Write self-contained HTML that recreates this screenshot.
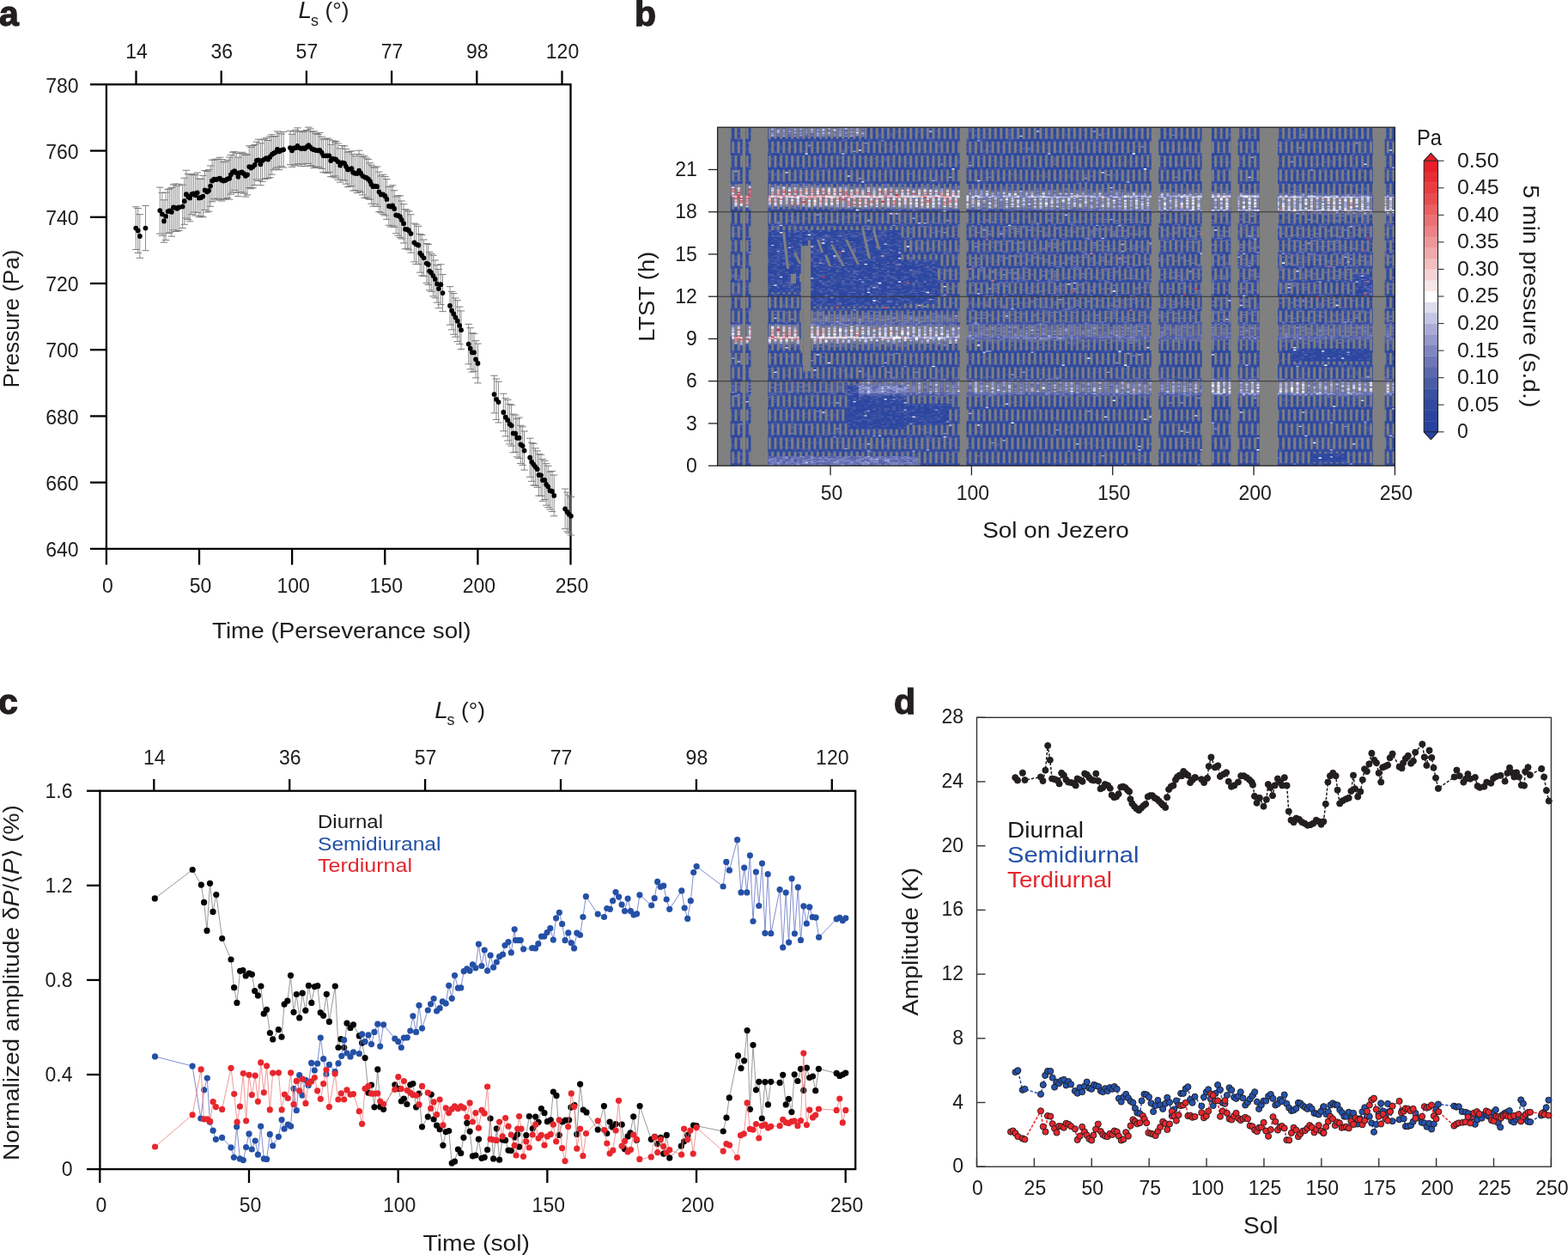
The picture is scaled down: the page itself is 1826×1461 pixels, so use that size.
<!DOCTYPE html>
<html><head><meta charset="utf-8"><title>Figure</title>
<style>html,body{margin:0;padding:0;background:#fff;} svg{display:block;}</style>
</head><body>
<svg width="1826" height="1461" viewBox="0 0 1826 1461" font-family="'Liberation Sans', Arial, sans-serif"><rect x="123.9" y="98.3" width="540.6" height="540.6" fill="none" stroke="#000" stroke-width="2.3"/>
<line x1="105.00" y1="638.90" x2="123.90" y2="638.90" stroke="#000" stroke-width="2.3" />
<text x="91.5" y="648.1" font-size="23" text-anchor="end" fill="#1c1c1c" >640</text>
<line x1="105.00" y1="561.67" x2="123.90" y2="561.67" stroke="#000" stroke-width="2.3" />
<text x="91.5" y="570.9" font-size="23" text-anchor="end" fill="#1c1c1c" >660</text>
<line x1="105.00" y1="484.44" x2="123.90" y2="484.44" stroke="#000" stroke-width="2.3" />
<text x="91.5" y="493.6" font-size="23" text-anchor="end" fill="#1c1c1c" >680</text>
<line x1="105.00" y1="407.21" x2="123.90" y2="407.21" stroke="#000" stroke-width="2.3" />
<text x="91.5" y="416.4" font-size="23" text-anchor="end" fill="#1c1c1c" >700</text>
<line x1="105.00" y1="329.99" x2="123.90" y2="329.99" stroke="#000" stroke-width="2.3" />
<text x="91.5" y="339.2" font-size="23" text-anchor="end" fill="#1c1c1c" >720</text>
<line x1="105.00" y1="252.76" x2="123.90" y2="252.76" stroke="#000" stroke-width="2.3" />
<text x="91.5" y="262.0" font-size="23" text-anchor="end" fill="#1c1c1c" >740</text>
<line x1="105.00" y1="175.53" x2="123.90" y2="175.53" stroke="#000" stroke-width="2.3" />
<text x="91.5" y="184.7" font-size="23" text-anchor="end" fill="#1c1c1c" >760</text>
<line x1="105.00" y1="98.30" x2="123.90" y2="98.30" stroke="#000" stroke-width="2.3" />
<text x="91.5" y="107.5" font-size="23" text-anchor="end" fill="#1c1c1c" >780</text>
<line x1="123.90" y1="638.90" x2="123.90" y2="657.50" stroke="#000" stroke-width="2.3" />
<text x="125.4" y="690.2" font-size="23" text-anchor="middle" fill="#1c1c1c" >0</text>
<line x1="232.02" y1="638.90" x2="232.02" y2="657.50" stroke="#000" stroke-width="2.3" />
<text x="233.5" y="690.2" font-size="23" text-anchor="middle" fill="#1c1c1c" >50</text>
<line x1="340.14" y1="638.90" x2="340.14" y2="657.50" stroke="#000" stroke-width="2.3" />
<text x="341.6" y="690.2" font-size="23" text-anchor="middle" fill="#1c1c1c" >100</text>
<line x1="448.26" y1="638.90" x2="448.26" y2="657.50" stroke="#000" stroke-width="2.3" />
<text x="449.8" y="690.2" font-size="23" text-anchor="middle" fill="#1c1c1c" >150</text>
<line x1="556.38" y1="638.90" x2="556.38" y2="657.50" stroke="#000" stroke-width="2.3" />
<text x="557.9" y="690.2" font-size="23" text-anchor="middle" fill="#1c1c1c" >200</text>
<line x1="664.50" y1="638.90" x2="664.50" y2="657.50" stroke="#000" stroke-width="2.3" />
<text x="666.0" y="690.2" font-size="23" text-anchor="middle" fill="#1c1c1c" >250</text>
<line x1="158.50" y1="82.30" x2="158.50" y2="98.30" stroke="#000" stroke-width="2.3" />
<text x="159.0" y="68.0" font-size="23" text-anchor="middle" fill="#1c1c1c" >14</text>
<line x1="257.70" y1="82.30" x2="257.70" y2="98.30" stroke="#000" stroke-width="2.3" />
<text x="258.2" y="68.0" font-size="23" text-anchor="middle" fill="#1c1c1c" >36</text>
<line x1="356.90" y1="82.30" x2="356.90" y2="98.30" stroke="#000" stroke-width="2.3" />
<text x="357.4" y="68.0" font-size="23" text-anchor="middle" fill="#1c1c1c" >57</text>
<line x1="456.10" y1="82.30" x2="456.10" y2="98.30" stroke="#000" stroke-width="2.3" />
<text x="456.6" y="68.0" font-size="23" text-anchor="middle" fill="#1c1c1c" >77</text>
<line x1="555.30" y1="82.30" x2="555.30" y2="98.30" stroke="#000" stroke-width="2.3" />
<text x="555.8" y="68.0" font-size="23" text-anchor="middle" fill="#1c1c1c" >98</text>
<line x1="654.50" y1="82.30" x2="654.50" y2="98.30" stroke="#000" stroke-width="2.3" />
<text x="655.0" y="68.0" font-size="23" text-anchor="middle" fill="#1c1c1c" >120</text>
<text x="247.0" y="742.9" font-size="26" text-anchor="start" fill="#1c1c1c" textLength="301.5" lengthAdjust="spacingAndGlyphs" >Time (Perseverance sol)</text>
<text x="21.6" y="451.5" font-size="26" text-anchor="start" fill="#1c1c1c" textLength="161.0" lengthAdjust="spacingAndGlyphs" transform="rotate(-90 21.6 451.5)" >Pressure (Pa)</text>
<text x="347.6" y="21.4" font-size="28" text-anchor="start" fill="#1c1c1c" font-style="italic" >L</text>
<text x="362.0" y="29.6" font-size="18" text-anchor="start" fill="#1c1c1c" >s</text>
<text x="378.5" y="21.4" font-size="26.5" text-anchor="start" fill="#1c1c1c" textLength="28.0" lengthAdjust="spacingAndGlyphs" >(°)</text>
<text x="-1.0" y="29.7" font-size="41" text-anchor="start" fill="#231f20" font-weight="bold" stroke="#231f20" stroke-width="1.3">a</text>
<path d="M158.23 240.73V290.44M160.65 242.48V294.39M162.78 249.65V300.32M169.47 239.41V291.76M186.28 218.12V272.05M188.84 224.47V274.24M190.98 232.78V282.17M193.11 224.02V279.53M195.53 220.47V271.69M197.67 219.85V270.88M199.80 218.45V275.13M201.94 214.99V267.77M204.08 214.06V269.56M206.21 216.39V269.22M208.35 214.37V268.40M212.62 215.18V265.59M214.75 207.26V261.26M216.89 198.28V254.01M219.03 202.41V255.58M221.16 203.02V257.81M223.30 202.59V249.70M225.43 203.84V247.03M227.57 203.31V250.97M229.71 201.00V247.59M231.84 208.06V252.78M233.98 208.50V251.48M236.40 204.39V252.74M238.53 198.53V244.36M241.10 199.59V247.00M243.23 197.65V246.09M245.08 192.92V240.29M247.08 186.13V234.84M249.35 186.11V231.44M251.78 185.09V233.03M253.91 185.53V231.17M256.05 183.23V232.04M258.18 185.55V233.99M260.32 188.78V232.19M262.74 187.94V231.60M265.02 186.26V230.44M267.15 183.14V232.13M268.86 180.57V226.16M271.00 177.11V223.92M273.13 176.73V221.45M275.27 178.20V224.25M277.41 183.15V228.42M279.54 178.71V223.75M281.68 177.24V223.79M283.81 178.67V225.21M285.95 180.49V229.09M288.08 179.78V226.95M290.22 169.73V218.49M292.36 171.38V219.68M294.49 169.53V218.69M296.63 168.42V215.52M298.76 165.07V208.90M300.90 162.12V210.44M303.46 166.76V215.76M305.46 162.69V211.29M308.02 162.06V208.50M310.16 160.45V207.83M312.29 163.49V207.63M314.43 158.65V206.78M316.56 156.63V203.11M318.70 159.05V197.84M320.83 158.53V196.08M322.97 152.90V194.88M325.11 154.94V197.68M327.67 156.04V193.73M330.09 153.33V195.02M337.92 152.29V191.79M340.06 156.29V194.33M342.19 153.04V191.89M344.33 151.28V192.79M346.46 148.86V190.95M348.60 153.31V190.76M350.74 152.71V193.36M352.87 153.74V191.19M355.01 152.42V193.65M357.14 151.51V190.57M359.28 148.12V190.26M361.42 149.98V192.67M363.55 153.45V193.48M365.69 152.78V195.57M367.82 155.42V194.35M370.39 156.50V194.13M372.38 154.61V195.16M374.66 159.05V196.42M376.65 162.14V200.45M379.21 161.55V201.04M381.35 160.98V201.60M383.49 162.26V200.33M385.19 168.27V205.71M387.76 163.82V205.88M389.89 165.80V204.76M391.23 164.44V207.01M393.70 167.08V209.30M396.16 172.85V212.16M398.62 169.53V209.31M401.09 169.98V210.10M402.94 173.33V214.14M405.03 177.16V217.70M407.25 176.65V216.98M409.47 175.86V216.54M411.19 179.52V221.99M413.41 181.72V221.76M415.87 179.41V224.57M418.09 175.16V222.17M420.18 179.78V223.71M422.28 182.66V226.99M424.50 181.73V230.38M426.71 184.05V229.79M428.81 185.56V231.47M430.90 189.74V232.22M432.50 192.15V237.21M434.60 194.09V240.20M436.82 195.26V237.80M439.28 193.97V240.31M441.50 200.08V246.52M443.59 204.99V247.78M446.06 203.18V249.59M448.52 205.54V250.92M450.37 208.55V255.30M452.83 217.61V262.26M455.05 217.09V264.01M457.14 215.76V262.88M459.24 221.74V264.29M461.21 229.01V271.80M463.67 227.66V274.38M465.77 227.98V276.53M467.61 233.94V277.96M470.08 237.60V282.92M471.93 243.70V289.89M474.39 244.81V289.26M476.24 246.15V290.88M478.46 249.76V294.17M482.40 260.06V304.82M484.62 261.18V307.39M487.33 263.36V307.68M489.17 272.35V317.17M491.27 273.55V320.89M493.49 279.01V321.59M496.80 283.58V329.62M498.80 284.45V331.55M500.10 293.41V337.79M502.30 295.59V339.41M504.50 297.33V344.87M506.70 302.93V346.87M508.90 308.60V352.20M510.80 313.51V358.69M513.30 307.77V354.63M515.50 319.57V362.63M524.00 333.67V378.13M526.10 339.33V383.87M528.30 341.54V389.26M530.50 347.00V392.20M532.70 349.77V397.63M535.20 357.16V400.64M537.00 361.92V406.48M545.67 377.34V423.90M547.72 381.72V429.78M549.77 387.73V433.01M552.03 388.45V432.29M554.09 396.69V439.87M556.45 400.10V445.89M575.52 437.22V480.84M577.96 441.00V488.56M580.55 444.21V491.97M586.30 458.22V501.80M588.74 463.67V507.86M591.33 465.43V512.99M593.49 470.41V516.92M595.64 471.61V519.17M597.65 482.14V526.75M600.24 483.12V526.35M602.11 487.63V531.90M604.55 486.03V533.50M606.28 495.31V539.45M608.58 496.80V541.42M610.59 502.03V547.10M617.20 510.22V555.30M619.21 515.28V560.30M621.37 516.52V564.81M623.52 521.84V565.24M625.68 524.91V567.34M627.55 528.67V577.10M629.99 529.30V577.32M631.86 534.56V583.27M634.30 536.33V581.51M636.17 539.71V588.18M638.33 542.37V590.70M640.48 549.22V593.05M642.93 548.41V595.58M645.23 553.01V600.76M658.16 569.08V615.72M660.60 573.14V618.86M662.47 576.31V620.57M664.92 578.45V623.03" stroke="#8e8e8e" stroke-width="1" fill="none"/>
<path d="M154.03 240.73h8.4M154.03 290.44h8.4M156.45 242.48h8.4M156.45 294.39h8.4M158.58 249.65h8.4M158.58 300.32h8.4M165.27 239.41h8.4M165.27 291.76h8.4M182.08 218.12h8.4M182.08 272.05h8.4M184.64 224.47h8.4M184.64 274.24h8.4M186.78 232.78h8.4M186.78 282.17h8.4M188.91 224.02h8.4M188.91 279.53h8.4M191.33 220.47h8.4M191.33 271.69h8.4M193.47 219.85h8.4M193.47 270.88h8.4M195.60 218.45h8.4M195.60 275.13h8.4M197.74 214.99h8.4M197.74 267.77h8.4M199.88 214.06h8.4M199.88 269.56h8.4M202.01 216.39h8.4M202.01 269.22h8.4M204.15 214.37h8.4M204.15 268.40h8.4M208.42 215.18h8.4M208.42 265.59h8.4M210.55 207.26h8.4M210.55 261.26h8.4M212.69 198.28h8.4M212.69 254.01h8.4M214.83 202.41h8.4M214.83 255.58h8.4M216.96 203.02h8.4M216.96 257.81h8.4M219.10 202.59h8.4M219.10 249.70h8.4M221.23 203.84h8.4M221.23 247.03h8.4M223.37 203.31h8.4M223.37 250.97h8.4M225.51 201.00h8.4M225.51 247.59h8.4M227.64 208.06h8.4M227.64 252.78h8.4M229.78 208.50h8.4M229.78 251.48h8.4M232.20 204.39h8.4M232.20 252.74h8.4M234.33 198.53h8.4M234.33 244.36h8.4M236.90 199.59h8.4M236.90 247.00h8.4M239.03 197.65h8.4M239.03 246.09h8.4M240.88 192.92h8.4M240.88 240.29h8.4M242.88 186.13h8.4M242.88 234.84h8.4M245.15 186.11h8.4M245.15 231.44h8.4M247.58 185.09h8.4M247.58 233.03h8.4M249.71 185.53h8.4M249.71 231.17h8.4M251.85 183.23h8.4M251.85 232.04h8.4M253.98 185.55h8.4M253.98 233.99h8.4M256.12 188.78h8.4M256.12 232.19h8.4M258.54 187.94h8.4M258.54 231.60h8.4M260.82 186.26h8.4M260.82 230.44h8.4M262.95 183.14h8.4M262.95 232.13h8.4M264.66 180.57h8.4M264.66 226.16h8.4M266.80 177.11h8.4M266.80 223.92h8.4M268.93 176.73h8.4M268.93 221.45h8.4M271.07 178.20h8.4M271.07 224.25h8.4M273.21 183.15h8.4M273.21 228.42h8.4M275.34 178.71h8.4M275.34 223.75h8.4M277.48 177.24h8.4M277.48 223.79h8.4M279.61 178.67h8.4M279.61 225.21h8.4M281.75 180.49h8.4M281.75 229.09h8.4M283.88 179.78h8.4M283.88 226.95h8.4M286.02 169.73h8.4M286.02 218.49h8.4M288.16 171.38h8.4M288.16 219.68h8.4M290.29 169.53h8.4M290.29 218.69h8.4M292.43 168.42h8.4M292.43 215.52h8.4M294.56 165.07h8.4M294.56 208.90h8.4M296.70 162.12h8.4M296.70 210.44h8.4M299.26 166.76h8.4M299.26 215.76h8.4M301.26 162.69h8.4M301.26 211.29h8.4M303.82 162.06h8.4M303.82 208.50h8.4M305.96 160.45h8.4M305.96 207.83h8.4M308.09 163.49h8.4M308.09 207.63h8.4M310.23 158.65h8.4M310.23 206.78h8.4M312.36 156.63h8.4M312.36 203.11h8.4M314.50 159.05h8.4M314.50 197.84h8.4M316.63 158.53h8.4M316.63 196.08h8.4M318.77 152.90h8.4M318.77 194.88h8.4M320.91 154.94h8.4M320.91 197.68h8.4M323.47 156.04h8.4M323.47 193.73h8.4M325.89 153.33h8.4M325.89 195.02h8.4M333.72 152.29h8.4M333.72 191.79h8.4M335.86 156.29h8.4M335.86 194.33h8.4M337.99 153.04h8.4M337.99 191.89h8.4M340.13 151.28h8.4M340.13 192.79h8.4M342.26 148.86h8.4M342.26 190.95h8.4M344.40 153.31h8.4M344.40 190.76h8.4M346.54 152.71h8.4M346.54 193.36h8.4M348.67 153.74h8.4M348.67 191.19h8.4M350.81 152.42h8.4M350.81 193.65h8.4M352.94 151.51h8.4M352.94 190.57h8.4M355.08 148.12h8.4M355.08 190.26h8.4M357.22 149.98h8.4M357.22 192.67h8.4M359.35 153.45h8.4M359.35 193.48h8.4M361.49 152.78h8.4M361.49 195.57h8.4M363.62 155.42h8.4M363.62 194.35h8.4M366.19 156.50h8.4M366.19 194.13h8.4M368.18 154.61h8.4M368.18 195.16h8.4M370.46 159.05h8.4M370.46 196.42h8.4M372.45 162.14h8.4M372.45 200.45h8.4M375.01 161.55h8.4M375.01 201.04h8.4M377.15 160.98h8.4M377.15 201.60h8.4M379.29 162.26h8.4M379.29 200.33h8.4M380.99 168.27h8.4M380.99 205.71h8.4M383.56 163.82h8.4M383.56 205.88h8.4M385.69 165.80h8.4M385.69 204.76h8.4M387.03 164.44h8.4M387.03 207.01h8.4M389.50 167.08h8.4M389.50 209.30h8.4M391.96 172.85h8.4M391.96 212.16h8.4M394.42 169.53h8.4M394.42 209.31h8.4M396.89 169.98h8.4M396.89 210.10h8.4M398.74 173.33h8.4M398.74 214.14h8.4M400.83 177.16h8.4M400.83 217.70h8.4M403.05 176.65h8.4M403.05 216.98h8.4M405.27 175.86h8.4M405.27 216.54h8.4M406.99 179.52h8.4M406.99 221.99h8.4M409.21 181.72h8.4M409.21 221.76h8.4M411.67 179.41h8.4M411.67 224.57h8.4M413.89 175.16h8.4M413.89 222.17h8.4M415.98 179.78h8.4M415.98 223.71h8.4M418.08 182.66h8.4M418.08 226.99h8.4M420.30 181.73h8.4M420.30 230.38h8.4M422.51 184.05h8.4M422.51 229.79h8.4M424.61 185.56h8.4M424.61 231.47h8.4M426.70 189.74h8.4M426.70 232.22h8.4M428.30 192.15h8.4M428.30 237.21h8.4M430.40 194.09h8.4M430.40 240.20h8.4M432.62 195.26h8.4M432.62 237.80h8.4M435.08 193.97h8.4M435.08 240.31h8.4M437.30 200.08h8.4M437.30 246.52h8.4M439.39 204.99h8.4M439.39 247.78h8.4M441.86 203.18h8.4M441.86 249.59h8.4M444.32 205.54h8.4M444.32 250.92h8.4M446.17 208.55h8.4M446.17 255.30h8.4M448.63 217.61h8.4M448.63 262.26h8.4M450.85 217.09h8.4M450.85 264.01h8.4M452.94 215.76h8.4M452.94 262.88h8.4M455.04 221.74h8.4M455.04 264.29h8.4M457.01 229.01h8.4M457.01 271.80h8.4M459.47 227.66h8.4M459.47 274.38h8.4M461.57 227.98h8.4M461.57 276.53h8.4M463.41 233.94h8.4M463.41 277.96h8.4M465.88 237.60h8.4M465.88 282.92h8.4M467.73 243.70h8.4M467.73 289.89h8.4M470.19 244.81h8.4M470.19 289.26h8.4M472.04 246.15h8.4M472.04 290.88h8.4M474.26 249.76h8.4M474.26 294.17h8.4M478.20 260.06h8.4M478.20 304.82h8.4M480.42 261.18h8.4M480.42 307.39h8.4M483.13 263.36h8.4M483.13 307.68h8.4M484.97 272.35h8.4M484.97 317.17h8.4M487.07 273.55h8.4M487.07 320.89h8.4M489.29 279.01h8.4M489.29 321.59h8.4M492.60 283.58h8.4M492.60 329.62h8.4M494.60 284.45h8.4M494.60 331.55h8.4M495.90 293.41h8.4M495.90 337.79h8.4M498.10 295.59h8.4M498.10 339.41h8.4M500.30 297.33h8.4M500.30 344.87h8.4M502.50 302.93h8.4M502.50 346.87h8.4M504.70 308.60h8.4M504.70 352.20h8.4M506.60 313.51h8.4M506.60 358.69h8.4M509.10 307.77h8.4M509.10 354.63h8.4M511.30 319.57h8.4M511.30 362.63h8.4M519.80 333.67h8.4M519.80 378.13h8.4M521.90 339.33h8.4M521.90 383.87h8.4M524.10 341.54h8.4M524.10 389.26h8.4M526.30 347.00h8.4M526.30 392.20h8.4M528.50 349.77h8.4M528.50 397.63h8.4M531.00 357.16h8.4M531.00 400.64h8.4M532.80 361.92h8.4M532.80 406.48h8.4M541.47 377.34h8.4M541.47 423.90h8.4M543.52 381.72h8.4M543.52 429.78h8.4M545.57 387.73h8.4M545.57 433.01h8.4M547.83 388.45h8.4M547.83 432.29h8.4M549.89 396.69h8.4M549.89 439.87h8.4M552.25 400.10h8.4M552.25 445.89h8.4M571.32 437.22h8.4M571.32 480.84h8.4M573.76 441.00h8.4M573.76 488.56h8.4M576.35 444.21h8.4M576.35 491.97h8.4M582.10 458.22h8.4M582.10 501.80h8.4M584.54 463.67h8.4M584.54 507.86h8.4M587.13 465.43h8.4M587.13 512.99h8.4M589.29 470.41h8.4M589.29 516.92h8.4M591.44 471.61h8.4M591.44 519.17h8.4M593.45 482.14h8.4M593.45 526.75h8.4M596.04 483.12h8.4M596.04 526.35h8.4M597.91 487.63h8.4M597.91 531.90h8.4M600.35 486.03h8.4M600.35 533.50h8.4M602.08 495.31h8.4M602.08 539.45h8.4M604.38 496.80h8.4M604.38 541.42h8.4M606.39 502.03h8.4M606.39 547.10h8.4M613.00 510.22h8.4M613.00 555.30h8.4M615.01 515.28h8.4M615.01 560.30h8.4M617.17 516.52h8.4M617.17 564.81h8.4M619.32 521.84h8.4M619.32 565.24h8.4M621.48 524.91h8.4M621.48 567.34h8.4M623.35 528.67h8.4M623.35 577.10h8.4M625.79 529.30h8.4M625.79 577.32h8.4M627.66 534.56h8.4M627.66 583.27h8.4M630.10 536.33h8.4M630.10 581.51h8.4M631.97 539.71h8.4M631.97 588.18h8.4M634.13 542.37h8.4M634.13 590.70h8.4M636.28 549.22h8.4M636.28 593.05h8.4M638.73 548.41h8.4M638.73 595.58h8.4M641.03 553.01h8.4M641.03 600.76h8.4M653.96 569.08h8.4M653.96 615.72h8.4M656.40 573.14h8.4M656.40 618.86h8.4M658.27 576.31h8.4M658.27 620.57h8.4M660.72 578.45h8.4M660.72 623.03h8.4" stroke="#7c7c7c" stroke-width="1" fill="none"/>
<g fill="#000"><circle cx="158.23" cy="265.59" r="2.9"/><circle cx="160.65" cy="268.44" r="2.9"/><circle cx="162.78" cy="274.99" r="2.9"/><circle cx="169.47" cy="265.59" r="2.9"/><circle cx="186.28" cy="245.08" r="2.9"/><circle cx="188.84" cy="249.35" r="2.9"/><circle cx="190.98" cy="257.47" r="2.9"/><circle cx="193.11" cy="251.78" r="2.9"/><circle cx="195.53" cy="246.08" r="2.9"/><circle cx="197.67" cy="245.37" r="2.9"/><circle cx="199.80" cy="246.79" r="2.9"/><circle cx="201.94" cy="241.38" r="2.9"/><circle cx="204.08" cy="241.81" r="2.9"/><circle cx="206.21" cy="242.81" r="2.9"/><circle cx="208.35" cy="241.38" r="2.9"/><circle cx="212.62" cy="240.38" r="2.9"/><circle cx="214.75" cy="234.26" r="2.9"/><circle cx="216.89" cy="226.15" r="2.9"/><circle cx="219.03" cy="228.99" r="2.9"/><circle cx="221.16" cy="230.42" r="2.9"/><circle cx="223.30" cy="226.15" r="2.9"/><circle cx="225.43" cy="225.43" r="2.9"/><circle cx="227.57" cy="227.14" r="2.9"/><circle cx="229.71" cy="224.29" r="2.9"/><circle cx="231.84" cy="230.42" r="2.9"/><circle cx="233.98" cy="229.99" r="2.9"/><circle cx="236.40" cy="228.57" r="2.9"/><circle cx="238.53" cy="221.45" r="2.9"/><circle cx="241.10" cy="223.30" r="2.9"/><circle cx="243.23" cy="221.87" r="2.9"/><circle cx="245.08" cy="216.61" r="2.9"/><circle cx="247.08" cy="210.48" r="2.9"/><circle cx="249.35" cy="208.77" r="2.9"/><circle cx="251.78" cy="209.06" r="2.9"/><circle cx="253.91" cy="208.35" r="2.9"/><circle cx="256.05" cy="207.63" r="2.9"/><circle cx="258.18" cy="209.77" r="2.9"/><circle cx="260.32" cy="210.48" r="2.9"/><circle cx="262.74" cy="209.77" r="2.9"/><circle cx="265.02" cy="208.35" r="2.9"/><circle cx="267.15" cy="207.63" r="2.9"/><circle cx="268.86" cy="203.36" r="2.9"/><circle cx="271.00" cy="200.52" r="2.9"/><circle cx="273.13" cy="199.09" r="2.9"/><circle cx="275.27" cy="201.23" r="2.9"/><circle cx="277.41" cy="205.78" r="2.9"/><circle cx="279.54" cy="201.23" r="2.9"/><circle cx="281.68" cy="200.52" r="2.9"/><circle cx="283.81" cy="201.94" r="2.9"/><circle cx="285.95" cy="204.79" r="2.9"/><circle cx="288.08" cy="203.36" r="2.9"/><circle cx="290.22" cy="194.11" r="2.9"/><circle cx="292.36" cy="195.53" r="2.9"/><circle cx="294.49" cy="194.11" r="2.9"/><circle cx="296.63" cy="191.97" r="2.9"/><circle cx="298.76" cy="186.99" r="2.9"/><circle cx="300.90" cy="186.28" r="2.9"/><circle cx="303.46" cy="191.26" r="2.9"/><circle cx="305.46" cy="186.99" r="2.9"/><circle cx="308.02" cy="185.28" r="2.9"/><circle cx="310.16" cy="184.14" r="2.9"/><circle cx="312.29" cy="185.56" r="2.9"/><circle cx="314.43" cy="182.72" r="2.9"/><circle cx="316.56" cy="179.87" r="2.9"/><circle cx="318.70" cy="178.45" r="2.9"/><circle cx="320.83" cy="177.31" r="2.9"/><circle cx="322.97" cy="173.89" r="2.9"/><circle cx="325.11" cy="176.31" r="2.9"/><circle cx="327.67" cy="174.89" r="2.9"/><circle cx="330.09" cy="174.17" r="2.9"/><circle cx="337.92" cy="172.04" r="2.9"/><circle cx="340.06" cy="175.31" r="2.9"/><circle cx="342.19" cy="172.46" r="2.9"/><circle cx="344.33" cy="172.04" r="2.9"/><circle cx="346.46" cy="169.90" r="2.9"/><circle cx="348.60" cy="172.04" r="2.9"/><circle cx="350.74" cy="173.03" r="2.9"/><circle cx="352.87" cy="172.46" r="2.9"/><circle cx="355.01" cy="173.03" r="2.9"/><circle cx="357.14" cy="171.04" r="2.9"/><circle cx="359.28" cy="169.19" r="2.9"/><circle cx="361.42" cy="171.33" r="2.9"/><circle cx="363.55" cy="173.46" r="2.9"/><circle cx="365.69" cy="174.17" r="2.9"/><circle cx="367.82" cy="174.89" r="2.9"/><circle cx="370.39" cy="175.31" r="2.9"/><circle cx="372.38" cy="174.89" r="2.9"/><circle cx="374.66" cy="177.73" r="2.9"/><circle cx="376.65" cy="181.29" r="2.9"/><circle cx="379.21" cy="181.29" r="2.9"/><circle cx="381.35" cy="181.29" r="2.9"/><circle cx="383.49" cy="181.29" r="2.9"/><circle cx="385.19" cy="186.99" r="2.9"/><circle cx="387.76" cy="184.85" r="2.9"/><circle cx="389.89" cy="185.28" r="2.9"/><circle cx="391.23" cy="185.73" r="2.9"/><circle cx="393.70" cy="188.19" r="2.9"/><circle cx="396.16" cy="192.50" r="2.9"/><circle cx="398.62" cy="189.42" r="2.9"/><circle cx="401.09" cy="190.04" r="2.9"/><circle cx="402.94" cy="193.74" r="2.9"/><circle cx="405.03" cy="197.43" r="2.9"/><circle cx="407.25" cy="196.82" r="2.9"/><circle cx="409.47" cy="196.20" r="2.9"/><circle cx="411.19" cy="200.76" r="2.9"/><circle cx="413.41" cy="201.74" r="2.9"/><circle cx="415.87" cy="201.99" r="2.9"/><circle cx="418.09" cy="198.66" r="2.9"/><circle cx="420.18" cy="201.74" r="2.9"/><circle cx="422.28" cy="204.82" r="2.9"/><circle cx="424.50" cy="206.06" r="2.9"/><circle cx="426.71" cy="206.92" r="2.9"/><circle cx="428.81" cy="208.52" r="2.9"/><circle cx="430.90" cy="210.98" r="2.9"/><circle cx="432.50" cy="214.68" r="2.9"/><circle cx="434.60" cy="217.14" r="2.9"/><circle cx="436.82" cy="216.53" r="2.9"/><circle cx="439.28" cy="217.14" r="2.9"/><circle cx="441.50" cy="223.30" r="2.9"/><circle cx="443.59" cy="226.38" r="2.9"/><circle cx="446.06" cy="226.38" r="2.9"/><circle cx="448.52" cy="228.23" r="2.9"/><circle cx="450.37" cy="231.93" r="2.9"/><circle cx="452.83" cy="239.93" r="2.9"/><circle cx="455.05" cy="240.55" r="2.9"/><circle cx="457.14" cy="239.32" r="2.9"/><circle cx="459.24" cy="243.01" r="2.9"/><circle cx="461.21" cy="250.41" r="2.9"/><circle cx="463.67" cy="251.02" r="2.9"/><circle cx="465.77" cy="252.25" r="2.9"/><circle cx="467.61" cy="255.95" r="2.9"/><circle cx="470.08" cy="260.26" r="2.9"/><circle cx="471.93" cy="266.79" r="2.9"/><circle cx="474.39" cy="267.04" r="2.9"/><circle cx="476.24" cy="268.52" r="2.9"/><circle cx="478.46" cy="271.97" r="2.9"/><circle cx="482.40" cy="282.44" r="2.9"/><circle cx="484.62" cy="284.29" r="2.9"/><circle cx="487.33" cy="285.52" r="2.9"/><circle cx="489.17" cy="294.76" r="2.9"/><circle cx="491.27" cy="297.22" r="2.9"/><circle cx="493.49" cy="300.30" r="2.9"/><circle cx="496.80" cy="306.60" r="2.9"/><circle cx="498.80" cy="308.00" r="2.9"/><circle cx="500.10" cy="315.60" r="2.9"/><circle cx="502.30" cy="317.50" r="2.9"/><circle cx="504.50" cy="321.10" r="2.9"/><circle cx="506.70" cy="324.90" r="2.9"/><circle cx="508.90" cy="330.40" r="2.9"/><circle cx="510.80" cy="336.10" r="2.9"/><circle cx="513.30" cy="331.20" r="2.9"/><circle cx="515.50" cy="341.10" r="2.9"/><circle cx="524.00" cy="355.90" r="2.9"/><circle cx="526.10" cy="361.60" r="2.9"/><circle cx="528.30" cy="365.40" r="2.9"/><circle cx="530.50" cy="369.60" r="2.9"/><circle cx="532.70" cy="373.70" r="2.9"/><circle cx="535.20" cy="378.90" r="2.9"/><circle cx="537.00" cy="384.20" r="2.9"/><circle cx="545.67" cy="400.62" r="2.9"/><circle cx="547.72" cy="405.75" r="2.9"/><circle cx="549.77" cy="410.37" r="2.9"/><circle cx="552.03" cy="410.37" r="2.9"/><circle cx="554.09" cy="418.28" r="2.9"/><circle cx="556.45" cy="423.00" r="2.9"/><circle cx="575.52" cy="459.03" r="2.9"/><circle cx="577.96" cy="464.78" r="2.9"/><circle cx="580.55" cy="468.09" r="2.9"/><circle cx="586.30" cy="480.01" r="2.9"/><circle cx="588.74" cy="485.76" r="2.9"/><circle cx="591.33" cy="489.21" r="2.9"/><circle cx="593.49" cy="493.67" r="2.9"/><circle cx="595.64" cy="495.39" r="2.9"/><circle cx="597.65" cy="504.45" r="2.9"/><circle cx="600.24" cy="504.73" r="2.9"/><circle cx="602.11" cy="509.76" r="2.9"/><circle cx="604.55" cy="509.76" r="2.9"/><circle cx="606.28" cy="517.38" r="2.9"/><circle cx="608.58" cy="519.11" r="2.9"/><circle cx="610.59" cy="524.57" r="2.9"/><circle cx="617.20" cy="532.76" r="2.9"/><circle cx="619.21" cy="537.79" r="2.9"/><circle cx="621.37" cy="540.66" r="2.9"/><circle cx="623.52" cy="543.54" r="2.9"/><circle cx="625.68" cy="546.13" r="2.9"/><circle cx="627.55" cy="552.88" r="2.9"/><circle cx="629.99" cy="553.31" r="2.9"/><circle cx="631.86" cy="558.92" r="2.9"/><circle cx="634.30" cy="558.92" r="2.9"/><circle cx="636.17" cy="563.95" r="2.9"/><circle cx="638.33" cy="566.53" r="2.9"/><circle cx="640.48" cy="571.13" r="2.9"/><circle cx="642.93" cy="571.99" r="2.9"/><circle cx="645.23" cy="576.88" r="2.9"/><circle cx="658.16" cy="592.40" r="2.9"/><circle cx="660.60" cy="596.00" r="2.9"/><circle cx="662.47" cy="598.44" r="2.9"/><circle cx="664.92" cy="600.74" r="2.9"/></g>
<defs><clipPath id="hc"><rect x="835.6" y="148.2" width="788.8" height="394.0"/></clipPath>
<pattern id="slit" patternUnits="userSpaceOnUse" x="835.60" y="542.20" width="6.5733" height="32.8333"><rect x="3.407" y="16.417" width="3.050" height="13.626" fill="#808080"/><rect x="0.12" y="0" width="3.050" height="13.626" fill="#808080"/></pattern></defs>
<g clip-path="url(#hc)">
<rect x="835.6" y="148.2" width="788.8" height="394.0" fill="#2c47a2"/>
<rect x="835.6" y="108.19999999999999" width="788.8" height="474.0" fill="url(#slit)"/>
<rect x="894.8" y="268.0" width="46.0" height="72.2" fill="#2c47a2"/>
<rect x="944.1" y="268.0" width="105.2" height="88.7" fill="#2c47a2"/>
<rect x="1049.2" y="302.5" width="42.7" height="50.9" fill="#2c47a2"/>
<rect x="986.8" y="448.6" width="69.0" height="50.9" fill="#2c47a2"/>
<rect x="1055.8" y="470.0" width="49.3" height="24.6" fill="#2c47a2"/>
<rect x="894.8" y="531.5" width="170.9" height="10.7" fill="#2c47a2"/>
<rect x="1525.8" y="527.9" width="42.7" height="10.0" fill="#2c47a2"/>
<rect x="1578.4" y="318.9" width="19.7" height="23.0" fill="#2c47a2"/>
<rect x="1502.8" y="405.9" width="92.0" height="14.8" fill="#2c47a2"/>
<g transform="translate(835.6 542.2) scale(3.28667 -1.36806)">
<path fill="#3a50a0" d="M5 15h1v1h-1zM5 22h1v1h-1zM5 40h1v1h-1zM5 45h1v1h-1zM5 47h1v1h-1zM5 60h1v1h-1zM5 66h1v1h-1zM5 69h1v1h-1zM5 95h1v1h-1zM5 165h1v1h-1zM5 167h1v1h-1zM5 180h1v1h-1zM5 185h1v1h-1zM5 239h1v2h-1zM5 257h1v1h-1zM5 259h1v1h-1zM5 277h1v1h-1zM5 282h1v1h-1zM5 287h1v1h-1zM6 0h1v1h-1zM6 4h1v1h-1zM6 32h1v1h-1zM6 35h1v1h-1zM6 49h1v1h-1zM6 52h1v1h-1zM6 77h1v2h-1zM6 81h1v1h-1zM6 84h1v1h-1zM6 97h1v1h-1zM6 99h1v1h-1zM6 102h1v1h-1zM6 125h1v2h-1zM6 128h1v1h-1zM6 131h1v2h-1zM6 196h1v1h-1zM6 198h1v3h-1zM6 216h1v1h-1zM6 265h1v3h-1zM6 269h1v1h-1zM6 273h1v1h-1zM7 16h1v1h-1zM7 19h1v2h-1zM7 23h1v1h-1zM7 38h1v1h-1zM7 44h1v1h-1zM7 47h1v2h-1zM7 63h1v1h-1zM7 68h1v2h-1zM7 87h1v1h-1zM7 96h1v2h-1zM7 132h1v1h-1zM7 135h1v1h-1zM7 166h1v1h-1zM7 168h1v1h-1zM7 183h1v1h-1zM7 191h1v1h-1zM7 207h1v1h-1zM7 213h1v1h-1zM7 240h1v1h-1zM7 257h1v1h-1zM7 264h1v1h-1zM7 279h1v1h-1zM7 283h1v1h-1zM7 285h1v1h-1zM7 287h1v1h-1zM8 5h1v1h-1zM8 24h1v1h-1zM8 29h1v1h-1zM8 57h1v1h-1zM8 77h1v1h-1zM8 80h1v1h-1zM8 82h1v2h-1zM8 97h1v2h-1zM8 122h1v1h-1zM8 131h1v2h-1zM8 151h1v2h-1zM8 154h1v1h-1zM8 178h1v1h-1zM8 195h1v1h-1zM8 198h1v2h-1zM8 246h1v1h-1zM8 251h1v1h-1zM8 268h1v2h-1zM8 274h1v1h-1zM10 4h1v1h-1zM10 7h1v1h-1zM10 11h1v2h-1zM10 27h1v1h-1zM10 29h1v1h-1zM10 31h1v1h-1zM10 33h1v1h-1zM10 48h1v1h-1zM10 58h1v1h-1zM10 73h1v1h-1zM10 75h1v1h-1zM10 82h1v2h-1zM10 124h1v1h-1zM10 144h1v1h-1zM10 147h1v1h-1zM10 153h1v1h-1zM10 155h1v3h-1zM10 168h1v2h-1zM10 172h1v1h-1zM10 177h1v1h-1zM10 196h1v1h-1zM10 202h1v2h-1zM10 205h1v1h-1zM10 216h1v2h-1zM10 240h1v1h-1zM10 245h1v1h-1zM10 252h1v1h-1zM10 265h1v1h-1zM10 267h1v1h-1zM10 270h1v1h-1zM11 0h1v1h-1zM11 16h1v1h-1zM11 39h1v1h-1zM11 144h1v1h-1zM11 159h1v1h-1zM11 205h1v1h-1zM11 208h1v1h-1zM11 216h1v1h-1zM11 255h1v1h-1zM11 258h1v1h-1zM18 9h1v1h-1zM18 11h1v1h-1zM18 13h1v1h-1zM18 26h1v1h-1zM18 28h1v1h-1zM18 61h1v1h-1zM18 73h1v1h-1zM18 76h1v1h-1zM18 98h1v1h-1zM18 102h1v1h-1zM18 121h1v1h-1zM18 126h1v1h-1zM18 129h1v1h-1zM18 131h1v2h-1zM18 157h1v1h-1zM18 170h1v1h-1zM18 181h1v1h-1zM18 184h1v1h-1zM18 203h1v1h-1zM18 205h1v1h-1zM18 217h1v1h-1zM18 245h1v3h-1zM18 251h1v1h-1zM18 266h1v2h-1zM18 274h1v1h-1zM19 13h1v1h-1zM19 18h1v2h-1zM19 38h1v1h-1zM19 42h1v2h-1zM19 47h1v1h-1zM19 60h1v1h-1zM19 62h1v1h-1zM19 72h1v1h-1zM19 85h1v1h-1zM19 121h1v1h-1zM19 137h1v1h-1zM19 139h1v1h-1zM19 151h1v1h-1zM19 154h1v2h-1zM19 169h1v1h-1zM19 181h1v1h-1zM19 191h1v1h-1zM19 198h1v1h-1zM19 207h1v2h-1zM19 241h1v1h-1zM19 255h1v1h-1zM19 257h1v1h-1zM19 264h1v1h-1zM20 34h1v1h-1zM20 75h1v1h-1zM20 82h1v1h-1zM20 84h1v1h-1zM20 97h1v1h-1zM20 102h1v1h-1zM20 126h1v1h-1zM20 129h1v1h-1zM20 146h1v1h-1zM20 157h1v2h-1zM20 160h1v2h-1zM20 181h1v1h-1zM20 183h1v2h-1zM20 190h1v1h-1zM20 193h1v1h-1zM20 198h1v1h-1zM20 216h1v1h-1zM20 219h1v1h-1zM20 242h1v1h-1zM20 244h1v1h-1zM20 272h1v1h-1zM21 13h1v1h-1zM21 22h1v2h-1zM21 64h1v1h-1zM21 66h1v2h-1zM21 70h1v1h-1zM21 86h1v1h-1zM21 139h1v1h-1zM21 145h1v1h-1zM21 155h1v2h-1zM21 158h1v1h-1zM21 160h1v1h-1zM21 163h1v1h-1zM21 175h1v1h-1zM21 177h1v1h-1zM21 185h1v1h-1zM21 188h1v1h-1zM21 190h1v2h-1zM21 197h1v1h-1zM21 213h1v1h-1zM21 216h1v1h-1zM21 240h1v1h-1zM21 255h1v1h-1zM21 257h1v1h-1zM21 259h1v1h-1zM22 8h1v1h-1zM22 13h1v1h-1zM22 26h1v1h-1zM22 29h1v1h-1zM22 33h1v1h-1zM22 36h1v1h-1zM22 48h1v1h-1zM22 50h1v1h-1zM22 53h1v1h-1zM22 58h1v1h-1zM22 60h1v1h-1zM22 82h1v1h-1zM22 122h1v1h-1zM22 125h1v1h-1zM22 128h1v1h-1zM22 154h1v1h-1zM22 156h1v1h-1zM22 166h1v1h-1zM22 172h1v1h-1zM22 176h1v2h-1zM22 184h1v1h-1zM22 189h1v2h-1zM22 194h1v1h-1zM22 216h1v1h-1zM22 219h1v1h-1zM22 243h1v1h-1zM22 249h1v1h-1zM22 264h1v1h-1zM22 270h1v1h-1zM22 273h1v1h-1zM23 36h1v2h-1zM23 39h1v2h-1zM23 42h1v1h-1zM23 46h1v1h-1zM23 62h1v1h-1zM23 64h1v2h-1zM23 67h1v2h-1zM23 70h1v1h-1zM23 72h1v1h-1zM23 84h1v1h-1zM23 95h1v1h-1zM23 120h1v1h-1zM23 133h1v1h-1zM23 151h1v1h-1zM23 170h1v1h-1zM23 179h1v1h-1zM23 181h1v1h-1zM23 186h1v1h-1zM23 190h1v2h-1zM23 193h1v2h-1zM23 204h1v2h-1zM23 215h1v1h-1zM23 217h1v1h-1zM23 261h1v1h-1zM23 265h1v1h-1zM23 276h1v2h-1zM24 9h1v1h-1zM24 33h1v1h-1zM24 52h1v1h-1zM24 75h1v1h-1zM24 79h1v1h-1zM24 82h1v1h-1zM24 97h1v1h-1zM24 101h1v1h-1zM24 124h1v1h-1zM24 131h1v1h-1zM24 151h1v1h-1zM24 162h1v1h-1zM24 175h1v1h-1zM24 184h1v1h-1zM24 191h1v1h-1zM24 197h1v1h-1zM24 202h1v2h-1zM24 219h1v1h-1zM24 244h1v1h-1zM24 247h1v1h-1zM24 250h1v1h-1zM24 264h1v1h-1zM24 267h1v2h-1zM24 272h1v1h-1zM25 14h1v1h-1zM25 19h1v1h-1zM25 25h1v1h-1zM25 38h1v1h-1zM25 43h1v1h-1zM25 47h1v1h-1zM25 64h1v1h-1zM25 66h1v1h-1zM25 68h1v1h-1zM25 73h1v1h-1zM25 86h1v1h-1zM25 133h1v2h-1zM25 136h1v2h-1zM25 143h1v1h-1zM25 156h1v1h-1zM25 160h1v1h-1zM25 177h1v1h-1zM25 180h1v1h-1zM25 188h1v1h-1zM25 190h1v1h-1zM25 209h1v1h-1zM25 211h1v1h-1zM25 260h1v1h-1zM25 277h1v1h-1zM26 8h1v1h-1zM26 11h1v1h-1zM26 28h1v1h-1zM26 55h1v1h-1zM26 57h1v2h-1zM26 77h1v1h-1zM26 84h1v2h-1zM26 97h1v1h-1zM26 100h1v1h-1zM26 120h1v1h-1zM26 122h1v1h-1zM26 125h1v2h-1zM26 128h1v1h-1zM26 144h1v1h-1zM26 157h1v1h-1zM26 161h1v1h-1zM26 177h1v1h-1zM26 183h1v1h-1zM26 187h1v1h-1zM26 189h1v1h-1zM26 192h1v1h-1zM26 198h1v1h-1zM26 204h1v1h-1zM26 246h1v1h-1zM26 264h1v1h-1zM26 270h1v1h-1zM26 273h1v1h-1zM26 277h1v1h-1zM27 12h1v1h-1zM27 14h1v1h-1zM27 37h1v1h-1zM27 39h1v2h-1zM27 44h1v1h-1zM27 65h1v1h-1zM27 68h1v1h-1zM27 72h1v1h-1zM27 84h1v1h-1zM27 87h1v1h-1zM27 96h1v1h-1zM27 121h1v1h-1zM27 135h1v1h-1zM27 150h1v1h-1zM27 162h1v1h-1zM27 166h1v2h-1zM27 181h1v1h-1zM27 186h1v1h-1zM27 190h1v1h-1zM27 194h1v2h-1zM27 205h1v1h-1zM27 210h1v1h-1zM27 252h1v1h-1zM27 263h1v1h-1zM27 277h1v1h-1zM27 279h1v1h-1zM28 10h1v1h-1zM28 28h1v1h-1zM28 33h1v1h-1zM28 73h1v1h-1zM28 76h1v1h-1zM28 79h1v1h-1zM28 127h1v1h-1zM28 145h1v2h-1zM28 153h1v1h-1zM28 158h1v1h-1zM28 164h1v1h-1zM28 169h1v1h-1zM28 177h1v1h-1zM28 182h1v1h-1zM28 189h1v1h-1zM28 217h1v1h-1zM28 242h1v1h-1zM28 247h1v1h-1zM28 249h1v4h-1zM28 268h1v2h-1zM28 273h1v1h-1zM28 275h1v1h-1zM29 12h1v1h-1zM29 36h1v1h-1zM29 38h1v1h-1zM29 45h1v1h-1zM29 62h1v1h-1zM29 71h1v1h-1zM29 86h1v1h-1zM29 95h1v1h-1zM29 189h1v2h-1zM29 212h1v1h-1zM29 238h1v1h-1zM29 252h1v1h-1zM30 11h1v2h-1zM30 33h1v1h-1zM30 54h1v1h-1zM30 57h1v1h-1zM30 60h1v1h-1zM30 78h1v1h-1zM30 192h1v1h-1zM30 200h1v1h-1zM30 203h1v1h-1zM30 217h1v1h-1zM30 266h1v1h-1zM30 269h1v1h-1zM30 271h1v2h-1zM30 274h1v1h-1zM30 277h1v1h-1zM31 12h1v2h-1zM31 16h1v1h-1zM31 22h1v1h-1zM31 36h1v1h-1zM31 40h1v1h-1zM31 43h1v1h-1zM31 60h1v1h-1zM31 65h1v2h-1zM31 70h1v2h-1zM31 73h1v1h-1zM31 187h1v2h-1zM31 191h1v1h-1zM31 209h1v1h-1zM31 252h1v1h-1zM31 262h1v1h-1zM32 28h1v1h-1zM32 52h1v2h-1zM32 57h1v1h-1zM32 60h1v1h-1zM32 72h1v1h-1zM32 78h1v2h-1zM32 249h1v1h-1zM32 251h1v1h-1zM33 39h1v1h-1zM33 65h1v1h-1zM33 68h1v1h-1zM33 70h1v1h-1zM33 88h1v1h-1zM33 95h1v1h-1zM33 139h1v2h-1zM33 147h1v1h-1zM33 171h1v1h-1zM33 180h1v1h-1zM33 187h1v1h-1zM33 204h1v1h-1zM33 240h1v1h-1zM33 252h1v1h-1zM33 260h1v1h-1zM33 262h1v1h-1zM34 11h1v2h-1zM34 25h1v1h-1zM34 28h1v1h-1zM34 36h1v2h-1zM34 48h1v1h-1zM34 57h1v1h-1zM34 98h1v2h-1zM34 131h1v1h-1zM34 133h1v1h-1zM34 149h1v1h-1zM34 156h1v1h-1zM34 158h1v2h-1zM34 173h1v1h-1zM34 181h1v1h-1zM34 187h1v1h-1zM34 203h1v2h-1zM34 243h1v1h-1zM34 250h1v1h-1zM34 271h1v1h-1zM35 18h1v1h-1zM35 21h1v1h-1zM35 25h1v1h-1zM35 45h1v1h-1zM35 49h1v1h-1zM35 63h1v1h-1zM35 67h1v1h-1zM35 69h1v1h-1zM35 72h1v1h-1zM35 93h1v1h-1zM35 97h1v1h-1zM35 133h1v1h-1zM35 144h1v1h-1zM35 148h1v2h-1zM35 160h1v1h-1zM35 169h1v1h-1zM35 187h1v1h-1zM35 193h1v1h-1zM35 197h1v1h-1zM35 204h1v1h-1zM35 207h1v1h-1zM35 211h1v1h-1zM35 252h1v1h-1zM36 10h1v1h-1zM36 32h1v1h-1zM36 35h1v1h-1zM36 51h1v1h-1zM36 56h1v2h-1zM36 59h1v1h-1zM36 80h1v1h-1zM36 85h1v1h-1zM36 131h1v1h-1zM36 139h1v1h-1zM36 143h1v1h-1zM36 150h1v1h-1zM36 162h1v1h-1zM36 169h1v1h-1zM36 183h1v1h-1zM36 192h1v1h-1zM36 203h1v1h-1zM36 216h1v1h-1zM36 244h1v1h-1zM36 248h1v1h-1zM36 250h1v1h-1zM36 269h1v1h-1zM37 13h1v2h-1zM37 39h1v2h-1zM37 64h1v3h-1zM37 68h1v1h-1zM37 73h1v1h-1zM37 87h1v1h-1zM37 90h1v1h-1zM37 94h1v1h-1zM37 137h1v1h-1zM37 139h1v1h-1zM37 143h1v1h-1zM37 147h1v2h-1zM37 178h1v2h-1zM37 185h1v1h-1zM37 188h1v1h-1zM37 190h1v1h-1zM37 209h1v1h-1zM37 258h1v3h-1zM37 263h1v1h-1zM37 277h1v2h-1zM38 25h1v1h-1zM38 27h1v1h-1zM38 35h1v1h-1zM38 51h1v1h-1zM38 56h1v3h-1zM38 78h1v2h-1zM38 82h1v1h-1zM38 98h1v1h-1zM38 100h1v1h-1zM38 132h1v1h-1zM38 136h1v1h-1zM38 155h1v1h-1zM38 161h1v2h-1zM38 165h1v1h-1zM38 170h1v1h-1zM38 172h1v1h-1zM38 175h1v1h-1zM38 193h1v1h-1zM38 200h1v1h-1zM38 250h1v1h-1zM38 264h1v1h-1zM38 266h1v1h-1zM38 268h1v1h-1zM38 274h1v1h-1zM39 16h1v1h-1zM39 18h1v1h-1zM39 21h1v1h-1zM39 40h1v1h-1zM39 46h1v1h-1zM39 48h1v1h-1zM39 67h1v1h-1zM39 70h1v1h-1zM39 85h1v1h-1zM39 95h1v3h-1zM39 133h1v1h-1zM39 136h1v1h-1zM39 144h1v2h-1zM39 152h1v2h-1zM39 164h1v1h-1zM39 174h1v1h-1zM39 183h1v2h-1zM39 186h1v2h-1zM39 190h1v1h-1zM39 193h1v1h-1zM39 213h1v1h-1zM39 256h1v1h-1zM39 258h1v1h-1zM39 265h1v1h-1zM40 30h1v1h-1zM40 32h1v1h-1zM40 54h1v1h-1zM40 57h1v1h-1zM40 84h1v1h-1zM40 98h1v1h-1zM40 129h1v1h-1zM40 146h1v1h-1zM40 159h1v1h-1zM40 162h1v3h-1zM40 180h1v1h-1zM40 182h1v1h-1zM40 191h1v1h-1zM40 196h1v1h-1zM40 200h1v1h-1zM40 202h1v1h-1zM40 216h1v1h-1zM40 218h1v1h-1zM40 244h1v1h-1zM40 246h1v1h-1zM40 250h1v1h-1zM40 266h1v1h-1zM41 14h1v1h-1zM41 22h1v1h-1zM41 25h1v1h-1zM41 39h1v3h-1zM41 44h1v1h-1zM41 87h1v1h-1zM41 89h1v1h-1zM41 134h1v1h-1zM41 139h1v1h-1zM41 145h1v1h-1zM41 148h1v1h-1zM41 158h1v2h-1zM41 173h1v1h-1zM41 181h1v1h-1zM41 183h1v1h-1zM41 212h1v1h-1zM41 214h1v1h-1zM41 241h1v1h-1zM41 259h1v3h-1zM41 277h1v1h-1zM41 279h1v1h-1zM42 12h1v1h-1zM42 57h1v1h-1zM42 73h1v1h-1zM42 77h1v1h-1zM42 79h1v1h-1zM42 81h1v1h-1zM42 99h1v1h-1zM42 129h1v2h-1zM42 140h1v1h-1zM42 148h1v1h-1zM42 156h1v3h-1zM42 160h1v1h-1zM42 164h1v1h-1zM42 167h1v1h-1zM42 177h1v1h-1zM42 180h1v1h-1zM42 182h1v1h-1zM42 192h1v2h-1zM42 197h1v2h-1zM42 247h1v1h-1zM42 264h1v1h-1zM42 266h1v1h-1zM43 14h1v1h-1zM43 19h1v1h-1zM43 36h1v1h-1zM43 44h1v2h-1zM43 62h1v1h-1zM43 68h1v1h-1zM43 84h1v1h-1zM43 135h1v1h-1zM43 140h1v1h-1zM43 156h1v1h-1zM43 161h1v1h-1zM43 171h1v1h-1zM43 183h1v1h-1zM43 188h1v1h-1zM43 199h1v1h-1zM43 238h1v4h-1zM43 257h1v2h-1zM44 27h1v1h-1zM44 49h1v2h-1zM44 78h1v1h-1zM44 83h1v1h-1zM44 130h1v1h-1zM44 133h1v1h-1zM44 148h1v1h-1zM44 156h1v1h-1zM44 174h1v2h-1zM44 186h1v1h-1zM44 188h1v2h-1zM44 194h1v2h-1zM44 197h1v1h-1zM44 199h1v1h-1zM44 218h1v1h-1zM44 251h1v1h-1zM44 264h1v1h-1zM44 277h1v1h-1zM45 38h1v1h-1zM45 46h1v1h-1zM45 60h1v1h-1zM45 65h1v1h-1zM45 67h1v1h-1zM45 70h1v1h-1zM45 91h1v1h-1zM45 136h1v1h-1zM45 150h1v2h-1zM45 155h1v1h-1zM45 158h1v1h-1zM45 164h1v1h-1zM45 168h1v1h-1zM45 183h1v1h-1zM45 190h1v1h-1zM45 192h1v1h-1zM45 208h1v1h-1zM45 256h1v1h-1zM45 258h1v1h-1zM45 262h1v2h-1zM45 279h1v1h-1zM46 11h1v1h-1zM46 28h1v3h-1zM46 34h1v1h-1zM46 40h1v1h-1zM46 44h1v2h-1zM46 53h1v1h-1zM46 58h1v1h-1zM46 79h1v1h-1zM46 83h1v1h-1zM46 101h1v1h-1zM46 132h1v1h-1zM46 139h1v1h-1zM46 148h1v1h-1zM46 159h1v3h-1zM46 163h1v1h-1zM46 166h1v1h-1zM46 170h1v1h-1zM46 173h1v1h-1zM46 177h1v1h-1zM46 186h1v2h-1zM46 202h1v1h-1zM46 249h1v2h-1zM46 252h1v1h-1zM46 268h1v1h-1zM46 275h1v1h-1zM47 20h1v1h-1zM47 25h1v1h-1zM47 36h1v1h-1zM47 39h1v1h-1zM47 41h1v1h-1zM47 47h1v1h-1zM47 49h1v1h-1zM47 59h1v1h-1zM47 63h1v1h-1zM47 67h1v1h-1zM47 93h1v1h-1zM47 133h1v1h-1zM47 135h1v2h-1zM47 141h1v1h-1zM47 143h1v2h-1zM47 150h1v1h-1zM47 157h1v2h-1zM47 162h1v2h-1zM47 175h1v1h-1zM47 189h1v1h-1zM47 205h1v1h-1zM47 212h1v1h-1zM47 215h1v1h-1zM47 239h1v2h-1zM47 252h1v1h-1zM47 257h1v2h-1zM47 276h1v1h-1zM48 8h1v1h-1zM48 35h1v1h-1zM48 40h1v1h-1zM48 44h1v1h-1zM48 55h1v1h-1zM48 63h1v3h-1zM48 67h1v1h-1zM48 81h1v1h-1zM48 83h1v1h-1zM48 143h1v1h-1zM48 157h1v1h-1zM48 161h1v1h-1zM48 174h1v1h-1zM48 179h1v1h-1zM48 185h1v1h-1zM48 190h1v1h-1zM48 198h1v1h-1zM48 205h1v1h-1zM48 218h1v1h-1zM48 249h1v2h-1zM48 266h1v1h-1zM48 268h1v1h-1zM48 273h1v1h-1zM49 16h1v1h-1zM49 21h1v1h-1zM49 24h1v1h-1zM49 37h1v1h-1zM49 45h1v1h-1zM49 55h1v2h-1zM49 65h1v2h-1zM49 85h1v1h-1zM49 89h1v1h-1zM49 95h1v1h-1zM49 133h1v2h-1zM49 149h1v2h-1zM49 168h1v1h-1zM49 174h1v1h-1zM49 177h1v1h-1zM49 181h1v2h-1zM49 197h1v1h-1zM49 204h1v2h-1zM49 240h1v1h-1zM49 256h1v1h-1zM49 259h1v1h-1zM49 265h1v1h-1zM50 25h1v1h-1zM50 27h1v1h-1zM50 29h1v1h-1zM50 42h1v1h-1zM50 44h1v1h-1zM50 49h1v1h-1zM50 73h1v1h-1zM50 75h1v1h-1zM50 77h1v1h-1zM50 79h1v1h-1zM50 128h1v1h-1zM50 137h1v1h-1zM50 139h1v3h-1zM50 148h1v1h-1zM50 152h1v2h-1zM50 164h1v1h-1zM50 171h1v1h-1zM50 185h1v1h-1zM50 188h1v1h-1zM50 193h1v2h-1zM50 196h1v1h-1zM50 201h1v1h-1zM50 205h1v1h-1zM50 240h1v2h-1zM50 243h1v1h-1zM50 245h1v1h-1zM50 248h1v1h-1zM50 264h1v2h-1zM50 267h1v1h-1zM50 271h1v2h-1zM51 12h1v2h-1zM51 16h1v1h-1zM51 23h1v1h-1zM51 34h1v1h-1zM51 40h1v1h-1zM51 44h1v1h-1zM51 52h1v1h-1zM51 54h1v1h-1zM51 57h1v1h-1zM51 73h1v1h-1zM51 85h1v1h-1zM51 88h1v1h-1zM51 93h1v1h-1zM51 97h1v1h-1zM51 134h1v1h-1zM51 147h1v1h-1zM51 158h1v1h-1zM51 167h1v1h-1zM51 176h1v1h-1zM51 179h1v1h-1zM51 182h1v1h-1zM51 186h1v2h-1zM51 190h1v2h-1zM51 193h1v1h-1zM51 195h1v1h-1zM51 197h1v1h-1zM51 204h1v1h-1zM51 215h1v1h-1zM51 217h1v1h-1zM51 252h1v1h-1zM51 254h1v1h-1zM51 262h1v1h-1zM51 276h1v1h-1zM52 12h1v2h-1zM52 25h1v2h-1zM52 31h1v1h-1zM52 43h1v1h-1zM52 58h1v1h-1zM52 74h1v1h-1zM52 80h1v1h-1zM52 130h1v1h-1zM52 137h1v1h-1zM52 155h1v1h-1zM52 162h1v1h-1zM52 165h1v2h-1zM52 168h1v1h-1zM52 173h1v1h-1zM52 178h1v1h-1zM52 180h1v1h-1zM52 190h1v1h-1zM52 193h1v1h-1zM52 198h1v1h-1zM52 200h1v1h-1zM52 217h1v1h-1zM52 251h1v1h-1zM52 268h1v1h-1zM52 271h1v1h-1zM53 15h1v2h-1zM53 19h1v1h-1zM53 31h1v1h-1zM53 36h1v1h-1zM53 44h1v1h-1zM53 59h1v1h-1zM53 88h1v1h-1zM53 94h1v1h-1zM53 139h1v1h-1zM53 154h1v1h-1zM53 160h1v1h-1zM53 169h1v1h-1zM53 174h1v2h-1zM53 211h1v1h-1zM53 260h1v1h-1zM53 276h1v1h-1zM53 279h1v1h-1zM53 281h1v1h-1zM54 26h1v1h-1zM54 29h1v3h-1zM54 38h1v3h-1zM54 42h1v2h-1zM54 56h1v1h-1zM54 58h1v1h-1zM54 96h1v1h-1zM54 100h1v1h-1zM54 102h1v1h-1zM54 133h1v1h-1zM54 141h1v1h-1zM54 144h1v1h-1zM54 164h1v1h-1zM54 179h1v3h-1zM54 185h1v1h-1zM54 187h1v1h-1zM54 204h1v1h-1zM54 241h1v3h-1zM54 249h1v1h-1zM54 276h1v1h-1zM55 14h1v1h-1zM55 34h1v1h-1zM55 44h1v1h-1zM55 50h1v1h-1zM55 56h1v1h-1zM55 84h1v1h-1zM55 92h1v3h-1zM55 132h1v1h-1zM55 154h1v2h-1zM55 159h1v1h-1zM55 161h1v1h-1zM55 179h1v1h-1zM55 192h1v1h-1zM55 194h1v1h-1zM55 207h1v1h-1zM55 209h1v1h-1zM55 213h1v1h-1zM55 215h1v1h-1zM55 240h1v1h-1zM55 256h1v1h-1zM55 262h1v1h-1zM55 284h1v1h-1zM56 34h1v2h-1zM56 40h1v1h-1zM56 42h1v1h-1zM56 44h1v2h-1zM56 49h1v1h-1zM56 52h1v1h-1zM56 54h1v1h-1zM56 58h1v1h-1zM56 73h1v1h-1zM56 77h1v1h-1zM56 98h1v1h-1zM56 137h1v1h-1zM56 144h1v1h-1zM56 146h1v1h-1zM56 148h1v1h-1zM56 159h1v1h-1zM56 161h1v3h-1zM56 177h1v1h-1zM56 187h1v1h-1zM56 252h1v1h-1zM56 265h1v1h-1zM56 273h1v1h-1zM56 276h1v1h-1zM57 13h1v1h-1zM57 18h1v1h-1zM57 41h1v2h-1zM57 45h1v1h-1zM57 49h1v1h-1zM57 51h1v1h-1zM57 73h1v1h-1zM57 87h1v3h-1zM57 93h1v1h-1zM57 95h1v1h-1zM57 97h1v1h-1zM57 138h1v1h-1zM57 141h1v1h-1zM57 143h1v1h-1zM57 149h1v1h-1zM57 151h1v1h-1zM57 175h1v1h-1zM57 177h1v1h-1zM57 189h1v1h-1zM57 193h1v1h-1zM57 206h1v1h-1zM57 214h1v1h-1zM57 240h1v1h-1zM57 255h1v1h-1zM57 259h1v2h-1zM57 282h1v1h-1zM58 28h1v2h-1zM58 31h1v1h-1zM58 42h1v1h-1zM58 50h1v1h-1zM58 52h1v1h-1zM58 57h1v1h-1zM58 76h1v1h-1zM58 99h1v2h-1zM58 130h1v1h-1zM58 141h1v1h-1zM58 145h1v1h-1zM58 156h1v2h-1zM58 165h1v1h-1zM58 170h1v1h-1zM58 173h1v1h-1zM58 176h1v4h-1zM58 183h1v1h-1zM58 188h1v1h-1zM58 191h1v1h-1zM58 194h1v1h-1zM58 200h1v1h-1zM58 204h1v1h-1zM58 243h1v1h-1zM58 247h1v1h-1zM58 251h1v1h-1zM58 265h1v1h-1zM58 274h1v2h-1zM59 15h1v1h-1zM59 19h1v1h-1zM59 37h1v3h-1zM59 45h1v2h-1zM59 53h1v1h-1zM59 73h1v1h-1zM59 84h1v1h-1zM59 88h1v1h-1zM59 92h1v2h-1zM59 97h1v1h-1zM59 134h1v1h-1zM59 140h1v1h-1zM59 142h1v1h-1zM59 161h1v1h-1zM59 163h1v1h-1zM59 173h1v1h-1zM59 176h1v1h-1zM59 178h1v1h-1zM59 193h1v2h-1zM59 197h1v2h-1zM59 205h1v1h-1zM59 209h1v1h-1zM59 211h1v1h-1zM59 214h1v1h-1zM59 240h1v1h-1zM59 253h1v2h-1zM59 282h1v1h-1zM59 285h1v1h-1zM60 11h1v1h-1zM60 29h1v2h-1zM60 47h1v1h-1zM60 54h1v1h-1zM60 76h1v1h-1zM60 100h1v1h-1zM60 132h1v1h-1zM60 141h1v1h-1zM60 148h1v1h-1zM60 158h1v1h-1zM60 166h1v1h-1zM60 174h1v1h-1zM60 189h1v1h-1zM60 195h1v1h-1zM60 202h1v1h-1zM60 217h1v2h-1zM60 246h1v1h-1zM60 249h1v1h-1zM60 252h1v1h-1zM61 19h1v1h-1zM61 38h1v1h-1zM61 45h1v1h-1zM61 72h1v1h-1zM61 85h1v1h-1zM61 89h1v1h-1zM61 92h1v1h-1zM61 134h1v1h-1zM61 138h1v1h-1zM61 143h1v1h-1zM61 150h1v2h-1zM61 159h1v1h-1zM61 161h1v1h-1zM61 164h1v1h-1zM61 190h1v1h-1zM61 194h1v1h-1zM61 199h1v1h-1zM61 208h1v1h-1zM61 216h1v1h-1zM61 239h1v1h-1zM61 253h1v1h-1zM61 257h1v1h-1zM61 261h1v1h-1zM61 285h1v1h-1zM62 33h1v1h-1zM62 38h1v1h-1zM62 54h1v1h-1zM62 79h1v2h-1zM62 84h1v1h-1zM62 96h1v1h-1zM62 128h1v1h-1zM62 133h1v1h-1zM62 145h1v1h-1zM62 155h1v1h-1zM62 157h1v1h-1zM62 161h1v1h-1zM62 168h1v1h-1zM62 170h1v1h-1zM62 176h1v1h-1zM62 179h1v1h-1zM62 181h1v1h-1zM62 183h1v1h-1zM62 194h1v1h-1zM62 202h1v1h-1zM62 247h1v1h-1zM62 275h1v1h-1zM63 12h1v2h-1zM63 18h1v3h-1zM63 22h1v1h-1zM63 31h1v1h-1zM63 43h1v1h-1zM63 53h1v1h-1zM63 56h1v1h-1zM63 59h1v1h-1zM63 73h1v1h-1zM63 85h1v1h-1zM63 133h1v1h-1zM63 135h1v1h-1zM63 145h1v1h-1zM63 147h1v2h-1zM63 152h1v1h-1zM63 160h1v1h-1zM63 166h1v1h-1zM63 172h1v1h-1zM63 190h1v2h-1zM63 193h1v1h-1zM63 195h1v1h-1zM63 198h1v1h-1zM63 212h1v1h-1zM63 239h1v1h-1zM63 258h1v1h-1zM63 264h1v1h-1zM63 276h1v1h-1zM63 278h1v1h-1zM63 283h1v1h-1zM64 9h1v2h-1zM64 12h1v1h-1zM64 25h1v1h-1zM64 34h1v1h-1zM64 37h1v1h-1zM64 47h1v2h-1zM64 53h1v1h-1zM64 58h1v2h-1zM64 79h1v1h-1zM64 84h1v1h-1zM64 130h1v1h-1zM64 132h1v1h-1zM64 139h1v2h-1zM64 167h1v1h-1zM64 183h1v1h-1zM64 189h1v1h-1zM64 195h1v1h-1zM64 201h1v3h-1zM64 242h1v1h-1zM64 251h1v1h-1zM64 253h1v1h-1zM64 264h1v1h-1zM64 266h1v2h-1zM64 270h1v1h-1zM65 12h1v1h-1zM65 19h1v1h-1zM65 31h1v1h-1zM65 39h1v1h-1zM65 53h1v1h-1zM65 57h1v1h-1zM65 73h1v1h-1zM65 84h1v1h-1zM65 93h1v3h-1zM65 136h1v1h-1zM65 139h1v1h-1zM65 149h1v1h-1zM65 154h1v2h-1zM65 159h1v2h-1zM65 166h1v1h-1zM65 170h1v1h-1zM65 180h1v1h-1zM65 184h1v1h-1zM65 188h1v1h-1zM65 191h1v1h-1zM65 240h1v1h-1zM65 265h1v1h-1zM65 276h1v1h-1zM65 287h1v1h-1zM66 29h1v1h-1zM66 35h1v1h-1zM66 40h1v1h-1zM66 43h1v1h-1zM66 50h1v2h-1zM66 54h1v1h-1zM66 77h1v1h-1zM66 79h1v1h-1zM66 99h1v1h-1zM66 130h1v1h-1zM66 142h1v2h-1zM66 146h1v1h-1zM66 153h1v1h-1zM66 161h1v1h-1zM66 163h1v1h-1zM66 167h1v1h-1zM66 172h1v1h-1zM66 203h1v1h-1zM66 216h1v1h-1zM66 243h1v1h-1zM66 248h1v1h-1zM66 250h1v2h-1zM66 253h1v1h-1zM66 267h1v2h-1zM66 271h1v1h-1zM66 276h1v1h-1zM67 21h1v1h-1zM67 23h1v1h-1zM67 25h1v1h-1zM67 36h1v1h-1zM67 39h1v1h-1zM67 41h1v1h-1zM67 85h1v1h-1zM67 90h1v1h-1zM67 94h1v1h-1zM67 97h1v1h-1zM67 133h1v1h-1zM67 138h1v1h-1zM67 153h1v2h-1zM67 156h1v1h-1zM67 173h1v1h-1zM67 188h1v2h-1zM67 204h1v1h-1zM67 213h1v1h-1zM67 240h1v1h-1zM67 253h1v1h-1zM67 259h1v1h-1zM67 277h1v1h-1zM68 11h1v1h-1zM68 13h1v1h-1zM68 31h1v1h-1zM68 52h1v1h-1zM68 59h1v1h-1zM68 73h1v1h-1zM68 75h1v2h-1zM68 81h1v1h-1zM68 83h1v1h-1zM68 97h1v2h-1zM68 128h1v1h-1zM68 140h1v1h-1zM68 149h1v1h-1zM68 154h1v1h-1zM68 162h1v2h-1zM68 179h1v1h-1zM68 197h1v1h-1zM68 204h1v1h-1zM68 250h1v2h-1zM68 267h1v3h-1zM69 22h1v1h-1zM69 42h1v1h-1zM69 86h1v2h-1zM69 140h1v1h-1zM69 145h1v1h-1zM69 160h1v1h-1zM69 164h1v1h-1zM69 190h1v1h-1zM69 212h1v1h-1zM69 215h1v1h-1zM69 254h1v2h-1zM69 259h1v3h-1zM69 281h1v1h-1zM69 284h1v1h-1zM70 24h1v1h-1zM70 37h1v1h-1zM70 43h1v1h-1zM70 52h1v1h-1zM70 75h1v2h-1zM70 78h1v1h-1zM70 100h1v2h-1zM70 128h1v1h-1zM70 139h1v1h-1zM70 155h1v1h-1zM70 158h1v1h-1zM70 161h1v1h-1zM70 163h1v1h-1zM70 193h1v1h-1zM70 201h1v1h-1zM70 204h1v1h-1zM70 241h1v1h-1zM70 245h1v1h-1zM70 266h1v2h-1zM70 271h1v1h-1zM70 276h1v2h-1zM71 16h1v1h-1zM71 41h1v1h-1zM71 43h1v1h-1zM71 90h1v1h-1zM71 134h1v1h-1zM71 144h1v1h-1zM71 149h1v1h-1zM71 154h1v1h-1zM71 156h1v1h-1zM71 162h1v2h-1zM71 166h1v1h-1zM71 180h1v2h-1zM71 208h1v1h-1zM71 237h1v1h-1zM71 259h1v1h-1zM71 277h1v2h-1zM71 280h1v1h-1zM71 287h1v1h-1zM72 12h1v1h-1zM72 32h1v2h-1zM72 54h1v1h-1zM72 60h1v1h-1zM72 79h1v1h-1zM72 100h1v1h-1zM72 102h1v1h-1zM72 128h1v1h-1zM72 133h1v1h-1zM72 154h1v2h-1zM72 159h1v2h-1zM72 174h1v1h-1zM72 176h1v1h-1zM72 192h1v1h-1zM72 196h1v1h-1zM72 217h1v1h-1zM72 251h1v3h-1zM72 265h1v2h-1zM72 270h1v1h-1zM73 14h1v3h-1zM73 72h1v1h-1zM73 87h1v2h-1zM73 132h1v1h-1zM73 140h1v1h-1zM73 145h1v2h-1zM73 157h1v2h-1zM73 170h1v1h-1zM73 182h1v1h-1zM73 204h1v1h-1zM73 211h1v2h-1zM73 254h1v1h-1zM73 260h1v1h-1zM73 262h1v1h-1zM73 264h1v1h-1zM73 280h1v4h-1zM73 286h1v2h-1zM74 0h1v1h-1zM74 3h1v1h-1zM74 7h1v1h-1zM74 10h1v1h-1zM74 29h1v2h-1zM74 32h1v1h-1zM74 39h1v2h-1zM74 50h1v1h-1zM74 59h1v1h-1zM74 73h1v1h-1zM74 128h1v1h-1zM74 130h1v1h-1zM74 138h1v1h-1zM74 142h1v1h-1zM74 148h1v1h-1zM74 153h1v1h-1zM74 159h1v1h-1zM74 170h1v1h-1zM74 176h1v3h-1zM74 201h1v1h-1zM74 217h1v1h-1zM74 241h1v1h-1zM74 245h1v1h-1zM74 248h1v1h-1zM74 251h1v1h-1zM74 273h1v1h-1zM74 276h1v1h-1zM75 12h1v1h-1zM75 40h1v1h-1zM75 52h1v1h-1zM75 92h1v1h-1zM75 134h1v3h-1zM75 160h1v2h-1zM75 174h1v1h-1zM75 183h1v1h-1zM75 185h1v1h-1zM75 188h1v2h-1zM75 191h1v1h-1zM75 209h1v1h-1zM75 241h1v1h-1zM75 260h1v2h-1zM75 277h1v1h-1zM76 11h1v1h-1zM76 24h1v1h-1zM76 29h1v1h-1zM76 38h1v2h-1zM76 41h1v1h-1zM76 47h1v2h-1zM76 51h1v2h-1zM76 57h1v1h-1zM76 60h1v1h-1zM76 72h1v1h-1zM76 77h1v1h-1zM76 81h1v1h-1zM76 96h1v1h-1zM76 130h1v1h-1zM76 132h1v2h-1zM76 138h1v1h-1zM76 140h1v1h-1zM76 146h1v1h-1zM76 148h1v1h-1zM76 153h1v1h-1zM76 164h1v1h-1zM76 174h1v1h-1zM76 176h1v2h-1zM76 193h1v1h-1zM76 197h1v1h-1zM76 216h1v2h-1zM76 246h1v1h-1zM76 250h1v1h-1zM76 252h1v1h-1zM76 269h1v1h-1zM76 271h1v1h-1zM77 0h1v1h-1zM77 13h1v1h-1zM77 40h1v1h-1zM77 43h1v1h-1zM77 51h1v2h-1zM77 90h1v1h-1zM77 97h1v1h-1zM77 137h1v2h-1zM77 143h1v1h-1zM77 149h1v2h-1zM77 153h1v1h-1zM77 157h1v1h-1zM77 167h1v1h-1zM77 180h1v1h-1zM77 183h1v1h-1zM77 193h1v1h-1zM77 210h1v2h-1zM77 216h1v2h-1zM77 256h1v1h-1zM77 260h1v3h-1zM77 264h1v2h-1zM77 276h1v1h-1zM77 278h1v2h-1zM77 285h1v1h-1zM77 287h1v1h-1zM78 4h1v1h-1zM78 10h1v1h-1zM78 27h1v1h-1zM78 45h1v1h-1zM78 49h1v1h-1zM78 57h1v1h-1zM78 74h1v3h-1zM78 78h1v1h-1zM78 82h1v1h-1zM78 129h1v1h-1zM78 171h1v2h-1zM78 198h1v1h-1zM78 202h1v1h-1zM78 204h1v1h-1zM78 246h1v1h-1zM78 253h1v1h-1zM78 265h1v1h-1zM78 268h1v1h-1zM78 275h1v1h-1zM79 14h1v1h-1zM79 21h1v2h-1zM79 50h1v1h-1zM79 60h1v1h-1zM79 137h1v1h-1zM79 141h1v1h-1zM79 145h1v1h-1zM79 165h1v1h-1zM79 167h1v1h-1zM79 182h1v1h-1zM79 187h1v1h-1zM79 189h1v1h-1zM79 215h1v1h-1zM79 217h1v1h-1zM79 236h1v1h-1zM79 239h1v2h-1zM79 258h1v1h-1zM79 261h1v1h-1zM79 264h1v2h-1zM79 279h1v1h-1zM80 6h1v1h-1zM80 26h1v1h-1zM80 29h1v1h-1zM80 33h1v1h-1zM80 36h1v1h-1zM80 44h1v1h-1zM80 46h1v1h-1zM80 51h1v1h-1zM80 55h1v1h-1zM80 58h1v1h-1zM80 75h1v1h-1zM80 82h1v1h-1zM80 84h1v2h-1zM80 129h1v1h-1zM80 171h1v1h-1zM80 174h1v1h-1zM80 177h1v1h-1zM80 193h1v1h-1zM80 197h1v1h-1zM80 204h1v1h-1zM80 242h1v1h-1zM80 244h1v1h-1zM80 247h1v1h-1zM80 250h1v2h-1zM80 265h1v1h-1zM80 267h1v1h-1zM80 271h1v1h-1zM80 275h1v2h-1zM81 12h1v1h-1zM81 14h1v1h-1zM81 16h1v1h-1zM81 41h1v2h-1zM81 48h1v1h-1zM81 73h1v1h-1zM81 86h1v1h-1zM81 88h1v1h-1zM81 93h1v2h-1zM81 139h1v1h-1zM81 160h1v1h-1zM81 163h1v1h-1zM81 167h1v1h-1zM81 169h1v1h-1zM81 189h1v1h-1zM81 256h1v1h-1zM81 262h1v1h-1zM81 277h1v1h-1zM81 282h1v1h-1zM82 6h1v1h-1zM82 8h1v1h-1zM82 10h1v1h-1zM82 12h1v1h-1zM82 24h1v1h-1zM82 35h1v1h-1zM82 37h1v1h-1zM82 48h1v1h-1zM82 54h1v1h-1zM82 58h1v1h-1zM82 75h1v1h-1zM82 84h1v1h-1zM82 101h1v1h-1zM82 103h1v1h-1zM82 129h1v2h-1zM82 144h1v1h-1zM82 146h1v1h-1zM82 174h1v1h-1zM82 176h1v1h-1zM82 243h1v1h-1zM82 270h1v1h-1zM82 274h1v1h-1zM82 276h1v1h-1zM83 16h1v1h-1zM83 19h1v1h-1zM83 21h1v1h-1zM83 36h1v1h-1zM83 38h1v2h-1zM83 92h1v1h-1zM83 132h1v1h-1zM83 137h1v1h-1zM83 139h1v1h-1zM83 144h1v1h-1zM83 161h1v1h-1zM83 169h1v1h-1zM83 209h1v1h-1zM83 211h1v1h-1zM83 217h1v1h-1zM83 255h1v1h-1zM83 279h1v1h-1zM83 281h1v1h-1zM84 3h1v1h-1zM84 5h1v1h-1zM84 7h1v2h-1zM84 28h1v1h-1zM84 34h1v1h-1zM84 51h1v1h-1zM84 53h1v1h-1zM84 55h1v1h-1zM84 73h1v1h-1zM84 76h1v1h-1zM84 79h1v1h-1zM84 85h1v1h-1zM84 100h1v1h-1zM84 128h1v2h-1zM84 132h1v1h-1zM84 155h1v1h-1zM84 157h1v1h-1zM84 168h1v1h-1zM84 171h1v1h-1zM84 178h1v2h-1zM84 192h1v1h-1zM84 201h1v1h-1zM84 241h1v1h-1zM84 245h1v3h-1zM84 265h1v1h-1zM84 267h1v1h-1zM85 13h1v1h-1zM85 23h1v1h-1zM85 39h1v1h-1zM85 73h1v1h-1zM85 85h1v1h-1zM85 89h1v2h-1zM85 158h1v2h-1zM85 164h1v1h-1zM85 166h1v1h-1zM85 168h1v1h-1zM85 181h1v1h-1zM85 185h1v1h-1zM85 191h1v2h-1zM85 217h1v1h-1zM85 261h1v1h-1zM85 264h1v2h-1zM85 279h1v1h-1zM85 281h1v1h-1zM88 0h1v1h-1zM88 5h1v1h-1zM88 8h1v1h-1zM88 13h1v1h-1zM88 28h1v1h-1zM88 49h1v1h-1zM88 55h1v1h-1zM88 58h1v1h-1zM88 60h1v1h-1zM88 76h1v1h-1zM88 80h1v1h-1zM88 83h1v1h-1zM88 100h1v1h-1zM88 127h1v1h-1zM88 130h1v1h-1zM88 133h1v1h-1zM88 153h1v2h-1zM88 180h1v1h-1zM88 192h1v1h-1zM88 194h1v1h-1zM88 196h1v1h-1zM88 200h1v1h-1zM88 204h1v2h-1zM88 250h1v1h-1zM88 268h1v1h-1zM88 272h1v1h-1zM88 275h1v1h-1zM89 22h1v2h-1zM89 36h1v1h-1zM89 43h1v1h-1zM89 95h1v1h-1zM89 132h1v1h-1zM89 139h1v2h-1zM89 142h1v1h-1zM89 160h1v1h-1zM89 183h1v1h-1zM89 189h1v2h-1zM89 205h1v1h-1zM89 211h1v1h-1zM89 256h1v1h-1zM89 264h1v1h-1zM89 279h1v1h-1zM89 283h1v1h-1zM90 1h1v2h-1zM90 4h1v2h-1zM90 10h1v1h-1zM90 13h1v1h-1zM90 25h1v2h-1zM90 37h1v1h-1zM90 49h1v1h-1zM90 53h1v1h-1zM90 55h1v1h-1zM90 81h1v1h-1zM90 85h1v1h-1zM90 99h1v1h-1zM90 103h1v1h-1zM90 122h1v1h-1zM90 128h1v1h-1zM90 145h1v1h-1zM90 148h1v1h-1zM90 157h1v1h-1zM90 180h1v1h-1zM90 194h1v1h-1zM90 197h1v2h-1zM90 202h1v1h-1zM90 267h1v1h-1zM90 270h1v1h-1zM90 273h1v1h-1zM91 0h1v1h-1zM91 12h1v2h-1zM91 21h1v1h-1zM91 39h1v1h-1zM91 44h1v1h-1zM91 49h1v1h-1zM91 73h1v1h-1zM91 87h1v2h-1zM91 93h1v2h-1zM91 97h1v1h-1zM91 145h1v1h-1zM91 156h1v2h-1zM91 159h1v1h-1zM91 164h1v1h-1zM91 183h1v1h-1zM91 214h1v1h-1zM91 238h1v2h-1zM91 258h1v1h-1zM91 263h1v2h-1zM91 276h1v1h-1zM92 0h1v1h-1zM92 2h1v2h-1zM92 11h1v1h-1zM92 13h1v1h-1zM92 25h1v1h-1zM92 29h1v1h-1zM92 32h1v1h-1zM92 35h1v1h-1zM92 60h1v1h-1zM92 98h1v1h-1zM92 105h1v1h-1zM92 126h1v2h-1zM92 145h1v1h-1zM92 171h1v2h-1zM92 180h1v1h-1zM92 241h1v1h-1zM92 252h1v1h-1zM92 266h1v1h-1zM92 269h1v2h-1zM92 273h1v1h-1zM93 13h1v1h-1zM93 19h1v1h-1zM93 23h1v1h-1zM93 25h1v1h-1zM93 44h1v1h-1zM93 91h1v1h-1zM93 134h1v1h-1zM93 136h1v1h-1zM93 143h1v1h-1zM93 145h1v1h-1zM93 162h1v1h-1zM93 186h1v1h-1zM93 190h1v1h-1zM93 208h1v1h-1zM93 239h1v2h-1zM93 253h1v1h-1zM93 277h1v1h-1zM93 279h1v1h-1zM94 1h1v1h-1zM94 3h1v1h-1zM94 9h1v1h-1zM94 12h1v1h-1zM94 25h1v1h-1zM94 29h1v3h-1zM94 49h1v1h-1zM94 83h1v1h-1zM94 102h1v1h-1zM94 122h1v1h-1zM94 126h1v2h-1zM94 129h1v1h-1zM94 177h1v1h-1zM94 193h1v1h-1zM94 196h1v1h-1zM94 198h1v1h-1zM94 244h1v2h-1zM94 248h1v1h-1zM94 250h1v2h-1zM94 264h1v1h-1zM94 272h1v3h-1zM94 276h1v2h-1zM95 15h1v2h-1zM95 21h1v1h-1zM95 85h1v1h-1zM95 88h1v1h-1zM95 119h1v1h-1zM95 134h1v1h-1zM95 180h1v1h-1zM95 184h1v1h-1zM95 190h1v1h-1zM95 204h1v1h-1zM95 211h1v3h-1zM95 241h1v1h-1zM95 263h1v1h-1zM95 281h1v1h-1zM96 1h1v2h-1zM96 6h1v1h-1zM96 30h1v1h-1zM96 33h1v1h-1zM96 36h1v1h-1zM96 58h1v1h-1zM96 81h1v1h-1zM96 83h1v1h-1zM96 101h1v2h-1zM96 120h1v2h-1zM96 123h1v1h-1zM96 129h1v1h-1zM96 132h1v1h-1zM96 148h1v1h-1zM96 169h1v1h-1zM96 172h1v1h-1zM96 180h1v2h-1zM96 194h1v1h-1zM96 200h1v1h-1zM96 202h1v1h-1zM96 205h1v1h-1zM96 217h1v1h-1zM96 240h1v1h-1zM96 273h1v2h-1zM97 16h1v1h-1zM97 21h1v1h-1zM97 24h1v1h-1zM97 39h1v1h-1zM97 43h1v1h-1zM97 49h1v1h-1zM97 91h1v1h-1zM97 94h1v1h-1zM97 96h1v1h-1zM97 132h1v1h-1zM97 143h1v1h-1zM97 159h1v1h-1zM97 163h1v1h-1zM97 169h1v1h-1zM97 187h1v1h-1zM97 208h1v1h-1zM97 217h1v1h-1zM97 235h1v1h-1zM97 239h1v1h-1zM97 256h1v1h-1zM97 264h1v1h-1zM97 278h1v1h-1zM97 281h1v3h-1zM98 1h1v1h-1zM98 4h1v1h-1zM98 29h1v1h-1zM98 31h1v2h-1zM98 36h1v1h-1zM98 50h1v1h-1zM98 52h1v1h-1zM98 56h1v2h-1zM98 73h1v1h-1zM98 120h1v1h-1zM98 128h1v1h-1zM98 130h1v2h-1zM98 133h1v1h-1zM98 177h1v2h-1zM98 181h1v1h-1zM98 198h1v1h-1zM98 250h1v1h-1zM98 265h1v1h-1zM98 271h1v1h-1zM99 16h1v1h-1zM99 21h1v1h-1zM99 25h1v1h-1zM99 37h1v1h-1zM99 84h1v1h-1zM99 88h1v1h-1zM99 90h1v1h-1zM99 94h1v1h-1zM99 135h1v2h-1zM99 141h1v2h-1zM99 206h1v1h-1zM99 237h1v1h-1zM99 254h1v2h-1zM99 258h1v1h-1zM99 279h1v1h-1zM99 281h1v1h-1zM100 1h1v1h-1zM100 4h1v1h-1zM100 13h1v1h-1zM100 27h1v2h-1zM100 54h1v1h-1zM100 74h1v1h-1zM100 76h1v2h-1zM100 79h1v2h-1zM100 85h1v1h-1zM100 96h1v1h-1zM100 100h1v1h-1zM100 103h1v1h-1zM100 124h1v1h-1zM100 131h1v1h-1zM100 133h1v1h-1zM100 149h1v1h-1zM100 179h1v1h-1zM100 198h1v1h-1zM100 247h1v2h-1zM100 269h1v1h-1zM100 273h1v1h-1zM101 1h1v1h-1zM101 19h1v1h-1zM101 38h1v2h-1zM101 41h1v1h-1zM101 85h1v1h-1zM101 87h1v1h-1zM101 89h1v2h-1zM101 95h1v1h-1zM101 137h1v1h-1zM101 142h1v1h-1zM101 159h1v1h-1zM101 169h1v1h-1zM101 180h1v1h-1zM101 204h1v2h-1zM101 208h1v1h-1zM101 211h1v1h-1zM101 215h1v1h-1zM101 238h1v1h-1zM101 253h1v2h-1zM101 256h1v1h-1zM101 259h1v1h-1zM101 279h1v1h-1zM101 282h1v1h-1zM101 285h1v1h-1zM102 2h1v1h-1zM102 12h1v1h-1zM102 35h1v1h-1zM102 50h1v1h-1zM102 53h1v1h-1zM102 55h1v1h-1zM102 57h1v1h-1zM102 60h1v1h-1zM102 81h1v2h-1zM102 99h1v1h-1zM102 101h1v1h-1zM102 121h1v4h-1zM102 128h1v1h-1zM102 132h1v1h-1zM102 157h1v1h-1zM102 169h1v1h-1zM102 179h1v1h-1zM102 192h1v1h-1zM102 194h1v1h-1zM102 198h1v1h-1zM102 268h1v1h-1zM102 270h1v1h-1zM102 276h1v1h-1zM103 13h1v1h-1zM103 20h1v1h-1zM103 38h1v1h-1zM103 44h1v1h-1zM103 48h1v1h-1zM103 73h1v1h-1zM103 87h1v3h-1zM103 94h1v1h-1zM103 134h1v1h-1zM103 161h1v2h-1zM103 185h1v1h-1zM103 189h1v1h-1zM103 206h1v1h-1zM103 238h1v1h-1zM103 240h1v1h-1zM103 252h1v1h-1zM103 259h1v1h-1zM103 262h1v1h-1zM104 4h1v1h-1zM104 13h1v1h-1zM104 26h1v2h-1zM104 32h1v1h-1zM104 37h1v1h-1zM104 85h1v1h-1zM104 97h1v1h-1zM104 99h1v1h-1zM104 103h1v1h-1zM104 122h1v1h-1zM104 153h1v2h-1zM104 169h1v1h-1zM104 181h1v1h-1zM104 194h1v1h-1zM104 242h1v1h-1zM104 244h1v1h-1zM104 246h1v1h-1zM104 252h1v1h-1zM104 266h1v2h-1zM104 269h1v1h-1zM104 275h1v1h-1zM105 38h1v1h-1zM105 41h1v2h-1zM105 46h1v1h-1zM105 48h1v1h-1zM105 60h1v1h-1zM105 73h1v1h-1zM105 84h1v1h-1zM105 144h1v1h-1zM105 162h1v1h-1zM105 165h1v1h-1zM105 169h1v1h-1zM105 180h1v1h-1zM105 190h1v1h-1zM105 210h1v1h-1zM105 213h1v1h-1zM105 216h1v1h-1zM105 235h1v1h-1zM105 279h1v1h-1zM105 281h1v1h-1zM105 283h1v1h-1zM106 4h1v1h-1zM106 26h1v1h-1zM106 29h1v1h-1zM106 34h1v1h-1zM106 79h1v1h-1zM106 97h1v1h-1zM106 121h1v1h-1zM106 144h1v2h-1zM106 154h1v1h-1zM106 171h1v1h-1zM106 194h1v1h-1zM106 196h1v1h-1zM106 240h1v2h-1zM106 245h1v2h-1zM106 271h1v1h-1zM107 0h1v1h-1zM107 13h1v1h-1zM107 19h1v1h-1zM107 21h1v1h-1zM107 25h1v1h-1zM107 39h1v1h-1zM107 46h1v1h-1zM107 87h1v2h-1zM107 92h1v2h-1zM107 95h1v1h-1zM107 121h1v1h-1zM107 132h1v1h-1zM107 144h1v1h-1zM107 161h1v1h-1zM107 165h1v1h-1zM107 206h1v1h-1zM107 213h1v1h-1zM107 215h1v1h-1zM107 235h1v1h-1zM107 238h1v1h-1zM107 241h1v1h-1zM107 256h1v1h-1zM107 276h1v1h-1zM108 3h1v1h-1zM108 10h1v1h-1zM108 28h1v1h-1zM108 31h1v1h-1zM108 36h1v1h-1zM108 56h1v1h-1zM108 59h1v1h-1zM108 77h1v1h-1zM108 80h1v2h-1zM108 84h1v1h-1zM108 106h1v1h-1zM108 123h1v2h-1zM108 131h1v1h-1zM108 173h1v1h-1zM108 175h1v1h-1zM108 179h1v1h-1zM108 181h1v1h-1zM108 197h1v1h-1zM108 201h1v1h-1zM108 242h1v1h-1zM108 252h1v1h-1zM108 265h1v1h-1zM108 273h1v1h-1zM109 0h1v1h-1zM109 23h1v2h-1zM109 37h1v1h-1zM109 39h1v1h-1zM109 41h1v1h-1zM109 46h1v1h-1zM109 60h1v1h-1zM109 84h1v1h-1zM109 89h1v2h-1zM109 92h1v1h-1zM109 95h1v1h-1zM109 121h1v1h-1zM109 140h1v1h-1zM109 157h1v1h-1zM109 160h1v1h-1zM109 186h1v1h-1zM109 190h1v2h-1zM109 207h1v1h-1zM109 210h1v1h-1zM109 213h1v1h-1zM109 235h1v1h-1zM109 237h1v1h-1zM109 241h1v1h-1zM109 282h1v2h-1zM109 285h1v1h-1zM110 6h1v2h-1zM110 12h1v1h-1zM110 26h1v1h-1zM110 28h1v1h-1zM110 32h1v1h-1zM110 56h1v1h-1zM110 59h1v1h-1zM110 121h1v1h-1zM110 123h1v1h-1zM110 126h1v1h-1zM110 130h1v3h-1zM110 170h1v1h-1zM110 243h1v1h-1zM110 247h1v1h-1zM110 251h1v3h-1zM110 264h1v1h-1zM110 266h1v1h-1zM110 274h1v1h-1zM111 21h1v1h-1zM111 25h1v1h-1zM111 37h1v2h-1zM111 42h1v2h-1zM111 48h1v1h-1zM111 88h1v1h-1zM111 94h1v1h-1zM111 97h1v1h-1zM111 120h1v1h-1zM111 136h1v2h-1zM111 144h1v1h-1zM111 193h1v1h-1zM111 210h1v1h-1zM111 252h1v1h-1zM111 261h1v1h-1zM111 279h1v1h-1zM111 284h1v1h-1zM112 0h1v1h-1zM112 4h1v1h-1zM112 9h1v1h-1zM112 13h1v1h-1zM112 26h1v1h-1zM112 28h1v2h-1zM112 32h1v1h-1zM112 34h1v1h-1zM112 37h1v1h-1zM112 52h1v1h-1zM112 55h1v1h-1zM112 57h1v1h-1zM112 81h1v1h-1zM112 84h1v1h-1zM112 101h1v1h-1zM112 104h1v1h-1zM112 121h1v1h-1zM112 131h1v1h-1zM112 133h1v1h-1zM112 155h1v1h-1zM112 157h1v1h-1zM112 169h1v1h-1zM112 178h1v2h-1zM112 197h1v1h-1zM112 217h1v1h-1zM112 242h1v1h-1zM112 250h1v1h-1zM112 264h1v2h-1zM112 273h1v1h-1zM113 13h1v2h-1zM113 20h1v1h-1zM113 37h1v1h-1zM113 39h1v2h-1zM113 44h1v1h-1zM113 46h1v1h-1zM113 49h1v1h-1zM113 87h1v2h-1zM113 90h1v1h-1zM113 92h1v1h-1zM113 121h1v1h-1zM113 135h1v1h-1zM113 138h1v1h-1zM113 156h1v1h-1zM113 167h1v1h-1zM113 183h1v1h-1zM113 187h1v1h-1zM113 207h1v1h-1zM113 214h1v1h-1zM113 236h1v5h-1zM113 254h1v1h-1zM113 260h1v1h-1zM113 262h1v2h-1zM113 282h1v1h-1zM113 287h1v1h-1zM114 4h1v1h-1zM114 6h1v1h-1zM114 8h1v1h-1zM114 26h1v1h-1zM114 28h1v2h-1zM114 32h1v2h-1zM114 37h1v1h-1zM114 51h1v1h-1zM114 77h1v1h-1zM114 79h1v1h-1zM114 97h1v1h-1zM114 122h1v1h-1zM114 126h1v1h-1zM114 131h1v1h-1zM114 133h1v1h-1zM114 144h1v3h-1zM114 153h1v1h-1zM114 157h1v1h-1zM114 172h1v1h-1zM114 175h1v1h-1zM114 179h1v1h-1zM114 195h1v1h-1zM114 200h1v1h-1zM114 217h1v1h-1zM114 244h1v2h-1zM114 265h1v2h-1zM114 269h1v1h-1zM115 17h1v1h-1zM115 39h1v2h-1zM115 46h1v1h-1zM115 73h1v1h-1zM115 93h1v1h-1zM115 133h1v1h-1zM115 144h1v1h-1zM115 168h1v1h-1zM115 182h1v1h-1zM115 186h1v1h-1zM115 205h1v2h-1zM115 208h1v1h-1zM115 210h1v1h-1zM115 213h1v1h-1zM115 236h1v1h-1zM115 253h1v1h-1zM115 276h1v2h-1zM115 281h1v1h-1zM115 285h1v2h-1zM116 4h1v1h-1zM116 11h1v1h-1zM116 27h1v1h-1zM116 30h1v2h-1zM116 51h1v3h-1zM116 56h1v1h-1zM116 74h1v2h-1zM116 81h1v2h-1zM116 84h1v1h-1zM116 99h1v1h-1zM116 101h1v1h-1zM116 105h1v1h-1zM116 125h1v1h-1zM116 147h1v1h-1zM116 150h1v1h-1zM116 154h1v2h-1zM116 171h1v1h-1zM116 199h1v2h-1zM116 249h1v1h-1zM116 271h1v1h-1zM116 276h1v1h-1zM117 13h1v1h-1zM117 20h1v3h-1zM117 24h1v2h-1zM117 44h1v1h-1zM117 84h1v2h-1zM117 93h1v1h-1zM117 96h1v1h-1zM117 119h1v1h-1zM117 132h1v2h-1zM117 136h1v2h-1zM117 140h1v1h-1zM117 142h1v1h-1zM117 164h1v1h-1zM117 180h1v1h-1zM117 182h1v1h-1zM117 190h1v2h-1zM117 205h1v1h-1zM117 213h1v1h-1zM117 215h1v1h-1zM117 236h1v1h-1zM117 239h1v2h-1zM117 254h1v1h-1zM117 281h1v2h-1zM117 285h1v2h-1zM118 0h1v1h-1zM118 2h1v1h-1zM118 12h1v1h-1zM118 30h1v1h-1zM118 37h1v1h-1zM118 49h1v1h-1zM118 52h1v1h-1zM118 75h1v1h-1zM118 78h1v1h-1zM118 97h1v1h-1zM118 99h1v1h-1zM118 103h1v3h-1zM118 125h1v1h-1zM118 150h1v2h-1zM118 153h1v1h-1zM118 199h1v1h-1zM118 216h1v1h-1zM118 240h1v2h-1zM118 253h1v1h-1zM118 268h1v1h-1zM118 273h1v2h-1zM118 277h1v1h-1zM119 0h1v1h-1zM119 16h1v1h-1zM119 22h1v1h-1zM119 24h1v1h-1zM119 37h1v1h-1zM119 49h1v1h-1zM119 89h1v1h-1zM119 133h1v4h-1zM119 138h1v1h-1zM119 143h1v2h-1zM119 206h1v1h-1zM119 208h1v1h-1zM119 211h1v1h-1zM119 235h1v1h-1zM119 237h1v1h-1zM119 240h1v1h-1zM119 252h1v1h-1zM119 255h1v1h-1zM119 257h1v1h-1zM119 265h1v1h-1zM119 277h1v1h-1zM119 280h1v2h-1zM119 286h1v1h-1zM120 2h1v1h-1zM120 8h1v2h-1zM120 25h1v1h-1zM120 35h1v1h-1zM120 37h1v1h-1zM120 55h1v1h-1zM120 57h1v1h-1zM120 79h1v1h-1zM120 102h1v1h-1zM120 105h1v1h-1zM120 121h1v1h-1zM120 126h1v1h-1zM120 145h1v1h-1zM120 168h1v1h-1zM120 172h1v1h-1zM120 178h1v1h-1zM120 197h1v1h-1zM120 240h1v1h-1zM120 244h1v1h-1zM120 247h1v1h-1zM120 251h1v1h-1zM120 274h1v1h-1zM120 277h1v1h-1zM121 20h1v1h-1zM121 36h1v1h-1zM121 38h1v2h-1zM121 42h1v1h-1zM121 73h1v1h-1zM121 88h1v2h-1zM121 94h1v1h-1zM121 143h1v1h-1zM121 156h1v2h-1zM121 159h1v1h-1zM121 161h1v1h-1zM121 168h1v1h-1zM121 211h1v2h-1zM121 215h1v1h-1zM121 259h1v1h-1zM121 277h1v2h-1zM121 284h1v1h-1zM122 10h1v1h-1zM122 12h1v1h-1zM122 27h1v1h-1zM122 33h1v1h-1zM122 36h1v1h-1zM122 54h1v1h-1zM122 76h1v1h-1zM122 79h1v1h-1zM122 83h1v1h-1zM122 98h1v2h-1zM122 104h1v2h-1zM122 122h1v1h-1zM122 126h1v1h-1zM122 151h1v1h-1zM122 174h1v1h-1zM122 203h1v1h-1zM122 242h1v1h-1zM122 248h1v1h-1zM122 250h1v1h-1zM122 268h1v1h-1zM122 270h1v1h-1zM122 277h1v1h-1zM123 17h1v2h-1zM123 36h1v1h-1zM123 41h1v1h-1zM123 46h1v1h-1zM123 73h1v1h-1zM123 91h1v1h-1zM123 121h1v1h-1zM123 140h1v1h-1zM123 142h1v2h-1zM123 163h1v2h-1zM123 168h1v1h-1zM123 181h1v1h-1zM123 184h1v1h-1zM123 189h1v1h-1zM123 191h1v1h-1zM123 209h1v2h-1zM123 216h1v1h-1zM123 236h1v1h-1zM123 262h1v1h-1zM123 278h1v1h-1zM123 280h1v1h-1zM123 282h1v1h-1zM123 286h1v1h-1zM124 1h1v1h-1zM124 6h1v1h-1zM124 13h1v1h-1zM124 24h1v4h-1zM124 48h1v1h-1zM124 50h1v1h-1zM124 52h1v2h-1zM124 55h1v1h-1zM124 57h1v1h-1zM124 73h1v1h-1zM124 76h1v1h-1zM124 81h1v1h-1zM124 83h1v1h-1zM124 102h1v2h-1zM124 106h1v1h-1zM124 121h1v1h-1zM124 126h1v1h-1zM124 128h1v1h-1zM124 152h1v1h-1zM124 170h1v1h-1zM124 179h1v1h-1zM124 202h1v1h-1zM124 216h1v1h-1zM124 241h1v1h-1zM124 248h1v1h-1zM124 251h1v1h-1zM124 270h1v1h-1zM125 12h1v1h-1zM125 20h1v1h-1zM125 24h1v2h-1zM125 49h1v1h-1zM125 86h1v1h-1zM125 91h1v1h-1zM125 97h1v1h-1zM125 132h1v1h-1zM125 140h1v1h-1zM125 143h1v1h-1zM125 145h1v1h-1zM125 180h1v1h-1zM125 184h1v1h-1zM125 187h1v1h-1zM125 189h1v1h-1zM125 191h1v2h-1zM125 204h1v1h-1zM125 211h1v1h-1zM125 216h1v1h-1zM125 236h1v1h-1zM125 240h1v1h-1zM125 255h1v1h-1zM125 258h1v1h-1zM125 277h1v1h-1zM126 3h1v1h-1zM126 6h1v1h-1zM126 49h1v1h-1zM126 52h1v1h-1zM126 55h1v1h-1zM126 60h1v1h-1zM126 77h1v1h-1zM126 79h1v1h-1zM126 96h1v1h-1zM126 99h1v1h-1zM126 121h1v1h-1zM126 131h1v1h-1zM126 144h1v1h-1zM126 147h1v1h-1zM126 202h1v1h-1zM126 245h1v1h-1zM126 266h1v2h-1zM126 272h1v1h-1zM126 276h1v1h-1zM127 13h1v1h-1zM127 16h1v1h-1zM127 48h1v1h-1zM127 87h1v1h-1zM127 89h1v1h-1zM127 143h1v1h-1zM127 168h1v1h-1zM127 188h1v1h-1zM127 206h1v1h-1zM127 215h1v2h-1zM127 239h1v1h-1zM127 241h1v1h-1zM127 254h1v2h-1zM127 263h1v1h-1zM127 276h1v1h-1zM127 280h1v1h-1zM127 284h1v1h-1zM128 5h1v2h-1zM128 28h1v1h-1zM128 48h1v1h-1zM128 53h1v1h-1zM128 78h1v1h-1zM128 80h1v1h-1zM128 96h1v1h-1zM128 98h1v1h-1zM128 126h1v1h-1zM128 129h1v1h-1zM128 155h1v1h-1zM128 157h1v1h-1zM128 175h1v1h-1zM128 179h1v1h-1zM128 181h1v1h-1zM128 199h1v1h-1zM128 241h1v2h-1zM128 244h1v2h-1zM128 247h1v2h-1zM128 266h1v1h-1zM128 269h1v1h-1zM128 273h1v1h-1zM129 1h1v1h-1zM129 18h1v1h-1zM129 49h1v1h-1zM129 84h1v2h-1zM129 88h1v1h-1zM129 90h1v2h-1zM129 94h1v1h-1zM129 121h1v1h-1zM129 132h1v1h-1zM129 136h1v1h-1zM129 183h1v1h-1zM129 188h1v1h-1zM129 216h1v1h-1zM129 258h1v1h-1zM129 276h1v1h-1zM129 286h1v1h-1zM130 2h1v1h-1zM130 30h1v2h-1zM130 37h1v1h-1zM130 53h1v1h-1zM130 57h1v1h-1zM130 83h1v1h-1zM130 97h1v3h-1zM130 104h1v1h-1zM130 122h1v1h-1zM130 128h1v1h-1zM130 147h1v1h-1zM130 154h1v1h-1zM130 157h1v1h-1zM130 175h1v1h-1zM130 199h1v2h-1zM130 203h1v1h-1zM130 242h1v1h-1zM130 248h1v1h-1zM130 250h1v1h-1zM130 253h1v1h-1zM130 264h1v1h-1zM130 266h1v2h-1zM130 273h1v1h-1zM130 275h1v1h-1zM131 13h1v1h-1zM131 15h1v1h-1zM131 21h1v1h-1zM131 42h1v2h-1zM131 49h1v1h-1zM131 138h1v1h-1zM131 144h1v1h-1zM131 161h1v1h-1zM131 164h1v1h-1zM131 189h1v1h-1zM131 206h1v2h-1zM131 235h1v1h-1zM131 238h1v1h-1zM131 240h1v2h-1zM131 259h1v1h-1zM131 262h1v1h-1zM131 279h1v1h-1zM132 7h1v2h-1zM132 13h1v1h-1zM132 25h1v3h-1zM132 30h1v1h-1zM132 37h1v1h-1zM132 51h1v2h-1zM132 60h1v1h-1zM132 82h1v1h-1zM132 96h1v1h-1zM132 103h1v1h-1zM132 121h1v1h-1zM132 129h1v1h-1zM132 157h1v1h-1zM132 172h1v1h-1zM132 203h1v1h-1zM132 216h1v1h-1zM132 245h1v1h-1zM132 268h1v1h-1zM132 277h1v1h-1zM133 13h1v1h-1zM133 16h1v1h-1zM133 20h1v1h-1zM133 45h1v1h-1zM133 48h1v1h-1zM133 91h1v1h-1zM133 93h1v1h-1zM133 138h1v1h-1zM133 145h1v1h-1zM133 161h1v2h-1zM133 168h1v1h-1zM133 181h1v3h-1zM133 188h1v1h-1zM133 206h1v3h-1zM133 211h1v1h-1zM133 234h1v1h-1zM133 236h1v2h-1zM133 258h1v1h-1zM133 264h1v2h-1zM134 4h1v2h-1zM134 10h1v1h-1zM134 12h1v1h-1zM134 50h1v1h-1zM134 83h1v1h-1zM134 104h1v1h-1zM134 146h1v1h-1zM134 149h1v1h-1zM134 173h1v1h-1zM134 177h1v1h-1zM134 192h1v1h-1zM134 196h1v1h-1zM134 202h1v1h-1zM134 246h1v1h-1zM134 248h1v1h-1zM134 251h1v1h-1zM135 20h1v1h-1zM135 24h1v1h-1zM135 38h1v1h-1zM135 46h1v1h-1zM135 89h1v1h-1zM135 94h1v1h-1zM135 97h1v1h-1zM135 133h1v2h-1zM135 137h1v1h-1zM135 139h1v1h-1zM135 144h1v1h-1zM135 158h1v1h-1zM135 169h1v1h-1zM135 182h1v1h-1zM135 186h1v1h-1zM135 188h1v1h-1zM135 190h1v1h-1zM135 193h1v1h-1zM135 216h1v1h-1zM135 240h1v1h-1zM135 258h1v1h-1zM135 261h1v1h-1zM135 276h1v1h-1zM135 278h1v1h-1zM135 285h1v1h-1zM136 2h1v1h-1zM136 5h1v1h-1zM136 7h1v1h-1zM136 11h1v1h-1zM136 27h1v1h-1zM136 33h1v2h-1zM136 48h1v1h-1zM136 53h1v1h-1zM136 56h1v1h-1zM136 59h1v1h-1zM136 78h1v1h-1zM136 83h1v1h-1zM136 97h1v1h-1zM136 99h1v1h-1zM136 105h1v1h-1zM136 127h1v1h-1zM136 129h1v1h-1zM136 144h1v1h-1zM136 147h1v1h-1zM136 151h1v1h-1zM136 156h1v1h-1zM136 179h1v1h-1zM136 192h1v1h-1zM136 194h1v1h-1zM136 196h1v1h-1zM136 247h1v2h-1zM136 273h1v1h-1zM136 276h1v1h-1zM137 18h1v1h-1zM137 24h1v1h-1zM137 37h1v1h-1zM137 43h1v1h-1zM137 94h1v1h-1zM137 121h1v1h-1zM137 136h1v1h-1zM137 138h1v1h-1zM137 164h1v1h-1zM137 184h1v1h-1zM137 189h1v1h-1zM137 192h1v1h-1zM137 204h1v2h-1zM137 210h1v1h-1zM137 212h1v1h-1zM137 214h1v1h-1zM137 255h1v1h-1zM137 261h1v1h-1zM137 263h1v1h-1zM137 281h1v1h-1zM137 283h1v1h-1zM137 286h1v1h-1zM138 1h1v1h-1zM138 3h1v1h-1zM138 8h1v1h-1zM138 52h1v1h-1zM138 55h1v1h-1zM138 58h1v1h-1zM138 73h1v1h-1zM138 75h1v1h-1zM138 96h1v1h-1zM138 98h1v1h-1zM138 100h1v1h-1zM138 106h1v1h-1zM138 127h1v2h-1zM138 149h1v1h-1zM138 151h1v1h-1zM138 170h1v1h-1zM138 172h1v1h-1zM138 192h1v1h-1zM138 198h1v2h-1zM138 205h1v1h-1zM138 244h1v1h-1zM138 276h1v1h-1zM139 15h1v1h-1zM139 20h1v1h-1zM139 73h1v1h-1zM139 84h1v2h-1zM139 94h1v2h-1zM139 97h1v1h-1zM139 119h1v2h-1zM139 135h1v1h-1zM139 139h1v1h-1zM139 141h1v1h-1zM139 166h1v1h-1zM139 189h1v1h-1zM139 210h1v1h-1zM139 235h1v1h-1zM139 239h1v1h-1zM139 253h1v1h-1zM139 265h1v1h-1zM139 278h1v1h-1zM139 281h1v1h-1zM140 1h1v1h-1zM140 9h1v2h-1zM140 12h1v1h-1zM140 32h1v2h-1zM140 49h1v1h-1zM140 79h1v1h-1zM140 85h1v1h-1zM140 104h1v1h-1zM140 120h1v2h-1zM140 124h1v1h-1zM140 126h1v1h-1zM140 152h1v1h-1zM140 155h1v1h-1zM140 170h1v2h-1zM140 173h1v1h-1zM140 175h1v1h-1zM140 202h1v2h-1zM140 240h1v1h-1zM140 248h1v1h-1zM140 265h1v1h-1zM140 275h1v1h-1zM141 0h1v1h-1zM141 12h1v1h-1zM141 14h1v2h-1zM141 20h1v1h-1zM141 23h1v1h-1zM141 36h1v1h-1zM141 44h1v1h-1zM141 94h1v1h-1zM141 163h1v1h-1zM141 168h1v1h-1zM141 186h1v1h-1zM141 207h1v1h-1zM141 256h1v1h-1zM141 261h1v1h-1zM141 277h1v1h-1zM141 284h1v1h-1zM142 0h1v1h-1zM142 2h1v1h-1zM142 11h1v1h-1zM142 24h1v1h-1zM142 29h1v2h-1zM142 34h1v1h-1zM142 50h1v1h-1zM142 52h1v1h-1zM142 54h1v1h-1zM142 73h1v1h-1zM142 76h1v1h-1zM142 81h1v1h-1zM142 84h1v2h-1zM142 99h1v2h-1zM142 120h1v2h-1zM142 123h1v1h-1zM142 145h1v1h-1zM142 148h1v1h-1zM142 150h1v1h-1zM142 171h1v1h-1zM142 197h1v2h-1zM142 245h1v1h-1zM142 248h1v1h-1zM142 253h1v1h-1zM142 277h1v1h-1zM143 14h1v1h-1zM143 24h1v1h-1zM143 43h1v2h-1zM143 48h1v1h-1zM143 73h1v1h-1zM143 86h1v1h-1zM143 91h1v1h-1zM143 144h1v1h-1zM143 159h1v1h-1zM143 164h1v1h-1zM143 166h1v1h-1zM143 169h1v1h-1zM143 185h1v2h-1zM143 193h1v1h-1zM143 208h1v1h-1zM143 214h1v1h-1zM143 239h1v1h-1zM143 261h1v1h-1zM143 264h1v2h-1zM143 277h1v1h-1zM144 25h1v1h-1zM144 36h1v2h-1zM144 49h1v1h-1zM144 55h1v1h-1zM144 80h1v2h-1zM144 123h1v1h-1zM144 127h1v1h-1zM144 129h1v1h-1zM144 131h1v2h-1zM144 144h1v1h-1zM144 149h1v2h-1zM144 157h1v1h-1zM144 174h1v1h-1zM144 181h1v1h-1zM144 203h1v1h-1zM144 241h1v1h-1zM144 244h1v1h-1zM144 248h1v1h-1zM144 250h1v1h-1zM144 274h1v1h-1zM144 276h1v2h-1zM145 1h1v1h-1zM145 14h1v1h-1zM145 19h1v1h-1zM145 22h1v2h-1zM145 39h1v1h-1zM145 45h1v1h-1zM145 94h1v1h-1zM145 142h1v1h-1zM145 160h1v3h-1zM145 180h1v1h-1zM145 190h1v2h-1zM145 193h1v1h-1zM145 206h1v1h-1zM145 215h1v1h-1zM145 235h1v1h-1zM145 254h1v1h-1zM145 256h1v1h-1zM145 259h1v1h-1zM145 285h1v1h-1zM146 3h1v1h-1zM146 31h1v1h-1zM146 55h1v1h-1zM146 59h1v1h-1zM146 82h1v1h-1zM146 100h1v1h-1zM146 121h1v1h-1zM146 133h1v1h-1zM146 147h1v2h-1zM146 156h1v1h-1zM146 195h1v1h-1zM146 200h1v1h-1zM146 247h1v1h-1zM146 251h1v1h-1zM146 269h1v1h-1zM147 1h1v1h-1zM147 36h1v2h-1zM147 41h1v1h-1zM147 88h1v1h-1zM147 120h1v2h-1zM147 139h1v1h-1zM147 142h1v1h-1zM147 157h1v2h-1zM147 164h1v1h-1zM147 167h1v1h-1zM147 185h1v1h-1zM147 188h1v1h-1zM147 205h1v2h-1zM147 210h1v1h-1zM147 213h1v1h-1zM147 233h1v1h-1zM147 236h1v1h-1zM147 239h1v1h-1zM147 255h1v1h-1zM147 260h1v2h-1zM147 279h1v1h-1zM148 4h1v1h-1zM148 73h1v1h-1zM148 76h1v1h-1zM148 78h1v1h-1zM148 99h1v1h-1zM148 126h1v1h-1zM148 129h1v1h-1zM148 131h1v1h-1zM148 144h1v1h-1zM148 147h1v1h-1zM148 157h1v1h-1zM148 171h1v1h-1zM148 201h1v1h-1zM148 205h1v1h-1zM148 240h1v1h-1zM148 247h1v1h-1zM148 272h1v1h-1zM149 12h1v1h-1zM149 37h1v1h-1zM149 39h1v1h-1zM149 43h1v1h-1zM149 47h1v1h-1zM149 87h1v1h-1zM149 90h1v1h-1zM149 121h1v1h-1zM149 136h1v2h-1zM149 144h1v1h-1zM149 164h1v1h-1zM149 188h1v1h-1zM149 192h1v2h-1zM149 208h1v1h-1zM149 210h1v1h-1zM149 213h1v1h-1zM149 233h1v1h-1zM149 235h1v1h-1zM149 257h1v1h-1zM149 259h1v1h-1zM149 265h1v1h-1zM149 281h1v1h-1zM150 1h1v1h-1zM150 3h1v1h-1zM150 7h1v1h-1zM150 30h1v1h-1zM150 50h1v1h-1zM150 53h1v1h-1zM150 80h1v1h-1zM150 82h1v2h-1zM150 104h1v1h-1zM150 123h1v1h-1zM150 125h1v1h-1zM150 144h1v1h-1zM150 146h1v1h-1zM150 177h1v1h-1zM150 193h1v2h-1zM150 200h1v2h-1zM150 204h1v1h-1zM150 242h1v2h-1zM150 247h1v1h-1zM150 250h1v1h-1zM150 252h1v2h-1zM150 266h1v1h-1zM150 274h1v1h-1zM150 277h1v1h-1zM151 12h1v1h-1zM151 22h1v2h-1zM151 36h1v1h-1zM151 38h1v1h-1zM151 132h1v1h-1zM151 136h1v1h-1zM151 143h1v1h-1zM151 145h1v1h-1zM151 167h1v1h-1zM151 169h1v1h-1zM151 188h1v1h-1zM151 191h1v2h-1zM151 211h1v1h-1zM151 263h1v1h-1zM151 277h1v1h-1zM152 10h1v1h-1zM152 32h1v2h-1zM152 48h1v1h-1zM152 51h1v1h-1zM152 75h1v1h-1zM152 102h1v1h-1zM152 123h1v1h-1zM152 127h1v1h-1zM152 150h1v1h-1zM152 174h1v1h-1zM152 192h1v1h-1zM152 195h1v2h-1zM152 199h1v1h-1zM152 246h1v1h-1zM152 248h1v1h-1zM152 252h1v1h-1zM152 270h1v1h-1zM152 272h1v2h-1zM153 19h1v1h-1zM153 21h1v1h-1zM153 24h1v1h-1zM153 36h1v1h-1zM153 44h1v1h-1zM153 47h1v2h-1zM153 90h1v1h-1zM153 94h1v1h-1zM153 121h1v1h-1zM153 132h1v1h-1zM153 160h1v2h-1zM153 163h1v1h-1zM153 183h1v1h-1zM153 208h1v1h-1zM153 215h1v1h-1zM153 234h1v1h-1zM153 238h1v2h-1zM153 261h1v1h-1zM153 279h1v2h-1zM153 286h1v2h-1zM156 1h1v1h-1zM156 5h1v1h-1zM156 9h1v1h-1zM156 26h1v1h-1zM156 32h1v1h-1zM156 35h1v3h-1zM156 58h1v1h-1zM156 75h1v1h-1zM156 79h1v1h-1zM156 81h1v1h-1zM156 106h1v1h-1zM156 124h1v1h-1zM156 145h1v2h-1zM156 168h1v1h-1zM156 180h1v1h-1zM156 199h1v2h-1zM156 204h1v2h-1zM156 245h1v1h-1zM156 251h1v1h-1zM156 253h1v1h-1zM156 264h1v1h-1zM156 266h1v1h-1zM156 272h1v1h-1zM157 13h1v1h-1zM157 15h1v1h-1zM157 24h1v1h-1zM157 44h1v1h-1zM157 73h1v1h-1zM157 84h1v1h-1zM157 94h1v1h-1zM157 119h1v1h-1zM157 132h1v1h-1zM157 138h1v1h-1zM157 143h1v1h-1zM157 156h1v1h-1zM157 163h1v2h-1zM157 181h1v2h-1zM157 188h1v1h-1zM157 206h1v1h-1zM157 209h1v1h-1zM157 252h1v1h-1zM157 257h1v1h-1zM157 262h1v1h-1zM157 283h1v1h-1zM158 0h1v1h-1zM158 10h1v1h-1zM158 24h1v1h-1zM158 28h1v1h-1zM158 48h1v1h-1zM158 50h1v1h-1zM158 52h1v1h-1zM158 55h1v2h-1zM158 59h1v1h-1zM158 81h1v1h-1zM158 84h1v1h-1zM158 103h1v1h-1zM158 123h1v1h-1zM158 125h1v1h-1zM158 128h1v1h-1zM158 132h1v1h-1zM158 147h1v3h-1zM158 152h1v1h-1zM158 169h1v1h-1zM158 180h1v1h-1zM158 198h1v1h-1zM158 201h1v1h-1zM158 203h1v3h-1zM158 253h1v1h-1zM158 266h1v1h-1zM159 36h1v1h-1zM159 39h1v1h-1zM159 48h1v1h-1zM159 135h1v1h-1zM159 138h1v2h-1zM159 142h1v1h-1zM159 145h1v1h-1zM159 165h1v2h-1zM159 185h1v2h-1zM159 191h1v1h-1zM159 233h1v1h-1zM159 238h1v1h-1zM159 257h1v1h-1zM160 4h1v2h-1zM160 26h1v1h-1zM160 31h1v1h-1zM160 50h1v1h-1zM160 81h1v1h-1zM160 97h1v1h-1zM160 100h1v1h-1zM160 106h1v1h-1zM160 123h1v1h-1zM160 126h1v2h-1zM160 145h1v1h-1zM160 148h1v2h-1zM160 157h1v1h-1zM160 180h1v1h-1zM160 194h1v3h-1zM160 241h1v1h-1zM160 243h1v2h-1zM160 248h1v1h-1zM160 250h1v1h-1zM160 272h1v1h-1zM160 274h1v1h-1zM161 0h1v1h-1zM161 18h1v1h-1zM161 23h1v1h-1zM161 37h1v1h-1zM161 39h1v1h-1zM161 42h1v1h-1zM161 88h1v1h-1zM161 92h1v1h-1zM161 119h1v1h-1zM161 133h1v1h-1zM161 138h1v1h-1zM161 143h1v1h-1zM161 165h1v1h-1zM161 180h1v1h-1zM161 189h1v1h-1zM161 212h1v1h-1zM161 233h1v1h-1zM161 236h1v1h-1zM161 238h1v2h-1zM161 241h1v1h-1zM161 256h1v1h-1zM161 280h1v1h-1zM162 0h1v1h-1zM162 2h1v1h-1zM162 4h1v1h-1zM162 12h1v1h-1zM162 28h1v1h-1zM162 32h1v2h-1zM162 49h1v1h-1zM162 60h1v1h-1zM162 73h1v2h-1zM162 82h1v2h-1zM162 96h1v1h-1zM162 100h1v1h-1zM162 120h1v2h-1zM162 124h1v1h-1zM162 130h1v2h-1zM162 147h1v1h-1zM162 168h1v1h-1zM162 170h1v2h-1zM162 181h1v1h-1zM162 193h1v1h-1zM162 196h1v1h-1zM162 247h1v1h-1zM162 253h1v1h-1zM163 12h1v1h-1zM163 20h1v1h-1zM163 36h1v1h-1zM163 41h1v1h-1zM163 46h1v2h-1zM163 49h1v1h-1zM163 73h1v1h-1zM163 88h1v1h-1zM163 92h1v1h-1zM163 120h1v1h-1zM163 162h1v2h-1zM163 169h1v1h-1zM163 183h1v1h-1zM163 188h1v1h-1zM163 190h1v1h-1zM163 207h1v1h-1zM163 215h1v1h-1zM163 233h1v1h-1zM163 254h1v1h-1zM163 261h1v1h-1zM163 263h1v1h-1zM164 3h1v3h-1zM164 26h1v1h-1zM164 31h1v1h-1zM164 33h1v1h-1zM164 56h1v1h-1zM164 58h1v1h-1zM164 78h1v1h-1zM164 83h1v2h-1zM164 96h1v1h-1zM164 100h1v1h-1zM164 105h1v1h-1zM164 126h1v1h-1zM164 133h1v1h-1zM164 171h1v1h-1zM164 193h1v1h-1zM164 197h1v1h-1zM164 199h1v1h-1zM164 205h1v1h-1zM164 253h1v1h-1zM164 264h1v1h-1zM164 273h1v1h-1zM165 12h1v1h-1zM165 18h1v1h-1zM165 21h1v1h-1zM165 44h1v1h-1zM165 47h1v1h-1zM165 49h1v1h-1zM165 90h1v1h-1zM165 92h1v1h-1zM165 132h1v1h-1zM165 140h1v3h-1zM165 157h1v1h-1zM165 161h1v1h-1zM165 166h1v1h-1zM165 181h1v1h-1zM165 183h1v1h-1zM165 205h1v1h-1zM165 253h1v1h-1zM166 11h1v1h-1zM166 25h1v1h-1zM166 35h1v2h-1zM166 81h1v1h-1zM166 97h1v1h-1zM166 104h1v1h-1zM166 123h1v1h-1zM166 144h1v1h-1zM166 153h1v1h-1zM166 168h1v1h-1zM166 180h1v2h-1zM166 199h1v1h-1zM166 204h1v1h-1zM166 249h1v2h-1zM166 266h1v2h-1zM166 270h1v2h-1zM167 1h1v1h-1zM167 14h1v1h-1zM167 20h1v1h-1zM167 24h1v1h-1zM167 43h1v1h-1zM167 47h1v1h-1zM167 49h1v1h-1zM167 73h1v1h-1zM167 86h1v3h-1zM167 90h1v1h-1zM167 121h1v1h-1zM167 134h1v1h-1zM167 141h1v1h-1zM167 144h1v1h-1zM167 156h1v1h-1zM167 186h1v1h-1zM167 191h1v1h-1zM167 209h1v1h-1zM167 211h1v1h-1zM167 237h1v1h-1zM167 253h1v1h-1zM167 255h1v1h-1zM167 258h1v5h-1zM167 264h1v2h-1zM167 278h1v2h-1zM167 283h1v1h-1zM167 286h1v2h-1zM168 4h1v1h-1zM168 6h1v1h-1zM168 9h1v1h-1zM168 13h1v1h-1zM168 30h1v1h-1zM168 51h1v2h-1zM168 54h1v1h-1zM168 84h1v1h-1zM168 98h1v1h-1zM168 123h1v1h-1zM168 144h1v1h-1zM168 149h1v1h-1zM168 154h1v1h-1zM168 156h1v1h-1zM168 174h1v1h-1zM168 179h1v1h-1zM168 198h1v1h-1zM168 241h1v1h-1zM168 267h1v1h-1zM169 0h1v1h-1zM169 14h1v2h-1zM169 23h1v1h-1zM169 41h1v1h-1zM169 86h1v1h-1zM169 97h1v1h-1zM169 119h1v1h-1zM169 139h1v1h-1zM169 162h1v1h-1zM169 165h1v1h-1zM169 168h1v1h-1zM169 180h1v1h-1zM169 188h1v1h-1zM169 191h1v1h-1zM169 206h1v1h-1zM169 255h1v1h-1zM169 257h1v2h-1zM169 261h1v2h-1zM169 264h1v1h-1zM169 276h1v1h-1zM169 281h1v1h-1zM169 285h1v1h-1zM170 10h1v1h-1zM170 24h1v1h-1zM170 74h1v1h-1zM170 81h1v1h-1zM170 83h1v1h-1zM170 96h1v1h-1zM170 101h1v1h-1zM170 103h1v1h-1zM170 152h1v1h-1zM170 173h1v1h-1zM170 175h1v1h-1zM170 194h1v1h-1zM170 204h1v1h-1zM170 243h1v2h-1zM170 248h1v1h-1zM170 251h1v1h-1zM170 277h1v1h-1zM171 1h1v1h-1zM171 16h1v1h-1zM171 25h1v1h-1zM171 41h1v2h-1zM171 46h1v1h-1zM171 48h1v1h-1zM171 94h1v1h-1zM171 133h1v1h-1zM171 144h1v1h-1zM171 160h1v2h-1zM171 184h1v1h-1zM171 189h1v1h-1zM171 207h1v1h-1zM171 234h1v1h-1zM171 236h1v1h-1zM171 261h1v1h-1zM171 277h1v2h-1zM171 282h1v1h-1zM171 284h1v1h-1zM175 0h1v2h-1zM175 21h1v1h-1zM175 41h1v1h-1zM175 84h1v1h-1zM175 96h1v1h-1zM175 121h1v1h-1zM175 160h1v1h-1zM175 181h1v2h-1zM175 184h1v1h-1zM175 204h1v1h-1zM175 209h1v1h-1zM175 236h1v1h-1zM175 240h1v1h-1zM175 252h1v2h-1zM175 265h1v1h-1zM175 276h1v1h-1zM175 284h1v1h-1zM176 0h1v1h-1zM176 3h1v1h-1zM176 8h1v1h-1zM176 26h1v1h-1zM176 33h1v1h-1zM176 35h1v2h-1zM176 50h1v1h-1zM176 55h1v1h-1zM176 74h1v1h-1zM176 80h1v1h-1zM176 82h1v2h-1zM176 96h1v1h-1zM176 98h1v1h-1zM176 102h1v1h-1zM176 104h1v1h-1zM176 124h1v1h-1zM176 133h1v1h-1zM176 175h1v1h-1zM176 242h1v1h-1zM176 246h1v1h-1zM176 253h1v1h-1zM176 270h1v1h-1zM176 273h1v1h-1zM177 1h1v1h-1zM177 12h1v1h-1zM177 15h1v1h-1zM177 23h1v1h-1zM177 46h1v1h-1zM177 91h1v2h-1zM177 132h1v2h-1zM177 156h1v2h-1zM177 165h1v1h-1zM177 180h1v1h-1zM177 190h1v2h-1zM177 204h1v1h-1zM177 210h1v2h-1zM177 257h1v1h-1zM177 276h1v2h-1zM177 280h1v1h-1zM177 282h1v1h-1zM177 286h1v2h-1zM178 11h1v1h-1zM178 13h1v1h-1zM178 25h1v3h-1zM178 36h1v1h-1zM178 56h1v1h-1zM178 75h1v1h-1zM178 81h1v1h-1zM178 85h1v1h-1zM178 102h1v1h-1zM178 104h1v1h-1zM178 120h1v1h-1zM178 122h1v1h-1zM178 127h1v1h-1zM178 129h1v1h-1zM178 148h1v1h-1zM178 153h1v1h-1zM178 157h1v1h-1zM178 168h1v1h-1zM178 194h1v1h-1zM178 198h1v1h-1zM178 240h1v1h-1zM178 246h1v2h-1zM178 264h1v1h-1zM178 271h1v3h-1zM179 1h1v1h-1zM179 17h1v1h-1zM179 21h1v1h-1zM179 37h1v1h-1zM179 39h1v1h-1zM179 42h1v2h-1zM179 45h1v2h-1zM179 91h1v2h-1zM179 95h1v1h-1zM179 97h1v1h-1zM179 121h1v1h-1zM179 157h1v1h-1zM179 184h1v1h-1zM179 189h1v1h-1zM179 207h1v1h-1zM179 236h1v1h-1zM179 239h1v3h-1zM179 255h1v1h-1zM179 261h1v1h-1zM179 263h1v1h-1zM179 277h1v1h-1zM179 279h1v1h-1zM179 283h1v1h-1zM180 2h1v2h-1zM180 11h1v1h-1zM180 35h1v1h-1zM180 54h1v1h-1zM180 73h1v1h-1zM180 75h1v1h-1zM180 77h1v1h-1zM180 79h1v1h-1zM180 85h1v1h-1zM180 99h1v1h-1zM180 106h1v1h-1zM180 128h1v1h-1zM180 148h1v1h-1zM180 150h1v1h-1zM180 154h1v1h-1zM180 170h1v1h-1zM180 174h1v1h-1zM180 246h1v2h-1zM180 264h1v2h-1zM180 267h1v2h-1zM180 271h1v1h-1zM181 16h1v1h-1zM181 18h1v1h-1zM181 39h1v1h-1zM181 41h1v1h-1zM181 49h1v1h-1zM181 89h1v1h-1zM181 94h1v1h-1zM181 96h1v1h-1zM181 119h1v1h-1zM181 158h1v1h-1zM181 181h1v1h-1zM181 183h1v1h-1zM181 185h1v2h-1zM181 189h1v1h-1zM181 193h1v1h-1zM181 205h1v1h-1zM181 208h1v1h-1zM181 212h1v1h-1zM181 214h1v1h-1zM181 240h1v1h-1zM181 255h1v1h-1zM181 259h1v1h-1zM181 277h1v1h-1zM181 283h1v1h-1zM181 287h1v1h-1zM184 6h1v1h-1zM184 11h1v1h-1zM184 25h1v3h-1zM184 35h1v1h-1zM184 53h1v1h-1zM184 55h1v1h-1zM184 79h1v2h-1zM184 97h1v1h-1zM184 100h1v1h-1zM184 123h1v1h-1zM184 133h1v1h-1zM184 144h1v1h-1zM184 146h1v1h-1zM184 153h1v1h-1zM184 168h1v1h-1zM184 171h1v1h-1zM184 173h1v2h-1zM184 178h1v1h-1zM184 193h1v1h-1zM184 203h1v1h-1zM184 244h1v1h-1zM184 248h1v1h-1zM184 268h1v1h-1zM185 13h1v1h-1zM185 19h1v1h-1zM185 22h1v1h-1zM185 40h1v1h-1zM185 86h1v1h-1zM185 93h1v1h-1zM185 97h1v1h-1zM185 119h1v1h-1zM185 132h1v1h-1zM185 135h1v1h-1zM185 160h1v1h-1zM185 169h1v1h-1zM185 180h1v2h-1zM185 183h1v1h-1zM185 210h1v1h-1zM185 213h1v1h-1zM185 234h1v2h-1zM185 238h1v1h-1zM185 252h1v1h-1zM185 254h1v1h-1zM185 259h1v1h-1zM185 263h1v1h-1zM185 265h1v1h-1zM185 277h1v2h-1zM185 282h1v2h-1zM185 285h1v2h-1zM186 3h1v1h-1zM186 5h1v1h-1zM186 8h1v1h-1zM186 27h1v1h-1zM186 34h1v1h-1zM186 36h1v2h-1zM186 53h1v1h-1zM186 56h1v1h-1zM186 58h1v1h-1zM186 75h1v1h-1zM186 77h1v2h-1zM186 80h1v1h-1zM186 82h1v1h-1zM186 125h1v1h-1zM186 131h1v1h-1zM186 148h1v1h-1zM186 151h1v1h-1zM186 168h1v1h-1zM186 177h1v1h-1zM186 181h1v1h-1zM186 192h1v1h-1zM186 196h1v1h-1zM186 202h1v1h-1zM186 241h1v2h-1zM186 244h1v1h-1zM186 247h1v1h-1zM186 272h1v1h-1zM186 275h1v1h-1zM187 0h1v1h-1zM187 18h1v1h-1zM187 21h1v1h-1zM187 25h1v1h-1zM187 38h1v2h-1zM187 41h1v3h-1zM187 46h1v1h-1zM187 88h1v1h-1zM187 92h1v1h-1zM187 118h1v1h-1zM187 138h1v1h-1zM187 158h1v1h-1zM187 160h1v1h-1zM187 163h1v1h-1zM187 167h1v2h-1zM187 212h1v3h-1zM187 234h1v2h-1zM187 238h1v1h-1zM187 259h1v1h-1zM187 261h1v1h-1zM187 283h1v1h-1zM187 285h1v1h-1zM187 287h1v1h-1zM188 31h1v1h-1zM188 34h1v2h-1zM188 54h1v1h-1zM188 76h1v1h-1zM188 96h1v1h-1zM188 100h1v1h-1zM188 102h1v1h-1zM188 104h1v2h-1zM188 121h1v2h-1zM188 146h1v1h-1zM188 150h1v1h-1zM188 157h1v1h-1zM188 176h1v1h-1zM188 202h1v1h-1zM188 249h1v4h-1zM188 266h1v1h-1zM188 268h1v2h-1zM188 272h1v1h-1zM188 276h1v1h-1zM189 19h1v2h-1zM189 22h1v1h-1zM189 44h1v1h-1zM189 46h1v1h-1zM189 84h1v1h-1zM189 86h1v1h-1zM189 135h1v2h-1zM189 138h1v1h-1zM189 140h1v2h-1zM189 164h1v1h-1zM189 167h1v1h-1zM189 186h1v1h-1zM189 207h1v2h-1zM189 232h1v1h-1zM189 236h1v1h-1zM189 257h1v1h-1zM189 265h1v1h-1zM189 279h1v1h-1zM189 283h1v2h-1zM190 0h1v1h-1zM190 6h1v1h-1zM190 9h1v2h-1zM190 13h1v1h-1zM190 29h1v1h-1zM190 31h1v1h-1zM190 33h1v2h-1zM190 48h1v1h-1zM190 54h1v1h-1zM190 56h1v1h-1zM190 74h1v1h-1zM190 82h1v1h-1zM190 85h1v1h-1zM190 99h1v1h-1zM190 125h1v3h-1zM190 132h1v1h-1zM190 146h1v1h-1zM190 151h1v1h-1zM190 153h1v3h-1zM190 171h1v2h-1zM190 194h1v1h-1zM190 197h1v1h-1zM190 199h1v1h-1zM190 251h1v2h-1zM190 264h1v1h-1zM190 266h1v1h-1zM190 268h1v1h-1zM190 273h1v1h-1zM190 276h1v1h-1zM191 0h1v1h-1zM191 12h1v1h-1zM191 21h1v1h-1zM191 37h1v1h-1zM191 39h1v1h-1zM191 41h1v1h-1zM191 48h1v1h-1zM191 85h1v1h-1zM191 88h1v2h-1zM191 91h1v2h-1zM191 164h1v1h-1zM191 184h1v1h-1zM191 191h1v1h-1zM191 252h1v2h-1zM191 256h1v1h-1zM191 259h1v2h-1zM191 284h1v1h-1zM191 286h1v1h-1zM198 0h1v2h-1zM198 9h1v2h-1zM198 13h1v1h-1zM198 24h1v1h-1zM198 26h1v1h-1zM198 31h1v1h-1zM198 49h1v1h-1zM198 51h1v1h-1zM198 54h1v1h-1zM198 78h1v1h-1zM198 84h1v1h-1zM198 97h1v2h-1zM198 105h1v1h-1zM198 120h1v1h-1zM198 132h1v2h-1zM198 146h1v1h-1zM198 150h1v1h-1zM198 170h1v1h-1zM198 174h1v1h-1zM198 176h1v1h-1zM198 193h1v1h-1zM198 205h1v1h-1zM198 264h1v1h-1zM198 273h1v1h-1zM199 17h1v2h-1zM199 48h1v1h-1zM199 85h1v1h-1zM199 90h1v1h-1zM199 96h1v1h-1zM199 120h1v1h-1zM199 137h1v1h-1zM199 158h1v1h-1zM199 162h1v2h-1zM199 165h1v1h-1zM199 180h1v2h-1zM199 183h1v1h-1zM199 192h1v1h-1zM199 207h1v1h-1zM199 232h1v1h-1zM199 261h1v1h-1zM199 265h1v1h-1zM199 279h1v3h-1zM199 284h1v1h-1zM199 286h1v1h-1zM200 0h1v1h-1zM200 13h1v1h-1zM200 24h1v4h-1zM200 29h1v1h-1zM200 33h1v1h-1zM200 37h1v1h-1zM200 49h1v1h-1zM200 53h1v1h-1zM200 57h1v1h-1zM200 59h1v1h-1zM200 75h1v1h-1zM200 77h1v1h-1zM200 84h1v2h-1zM200 99h1v1h-1zM200 120h1v1h-1zM200 123h1v1h-1zM200 125h1v2h-1zM200 130h1v1h-1zM200 132h1v1h-1zM200 148h1v2h-1zM200 152h1v1h-1zM200 170h1v2h-1zM200 178h1v1h-1zM200 194h1v1h-1zM200 243h1v1h-1zM200 246h1v2h-1zM200 251h1v2h-1zM200 265h1v1h-1zM200 271h1v1h-1zM200 273h1v1h-1zM200 276h1v1h-1zM201 0h1v1h-1zM201 12h1v1h-1zM201 39h1v1h-1zM201 45h1v1h-1zM201 47h1v1h-1zM201 73h1v1h-1zM201 121h1v1h-1zM201 135h1v1h-1zM201 138h1v1h-1zM201 140h1v1h-1zM201 157h1v1h-1zM201 162h1v1h-1zM201 190h1v2h-1zM201 206h1v1h-1zM201 208h1v1h-1zM201 213h1v1h-1zM201 233h1v1h-1zM201 235h1v2h-1zM201 254h1v1h-1zM201 262h1v1h-1zM201 265h1v1h-1zM201 278h1v1h-1zM201 281h1v1h-1zM201 283h1v2h-1zM202 2h1v1h-1zM202 5h1v1h-1zM202 9h1v1h-1zM202 24h1v1h-1zM202 29h1v1h-1zM202 37h1v1h-1zM202 51h1v1h-1zM202 59h1v1h-1zM202 77h1v1h-1zM202 80h1v2h-1zM202 98h1v1h-1zM202 104h1v1h-1zM202 120h1v1h-1zM202 145h1v1h-1zM202 153h1v1h-1zM202 156h1v1h-1zM202 168h1v1h-1zM202 178h1v1h-1zM202 244h1v2h-1zM202 247h1v1h-1zM202 249h1v1h-1zM202 264h1v1h-1zM202 267h1v1h-1zM202 273h1v1h-1zM202 275h1v1h-1zM203 1h1v1h-1zM203 15h1v1h-1zM203 21h1v1h-1zM203 24h1v1h-1zM203 37h1v2h-1zM203 90h1v1h-1zM203 96h1v2h-1zM203 120h1v1h-1zM203 136h1v1h-1zM203 141h1v1h-1zM203 160h1v1h-1zM203 164h1v1h-1zM203 166h1v1h-1zM203 180h1v2h-1zM203 187h1v1h-1zM203 189h1v1h-1zM203 193h1v1h-1zM203 208h1v1h-1zM203 211h1v1h-1zM203 213h1v1h-1zM203 232h1v1h-1zM203 235h1v1h-1zM203 241h1v1h-1zM203 255h1v1h-1zM203 265h1v1h-1zM204 9h1v1h-1zM204 11h1v1h-1zM204 26h1v1h-1zM204 30h1v1h-1zM204 33h1v2h-1zM204 55h1v1h-1zM204 77h1v1h-1zM204 90h1v1h-1zM204 95h1v2h-1zM204 101h1v2h-1zM204 105h1v1h-1zM204 120h1v2h-1zM204 129h1v1h-1zM204 144h1v1h-1zM204 173h1v1h-1zM204 177h1v1h-1zM204 180h1v2h-1zM204 199h1v1h-1zM204 203h1v2h-1zM204 248h1v1h-1zM204 267h1v1h-1zM204 269h1v1h-1zM205 18h1v2h-1zM205 24h1v1h-1zM205 38h1v1h-1zM205 43h1v1h-1zM205 45h1v1h-1zM205 85h1v1h-1zM205 90h1v1h-1zM205 95h1v1h-1zM205 97h1v1h-1zM205 119h1v1h-1zM205 132h1v1h-1zM205 134h1v2h-1zM205 138h1v1h-1zM205 156h1v1h-1zM205 164h1v1h-1zM205 189h1v1h-1zM205 193h1v1h-1zM205 206h1v1h-1zM205 208h1v1h-1zM205 233h1v1h-1zM205 255h1v2h-1zM205 260h1v1h-1zM205 277h1v2h-1zM205 280h1v1h-1zM205 282h1v3h-1zM206 26h1v1h-1zM206 31h1v1h-1zM206 50h1v1h-1zM206 52h1v1h-1zM206 58h1v1h-1zM206 75h1v1h-1zM206 79h1v3h-1zM206 84h1v1h-1zM206 91h1v2h-1zM206 106h1v1h-1zM206 121h1v1h-1zM206 125h1v1h-1zM206 127h1v1h-1zM206 144h1v1h-1zM206 153h1v1h-1zM206 157h1v1h-1zM206 170h1v1h-1zM206 172h1v1h-1zM206 177h1v1h-1zM206 192h1v1h-1zM206 198h1v1h-1zM206 203h1v1h-1zM206 243h1v1h-1zM206 245h1v1h-1zM206 253h1v1h-1zM206 266h1v1h-1zM206 269h1v1h-1zM207 15h1v2h-1zM207 22h1v2h-1zM207 36h1v1h-1zM207 39h1v1h-1zM207 85h1v1h-1zM207 92h1v2h-1zM207 95h1v1h-1zM207 142h1v1h-1zM207 158h1v1h-1zM207 163h1v1h-1zM207 186h1v1h-1zM207 191h1v3h-1zM207 204h1v1h-1zM207 209h1v1h-1zM207 232h1v1h-1zM207 234h1v1h-1zM207 252h1v2h-1zM207 260h1v2h-1zM207 263h1v1h-1zM207 265h1v1h-1zM207 276h1v1h-1zM207 283h1v1h-1zM208 3h1v1h-1zM208 7h1v3h-1zM208 12h1v2h-1zM208 29h1v1h-1zM208 48h1v1h-1zM208 54h1v1h-1zM208 58h1v1h-1zM208 74h1v1h-1zM208 85h1v1h-1zM208 96h1v1h-1zM208 100h1v1h-1zM208 120h1v1h-1zM208 146h1v1h-1zM208 150h1v1h-1zM208 170h1v1h-1zM208 172h1v1h-1zM208 195h1v1h-1zM208 197h1v1h-1zM208 199h1v1h-1zM208 202h1v1h-1zM208 240h1v1h-1zM208 248h1v2h-1zM208 252h1v1h-1zM208 264h1v1h-1zM208 269h1v1h-1zM208 271h1v2h-1zM209 20h1v2h-1zM209 36h1v1h-1zM209 40h1v1h-1zM209 47h1v1h-1zM209 49h1v1h-1zM209 84h1v1h-1zM209 86h1v1h-1zM209 92h1v1h-1zM209 96h1v1h-1zM209 119h1v1h-1zM209 141h1v1h-1zM209 144h1v1h-1zM209 157h1v1h-1zM209 159h1v1h-1zM209 166h1v2h-1zM209 190h1v1h-1zM209 206h1v1h-1zM209 212h1v1h-1zM209 236h1v1h-1zM209 254h1v1h-1zM209 259h1v1h-1zM209 286h1v1h-1zM210 1h1v1h-1zM210 6h1v1h-1zM210 30h1v1h-1zM210 37h1v1h-1zM210 51h1v1h-1zM210 76h1v1h-1zM210 80h1v1h-1zM210 90h1v2h-1zM210 102h1v1h-1zM210 105h1v1h-1zM210 123h1v1h-1zM210 132h1v1h-1zM210 144h1v1h-1zM210 146h1v1h-1zM210 150h1v1h-1zM210 154h1v1h-1zM210 178h1v1h-1zM210 181h1v1h-1zM210 194h1v1h-1zM210 202h1v1h-1zM210 204h1v1h-1zM210 247h1v1h-1zM210 249h1v1h-1zM210 253h1v1h-1zM210 275h1v1h-1zM210 277h1v1h-1zM211 9h1v1h-1zM211 12h1v1h-1zM211 16h1v1h-1zM211 22h1v1h-1zM211 24h1v1h-1zM211 45h1v1h-1zM211 97h1v1h-1zM211 99h1v1h-1zM211 117h1v1h-1zM211 141h1v4h-1zM211 156h1v1h-1zM211 160h1v1h-1zM211 162h1v1h-1zM211 164h1v1h-1zM211 169h1v1h-1zM211 184h1v1h-1zM211 190h1v1h-1zM211 193h1v1h-1zM211 210h1v1h-1zM211 233h1v2h-1zM211 253h1v1h-1zM211 258h1v1h-1zM212 0h1v1h-1zM212 4h1v1h-1zM212 9h1v2h-1zM212 27h1v1h-1zM212 30h1v2h-1zM212 37h1v1h-1zM212 50h1v1h-1zM212 52h1v1h-1zM212 57h1v1h-1zM212 101h1v1h-1zM212 124h1v2h-1zM212 129h1v2h-1zM212 146h1v1h-1zM212 157h1v1h-1zM212 193h1v1h-1zM212 196h1v1h-1zM212 249h1v1h-1zM212 268h1v1h-1zM212 270h1v1h-1zM212 272h1v1h-1zM213 3h1v2h-1zM213 7h1v2h-1zM213 15h1v1h-1zM213 17h1v1h-1zM213 24h1v1h-1zM213 37h1v1h-1zM213 44h1v1h-1zM213 47h1v2h-1zM213 85h1v1h-1zM213 119h1v2h-1zM213 132h1v1h-1zM213 164h1v2h-1zM213 168h1v1h-1zM213 180h1v1h-1zM213 183h1v1h-1zM213 185h1v1h-1zM213 191h1v1h-1zM213 213h1v1h-1zM213 233h1v1h-1zM213 252h1v2h-1zM213 265h1v1h-1zM213 280h1v1h-1zM213 286h1v1h-1zM214 1h1v1h-1zM214 3h1v1h-1zM214 9h1v1h-1zM214 13h1v1h-1zM214 27h1v1h-1zM214 30h1v1h-1zM214 32h1v1h-1zM214 54h1v2h-1zM214 59h1v1h-1zM214 74h1v1h-1zM214 80h1v1h-1zM214 82h1v1h-1zM214 89h1v1h-1zM214 131h1v1h-1zM214 149h1v2h-1zM214 153h1v1h-1zM214 194h1v1h-1zM214 197h1v1h-1zM214 201h1v2h-1zM214 204h1v1h-1zM214 241h1v1h-1zM214 251h1v1h-1zM214 269h1v1h-1zM214 274h1v1h-1zM214 276h1v1h-1zM215 4h1v1h-1zM215 7h1v1h-1zM215 9h1v1h-1zM215 20h1v1h-1zM215 38h1v1h-1zM215 73h1v1h-1zM215 87h1v1h-1zM215 93h1v1h-1zM215 96h1v1h-1zM215 99h1v1h-1zM215 133h1v1h-1zM215 136h1v1h-1zM215 141h1v1h-1zM215 157h1v1h-1zM215 168h1v1h-1zM215 210h1v1h-1zM215 232h1v1h-1zM215 239h1v1h-1zM215 257h1v1h-1zM215 279h1v1h-1zM215 286h1v1h-1zM216 5h1v1h-1zM216 10h1v1h-1zM216 49h1v1h-1zM216 51h1v1h-1zM216 54h1v1h-1zM216 57h1v1h-1zM216 77h1v1h-1zM216 81h1v1h-1zM216 90h1v1h-1zM216 94h1v1h-1zM216 101h1v1h-1zM216 105h1v2h-1zM216 120h1v2h-1zM216 123h1v2h-1zM216 128h1v2h-1zM216 131h1v1h-1zM216 148h1v1h-1zM216 170h1v1h-1zM216 193h1v1h-1zM216 198h1v1h-1zM216 204h1v1h-1zM216 251h1v1h-1zM216 275h1v1h-1zM217 5h1v1h-1zM217 14h1v1h-1zM217 18h1v1h-1zM217 20h1v1h-1zM217 24h1v1h-1zM217 40h1v1h-1zM217 43h1v1h-1zM217 90h1v1h-1zM217 94h1v1h-1zM217 118h1v1h-1zM217 156h1v1h-1zM217 161h1v1h-1zM217 163h1v1h-1zM217 182h1v1h-1zM217 192h1v2h-1zM217 235h1v1h-1zM217 255h1v1h-1zM217 257h1v1h-1zM217 262h1v1h-1zM217 279h1v1h-1zM217 283h1v1h-1zM217 285h1v1h-1zM218 4h1v1h-1zM218 9h1v1h-1zM218 11h1v1h-1zM218 25h1v1h-1zM218 84h1v1h-1zM218 97h1v2h-1zM218 103h1v1h-1zM218 124h1v1h-1zM218 126h1v1h-1zM218 152h1v1h-1zM218 170h1v1h-1zM218 175h1v1h-1zM218 177h1v2h-1zM218 198h1v2h-1zM218 242h1v1h-1zM218 245h1v1h-1zM218 250h1v1h-1zM218 276h1v1h-1zM219 7h1v1h-1zM219 13h1v1h-1zM219 16h1v1h-1zM219 19h1v1h-1zM219 24h1v1h-1zM219 36h1v1h-1zM219 40h1v2h-1zM219 43h1v1h-1zM219 92h1v1h-1zM219 120h1v1h-1zM219 139h1v1h-1zM219 145h1v1h-1zM219 162h1v1h-1zM219 193h1v1h-1zM219 205h1v2h-1zM219 211h1v1h-1zM219 231h1v1h-1zM219 233h1v2h-1zM219 237h1v1h-1zM219 278h1v1h-1zM219 281h1v1h-1zM219 284h1v1h-1zM220 2h1v1h-1zM220 12h1v1h-1zM220 26h1v5h-1zM220 51h1v1h-1zM220 54h1v1h-1zM220 56h1v2h-1zM220 77h1v1h-1zM220 92h1v1h-1zM220 106h1v1h-1zM220 123h1v1h-1zM220 125h1v1h-1zM220 127h1v1h-1zM220 129h1v1h-1zM220 151h1v1h-1zM220 171h1v1h-1zM220 174h1v1h-1zM220 176h1v2h-1zM220 199h1v2h-1zM220 204h1v2h-1zM220 240h1v1h-1zM220 248h1v1h-1zM220 251h1v1h-1zM220 265h1v1h-1zM220 268h1v1h-1zM220 275h1v1h-1zM221 9h1v1h-1zM221 18h1v1h-1zM221 20h1v1h-1zM221 40h1v4h-1zM221 45h1v2h-1zM221 49h1v1h-1zM221 88h1v1h-1zM221 90h1v1h-1zM221 95h1v1h-1zM221 112h1v1h-1zM221 133h1v1h-1zM221 135h1v1h-1zM221 138h1v1h-1zM221 157h1v1h-1zM221 159h1v1h-1zM221 181h1v1h-1zM221 188h1v1h-1zM221 191h1v1h-1zM221 231h1v1h-1zM221 238h1v1h-1zM221 257h1v1h-1zM221 276h1v1h-1zM221 281h1v1h-1zM221 286h1v2h-1zM222 3h1v2h-1zM222 24h1v1h-1zM222 27h1v1h-1zM222 36h1v1h-1zM222 49h1v1h-1zM222 51h1v1h-1zM222 57h1v2h-1zM222 77h1v1h-1zM222 90h1v1h-1zM222 95h1v1h-1zM222 97h1v1h-1zM222 103h1v1h-1zM222 125h1v1h-1zM222 127h1v1h-1zM222 131h1v1h-1zM222 146h1v1h-1zM222 155h1v1h-1zM222 157h1v1h-1zM222 202h1v2h-1zM222 246h1v1h-1zM222 251h1v1h-1zM222 272h1v2h-1zM223 0h1v2h-1zM223 15h1v1h-1zM223 40h1v2h-1zM223 44h1v2h-1zM223 49h1v1h-1zM223 89h1v2h-1zM223 93h1v1h-1zM223 98h1v1h-1zM223 134h1v1h-1zM223 136h1v1h-1zM223 141h1v1h-1zM223 144h1v1h-1zM223 157h1v1h-1zM223 205h1v1h-1zM223 211h1v1h-1zM223 234h1v1h-1zM223 254h1v1h-1zM223 258h1v2h-1zM223 261h1v1h-1zM223 280h1v2h-1zM224 3h1v1h-1zM224 25h1v3h-1zM224 30h1v1h-1zM224 36h1v1h-1zM224 48h1v1h-1zM224 51h1v1h-1zM224 57h1v1h-1zM224 81h1v1h-1zM224 93h1v1h-1zM224 125h1v1h-1zM224 131h1v1h-1zM224 144h1v1h-1zM224 171h1v1h-1zM224 173h1v1h-1zM224 199h1v1h-1zM224 250h1v1h-1zM224 253h1v1h-1zM225 1h1v1h-1zM225 13h1v1h-1zM225 37h1v1h-1zM225 44h1v1h-1zM225 47h1v1h-1zM225 49h1v1h-1zM225 86h1v1h-1zM225 119h1v1h-1zM225 165h1v2h-1zM225 181h1v1h-1zM225 183h1v1h-1zM225 186h1v1h-1zM225 188h1v1h-1zM225 192h1v2h-1zM225 207h1v1h-1zM225 210h1v1h-1zM225 259h1v1h-1zM225 262h1v1h-1zM225 282h1v2h-1zM225 286h1v1h-1zM226 9h1v1h-1zM226 26h1v1h-1zM226 34h1v3h-1zM226 58h1v1h-1zM226 81h1v1h-1zM226 94h1v1h-1zM226 97h1v1h-1zM226 100h1v1h-1zM226 105h1v2h-1zM226 121h1v1h-1zM226 130h1v1h-1zM226 132h1v1h-1zM226 159h1v1h-1zM226 161h1v2h-1zM226 178h1v1h-1zM226 181h1v1h-1zM226 198h1v1h-1zM226 203h1v1h-1zM226 242h1v1h-1zM226 265h1v2h-1zM227 1h1v1h-1zM227 12h1v1h-1zM227 16h1v1h-1zM227 18h1v1h-1zM227 85h1v1h-1zM227 87h1v2h-1zM227 96h1v2h-1zM227 120h1v1h-1zM227 139h1v1h-1zM227 164h1v1h-1zM227 168h1v2h-1zM227 182h1v2h-1zM227 186h1v1h-1zM227 190h1v1h-1zM227 239h1v2h-1zM227 259h1v1h-1zM227 277h1v2h-1zM228 0h1v1h-1zM228 37h1v1h-1zM228 48h1v1h-1zM228 53h1v1h-1zM228 56h1v1h-1zM228 73h1v1h-1zM228 75h1v1h-1zM228 84h1v1h-1zM228 90h1v1h-1zM228 96h1v1h-1zM228 104h1v1h-1zM228 120h1v1h-1zM228 133h1v1h-1zM228 145h1v1h-1zM228 153h1v1h-1zM228 156h1v1h-1zM228 170h1v1h-1zM228 173h1v1h-1zM228 197h1v1h-1zM228 244h1v1h-1zM228 252h1v2h-1zM228 271h1v1h-1zM228 274h1v1h-1zM229 1h1v1h-1zM229 14h1v1h-1zM229 46h1v1h-1zM229 133h1v2h-1zM229 141h1v1h-1zM229 150h1v1h-1zM229 185h1v1h-1zM229 193h1v1h-1zM229 209h1v1h-1zM229 211h1v1h-1zM229 231h1v2h-1zM229 238h1v1h-1zM229 241h1v1h-1zM229 258h1v1h-1zM229 262h1v2h-1zM229 283h1v1h-1zM230 5h1v1h-1zM230 8h1v1h-1zM230 10h1v1h-1zM230 33h1v1h-1zM230 35h1v1h-1zM230 50h1v1h-1zM230 85h1v1h-1zM230 94h1v2h-1zM230 99h1v1h-1zM230 121h1v1h-1zM230 123h1v1h-1zM230 132h1v1h-1zM230 144h1v2h-1zM230 151h1v2h-1zM230 156h1v1h-1zM230 168h1v1h-1zM230 181h1v1h-1zM230 197h1v1h-1zM230 247h1v1h-1zM230 266h1v1h-1zM230 269h1v1h-1zM231 0h1v2h-1zM231 21h1v1h-1zM231 23h1v1h-1zM231 46h1v1h-1zM231 48h1v1h-1zM231 91h1v1h-1zM231 95h1v1h-1zM231 114h1v1h-1zM231 120h1v1h-1zM231 136h1v1h-1zM231 143h1v1h-1zM231 165h1v1h-1zM231 168h1v2h-1zM231 187h1v1h-1zM231 204h1v1h-1zM231 208h1v1h-1zM231 210h1v1h-1zM231 231h1v1h-1zM231 233h1v1h-1zM231 235h1v1h-1zM231 239h1v1h-1zM231 241h1v1h-1zM231 252h1v1h-1zM231 259h1v1h-1zM231 265h1v1h-1zM231 280h1v2h-1zM231 283h1v1h-1zM236 1h1v1h-1zM236 4h1v1h-1zM236 13h1v1h-1zM236 26h1v1h-1zM236 33h1v1h-1zM236 48h1v1h-1zM236 56h1v1h-1zM236 81h1v1h-1zM236 99h1v1h-1zM236 102h1v1h-1zM236 123h1v1h-1zM236 130h1v1h-1zM236 170h1v2h-1zM236 174h1v1h-1zM236 176h1v2h-1zM236 194h1v2h-1zM236 201h1v1h-1zM236 204h1v1h-1zM236 248h1v2h-1zM236 269h1v1h-1zM237 0h1v1h-1zM237 13h1v1h-1zM237 19h1v1h-1zM237 23h1v1h-1zM237 43h1v1h-1zM237 45h1v1h-1zM237 84h1v4h-1zM237 90h1v1h-1zM237 94h1v2h-1zM237 157h1v1h-1zM237 160h1v2h-1zM237 166h1v2h-1zM237 188h1v2h-1zM237 192h1v1h-1zM237 236h1v2h-1zM237 258h1v2h-1zM237 262h1v1h-1zM237 264h1v2h-1zM237 286h1v1h-1zM238 0h1v1h-1zM238 4h1v1h-1zM238 6h1v2h-1zM238 10h1v1h-1zM238 28h1v1h-1zM238 35h1v1h-1zM238 55h1v1h-1zM238 76h1v1h-1zM238 99h1v1h-1zM238 122h1v1h-1zM238 125h1v1h-1zM238 129h1v2h-1zM238 144h1v1h-1zM238 147h1v1h-1zM238 155h1v3h-1zM238 179h1v1h-1zM238 195h1v2h-1zM238 246h1v1h-1zM238 248h1v1h-1zM238 251h1v2h-1zM238 264h1v1h-1zM238 270h1v1h-1zM238 276h1v2h-1zM239 36h1v1h-1zM239 41h1v1h-1zM239 73h1v1h-1zM239 109h1v1h-1zM239 120h1v2h-1zM239 136h1v1h-1zM239 140h1v1h-1zM239 158h1v1h-1zM239 193h1v1h-1zM239 237h1v2h-1zM239 255h1v1h-1zM239 260h1v4h-1zM239 276h1v1h-1zM239 279h1v1h-1zM239 282h1v1h-1zM239 285h1v1h-1zM239 287h1v1h-1z"/>
<path fill="#4b5ca6" d="M5 17h1v1h-1zM5 42h1v1h-1zM5 63h1v2h-1zM5 68h1v1h-1zM5 70h1v1h-1zM5 84h1v2h-1zM5 87h1v1h-1zM5 93h1v1h-1zM5 96h1v2h-1zM5 120h1v1h-1zM5 133h1v1h-1zM5 138h1v1h-1zM5 143h1v3h-1zM5 166h1v1h-1zM5 169h1v1h-1zM5 187h1v1h-1zM5 205h1v1h-1zM5 241h1v1h-1zM5 253h1v1h-1zM5 260h1v1h-1zM5 263h1v1h-1zM6 3h1v1h-1zM6 5h1v2h-1zM6 8h1v1h-1zM6 34h1v1h-1zM6 51h1v1h-1zM6 56h1v1h-1zM6 80h1v1h-1zM6 83h1v1h-1zM6 120h1v3h-1zM6 145h1v1h-1zM6 148h1v1h-1zM6 154h1v2h-1zM6 173h1v1h-1zM6 175h1v1h-1zM6 195h1v1h-1zM6 219h1v1h-1zM6 243h1v1h-1zM6 246h1v2h-1zM6 249h1v1h-1zM6 251h1v2h-1zM6 270h1v1h-1zM7 0h1v1h-1zM7 12h1v1h-1zM7 22h1v1h-1zM7 43h1v1h-1zM7 45h1v1h-1zM7 65h1v2h-1zM7 84h1v1h-1zM7 89h1v2h-1zM7 92h1v1h-1zM7 95h1v1h-1zM7 121h1v1h-1zM7 133h1v1h-1zM7 141h1v1h-1zM7 144h1v1h-1zM7 159h1v1h-1zM7 180h1v1h-1zM7 189h1v1h-1zM7 215h1v1h-1zM7 277h1v2h-1zM7 282h1v1h-1zM7 286h1v1h-1zM8 3h1v2h-1zM8 9h1v2h-1zM8 28h1v1h-1zM8 33h1v1h-1zM8 53h1v1h-1zM8 58h1v1h-1zM8 74h1v1h-1zM8 100h1v1h-1zM8 145h1v1h-1zM8 147h1v1h-1zM8 150h1v1h-1zM8 170h1v1h-1zM8 175h1v2h-1zM8 201h1v2h-1zM8 204h1v1h-1zM8 218h1v2h-1zM8 242h1v1h-1zM8 245h1v1h-1zM8 265h1v1h-1zM8 270h1v1h-1zM10 2h1v1h-1zM10 10h1v1h-1zM10 13h1v1h-1zM10 36h1v1h-1zM10 79h1v1h-1zM10 102h1v2h-1zM10 123h1v1h-1zM10 130h1v2h-1zM10 149h1v1h-1zM10 154h1v1h-1zM10 171h1v1h-1zM10 173h1v1h-1zM10 180h1v2h-1zM10 219h1v1h-1zM10 242h1v1h-1zM10 247h1v1h-1zM10 269h1v1h-1zM10 274h1v1h-1zM11 12h1v1h-1zM11 25h1v1h-1zM11 40h1v1h-1zM11 44h1v2h-1zM11 48h1v1h-1zM11 68h1v1h-1zM11 73h1v1h-1zM11 90h1v3h-1zM11 94h1v1h-1zM11 120h1v1h-1zM11 165h1v1h-1zM11 169h1v1h-1zM11 184h1v1h-1zM11 209h1v1h-1zM11 217h1v1h-1zM11 239h1v1h-1zM11 253h1v2h-1zM11 256h1v1h-1zM11 262h1v1h-1zM11 265h1v1h-1zM11 282h1v1h-1zM18 24h1v1h-1zM18 32h1v1h-1zM18 34h1v1h-1zM18 50h1v1h-1zM18 56h1v1h-1zM18 80h1v1h-1zM18 85h1v1h-1zM18 97h1v1h-1zM18 99h1v1h-1zM18 153h1v1h-1zM18 173h1v1h-1zM18 175h1v1h-1zM18 182h1v1h-1zM18 185h1v1h-1zM18 199h1v2h-1zM18 216h1v1h-1zM18 241h1v1h-1zM18 249h1v2h-1zM18 265h1v1h-1zM18 269h1v1h-1zM18 277h1v1h-1zM19 25h1v1h-1zM19 41h1v1h-1zM19 91h1v2h-1zM19 120h1v1h-1zM19 136h1v1h-1zM19 140h1v1h-1zM19 153h1v1h-1zM19 156h1v1h-1zM19 161h1v1h-1zM19 167h1v1h-1zM19 172h1v1h-1zM19 175h1v1h-1zM19 177h1v1h-1zM19 183h1v1h-1zM19 197h1v1h-1zM19 204h1v1h-1zM19 260h1v2h-1zM20 7h1v1h-1zM20 27h1v1h-1zM20 33h1v1h-1zM20 36h1v1h-1zM20 48h1v1h-1zM20 56h1v1h-1zM20 58h1v1h-1zM20 61h1v1h-1zM20 74h1v1h-1zM20 85h1v1h-1zM20 149h1v1h-1zM20 154h1v1h-1zM20 169h1v1h-1zM20 172h1v2h-1zM20 175h1v1h-1zM20 178h1v1h-1zM20 192h1v1h-1zM20 195h1v1h-1zM20 200h1v1h-1zM20 248h1v1h-1zM20 253h1v1h-1zM20 266h1v2h-1zM20 273h1v1h-1zM21 18h1v1h-1zM21 20h1v1h-1zM21 39h1v1h-1zM21 63h1v1h-1zM21 72h1v2h-1zM21 93h1v2h-1zM21 135h1v1h-1zM21 152h1v1h-1zM21 154h1v1h-1zM21 157h1v1h-1zM21 164h1v1h-1zM21 166h1v1h-1zM21 170h1v2h-1zM21 174h1v1h-1zM21 176h1v1h-1zM21 178h1v1h-1zM21 180h1v1h-1zM21 184h1v1h-1zM21 205h1v1h-1zM21 208h1v1h-1zM21 212h1v1h-1zM21 215h1v1h-1zM21 256h1v1h-1zM21 276h1v1h-1zM22 24h1v1h-1zM22 49h1v1h-1zM22 59h1v1h-1zM22 120h1v1h-1zM22 144h1v1h-1zM22 148h1v1h-1zM22 157h1v1h-1zM22 161h1v1h-1zM22 165h1v1h-1zM22 179h1v1h-1zM22 183h1v1h-1zM22 186h1v1h-1zM22 195h1v1h-1zM22 197h1v1h-1zM22 242h1v1h-1zM22 244h1v1h-1zM22 246h1v3h-1zM22 269h1v1h-1zM22 271h1v1h-1zM23 3h1v1h-1zM23 15h1v1h-1zM23 22h1v1h-1zM23 38h1v1h-1zM23 41h1v1h-1zM23 44h1v1h-1zM23 48h1v1h-1zM23 63h1v1h-1zM23 66h1v1h-1zM23 93h1v1h-1zM23 96h1v2h-1zM23 121h1v1h-1zM23 136h1v2h-1zM23 139h1v1h-1zM23 152h1v1h-1zM23 166h1v1h-1zM23 178h1v1h-1zM23 182h1v1h-1zM23 199h1v1h-1zM23 211h1v1h-1zM23 238h1v1h-1zM23 253h1v1h-1zM23 263h1v1h-1zM24 13h1v1h-1zM24 35h1v1h-1zM24 49h1v1h-1zM24 55h1v1h-1zM24 61h1v1h-1zM24 76h1v2h-1zM24 81h1v1h-1zM24 99h1v1h-1zM24 120h1v1h-1zM24 122h1v2h-1zM24 125h1v1h-1zM24 127h1v3h-1zM24 145h1v1h-1zM24 149h1v1h-1zM24 153h1v1h-1zM24 155h1v2h-1zM24 170h1v1h-1zM24 172h1v2h-1zM24 182h1v2h-1zM24 188h1v1h-1zM24 216h1v1h-1zM24 218h1v1h-1zM24 265h1v1h-1zM24 269h1v1h-1zM24 275h1v1h-1zM25 6h1v1h-1zM25 15h1v1h-1zM25 21h1v1h-1zM25 42h1v1h-1zM25 65h1v1h-1zM25 67h1v1h-1zM25 69h1v2h-1zM25 85h1v1h-1zM25 87h1v1h-1zM25 92h1v2h-1zM25 97h1v1h-1zM25 120h1v1h-1zM25 141h1v1h-1zM25 148h1v1h-1zM25 152h1v3h-1zM25 157h1v1h-1zM25 159h1v1h-1zM25 170h1v1h-1zM25 181h1v1h-1zM25 195h1v2h-1zM25 198h1v1h-1zM25 204h1v1h-1zM25 212h1v1h-1zM25 216h1v1h-1zM25 238h1v1h-1zM25 240h1v1h-1zM25 257h1v1h-1zM26 30h1v1h-1zM26 35h1v3h-1zM26 48h1v1h-1zM26 72h1v1h-1zM26 83h1v1h-1zM26 101h1v2h-1zM26 130h1v1h-1zM26 148h1v1h-1zM26 150h1v1h-1zM26 153h1v2h-1zM26 158h1v1h-1zM26 171h1v2h-1zM26 179h1v1h-1zM26 185h1v2h-1zM26 201h1v1h-1zM26 203h1v1h-1zM26 216h1v1h-1zM26 242h1v2h-1zM26 248h1v1h-1zM26 253h1v1h-1zM26 271h1v1h-1zM27 4h1v1h-1zM27 13h1v1h-1zM27 16h1v1h-1zM27 47h1v1h-1zM27 62h1v2h-1zM27 66h1v1h-1zM27 69h1v2h-1zM27 86h1v1h-1zM27 90h1v1h-1zM27 92h1v1h-1zM27 94h1v1h-1zM27 120h1v1h-1zM27 139h1v1h-1zM27 159h1v1h-1zM27 161h1v1h-1zM27 177h1v1h-1zM27 183h1v1h-1zM27 204h1v1h-1zM27 207h1v2h-1zM27 211h1v1h-1zM27 259h1v1h-1zM27 261h1v1h-1zM27 265h1v1h-1zM28 11h1v1h-1zM28 31h1v1h-1zM28 34h1v2h-1zM28 54h1v1h-1zM28 57h1v1h-1zM28 81h1v1h-1zM28 83h1v2h-1zM28 100h1v1h-1zM28 121h1v2h-1zM28 125h1v1h-1zM28 128h1v1h-1zM28 148h1v1h-1zM28 151h1v2h-1zM28 167h1v1h-1zM28 174h1v1h-1zM28 180h1v2h-1zM28 184h1v1h-1zM28 188h1v1h-1zM28 202h1v1h-1zM28 219h1v1h-1zM28 245h1v1h-1zM29 14h1v1h-1zM29 20h1v1h-1zM29 42h1v1h-1zM29 64h1v1h-1zM29 73h1v1h-1zM29 85h1v1h-1zM29 198h1v1h-1zM29 208h1v1h-1zM29 213h1v1h-1zM29 239h1v1h-1zM29 255h1v1h-1zM29 263h1v1h-1zM29 278h1v1h-1zM30 13h1v1h-1zM30 35h1v1h-1zM30 51h1v3h-1zM30 56h1v1h-1zM30 74h1v1h-1zM30 79h1v1h-1zM30 219h1v1h-1zM30 240h1v1h-1zM30 248h1v2h-1zM30 253h1v1h-1zM30 267h1v1h-1zM31 14h1v1h-1zM31 19h1v1h-1zM31 41h1v1h-1zM31 49h1v1h-1zM31 62h1v1h-1zM31 72h1v1h-1zM31 192h1v2h-1zM31 210h1v1h-1zM31 214h1v1h-1zM31 238h1v1h-1zM31 253h1v1h-1zM31 258h1v1h-1zM31 264h1v1h-1zM31 279h1v1h-1zM32 13h1v1h-1zM32 26h1v1h-1zM32 29h1v1h-1zM32 34h1v2h-1zM32 56h1v1h-1zM32 59h1v1h-1zM32 75h1v1h-1zM32 193h1v1h-1zM32 195h1v1h-1zM32 198h1v1h-1zM32 242h1v2h-1zM32 247h1v1h-1zM32 271h1v1h-1zM32 273h1v1h-1zM32 275h1v1h-1zM33 12h1v1h-1zM33 19h1v1h-1zM33 44h1v1h-1zM33 47h1v1h-1zM33 60h1v2h-1zM33 63h1v1h-1zM33 66h1v2h-1zM33 69h1v1h-1zM33 86h1v1h-1zM33 92h1v1h-1zM33 153h1v1h-1zM33 155h1v1h-1zM33 175h1v2h-1zM33 185h1v1h-1zM33 195h1v1h-1zM33 213h1v1h-1zM33 216h1v1h-1zM33 261h1v1h-1zM33 265h1v1h-1zM34 32h1v1h-1zM34 51h1v1h-1zM34 53h1v1h-1zM34 58h1v1h-1zM34 73h1v1h-1zM34 76h1v2h-1zM34 80h1v1h-1zM34 84h1v1h-1zM34 100h1v1h-1zM34 102h1v1h-1zM34 126h1v1h-1zM34 128h1v1h-1zM34 164h1v1h-1zM34 177h1v2h-1zM34 180h1v1h-1zM34 184h1v1h-1zM34 186h1v1h-1zM34 219h1v1h-1zM34 240h1v2h-1zM34 247h1v2h-1zM34 252h1v1h-1zM34 266h1v1h-1zM34 270h1v1h-1zM34 276h1v1h-1zM35 1h1v1h-1zM35 13h1v1h-1zM35 19h1v1h-1zM35 24h1v1h-1zM35 41h1v1h-1zM35 121h1v1h-1zM35 132h1v1h-1zM35 140h1v1h-1zM35 151h1v1h-1zM35 159h1v1h-1zM35 167h1v1h-1zM35 170h1v1h-1zM35 172h1v1h-1zM35 177h1v1h-1zM35 180h1v1h-1zM35 182h1v1h-1zM35 191h1v2h-1zM35 194h1v1h-1zM35 206h1v1h-1zM35 209h1v1h-1zM35 214h1v1h-1zM35 240h1v1h-1zM35 253h1v1h-1zM35 261h1v2h-1zM36 24h1v1h-1zM36 26h1v1h-1zM36 37h1v1h-1zM36 74h1v1h-1zM36 77h1v1h-1zM36 120h1v1h-1zM36 126h1v2h-1zM36 133h1v1h-1zM36 136h1v2h-1zM36 142h1v1h-1zM36 147h1v3h-1zM36 175h1v2h-1zM36 188h1v1h-1zM36 191h1v1h-1zM36 247h1v1h-1zM36 253h1v1h-1zM36 264h1v1h-1zM36 270h1v1h-1zM36 275h1v1h-1zM37 43h1v2h-1zM37 62h1v1h-1zM37 69h1v2h-1zM37 85h1v1h-1zM37 119h1v1h-1zM37 133h1v1h-1zM37 138h1v1h-1zM37 140h1v2h-1zM37 150h1v1h-1zM37 165h1v1h-1zM37 168h1v1h-1zM37 171h1v1h-1zM37 175h1v1h-1zM37 191h1v1h-1zM37 194h1v2h-1zM37 210h1v1h-1zM37 214h1v1h-1zM37 238h1v1h-1zM37 241h1v1h-1zM37 254h1v1h-1zM37 256h1v1h-1zM37 279h1v1h-1zM38 12h1v1h-1zM38 26h1v1h-1zM38 28h1v1h-1zM38 30h1v1h-1zM38 33h1v1h-1zM38 50h1v1h-1zM38 55h1v1h-1zM38 73h1v1h-1zM38 76h1v1h-1zM38 99h1v1h-1zM38 102h1v1h-1zM38 120h1v2h-1zM38 128h1v1h-1zM38 140h1v1h-1zM38 142h1v1h-1zM38 145h1v1h-1zM38 148h1v1h-1zM38 156h1v1h-1zM38 168h1v1h-1zM38 179h1v1h-1zM38 191h1v1h-1zM38 194h1v1h-1zM38 204h1v1h-1zM38 251h1v1h-1zM38 253h1v1h-1zM38 269h1v1h-1zM38 275h1v1h-1zM39 12h1v1h-1zM39 36h1v1h-1zM39 39h1v1h-1zM39 42h1v2h-1zM39 45h1v1h-1zM39 60h1v1h-1zM39 64h1v1h-1zM39 66h1v1h-1zM39 69h1v1h-1zM39 119h1v2h-1zM39 149h1v2h-1zM39 157h1v1h-1zM39 163h1v1h-1zM39 176h1v1h-1zM39 180h1v1h-1zM39 185h1v1h-1zM39 194h1v1h-1zM39 214h1v1h-1zM39 238h1v2h-1zM39 241h1v1h-1zM39 252h1v1h-1zM39 262h1v1h-1zM39 276h1v1h-1zM40 8h1v3h-1zM40 27h1v1h-1zM40 53h1v1h-1zM40 83h1v1h-1zM40 103h1v1h-1zM40 121h1v1h-1zM40 126h1v1h-1zM40 131h1v1h-1zM40 137h1v1h-1zM40 142h1v1h-1zM40 156h1v1h-1zM40 158h1v1h-1zM40 188h1v1h-1zM40 193h1v1h-1zM40 241h1v1h-1zM40 253h1v1h-1zM40 267h1v1h-1zM40 271h1v1h-1zM40 273h1v1h-1zM40 275h1v2h-1zM41 19h1v2h-1zM41 42h1v2h-1zM41 60h1v1h-1zM41 64h1v3h-1zM41 68h1v3h-1zM41 73h1v1h-1zM41 90h1v1h-1zM41 136h1v1h-1zM41 151h1v1h-1zM41 155h1v1h-1zM41 157h1v1h-1zM41 169h1v1h-1zM41 176h1v1h-1zM41 187h1v1h-1zM41 192h1v1h-1zM41 207h1v1h-1zM41 211h1v1h-1zM41 237h1v1h-1zM41 257h1v1h-1zM41 262h1v1h-1zM41 264h1v1h-1zM42 28h1v2h-1zM42 59h1v1h-1zM42 78h1v1h-1zM42 82h1v1h-1zM42 103h1v1h-1zM42 124h1v1h-1zM42 132h1v2h-1zM42 138h1v2h-1zM42 141h1v2h-1zM42 147h1v1h-1zM42 166h1v1h-1zM42 174h1v1h-1zM42 176h1v1h-1zM42 181h1v1h-1zM42 188h1v1h-1zM42 190h1v1h-1zM42 195h1v1h-1zM42 202h1v1h-1zM42 217h1v1h-1zM42 241h1v1h-1zM42 243h1v1h-1zM43 20h1v1h-1zM43 23h1v1h-1zM43 25h1v1h-1zM43 47h1v1h-1zM43 63h1v2h-1zM43 69h1v2h-1zM43 86h1v1h-1zM43 94h1v1h-1zM43 150h1v1h-1zM43 159h1v1h-1zM43 165h1v1h-1zM43 170h1v1h-1zM43 174h1v1h-1zM43 180h1v1h-1zM43 185h1v2h-1zM43 190h1v1h-1zM43 197h1v1h-1zM43 209h1v1h-1zM43 213h1v1h-1zM43 256h1v1h-1zM43 261h1v2h-1zM43 265h1v1h-1zM43 276h1v1h-1zM44 28h1v1h-1zM44 35h1v1h-1zM44 57h1v1h-1zM44 80h1v2h-1zM44 84h1v2h-1zM44 99h1v1h-1zM44 128h1v1h-1zM44 150h1v1h-1zM44 153h1v1h-1zM44 183h1v1h-1zM44 196h1v1h-1zM44 198h1v1h-1zM44 248h1v1h-1zM44 267h1v1h-1zM45 16h1v1h-1zM45 24h1v1h-1zM45 49h1v1h-1zM45 63h1v2h-1zM45 66h1v1h-1zM45 68h1v2h-1zM45 121h1v1h-1zM45 133h1v1h-1zM45 138h1v1h-1zM45 142h1v1h-1zM45 149h1v1h-1zM45 154h1v1h-1zM45 159h1v1h-1zM45 162h1v1h-1zM45 166h1v1h-1zM45 176h1v1h-1zM45 193h1v2h-1zM45 207h1v1h-1zM45 210h1v3h-1zM45 241h1v1h-1zM45 255h1v1h-1zM45 259h1v1h-1zM45 265h1v1h-1zM45 276h1v1h-1zM46 9h1v1h-1zM46 33h1v1h-1zM46 36h1v1h-1zM46 50h1v1h-1zM46 55h1v1h-1zM46 61h1v1h-1zM46 96h1v1h-1zM46 100h1v1h-1zM46 102h1v2h-1zM46 121h1v1h-1zM46 147h1v1h-1zM46 154h1v1h-1zM46 158h1v1h-1zM46 176h1v1h-1zM46 179h1v1h-1zM46 181h1v1h-1zM46 190h1v1h-1zM46 197h1v1h-1zM46 199h1v1h-1zM46 205h1v1h-1zM46 270h1v2h-1zM47 12h1v1h-1zM47 16h1v1h-1zM47 46h1v1h-1zM47 62h1v1h-1zM47 68h1v1h-1zM47 86h1v1h-1zM47 91h1v1h-1zM47 132h1v1h-1zM47 140h1v1h-1zM47 153h1v1h-1zM47 156h1v1h-1zM47 161h1v1h-1zM47 167h1v1h-1zM47 173h1v1h-1zM47 176h1v2h-1zM47 186h1v1h-1zM47 197h1v1h-1zM47 207h1v1h-1zM47 211h1v1h-1zM47 213h1v1h-1zM47 253h1v1h-1zM47 261h1v1h-1zM47 265h1v1h-1zM47 277h1v1h-1zM48 34h1v1h-1zM48 38h1v1h-1zM48 48h1v2h-1zM48 56h1v2h-1zM48 66h1v1h-1zM48 100h1v1h-1zM48 103h1v1h-1zM48 120h1v3h-1zM48 141h1v1h-1zM48 150h1v1h-1zM48 163h1v1h-1zM48 166h1v1h-1zM48 176h1v1h-1zM48 186h1v1h-1zM48 194h1v3h-1zM48 201h1v1h-1zM48 242h1v1h-1zM48 247h1v1h-1zM48 264h1v2h-1zM48 274h1v1h-1zM49 14h1v1h-1zM49 23h1v1h-1zM49 31h1v1h-1zM49 33h1v1h-1zM49 38h1v1h-1zM49 42h1v1h-1zM49 62h1v3h-1zM49 84h1v1h-1zM49 86h1v1h-1zM49 88h1v1h-1zM49 132h1v1h-1zM49 136h1v2h-1zM49 145h1v1h-1zM49 157h1v1h-1zM49 163h1v1h-1zM49 170h1v1h-1zM49 176h1v1h-1zM49 185h1v1h-1zM49 198h1v1h-1zM49 206h1v2h-1zM49 213h1v1h-1zM49 237h1v2h-1zM49 241h1v1h-1zM50 8h1v1h-1zM50 24h1v1h-1zM50 37h1v2h-1zM50 43h1v1h-1zM50 72h1v1h-1zM50 83h1v2h-1zM50 100h1v1h-1zM50 127h1v1h-1zM50 150h1v1h-1zM50 165h1v1h-1zM50 177h1v1h-1zM50 181h1v1h-1zM50 183h1v1h-1zM50 186h1v1h-1zM50 218h1v1h-1zM50 270h1v1h-1zM50 273h1v1h-1zM50 276h1v2h-1zM51 15h1v1h-1zM51 17h1v2h-1zM51 39h1v1h-1zM51 42h1v1h-1zM51 59h1v1h-1zM51 91h1v1h-1zM51 120h1v2h-1zM51 136h1v1h-1zM51 141h1v1h-1zM51 146h1v1h-1zM51 149h1v2h-1zM51 152h1v1h-1zM51 162h1v1h-1zM51 166h1v1h-1zM51 174h1v1h-1zM51 181h1v1h-1zM51 189h1v1h-1zM51 213h1v2h-1zM51 237h1v1h-1zM51 261h1v1h-1zM52 24h1v1h-1zM52 27h1v1h-1zM52 29h1v1h-1zM52 39h1v1h-1zM52 44h1v2h-1zM52 50h1v1h-1zM52 57h1v1h-1zM52 60h1v1h-1zM52 76h1v3h-1zM52 99h1v1h-1zM52 102h1v1h-1zM52 128h1v1h-1zM52 138h1v1h-1zM52 154h1v1h-1zM52 159h1v1h-1zM52 179h1v1h-1zM52 182h1v1h-1zM52 189h1v1h-1zM52 194h1v1h-1zM52 197h1v1h-1zM52 203h1v1h-1zM52 242h1v2h-1zM52 267h1v1h-1zM52 270h1v1h-1zM53 13h1v1h-1zM53 17h1v1h-1zM53 20h1v1h-1zM53 24h1v1h-1zM53 33h1v1h-1zM53 47h1v1h-1zM53 52h1v1h-1zM53 86h1v1h-1zM53 89h1v1h-1zM53 93h1v1h-1zM53 119h1v1h-1zM53 138h1v1h-1zM53 151h1v1h-1zM53 164h1v1h-1zM53 180h1v1h-1zM53 187h1v1h-1zM53 204h1v1h-1zM53 241h1v1h-1zM53 256h1v1h-1zM53 259h1v1h-1zM53 261h1v1h-1zM53 277h1v1h-1zM54 9h1v1h-1zM54 12h1v1h-1zM54 33h1v1h-1zM54 37h1v1h-1zM54 53h1v1h-1zM54 55h1v1h-1zM54 60h1v1h-1zM54 73h1v4h-1zM54 99h1v1h-1zM54 126h1v1h-1zM54 128h1v1h-1zM54 136h1v1h-1zM54 146h1v1h-1zM54 153h1v1h-1zM54 157h1v2h-1zM54 195h1v1h-1zM54 197h1v1h-1zM54 201h1v1h-1zM54 218h1v1h-1zM54 240h1v1h-1zM54 247h1v1h-1zM54 250h1v1h-1zM54 275h1v1h-1zM55 15h1v1h-1zM55 17h1v1h-1zM55 24h1v1h-1zM55 40h1v1h-1zM55 42h1v1h-1zM55 47h1v2h-1zM55 57h1v1h-1zM55 59h1v1h-1zM55 71h1v3h-1zM55 88h1v1h-1zM55 95h1v2h-1zM55 134h1v1h-1zM55 142h1v2h-1zM55 145h1v1h-1zM55 148h1v1h-1zM55 153h1v1h-1zM55 162h1v1h-1zM55 176h1v1h-1zM55 195h1v1h-1zM55 198h1v2h-1zM55 217h1v1h-1zM55 253h1v1h-1zM55 257h1v1h-1zM55 260h1v2h-1zM55 264h1v1h-1zM55 287h1v1h-1zM56 11h1v1h-1zM56 28h1v1h-1zM56 31h1v1h-1zM56 53h1v1h-1zM56 55h1v1h-1zM56 57h1v1h-1zM56 60h1v1h-1zM56 75h1v1h-1zM56 131h1v1h-1zM56 139h1v1h-1zM56 145h1v1h-1zM56 147h1v1h-1zM56 153h1v1h-1zM56 156h1v1h-1zM56 160h1v1h-1zM56 164h1v1h-1zM56 167h1v1h-1zM56 172h1v1h-1zM56 183h1v1h-1zM56 195h1v1h-1zM56 202h1v1h-1zM56 204h1v1h-1zM56 218h1v1h-1zM56 246h1v1h-1zM56 249h1v1h-1zM56 274h1v1h-1zM57 20h1v1h-1zM57 40h1v1h-1zM57 43h1v1h-1zM57 46h1v1h-1zM57 48h1v1h-1zM57 54h1v1h-1zM57 59h1v2h-1zM57 72h1v1h-1zM57 86h1v1h-1zM57 94h1v1h-1zM57 133h1v2h-1zM57 147h1v1h-1zM57 162h1v1h-1zM57 165h1v1h-1zM57 178h1v1h-1zM57 185h1v2h-1zM57 194h1v3h-1zM57 198h1v1h-1zM57 204h1v1h-1zM57 208h1v1h-1zM57 210h1v1h-1zM57 258h1v1h-1zM57 277h1v1h-1zM57 280h1v2h-1zM57 287h1v1h-1zM58 2h1v1h-1zM58 11h1v1h-1zM58 27h1v1h-1zM58 33h1v1h-1zM58 36h1v1h-1zM58 41h1v1h-1zM58 59h1v2h-1zM58 73h1v1h-1zM58 96h1v1h-1zM58 120h1v1h-1zM58 122h1v1h-1zM58 125h1v1h-1zM58 128h1v1h-1zM58 144h1v1h-1zM58 161h1v1h-1zM58 171h1v1h-1zM58 196h1v2h-1zM58 199h1v1h-1zM58 218h1v1h-1zM58 242h1v1h-1zM58 248h1v1h-1zM58 253h1v1h-1zM58 266h1v1h-1zM58 271h1v1h-1zM58 273h1v1h-1zM59 12h1v1h-1zM59 16h1v2h-1zM59 33h1v1h-1zM59 47h1v2h-1zM59 52h1v1h-1zM59 58h1v1h-1zM59 94h1v1h-1zM59 136h1v1h-1zM59 144h1v1h-1zM59 147h1v1h-1zM59 157h1v2h-1zM59 164h1v1h-1zM59 167h1v1h-1zM59 169h1v1h-1zM59 171h1v1h-1zM59 195h1v1h-1zM59 199h1v1h-1zM59 252h1v1h-1zM59 259h1v4h-1zM59 278h1v1h-1zM59 286h1v1h-1zM60 13h1v1h-1zM60 27h1v1h-1zM60 34h1v1h-1zM60 36h1v1h-1zM60 41h1v1h-1zM60 48h1v1h-1zM60 52h1v1h-1zM60 59h1v1h-1zM60 73h1v2h-1zM60 85h1v1h-1zM60 101h1v1h-1zM60 123h1v1h-1zM60 128h1v1h-1zM60 137h1v1h-1zM60 140h1v1h-1zM60 156h1v1h-1zM60 161h1v1h-1zM60 164h1v1h-1zM60 179h1v1h-1zM60 184h1v1h-1zM60 186h1v1h-1zM60 188h1v1h-1zM60 191h1v1h-1zM60 200h1v1h-1zM60 250h1v1h-1zM60 253h1v1h-1zM60 267h1v1h-1zM60 269h1v1h-1zM60 273h1v1h-1zM61 18h1v1h-1zM61 21h1v1h-1zM61 40h1v2h-1zM61 44h1v1h-1zM61 53h1v2h-1zM61 56h1v1h-1zM61 60h1v1h-1zM61 73h1v1h-1zM61 91h1v1h-1zM61 132h1v1h-1zM61 146h1v1h-1zM61 148h1v1h-1zM61 156h1v1h-1zM61 169h1v1h-1zM61 176h1v1h-1zM61 179h1v1h-1zM61 193h1v1h-1zM61 252h1v1h-1zM61 254h1v1h-1zM61 256h1v1h-1zM61 260h1v1h-1zM61 262h1v1h-1zM61 280h1v3h-1zM62 11h1v1h-1zM62 25h1v2h-1zM62 36h1v2h-1zM62 47h1v4h-1zM62 60h1v1h-1zM62 73h1v1h-1zM62 98h1v1h-1zM62 102h1v1h-1zM62 120h1v1h-1zM62 123h1v1h-1zM62 127h1v1h-1zM62 146h1v1h-1zM62 148h1v1h-1zM62 151h1v1h-1zM62 160h1v1h-1zM62 172h1v2h-1zM62 182h1v1h-1zM62 188h1v1h-1zM62 241h1v1h-1zM62 251h1v1h-1zM62 264h1v1h-1zM63 16h1v1h-1zM63 21h1v1h-1zM63 40h1v1h-1zM63 45h1v1h-1zM63 60h1v1h-1zM63 86h1v1h-1zM63 120h1v2h-1zM63 153h1v1h-1zM63 167h1v2h-1zM63 174h1v1h-1zM63 187h1v2h-1zM63 210h1v1h-1zM63 215h1v1h-1zM63 237h1v1h-1zM63 265h1v1h-1zM63 284h1v1h-1zM64 32h1v1h-1zM64 43h1v1h-1zM64 45h1v1h-1zM64 50h1v1h-1zM64 55h1v2h-1zM64 60h1v2h-1zM64 72h1v1h-1zM64 75h1v1h-1zM64 78h1v1h-1zM64 99h1v1h-1zM64 122h1v1h-1zM64 128h1v1h-1zM64 131h1v1h-1zM64 145h1v1h-1zM64 153h1v1h-1zM64 170h1v1h-1zM64 186h1v2h-1zM64 190h1v2h-1zM64 204h1v1h-1zM64 240h1v1h-1zM64 243h1v1h-1zM64 268h1v1h-1zM64 275h1v1h-1zM65 15h1v2h-1zM65 22h1v1h-1zM65 45h1v2h-1zM65 56h1v1h-1zM65 60h1v1h-1zM65 72h1v1h-1zM65 90h1v1h-1zM65 96h1v2h-1zM65 135h1v1h-1zM65 140h1v1h-1zM65 148h1v1h-1zM65 158h1v1h-1zM65 165h1v1h-1zM65 174h1v1h-1zM65 210h1v1h-1zM65 214h1v2h-1zM65 241h1v1h-1zM65 258h1v1h-1zM65 260h1v1h-1zM65 262h1v1h-1zM65 278h1v1h-1zM65 284h1v1h-1zM66 0h1v1h-1zM66 3h1v1h-1zM66 9h1v1h-1zM66 26h1v2h-1zM66 32h1v1h-1zM66 41h1v1h-1zM66 44h1v1h-1zM66 46h1v1h-1zM66 56h1v1h-1zM66 73h1v1h-1zM66 78h1v1h-1zM66 80h1v1h-1zM66 97h1v1h-1zM66 141h1v1h-1zM66 149h1v1h-1zM66 159h1v1h-1zM66 164h1v1h-1zM66 178h1v1h-1zM66 193h1v2h-1zM66 199h1v1h-1zM66 201h1v1h-1zM66 204h1v2h-1zM66 241h1v1h-1zM66 272h1v1h-1zM66 277h1v1h-1zM67 5h1v1h-1zM67 12h1v1h-1zM67 14h1v1h-1zM67 17h1v1h-1zM67 20h1v1h-1zM67 24h1v1h-1zM67 42h1v1h-1zM67 45h1v1h-1zM67 51h1v1h-1zM67 60h1v1h-1zM67 93h1v1h-1zM67 96h1v1h-1zM67 120h1v1h-1zM67 140h1v1h-1zM67 146h1v1h-1zM67 155h1v1h-1zM67 157h1v1h-1zM67 160h1v1h-1zM67 164h1v1h-1zM67 171h1v1h-1zM67 206h1v1h-1zM67 209h1v1h-1zM67 212h1v1h-1zM67 214h1v1h-1zM67 237h1v1h-1zM67 260h1v1h-1zM67 264h1v1h-1zM67 284h1v1h-1zM68 3h1v1h-1zM68 25h1v2h-1zM68 29h1v1h-1zM68 36h1v1h-1zM68 41h1v1h-1zM68 46h1v1h-1zM68 74h1v1h-1zM68 138h1v2h-1zM68 148h1v1h-1zM68 165h1v1h-1zM68 171h1v1h-1zM68 173h1v1h-1zM68 175h1v1h-1zM68 177h1v1h-1zM68 180h1v1h-1zM68 192h1v1h-1zM68 199h1v1h-1zM68 205h1v1h-1zM68 241h1v1h-1zM68 253h1v1h-1zM68 270h1v1h-1zM68 275h1v1h-1zM68 277h1v1h-1zM69 36h1v1h-1zM69 39h1v1h-1zM69 46h1v2h-1zM69 51h1v1h-1zM69 60h1v2h-1zM69 73h1v1h-1zM69 88h1v1h-1zM69 93h1v2h-1zM69 96h1v2h-1zM69 120h1v1h-1zM69 147h1v1h-1zM69 151h1v1h-1zM69 161h1v2h-1zM69 165h1v2h-1zM69 187h1v1h-1zM69 189h1v1h-1zM69 205h1v1h-1zM69 236h1v1h-1zM69 265h1v1h-1zM69 276h1v1h-1zM69 282h1v1h-1zM70 9h1v1h-1zM70 26h1v1h-1zM70 33h1v1h-1zM70 40h1v2h-1zM70 49h1v1h-1zM70 51h1v1h-1zM70 57h1v1h-1zM70 59h1v2h-1zM70 73h1v1h-1zM70 77h1v1h-1zM70 82h1v1h-1zM70 84h1v1h-1zM70 103h1v1h-1zM70 121h1v1h-1zM70 127h1v1h-1zM70 133h1v1h-1zM70 145h1v1h-1zM70 156h1v1h-1zM70 160h1v1h-1zM70 164h1v2h-1zM70 170h1v1h-1zM70 174h1v1h-1zM70 177h1v1h-1zM70 217h1v1h-1zM70 242h1v1h-1zM70 246h1v1h-1zM70 253h1v1h-1zM70 268h1v1h-1zM70 275h1v1h-1zM71 12h1v2h-1zM71 15h1v1h-1zM71 18h1v1h-1zM71 38h1v1h-1zM71 73h1v1h-1zM71 88h1v1h-1zM71 97h1v1h-1zM71 119h1v2h-1zM71 152h1v2h-1zM71 155h1v1h-1zM71 165h1v1h-1zM71 167h1v1h-1zM71 170h1v1h-1zM71 174h1v1h-1zM71 185h1v2h-1zM71 188h1v1h-1zM71 192h1v1h-1zM71 205h1v1h-1zM71 212h1v1h-1zM71 216h1v1h-1zM71 252h1v1h-1zM71 264h1v1h-1zM71 283h1v2h-1zM71 286h1v1h-1zM72 30h1v2h-1zM72 38h1v1h-1zM72 40h1v1h-1zM72 43h1v1h-1zM72 47h1v1h-1zM72 50h1v2h-1zM72 55h1v1h-1zM72 73h1v1h-1zM72 82h1v1h-1zM72 97h1v1h-1zM72 99h1v1h-1zM72 120h1v2h-1zM72 124h1v1h-1zM72 127h1v1h-1zM72 131h1v1h-1zM72 142h1v1h-1zM72 152h1v1h-1zM72 164h1v1h-1zM72 181h1v1h-1zM72 204h1v2h-1zM72 244h1v1h-1zM72 269h1v1h-1zM72 271h1v1h-1zM72 273h1v2h-1zM72 276h1v1h-1zM73 17h1v1h-1zM73 20h1v1h-1zM73 22h1v1h-1zM73 24h1v1h-1zM73 36h1v1h-1zM73 38h1v1h-1zM73 64h1v1h-1zM73 85h1v1h-1zM73 92h1v3h-1zM73 120h1v2h-1zM73 138h1v2h-1zM73 147h1v1h-1zM73 150h1v1h-1zM73 168h1v1h-1zM73 174h1v1h-1zM73 181h1v1h-1zM73 214h1v1h-1zM73 240h1v1h-1zM73 263h1v1h-1zM73 285h1v1h-1zM74 1h1v1h-1zM74 5h1v1h-1zM74 24h1v2h-1zM74 35h1v1h-1zM74 42h1v1h-1zM74 60h1v1h-1zM74 84h1v1h-1zM74 103h1v1h-1zM74 121h1v1h-1zM74 141h1v1h-1zM74 154h1v1h-1zM74 163h1v1h-1zM74 166h1v1h-1zM74 196h1v1h-1zM74 205h1v1h-1zM74 244h1v1h-1zM74 249h1v1h-1zM74 252h1v1h-1zM74 265h1v1h-1zM74 267h1v1h-1zM75 21h1v1h-1zM75 23h1v2h-1zM75 35h1v1h-1zM75 38h1v1h-1zM75 43h1v1h-1zM75 49h1v1h-1zM75 51h1v1h-1zM75 60h1v1h-1zM75 73h1v1h-1zM75 91h1v1h-1zM75 147h1v1h-1zM75 154h1v1h-1zM75 157h1v2h-1zM75 167h1v1h-1zM75 171h1v1h-1zM75 193h1v1h-1zM75 215h1v1h-1zM75 236h1v2h-1zM75 240h1v1h-1zM75 252h1v1h-1zM75 256h1v1h-1zM75 276h1v1h-1zM75 283h1v1h-1zM75 286h1v1h-1zM76 8h1v1h-1zM76 10h1v1h-1zM76 30h1v1h-1zM76 44h1v1h-1zM76 53h1v3h-1zM76 61h1v1h-1zM76 73h1v1h-1zM76 99h1v1h-1zM76 103h1v1h-1zM76 120h1v2h-1zM76 125h1v1h-1zM76 127h1v1h-1zM76 145h1v1h-1zM76 147h1v1h-1zM76 149h1v2h-1zM76 159h1v1h-1zM76 169h1v1h-1zM76 173h1v1h-1zM76 175h1v1h-1zM76 201h1v2h-1zM76 218h1v1h-1zM76 244h1v1h-1zM76 249h1v1h-1zM76 251h1v1h-1zM76 253h1v1h-1zM76 265h1v1h-1zM76 268h1v1h-1zM76 275h1v2h-1zM77 14h1v2h-1zM77 20h1v1h-1zM77 23h1v1h-1zM77 39h1v1h-1zM77 41h1v1h-1zM77 60h1v1h-1zM77 84h1v1h-1zM77 87h1v1h-1zM77 134h1v2h-1zM77 139h1v2h-1zM77 142h1v1h-1zM77 154h1v1h-1zM77 158h1v1h-1zM77 168h1v1h-1zM77 174h1v1h-1zM77 186h1v1h-1zM77 191h1v1h-1zM77 280h1v1h-1zM77 284h1v1h-1zM78 0h1v1h-1zM78 6h1v1h-1zM78 8h1v1h-1zM78 11h1v1h-1zM78 35h1v1h-1zM78 39h1v2h-1zM78 44h1v1h-1zM78 46h1v1h-1zM78 51h1v1h-1zM78 56h1v1h-1zM78 59h1v1h-1zM78 73h1v1h-1zM78 79h1v3h-1zM78 97h1v1h-1zM78 130h1v1h-1zM78 147h1v1h-1zM78 149h1v1h-1zM78 156h1v1h-1zM78 181h1v1h-1zM78 240h1v2h-1zM78 243h1v1h-1zM78 245h1v1h-1zM78 266h1v1h-1zM78 271h1v3h-1zM78 276h1v1h-1zM79 16h1v1h-1zM79 23h1v1h-1zM79 35h1v1h-1zM79 42h1v1h-1zM79 48h1v1h-1zM79 51h1v1h-1zM79 62h1v1h-1zM79 87h1v2h-1zM79 120h1v1h-1zM79 156h1v1h-1zM79 163h1v2h-1zM79 166h1v1h-1zM79 183h1v1h-1zM79 190h1v1h-1zM79 205h1v2h-1zM79 208h1v1h-1zM79 214h1v1h-1zM79 238h1v1h-1zM79 241h1v1h-1zM79 255h1v1h-1zM79 260h1v1h-1zM80 1h1v1h-1zM80 11h1v1h-1zM80 25h1v1h-1zM80 54h1v1h-1zM80 60h1v1h-1zM80 74h1v1h-1zM80 76h1v1h-1zM80 120h1v2h-1zM80 128h1v1h-1zM80 144h1v1h-1zM80 181h1v1h-1zM80 217h1v1h-1zM80 245h1v1h-1zM80 252h1v1h-1zM80 266h1v1h-1zM80 274h1v1h-1zM81 19h1v1h-1zM81 23h1v2h-1zM81 51h1v1h-1zM81 119h1v2h-1zM81 133h1v3h-1zM81 143h1v1h-1zM81 162h1v1h-1zM81 181h1v2h-1zM81 184h1v1h-1zM81 193h1v1h-1zM81 205h1v1h-1zM81 209h1v1h-1zM81 217h1v1h-1zM81 236h1v1h-1zM81 240h1v2h-1zM81 255h1v1h-1zM81 257h1v1h-1zM81 259h1v1h-1zM82 1h1v1h-1zM82 5h1v1h-1zM82 9h1v1h-1zM82 33h1v1h-1zM82 36h1v1h-1zM82 72h1v1h-1zM82 77h1v1h-1zM82 79h1v1h-1zM82 96h1v1h-1zM82 122h1v1h-1zM82 127h1v2h-1zM82 147h1v1h-1zM82 152h1v1h-1zM82 156h1v1h-1zM82 168h1v1h-1zM82 178h1v1h-1zM82 180h1v1h-1zM82 195h1v1h-1zM82 202h1v1h-1zM82 205h1v1h-1zM82 216h1v2h-1zM82 248h1v1h-1zM82 265h1v1h-1zM83 12h1v1h-1zM83 17h1v1h-1zM83 22h1v1h-1zM83 25h1v1h-1zM83 43h1v1h-1zM83 73h1v1h-1zM83 90h1v1h-1zM83 121h1v1h-1zM83 142h1v1h-1zM83 165h1v2h-1zM83 204h1v1h-1zM83 208h1v1h-1zM83 214h1v1h-1zM83 236h1v2h-1zM83 256h1v1h-1zM83 276h1v1h-1zM84 11h1v2h-1zM84 26h1v1h-1zM84 48h1v1h-1zM84 50h1v1h-1zM84 58h1v1h-1zM84 60h1v1h-1zM84 83h1v1h-1zM84 101h1v1h-1zM84 103h1v1h-1zM84 120h1v3h-1zM84 126h1v1h-1zM84 130h1v1h-1zM84 153h1v1h-1zM84 175h1v3h-1zM84 193h1v1h-1zM84 196h1v1h-1zM84 199h1v1h-1zM84 242h1v1h-1zM85 15h1v1h-1zM85 37h1v1h-1zM85 42h1v1h-1zM85 47h1v1h-1zM85 86h1v1h-1zM85 91h1v1h-1zM85 142h1v2h-1zM85 163h1v1h-1zM85 184h1v1h-1zM85 186h1v2h-1zM85 190h1v1h-1zM85 207h1v1h-1zM85 213h1v1h-1zM85 257h1v3h-1zM85 283h1v1h-1zM88 4h1v1h-1zM88 6h1v1h-1zM88 27h1v1h-1zM88 51h1v1h-1zM88 74h1v1h-1zM88 77h1v2h-1zM88 85h1v1h-1zM88 97h1v1h-1zM88 102h1v1h-1zM88 104h1v2h-1zM88 122h1v2h-1zM88 129h1v1h-1zM88 131h1v1h-1zM88 145h1v1h-1zM88 147h1v1h-1zM88 152h1v1h-1zM88 176h1v2h-1zM88 181h1v1h-1zM88 195h1v1h-1zM88 201h1v1h-1zM88 244h1v1h-1zM88 248h1v1h-1zM88 251h1v1h-1zM88 267h1v1h-1zM88 269h1v1h-1zM88 271h1v1h-1zM88 274h1v1h-1zM89 12h1v1h-1zM89 15h1v1h-1zM89 18h1v1h-1zM89 38h1v1h-1zM89 45h1v1h-1zM89 48h1v2h-1zM89 71h1v1h-1zM89 84h1v2h-1zM89 90h1v1h-1zM89 93h1v1h-1zM89 115h1v1h-1zM89 120h1v2h-1zM89 133h1v1h-1zM89 137h1v1h-1zM89 157h1v1h-1zM89 163h1v1h-1zM89 167h1v1h-1zM89 206h1v1h-1zM89 209h1v1h-1zM89 235h1v1h-1zM89 239h1v1h-1zM89 254h1v1h-1zM89 257h1v2h-1zM89 265h1v1h-1zM89 278h1v1h-1zM89 284h1v4h-1zM90 0h1v1h-1zM90 24h1v1h-1zM90 29h1v1h-1zM90 60h1v1h-1zM90 73h1v1h-1zM90 104h1v1h-1zM90 106h1v1h-1zM90 121h1v1h-1zM90 146h1v1h-1zM90 156h1v1h-1zM90 173h1v1h-1zM90 177h1v1h-1zM90 195h1v1h-1zM90 201h1v1h-1zM90 217h1v1h-1zM90 243h1v1h-1zM90 250h1v1h-1zM90 264h1v1h-1zM90 269h1v1h-1zM90 272h1v1h-1zM90 275h1v1h-1zM91 37h1v1h-1zM91 60h1v1h-1zM91 114h1v3h-1zM91 118h1v1h-1zM91 161h1v1h-1zM91 168h1v1h-1zM91 182h1v1h-1zM91 185h1v1h-1zM91 237h1v1h-1zM91 262h1v1h-1zM91 280h1v2h-1zM91 285h1v1h-1zM92 28h1v1h-1zM92 55h1v1h-1zM92 75h1v1h-1zM92 101h1v1h-1zM92 121h1v1h-1zM92 156h1v1h-1zM92 175h1v1h-1zM92 192h1v1h-1zM92 202h1v1h-1zM92 243h1v1h-1zM92 247h1v1h-1zM92 249h1v1h-1zM92 272h1v1h-1zM92 277h1v1h-1zM93 42h1v1h-1zM93 48h1v1h-1zM93 73h1v1h-1zM93 92h1v1h-1zM93 121h1v1h-1zM93 137h1v1h-1zM93 163h1v1h-1zM93 181h1v1h-1zM93 184h1v1h-1zM93 212h1v1h-1zM93 235h1v1h-1zM93 252h1v1h-1zM93 254h1v1h-1zM93 261h1v1h-1zM93 264h1v1h-1zM93 276h1v1h-1zM93 278h1v1h-1zM93 281h1v1h-1zM93 285h1v1h-1zM94 0h1v1h-1zM94 7h1v1h-1zM94 56h1v1h-1zM94 72h1v1h-1zM94 74h1v2h-1zM94 81h1v1h-1zM94 105h1v1h-1zM94 107h1v1h-1zM94 109h1v1h-1zM94 133h1v1h-1zM94 146h1v1h-1zM94 154h1v3h-1zM94 176h1v1h-1zM94 179h1v2h-1zM94 195h1v1h-1zM94 197h1v1h-1zM94 201h1v1h-1zM94 216h1v1h-1zM94 240h1v3h-1zM94 249h1v1h-1zM94 265h1v1h-1zM94 267h1v2h-1zM95 12h1v1h-1zM95 73h1v1h-1zM95 90h1v2h-1zM95 132h1v1h-1zM95 137h1v2h-1zM95 141h1v1h-1zM95 145h1v1h-1zM95 156h1v1h-1zM95 159h1v1h-1zM95 162h1v1h-1zM95 181h1v2h-1zM95 187h1v1h-1zM95 193h1v1h-1zM95 207h1v1h-1zM95 216h1v1h-1zM95 235h1v2h-1zM95 239h1v1h-1zM95 252h1v1h-1zM95 265h1v1h-1zM95 278h1v1h-1zM95 282h1v1h-1zM95 286h1v1h-1zM96 72h1v1h-1zM96 84h1v1h-1zM96 104h1v1h-1zM96 122h1v1h-1zM96 147h1v1h-1zM96 151h1v1h-1zM96 157h1v1h-1zM96 168h1v1h-1zM96 173h1v2h-1zM96 178h1v1h-1zM96 203h1v1h-1zM96 243h1v1h-1zM96 248h1v2h-1zM96 252h1v1h-1zM96 264h1v1h-1zM96 266h1v3h-1zM96 271h1v2h-1zM97 0h1v1h-1zM97 17h1v1h-1zM97 38h1v1h-1zM97 73h1v1h-1zM97 86h1v1h-1zM97 88h1v1h-1zM97 90h1v1h-1zM97 120h1v2h-1zM97 133h1v1h-1zM97 145h1v1h-1zM97 156h1v3h-1zM97 166h1v1h-1zM97 180h1v1h-1zM97 185h1v2h-1zM97 190h1v1h-1zM97 204h1v1h-1zM97 206h1v1h-1zM97 209h1v2h-1zM97 212h1v3h-1zM97 234h1v1h-1zM97 259h1v1h-1zM97 263h1v1h-1zM97 285h1v1h-1zM98 3h1v1h-1zM98 7h1v1h-1zM98 12h1v2h-1zM98 48h1v1h-1zM98 55h1v1h-1zM98 59h1v1h-1zM98 104h1v2h-1zM98 107h1v2h-1zM98 125h1v1h-1zM98 151h1v1h-1zM98 170h1v1h-1zM98 175h1v1h-1zM98 218h1v1h-1zM98 241h1v1h-1zM98 249h1v1h-1zM98 252h1v1h-1zM98 274h1v1h-1zM99 0h1v1h-1zM99 17h1v2h-1zM99 41h1v1h-1zM99 73h1v1h-1zM99 86h1v1h-1zM99 92h1v1h-1zM99 113h1v1h-1zM99 118h1v1h-1zM99 132h1v1h-1zM99 137h1v1h-1zM99 158h1v1h-1zM99 166h1v1h-1zM99 183h1v1h-1zM99 187h1v1h-1zM99 191h1v1h-1zM99 204h1v1h-1zM99 209h1v1h-1zM99 212h1v1h-1zM99 214h1v1h-1zM99 234h1v2h-1zM99 252h1v1h-1zM99 257h1v1h-1zM100 48h1v1h-1zM100 51h1v1h-1zM100 59h1v2h-1zM100 73h1v1h-1zM100 102h1v1h-1zM100 105h1v1h-1zM100 109h1v1h-1zM100 121h1v1h-1zM100 130h1v1h-1zM100 153h1v1h-1zM100 176h1v2h-1zM100 203h1v1h-1zM100 218h1v1h-1zM100 244h1v1h-1zM100 253h1v1h-1zM100 265h1v1h-1zM100 271h1v1h-1zM101 25h1v1h-1zM101 37h1v1h-1zM101 43h1v1h-1zM101 46h1v1h-1zM101 121h1v1h-1zM101 132h1v1h-1zM101 190h1v2h-1zM101 193h1v1h-1zM101 214h1v1h-1zM101 217h1v1h-1zM101 236h1v2h-1zM101 257h1v1h-1zM101 260h1v1h-1zM101 265h1v1h-1zM102 13h1v1h-1zM102 77h1v1h-1zM102 100h1v1h-1zM102 105h1v3h-1zM102 120h1v1h-1zM102 131h1v1h-1zM102 149h1v1h-1zM102 155h1v1h-1zM102 168h1v1h-1zM102 177h1v1h-1zM102 197h1v1h-1zM102 199h1v1h-1zM102 216h1v2h-1zM102 240h1v1h-1zM102 247h1v1h-1zM102 252h1v1h-1zM102 274h1v2h-1zM103 97h1v1h-1zM103 115h1v1h-1zM103 121h1v1h-1zM103 133h1v1h-1zM103 137h1v1h-1zM103 140h1v1h-1zM103 163h1v1h-1zM103 181h1v1h-1zM103 183h1v1h-1zM103 212h1v1h-1zM103 217h1v1h-1zM103 234h1v3h-1zM103 239h1v1h-1zM103 254h1v1h-1zM103 258h1v1h-1zM103 260h1v1h-1zM103 277h1v2h-1zM103 280h1v4h-1zM103 287h1v1h-1zM104 1h1v1h-1zM104 24h1v1h-1zM104 31h1v1h-1zM104 33h1v1h-1zM104 53h1v2h-1zM104 59h1v2h-1zM104 73h1v1h-1zM104 120h1v2h-1zM104 130h1v2h-1zM104 148h1v1h-1zM104 155h1v1h-1zM104 157h1v1h-1zM104 200h1v1h-1zM104 247h1v2h-1zM104 251h1v1h-1zM104 264h1v1h-1zM104 272h1v1h-1zM104 277h1v1h-1zM105 97h1v1h-1zM105 120h1v1h-1zM105 142h1v2h-1zM105 192h1v1h-1zM105 204h1v1h-1zM105 206h1v1h-1zM105 217h1v1h-1zM105 234h1v1h-1zM105 236h1v1h-1zM105 239h1v1h-1zM105 252h1v1h-1zM105 259h1v1h-1zM105 278h1v1h-1zM105 286h1v1h-1zM106 51h1v1h-1zM106 54h1v1h-1zM106 60h1v1h-1zM106 82h1v1h-1zM106 99h1v1h-1zM106 106h1v1h-1zM106 120h1v1h-1zM106 125h1v1h-1zM106 129h1v1h-1zM106 151h1v1h-1zM106 155h1v1h-1zM106 170h1v1h-1zM106 180h1v1h-1zM106 192h1v1h-1zM106 197h1v2h-1zM106 244h1v1h-1zM106 247h1v1h-1zM106 268h1v1h-1zM106 273h1v1h-1zM107 41h1v1h-1zM107 72h1v1h-1zM107 86h1v1h-1zM107 89h1v1h-1zM107 117h1v2h-1zM107 120h1v1h-1zM107 157h1v2h-1zM107 167h1v1h-1zM107 181h1v1h-1zM107 186h1v1h-1zM107 209h1v1h-1zM107 214h1v1h-1zM107 217h1v1h-1zM107 234h1v1h-1zM107 254h1v1h-1zM107 257h1v1h-1zM107 260h1v1h-1zM108 1h1v1h-1zM108 24h1v1h-1zM108 60h1v1h-1zM108 73h1v1h-1zM108 76h1v1h-1zM108 100h1v1h-1zM108 120h1v1h-1zM108 122h1v1h-1zM108 128h1v1h-1zM108 133h1v1h-1zM108 144h1v1h-1zM108 154h1v1h-1zM108 169h1v1h-1zM108 180h1v1h-1zM108 193h1v1h-1zM108 196h1v1h-1zM108 241h1v1h-1zM108 269h1v2h-1zM108 274h1v1h-1zM109 16h1v1h-1zM109 61h1v1h-1zM109 88h1v1h-1zM109 119h1v1h-1zM109 137h1v1h-1zM109 161h1v1h-1zM109 168h1v1h-1zM109 181h1v1h-1zM109 185h1v1h-1zM109 187h1v1h-1zM109 189h1v1h-1zM109 211h1v2h-1zM109 216h1v1h-1zM109 234h1v1h-1zM109 240h1v1h-1zM109 254h1v1h-1zM109 256h1v1h-1zM109 261h1v4h-1zM109 278h1v1h-1zM110 9h1v1h-1zM110 55h1v1h-1zM110 57h1v1h-1zM110 73h1v1h-1zM110 76h1v1h-1zM110 81h1v1h-1zM110 100h1v1h-1zM110 105h1v1h-1zM110 120h1v1h-1zM110 148h1v1h-1zM110 150h1v1h-1zM110 169h1v1h-1zM110 175h1v2h-1zM110 192h1v1h-1zM110 216h1v2h-1zM110 268h1v1h-1zM111 1h1v1h-1zM111 46h1v1h-1zM111 60h1v1h-1zM111 87h1v1h-1zM111 89h1v1h-1zM111 121h1v1h-1zM111 138h1v1h-1zM111 140h1v1h-1zM111 156h1v1h-1zM111 166h1v1h-1zM111 181h1v2h-1zM111 187h1v1h-1zM111 190h1v2h-1zM111 206h1v1h-1zM111 208h1v1h-1zM111 234h1v3h-1zM111 238h1v1h-1zM111 240h1v1h-1zM111 264h1v1h-1zM112 30h1v1h-1zM112 73h1v1h-1zM112 97h1v1h-1zM112 99h1v2h-1zM112 120h1v1h-1zM112 123h1v2h-1zM112 126h1v1h-1zM112 129h1v1h-1zM112 132h1v1h-1zM112 147h1v2h-1zM112 151h1v1h-1zM112 154h1v1h-1zM112 172h1v1h-1zM112 176h1v1h-1zM112 193h1v1h-1zM112 195h1v2h-1zM112 199h1v2h-1zM112 203h1v1h-1zM112 246h1v1h-1zM112 268h1v1h-1zM112 272h1v1h-1zM113 1h1v1h-1zM113 23h1v2h-1zM113 47h1v2h-1zM113 61h1v1h-1zM113 68h1v1h-1zM113 113h1v1h-1zM113 134h1v1h-1zM113 139h1v1h-1zM113 158h1v1h-1zM113 180h1v1h-1zM113 182h1v1h-1zM113 184h1v1h-1zM113 192h1v1h-1zM113 213h1v1h-1zM113 234h1v1h-1zM113 253h1v1h-1zM113 285h1v1h-1zM114 13h1v1h-1zM114 27h1v1h-1zM114 54h1v1h-1zM114 60h1v1h-1zM114 74h1v1h-1zM114 78h1v1h-1zM114 81h1v1h-1zM114 98h1v1h-1zM114 100h1v2h-1zM114 105h1v1h-1zM114 132h1v1h-1zM114 152h1v1h-1zM114 156h1v1h-1zM114 178h1v1h-1zM114 180h1v1h-1zM114 242h1v1h-1zM114 246h1v2h-1zM114 253h1v1h-1zM114 271h1v1h-1zM115 14h1v1h-1zM115 25h1v1h-1zM115 44h1v1h-1zM115 60h1v1h-1zM115 72h1v1h-1zM115 89h1v1h-1zM115 141h1v1h-1zM115 162h1v1h-1zM115 183h1v1h-1zM115 185h1v1h-1zM115 187h1v1h-1zM115 190h1v1h-1zM115 216h1v1h-1zM115 234h1v1h-1zM115 252h1v1h-1zM115 260h1v1h-1zM115 279h1v1h-1zM115 282h1v1h-1zM116 3h1v1h-1zM116 6h1v1h-1zM116 29h1v1h-1zM116 57h1v1h-1zM116 59h1v1h-1zM116 76h1v1h-1zM116 102h1v1h-1zM116 121h1v1h-1zM116 127h1v3h-1zM116 131h1v2h-1zM116 149h1v1h-1zM116 156h1v1h-1zM116 179h1v1h-1zM116 181h1v1h-1zM116 197h1v2h-1zM116 201h1v2h-1zM116 216h1v1h-1zM116 240h1v1h-1zM116 245h1v2h-1zM116 248h1v1h-1zM116 264h1v1h-1zM116 266h1v1h-1zM116 270h1v1h-1zM116 273h1v1h-1zM117 46h1v1h-1zM117 72h1v1h-1zM117 95h1v1h-1zM117 120h1v1h-1zM117 141h1v1h-1zM117 159h1v1h-1zM117 166h1v1h-1zM117 181h1v1h-1zM117 188h1v1h-1zM117 192h1v1h-1zM117 210h1v1h-1zM117 238h1v1h-1zM117 255h1v1h-1zM117 257h1v1h-1zM117 260h1v1h-1zM117 279h1v1h-1zM118 25h1v2h-1zM118 48h1v1h-1zM118 56h1v1h-1zM118 60h1v1h-1zM118 102h1v1h-1zM118 106h1v1h-1zM118 120h1v2h-1zM118 124h1v1h-1zM118 127h1v1h-1zM118 132h1v2h-1zM118 149h1v1h-1zM118 157h1v1h-1zM118 170h1v1h-1zM118 204h1v1h-1zM119 1h1v1h-1zM119 40h1v1h-1zM119 72h1v1h-1zM119 87h1v1h-1zM119 90h1v1h-1zM119 110h1v1h-1zM119 120h1v1h-1zM119 145h1v1h-1zM119 157h1v1h-1zM119 159h1v1h-1zM119 163h1v1h-1zM119 182h1v1h-1zM119 187h1v1h-1zM119 193h1v1h-1zM119 210h1v1h-1zM119 214h1v1h-1zM119 216h1v2h-1zM119 258h1v5h-1zM119 276h1v1h-1zM119 287h1v1h-1zM120 4h1v1h-1zM120 34h1v1h-1zM120 72h1v1h-1zM120 76h1v1h-1zM120 82h1v1h-1zM120 97h1v1h-1zM120 99h1v1h-1zM120 103h1v1h-1zM120 120h1v1h-1zM120 122h1v1h-1zM120 131h1v1h-1zM120 146h1v1h-1zM120 149h1v1h-1zM120 171h1v1h-1zM120 180h1v2h-1zM120 243h1v1h-1zM120 267h1v1h-1zM121 14h1v1h-1zM121 22h1v2h-1zM121 60h1v1h-1zM121 72h1v1h-1zM121 86h1v1h-1zM121 121h1v1h-1zM121 139h1v2h-1zM121 158h1v1h-1zM121 187h1v1h-1zM121 189h1v1h-1zM121 208h1v2h-1zM121 213h1v1h-1zM121 234h1v2h-1zM121 241h1v1h-1zM121 263h1v1h-1zM121 281h1v1h-1zM122 1h1v1h-1zM122 3h1v1h-1zM122 25h1v1h-1zM122 29h1v1h-1zM122 73h1v1h-1zM122 77h1v1h-1zM122 131h1v1h-1zM122 148h1v3h-1zM122 152h1v1h-1zM122 154h1v1h-1zM122 178h1v1h-1zM122 200h1v1h-1zM122 205h1v1h-1zM122 216h1v2h-1zM122 241h1v1h-1zM122 245h1v1h-1zM122 247h1v1h-1zM122 251h1v1h-1zM122 264h1v1h-1zM123 0h1v2h-1zM123 49h1v1h-1zM123 60h1v2h-1zM123 95h1v1h-1zM123 119h1v2h-1zM123 160h1v1h-1zM123 162h1v1h-1zM123 192h1v1h-1zM123 212h1v1h-1zM123 217h1v1h-1zM123 233h1v1h-1zM123 239h1v1h-1zM123 241h1v1h-1zM123 255h1v1h-1zM123 257h1v1h-1zM123 260h1v1h-1zM123 265h1v1h-1zM123 281h1v1h-1zM124 3h1v1h-1zM124 5h1v1h-1zM124 28h1v1h-1zM124 32h1v2h-1zM124 59h1v2h-1zM124 79h1v1h-1zM124 108h1v1h-1zM124 120h1v1h-1zM124 124h1v1h-1zM124 129h1v1h-1zM124 131h1v1h-1zM124 144h1v1h-1zM124 146h1v1h-1zM124 172h1v1h-1zM124 196h1v1h-1zM124 198h1v2h-1zM124 205h1v1h-1zM124 217h1v1h-1zM124 245h1v3h-1zM124 266h1v1h-1zM124 273h1v2h-1zM125 22h1v1h-1zM125 48h1v1h-1zM125 120h1v1h-1zM125 137h1v1h-1zM125 141h1v1h-1zM125 157h1v1h-1zM125 168h1v1h-1zM125 182h1v1h-1zM125 190h1v1h-1zM125 206h1v1h-1zM125 210h1v1h-1zM125 213h1v1h-1zM125 217h1v1h-1zM125 235h1v1h-1zM125 256h1v1h-1zM125 264h1v1h-1zM125 279h1v1h-1zM125 285h1v2h-1zM126 9h1v1h-1zM126 28h1v1h-1zM126 35h1v1h-1zM126 37h1v1h-1zM126 57h1v1h-1zM126 61h1v1h-1zM126 76h1v1h-1zM126 102h1v2h-1zM126 105h1v2h-1zM126 109h1v1h-1zM126 123h1v1h-1zM126 127h1v1h-1zM126 132h1v1h-1zM126 149h1v1h-1zM126 176h1v1h-1zM126 181h1v1h-1zM126 201h1v1h-1zM126 216h1v2h-1zM126 244h1v1h-1zM126 250h1v1h-1zM126 252h1v1h-1zM126 274h1v1h-1zM127 0h1v1h-1zM127 23h1v1h-1zM127 37h1v1h-1zM127 40h1v1h-1zM127 60h1v1h-1zM127 118h1v1h-1zM127 120h1v1h-1zM127 133h1v1h-1zM127 160h1v1h-1zM127 163h1v1h-1zM127 166h1v1h-1zM127 183h1v1h-1zM127 191h1v1h-1zM127 193h1v1h-1zM127 209h1v1h-1zM127 257h1v1h-1zM127 260h1v1h-1zM127 262h1v1h-1zM127 281h1v1h-1zM128 32h1v2h-1zM128 37h1v1h-1zM128 49h1v1h-1zM128 56h1v1h-1zM128 58h1v1h-1zM128 60h1v1h-1zM128 72h1v2h-1zM128 99h1v1h-1zM128 104h1v2h-1zM128 144h1v1h-1zM128 217h1v1h-1zM128 243h1v1h-1zM128 246h1v1h-1zM128 249h1v1h-1zM128 251h1v1h-1zM128 253h1v1h-1zM128 267h1v2h-1zM128 276h1v2h-1zM129 12h1v1h-1zM129 19h1v1h-1zM129 22h1v1h-1zM129 25h1v1h-1zM129 43h1v1h-1zM129 60h1v1h-1zM129 93h1v1h-1zM129 108h1v1h-1zM129 116h1v1h-1zM129 120h1v1h-1zM129 138h1v1h-1zM129 144h1v1h-1zM129 168h1v1h-1zM129 184h1v2h-1zM129 189h1v1h-1zM129 207h1v2h-1zM129 212h1v2h-1zM129 215h1v1h-1zM129 234h1v1h-1zM129 236h1v1h-1zM129 253h1v1h-1zM129 281h1v1h-1zM129 285h1v1h-1zM130 48h1v1h-1zM130 102h1v1h-1zM130 107h1v1h-1zM130 123h1v1h-1zM130 126h1v1h-1zM130 131h1v1h-1zM130 181h1v1h-1zM130 192h1v1h-1zM130 194h1v1h-1zM130 196h1v1h-1zM130 216h1v1h-1zM130 245h1v3h-1zM130 276h1v2h-1zM131 18h1v2h-1zM131 23h1v1h-1zM131 60h1v2h-1zM131 85h1v1h-1zM131 89h1v1h-1zM131 108h1v1h-1zM131 121h1v1h-1zM131 132h1v1h-1zM131 136h1v1h-1zM131 142h1v2h-1zM131 156h1v1h-1zM131 158h1v1h-1zM131 187h1v1h-1zM131 204h1v1h-1zM131 215h1v1h-1zM131 261h1v1h-1zM131 287h1v1h-1zM132 48h1v1h-1zM132 50h1v1h-1zM132 53h1v1h-1zM132 59h1v1h-1zM132 73h1v1h-1zM132 75h1v1h-1zM132 78h1v1h-1zM132 101h1v1h-1zM132 105h1v4h-1zM132 123h1v1h-1zM132 126h1v1h-1zM132 144h1v1h-1zM132 151h1v2h-1zM132 173h1v1h-1zM132 181h1v1h-1zM132 192h1v1h-1zM132 195h1v2h-1zM132 204h1v1h-1zM132 240h1v1h-1zM132 250h1v1h-1zM132 252h1v1h-1zM132 274h1v1h-1zM133 17h1v1h-1zM133 23h1v1h-1zM133 43h1v1h-1zM133 94h1v1h-1zM133 121h1v1h-1zM133 134h1v1h-1zM133 209h1v1h-1zM133 216h1v1h-1zM133 233h1v1h-1zM133 255h1v1h-1zM133 257h1v1h-1zM133 276h1v2h-1zM133 279h1v1h-1zM134 2h1v1h-1zM134 7h1v1h-1zM134 72h1v2h-1zM134 79h1v1h-1zM134 82h1v1h-1zM134 85h1v1h-1zM134 106h1v2h-1zM134 120h1v2h-1zM134 170h1v1h-1zM134 194h1v1h-1zM134 197h1v1h-1zM134 199h1v1h-1zM134 216h1v1h-1zM134 249h1v1h-1zM134 268h1v1h-1zM134 271h1v1h-1zM134 275h1v1h-1zM134 277h1v1h-1zM135 15h1v1h-1zM135 21h1v1h-1zM135 40h1v1h-1zM135 42h1v1h-1zM135 72h1v1h-1zM135 87h1v2h-1zM135 115h1v1h-1zM135 118h1v1h-1zM135 120h1v1h-1zM135 135h1v2h-1zM135 141h1v1h-1zM135 162h1v1h-1zM135 166h1v1h-1zM135 184h1v1h-1zM135 210h1v1h-1zM135 235h1v1h-1zM135 238h1v1h-1zM135 252h1v1h-1zM135 282h1v1h-1zM136 13h1v1h-1zM136 25h1v1h-1zM136 73h1v1h-1zM136 82h1v1h-1zM136 103h1v1h-1zM136 125h1v1h-1zM136 130h1v1h-1zM136 146h1v1h-1zM136 149h1v1h-1zM136 169h1v1h-1zM136 175h1v2h-1zM136 205h1v1h-1zM136 243h1v1h-1zM136 253h1v1h-1zM136 268h1v1h-1zM136 272h1v1h-1zM137 1h1v1h-1zM137 12h1v2h-1zM137 39h1v1h-1zM137 90h1v1h-1zM137 97h1v1h-1zM137 114h1v1h-1zM137 116h1v1h-1zM137 118h1v1h-1zM137 134h1v2h-1zM137 162h1v1h-1zM137 165h1v2h-1zM137 182h1v1h-1zM137 191h1v1h-1zM137 193h1v1h-1zM137 215h1v2h-1zM137 233h1v1h-1zM137 235h1v1h-1zM137 240h1v1h-1zM137 256h1v1h-1zM137 260h1v1h-1zM137 279h1v1h-1zM137 282h1v1h-1zM137 287h1v1h-1zM138 9h1v1h-1zM138 27h1v1h-1zM138 35h1v1h-1zM138 48h1v1h-1zM138 59h1v1h-1zM138 72h1v1h-1zM138 97h1v1h-1zM138 105h1v1h-1zM138 121h1v1h-1zM138 123h1v1h-1zM138 144h1v3h-1zM138 174h1v1h-1zM138 180h1v1h-1zM138 201h1v1h-1zM138 204h1v1h-1zM138 216h1v1h-1zM138 240h1v1h-1zM138 250h1v1h-1zM138 267h1v1h-1zM138 269h1v1h-1zM138 271h1v1h-1zM138 273h1v3h-1zM139 16h1v1h-1zM139 19h1v1h-1zM139 22h1v1h-1zM139 60h1v1h-1zM139 72h1v1h-1zM139 116h1v1h-1zM139 118h1v1h-1zM139 121h1v1h-1zM139 142h1v1h-1zM139 144h1v1h-1zM139 161h1v1h-1zM139 187h1v1h-1zM139 216h1v1h-1zM139 234h1v1h-1zM139 240h1v1h-1zM139 259h1v1h-1zM139 277h1v1h-1zM139 287h1v1h-1zM140 7h1v1h-1zM140 35h1v1h-1zM140 77h1v1h-1zM140 82h1v1h-1zM140 105h1v1h-1zM140 107h1v2h-1zM140 130h1v2h-1zM140 144h1v1h-1zM140 150h1v1h-1zM140 176h1v2h-1zM140 192h1v1h-1zM140 198h1v1h-1zM140 216h1v1h-1zM140 244h1v1h-1zM140 246h1v2h-1zM140 252h1v1h-1zM140 266h1v1h-1zM140 273h1v1h-1zM141 43h1v1h-1zM141 60h1v1h-1zM141 121h1v1h-1zM141 133h1v1h-1zM141 141h1v2h-1zM141 162h1v1h-1zM141 182h1v1h-1zM141 184h1v1h-1zM141 255h1v1h-1zM141 257h1v1h-1zM141 263h1v1h-1zM142 1h1v1h-1zM142 3h1v1h-1zM142 28h1v1h-1zM142 31h1v1h-1zM142 36h1v1h-1zM142 48h1v1h-1zM142 53h1v1h-1zM142 57h1v3h-1zM142 103h1v1h-1zM142 130h1v1h-1zM142 132h1v1h-1zM142 144h1v1h-1zM142 149h1v1h-1zM142 151h1v1h-1zM142 154h1v1h-1zM142 172h1v1h-1zM142 177h1v1h-1zM142 180h1v2h-1zM142 194h1v1h-1zM142 199h1v1h-1zM142 240h1v1h-1zM142 247h1v1h-1zM142 252h1v1h-1zM142 274h1v1h-1zM143 19h1v1h-1zM143 49h1v1h-1zM143 108h1v1h-1zM143 119h1v1h-1zM143 136h1v1h-1zM143 141h1v1h-1zM143 181h1v1h-1zM143 209h1v1h-1zM143 216h1v1h-1zM143 233h1v1h-1zM143 255h1v2h-1zM143 258h1v1h-1zM143 263h1v1h-1zM143 284h1v1h-1zM143 287h1v1h-1zM144 27h1v1h-1zM144 78h1v1h-1zM144 82h1v1h-1zM144 106h1v2h-1zM144 148h1v1h-1zM144 176h1v1h-1zM144 242h1v1h-1zM144 246h1v1h-1zM144 265h1v1h-1zM144 270h1v1h-1zM145 36h1v1h-1zM145 40h1v1h-1zM145 73h1v1h-1zM145 86h1v1h-1zM145 109h1v1h-1zM145 113h1v1h-1zM145 120h1v2h-1zM145 139h1v1h-1zM145 165h1v1h-1zM145 181h1v1h-1zM145 214h1v1h-1zM145 216h1v1h-1zM145 233h1v1h-1zM145 238h1v1h-1zM145 240h1v1h-1zM145 258h1v1h-1zM146 0h1v1h-1zM146 9h1v3h-1zM146 24h1v1h-1zM146 28h1v1h-1zM146 30h1v1h-1zM146 34h1v2h-1zM146 52h1v1h-1zM146 54h1v1h-1zM146 60h1v1h-1zM146 73h1v1h-1zM146 76h1v1h-1zM146 96h1v1h-1zM146 101h1v1h-1zM146 131h1v1h-1zM146 145h1v1h-1zM146 179h1v1h-1zM146 196h1v1h-1zM146 245h1v1h-1zM146 250h1v1h-1zM146 264h1v1h-1zM146 267h1v1h-1zM146 274h1v1h-1zM147 12h1v1h-1zM147 22h1v1h-1zM147 24h1v1h-1zM147 40h1v1h-1zM147 72h1v2h-1zM147 94h1v1h-1zM147 97h1v1h-1zM147 119h1v1h-1zM147 133h1v1h-1zM147 138h1v1h-1zM147 145h1v1h-1zM147 166h1v1h-1zM147 181h1v1h-1zM147 183h1v1h-1zM147 187h1v1h-1zM147 204h1v1h-1zM147 211h1v1h-1zM147 216h1v1h-1zM147 254h1v1h-1zM147 258h1v1h-1zM147 280h1v1h-1zM148 6h1v1h-1zM148 9h1v1h-1zM148 60h1v1h-1zM148 82h1v1h-1zM148 102h1v1h-1zM148 104h1v1h-1zM148 108h1v1h-1zM148 123h1v1h-1zM148 149h1v1h-1zM148 179h1v1h-1zM148 199h1v1h-1zM148 204h1v1h-1zM148 271h1v1h-1zM148 275h1v3h-1zM149 40h1v1h-1zM149 46h1v1h-1zM149 49h1v1h-1zM149 72h1v1h-1zM149 85h1v1h-1zM149 109h1v1h-1zM149 111h1v1h-1zM149 113h1v1h-1zM149 115h1v1h-1zM149 117h1v1h-1zM149 156h1v1h-1zM149 182h1v1h-1zM149 185h1v1h-1zM149 232h1v1h-1zM149 261h1v1h-1zM149 285h1v2h-1zM150 0h1v1h-1zM150 4h1v1h-1zM150 6h1v1h-1zM150 26h1v1h-1zM150 36h1v1h-1zM150 54h1v1h-1zM150 59h1v2h-1zM150 77h1v1h-1zM150 84h1v1h-1zM150 105h1v2h-1zM150 108h1v1h-1zM150 121h1v1h-1zM150 124h1v1h-1zM150 131h1v1h-1zM150 156h1v2h-1zM150 173h1v1h-1zM150 176h1v1h-1zM150 196h1v1h-1zM150 198h1v1h-1zM150 203h1v1h-1zM150 216h1v1h-1zM150 245h1v1h-1zM150 248h1v1h-1zM150 264h1v1h-1zM150 270h1v1h-1zM150 273h1v1h-1zM151 1h1v1h-1zM151 25h1v1h-1zM151 72h1v2h-1zM151 87h1v1h-1zM151 89h1v1h-1zM151 115h1v1h-1zM151 117h1v1h-1zM151 120h1v1h-1zM151 133h1v1h-1zM151 140h1v1h-1zM151 142h1v1h-1zM151 163h1v1h-1zM151 184h1v1h-1zM151 186h1v1h-1zM151 210h1v1h-1zM151 234h1v1h-1zM151 239h1v1h-1zM151 258h1v1h-1zM151 264h1v1h-1zM151 276h1v1h-1zM152 3h1v1h-1zM152 25h1v1h-1zM152 56h1v1h-1zM152 73h1v1h-1zM152 78h1v1h-1zM152 82h1v1h-1zM152 84h1v1h-1zM152 101h1v1h-1zM152 108h1v1h-1zM152 125h1v1h-1zM152 128h1v1h-1zM152 132h1v2h-1zM152 156h1v2h-1zM152 169h1v1h-1zM152 172h1v1h-1zM152 176h1v1h-1zM152 245h1v1h-1zM152 249h1v1h-1zM152 264h1v1h-1zM153 37h1v1h-1zM153 40h1v1h-1zM153 73h1v1h-1zM153 85h1v1h-1zM153 95h1v1h-1zM153 111h1v2h-1zM153 115h1v1h-1zM153 117h1v1h-1zM153 120h1v1h-1zM153 144h1v1h-1zM153 157h1v1h-1zM153 185h1v1h-1zM153 193h1v1h-1zM153 204h1v1h-1zM153 206h1v1h-1zM153 210h1v1h-1zM153 216h1v1h-1zM153 233h1v1h-1zM153 254h1v1h-1zM153 262h1v1h-1zM153 276h1v1h-1zM153 282h1v1h-1zM156 6h1v1h-1zM156 11h1v1h-1zM156 25h1v1h-1zM156 57h1v1h-1zM156 73h1v1h-1zM156 76h1v1h-1zM156 78h1v1h-1zM156 85h1v1h-1zM156 98h1v1h-1zM156 101h1v1h-1zM156 103h1v1h-1zM156 120h1v1h-1zM156 131h1v1h-1zM156 144h1v1h-1zM156 150h1v2h-1zM156 154h1v1h-1zM156 157h1v1h-1zM156 192h1v1h-1zM156 216h1v1h-1zM156 252h1v1h-1zM156 277h1v1h-1zM157 23h1v1h-1zM157 60h1v1h-1zM157 72h1v1h-1zM157 108h1v1h-1zM157 115h1v1h-1zM157 118h1v1h-1zM157 120h1v1h-1zM157 140h1v1h-1zM157 142h1v1h-1zM157 183h1v1h-1zM157 192h1v1h-1zM157 207h1v1h-1zM157 210h1v1h-1zM157 215h1v1h-1zM157 233h1v1h-1zM157 239h1v1h-1zM157 253h1v1h-1zM157 258h1v1h-1zM157 263h1v1h-1zM157 287h1v1h-1zM158 11h1v1h-1zM158 13h1v1h-1zM158 34h1v1h-1zM158 57h1v1h-1zM158 74h1v1h-1zM158 79h1v1h-1zM158 83h1v1h-1zM158 98h1v1h-1zM158 104h1v1h-1zM158 109h1v1h-1zM158 127h1v1h-1zM158 144h1v1h-1zM158 150h1v1h-1zM158 154h1v1h-1zM158 173h1v1h-1zM158 181h1v1h-1zM158 192h1v2h-1zM158 195h1v2h-1zM158 242h1v1h-1zM158 250h1v1h-1zM158 252h1v1h-1zM158 268h1v1h-1zM158 275h1v1h-1zM159 1h1v1h-1zM159 60h1v1h-1zM159 73h1v1h-1zM159 111h1v1h-1zM159 113h1v2h-1zM159 133h1v1h-1zM159 140h1v1h-1zM159 168h1v1h-1zM159 182h1v1h-1zM159 193h1v1h-1zM159 214h1v2h-1zM159 258h1v1h-1zM159 262h1v1h-1zM159 277h1v1h-1zM159 282h1v1h-1zM160 7h1v1h-1zM160 12h1v1h-1zM160 34h1v1h-1zM160 36h1v1h-1zM160 59h1v2h-1zM160 76h1v1h-1zM160 84h1v1h-1zM160 102h1v1h-1zM160 104h1v1h-1zM160 109h1v1h-1zM160 124h1v1h-1zM160 153h1v1h-1zM160 155h1v1h-1zM160 171h1v1h-1zM160 175h1v1h-1zM160 216h1v1h-1zM160 265h1v2h-1zM160 270h1v1h-1zM161 36h1v1h-1zM161 73h1v1h-1zM161 91h1v1h-1zM161 108h1v4h-1zM161 114h1v1h-1zM161 117h1v2h-1zM161 120h1v2h-1zM161 136h1v1h-1zM161 140h1v1h-1zM161 160h1v2h-1zM161 181h1v1h-1zM161 184h1v1h-1zM161 188h1v1h-1zM161 215h1v1h-1zM161 237h1v1h-1zM161 277h1v1h-1zM161 284h1v1h-1zM161 286h1v1h-1zM162 9h1v1h-1zM162 29h1v1h-1zM162 34h1v2h-1zM162 72h1v1h-1zM162 75h1v1h-1zM162 98h1v2h-1zM162 102h1v1h-1zM162 127h1v1h-1zM162 148h1v1h-1zM162 157h1v1h-1zM162 173h1v1h-1zM162 177h1v1h-1zM162 199h1v1h-1zM162 201h1v1h-1zM162 241h1v2h-1zM162 249h1v1h-1zM162 268h1v1h-1zM163 16h1v1h-1zM163 23h1v1h-1zM163 89h1v1h-1zM163 93h1v2h-1zM163 109h1v1h-1zM163 137h1v1h-1zM163 166h1v1h-1zM163 181h1v1h-1zM163 186h1v1h-1zM163 208h1v1h-1zM163 210h1v1h-1zM163 213h1v1h-1zM163 232h1v1h-1zM163 234h1v1h-1zM163 237h1v1h-1zM163 252h1v1h-1zM163 255h1v2h-1zM163 276h1v1h-1zM163 281h1v1h-1zM163 283h1v1h-1zM164 8h1v2h-1zM164 72h1v1h-1zM164 80h1v1h-1zM164 98h1v1h-1zM164 120h1v3h-1zM164 127h1v1h-1zM164 130h1v1h-1zM164 132h1v1h-1zM164 147h1v1h-1zM164 151h1v1h-1zM164 154h1v1h-1zM164 175h1v1h-1zM164 180h1v1h-1zM164 200h1v1h-1zM164 203h1v1h-1zM164 216h1v1h-1zM164 244h1v1h-1zM164 269h1v1h-1zM165 17h1v1h-1zM165 23h1v1h-1zM165 41h1v1h-1zM165 109h1v1h-1zM165 111h1v2h-1zM165 116h1v1h-1zM165 120h1v1h-1zM165 145h1v1h-1zM165 159h1v2h-1zM165 163h1v1h-1zM165 213h1v1h-1zM165 232h1v4h-1zM165 240h1v2h-1zM165 260h1v1h-1zM165 262h1v1h-1zM165 264h1v1h-1zM165 280h1v1h-1zM166 10h1v1h-1zM166 30h1v1h-1zM166 37h1v1h-1zM166 50h1v1h-1zM166 72h1v2h-1zM166 75h1v1h-1zM166 106h1v1h-1zM166 108h1v1h-1zM166 128h1v1h-1zM166 131h1v1h-1zM166 171h1v1h-1zM166 198h1v1h-1zM166 202h1v1h-1zM166 268h1v2h-1zM167 16h1v1h-1zM167 19h1v1h-1zM167 22h1v1h-1zM167 40h1v1h-1zM167 72h1v1h-1zM167 89h1v1h-1zM167 96h1v1h-1zM167 109h1v1h-1zM167 111h1v1h-1zM167 115h1v1h-1zM167 120h1v1h-1zM167 163h1v1h-1zM167 169h1v1h-1zM167 181h1v1h-1zM167 183h1v1h-1zM167 187h1v1h-1zM167 204h1v1h-1zM167 210h1v1h-1zM167 214h1v1h-1zM167 234h1v1h-1zM167 254h1v1h-1zM167 256h1v1h-1zM167 263h1v1h-1zM168 1h1v1h-1zM168 3h1v1h-1zM168 5h1v1h-1zM168 37h1v1h-1zM168 59h1v1h-1zM168 72h1v1h-1zM168 103h1v1h-1zM168 120h1v1h-1zM168 126h1v1h-1zM168 150h1v1h-1zM168 168h1v1h-1zM168 175h1v1h-1zM168 193h1v1h-1zM168 245h1v1h-1zM168 253h1v1h-1zM168 266h1v1h-1zM169 19h1v1h-1zM169 49h1v1h-1zM169 72h1v1h-1zM169 109h1v1h-1zM169 114h1v1h-1zM169 116h1v2h-1zM169 120h1v1h-1zM169 136h1v1h-1zM169 160h1v2h-1zM169 182h1v1h-1zM169 189h1v1h-1zM169 209h1v1h-1zM169 213h1v1h-1zM169 233h1v1h-1zM169 238h1v1h-1zM169 260h1v1h-1zM170 4h1v1h-1zM170 29h1v1h-1zM170 75h1v1h-1zM170 105h1v1h-1zM170 128h1v1h-1zM170 145h1v1h-1zM170 147h1v1h-1zM170 149h1v1h-1zM170 154h1v2h-1zM170 192h1v1h-1zM170 196h1v2h-1zM170 203h1v1h-1zM170 242h1v1h-1zM170 247h1v1h-1zM170 264h1v3h-1zM170 272h1v1h-1zM171 23h1v1h-1zM171 43h1v1h-1zM171 60h1v1h-1zM171 72h1v1h-1zM171 112h1v1h-1zM171 114h1v1h-1zM171 117h1v1h-1zM171 119h1v2h-1zM171 168h1v1h-1zM171 187h1v1h-1zM171 209h1v1h-1zM171 233h1v1h-1zM171 253h1v1h-1zM171 260h1v1h-1zM171 264h1v1h-1zM171 287h1v1h-1zM175 20h1v1h-1zM175 23h1v1h-1zM175 97h1v1h-1zM175 109h1v1h-1zM175 120h1v1h-1zM175 144h1v2h-1zM175 158h1v2h-1zM175 161h1v1h-1zM175 166h1v2h-1zM175 193h1v1h-1zM175 215h1v1h-1zM175 233h1v1h-1zM175 238h1v2h-1zM175 258h1v1h-1zM175 262h1v1h-1zM176 6h1v1h-1zM176 27h1v1h-1zM176 30h1v1h-1zM176 32h1v1h-1zM176 59h1v1h-1zM176 103h1v1h-1zM176 105h1v2h-1zM176 109h1v1h-1zM176 147h1v1h-1zM176 154h1v2h-1zM176 157h1v1h-1zM176 173h1v2h-1zM176 180h1v1h-1zM176 192h1v2h-1zM176 196h1v1h-1zM176 205h1v1h-1zM176 245h1v1h-1zM176 252h1v1h-1zM176 276h1v1h-1zM177 36h1v1h-1zM177 43h1v1h-1zM177 47h1v1h-1zM177 73h1v1h-1zM177 89h1v1h-1zM177 108h1v1h-1zM177 114h1v1h-1zM177 116h1v1h-1zM177 118h1v2h-1zM177 140h1v2h-1zM177 159h1v1h-1zM177 185h1v1h-1zM177 206h1v1h-1zM177 214h1v2h-1zM177 232h1v1h-1zM177 235h1v3h-1zM177 258h1v1h-1zM177 263h1v1h-1zM177 283h1v1h-1zM178 10h1v1h-1zM178 73h1v1h-1zM178 83h1v1h-1zM178 106h1v1h-1zM178 126h1v1h-1zM178 131h1v1h-1zM178 144h1v1h-1zM178 155h1v2h-1zM178 171h1v1h-1zM178 176h1v1h-1zM178 180h1v1h-1zM178 192h1v1h-1zM178 242h1v1h-1zM178 249h1v2h-1zM178 266h1v1h-1zM178 269h1v1h-1zM178 274h1v1h-1zM179 13h1v4h-1zM179 23h1v1h-1zM179 41h1v1h-1zM179 60h1v1h-1zM179 108h1v1h-1zM179 114h1v1h-1zM179 117h1v3h-1zM179 135h1v1h-1zM179 137h1v2h-1zM179 140h1v1h-1zM179 158h1v1h-1zM179 160h1v1h-1zM179 169h1v1h-1zM179 206h1v1h-1zM179 213h1v2h-1zM179 232h1v1h-1zM179 235h1v1h-1zM179 258h1v1h-1zM179 260h1v1h-1zM179 264h1v1h-1zM180 4h1v1h-1zM180 33h1v1h-1zM180 56h1v1h-1zM180 74h1v1h-1zM180 84h1v1h-1zM180 100h1v1h-1zM180 104h1v1h-1zM180 120h1v1h-1zM180 125h1v1h-1zM180 133h1v1h-1zM180 153h1v1h-1zM180 169h1v1h-1zM180 177h1v1h-1zM180 192h1v1h-1zM180 194h1v1h-1zM180 198h1v1h-1zM180 202h1v1h-1zM180 251h1v2h-1zM180 272h1v1h-1zM181 20h1v1h-1zM181 23h1v2h-1zM181 37h1v2h-1zM181 40h1v1h-1zM181 42h1v1h-1zM181 87h1v1h-1zM181 111h1v1h-1zM181 114h1v2h-1zM181 118h1v1h-1zM181 120h1v1h-1zM181 133h1v1h-1zM181 142h1v1h-1zM181 156h1v1h-1zM181 164h1v1h-1zM181 184h1v1h-1zM181 187h1v1h-1zM181 191h1v2h-1zM181 206h1v2h-1zM181 215h1v1h-1zM181 232h1v1h-1zM181 252h1v2h-1zM181 257h1v2h-1zM181 280h1v3h-1zM181 285h1v1h-1zM184 12h1v1h-1zM184 48h1v1h-1zM184 50h1v2h-1zM184 57h1v2h-1zM184 60h1v1h-1zM184 73h1v1h-1zM184 75h1v3h-1zM184 82h1v1h-1zM184 99h1v1h-1zM184 105h1v2h-1zM184 120h1v3h-1zM184 125h1v1h-1zM184 132h1v1h-1zM184 172h1v1h-1zM184 192h1v1h-1zM184 194h1v1h-1zM184 198h1v1h-1zM184 204h1v1h-1zM184 249h1v1h-1zM184 252h1v1h-1zM184 264h1v1h-1zM184 274h1v1h-1zM185 23h1v1h-1zM185 84h1v2h-1zM185 87h1v1h-1zM185 89h1v1h-1zM185 94h1v1h-1zM185 108h1v3h-1zM185 112h1v1h-1zM185 116h1v1h-1zM185 139h1v1h-1zM185 145h1v1h-1zM185 161h1v1h-1zM185 193h1v1h-1zM185 211h1v1h-1zM185 215h1v1h-1zM185 240h1v1h-1zM185 257h1v1h-1zM185 260h1v3h-1zM185 281h1v1h-1zM185 284h1v1h-1zM185 287h1v1h-1zM186 4h1v1h-1zM186 9h1v1h-1zM186 97h1v1h-1zM186 103h1v1h-1zM186 106h1v1h-1zM186 155h1v1h-1zM186 179h1v1h-1zM186 193h1v1h-1zM186 198h1v1h-1zM186 200h1v2h-1zM186 203h1v2h-1zM186 243h1v1h-1zM186 250h1v1h-1zM186 264h1v1h-1zM186 267h1v1h-1zM187 15h1v2h-1zM187 23h1v1h-1zM187 45h1v1h-1zM187 73h1v1h-1zM187 86h1v1h-1zM187 91h1v1h-1zM187 93h1v1h-1zM187 108h1v1h-1zM187 111h1v1h-1zM187 134h1v1h-1zM187 140h1v1h-1zM187 166h1v1h-1zM187 180h1v1h-1zM187 187h1v2h-1zM187 205h1v1h-1zM187 211h1v1h-1zM187 232h1v1h-1zM187 241h1v1h-1zM187 255h1v1h-1zM187 265h1v1h-1zM187 282h1v1h-1zM188 3h1v1h-1zM188 11h1v1h-1zM188 28h1v1h-1zM188 33h1v1h-1zM188 48h1v1h-1zM188 59h1v1h-1zM188 74h1v1h-1zM188 78h1v1h-1zM188 85h1v1h-1zM188 103h1v1h-1zM188 106h1v1h-1zM188 120h1v1h-1zM188 128h1v3h-1zM188 133h1v1h-1zM188 193h1v2h-1zM188 197h1v1h-1zM188 199h1v1h-1zM188 205h1v1h-1zM188 243h1v2h-1zM188 253h1v1h-1zM188 264h1v2h-1zM188 271h1v1h-1zM188 273h1v1h-1zM188 275h1v1h-1zM189 36h1v1h-1zM189 39h1v1h-1zM189 108h1v1h-1zM189 112h1v1h-1zM189 115h1v1h-1zM189 120h1v1h-1zM189 133h1v1h-1zM189 158h1v1h-1zM189 160h1v2h-1zM189 163h1v1h-1zM189 187h1v1h-1zM189 237h1v1h-1zM189 258h1v1h-1zM189 286h1v1h-1zM190 3h1v1h-1zM190 26h1v1h-1zM190 49h1v1h-1zM190 53h1v1h-1zM190 81h1v1h-1zM190 106h1v2h-1zM190 109h1v1h-1zM190 120h1v1h-1zM190 123h1v1h-1zM190 173h1v1h-1zM190 176h1v1h-1zM190 195h1v2h-1zM190 201h1v1h-1zM190 240h1v1h-1zM190 244h1v1h-1zM190 253h1v1h-1zM190 267h1v1h-1zM191 43h1v1h-1zM191 73h1v1h-1zM191 93h1v1h-1zM191 96h1v1h-1zM191 108h1v1h-1zM191 110h1v1h-1zM191 112h1v1h-1zM191 114h1v1h-1zM191 118h1v4h-1zM191 133h1v2h-1zM191 158h1v1h-1zM191 187h1v1h-1zM191 190h1v1h-1zM191 206h1v2h-1zM191 213h1v3h-1zM191 233h1v1h-1zM191 235h1v1h-1zM191 237h1v1h-1zM191 239h1v1h-1zM191 254h1v1h-1zM191 257h1v1h-1zM198 58h1v2h-1zM198 74h1v1h-1zM198 102h1v1h-1zM198 106h1v1h-1zM198 109h1v1h-1zM198 123h1v1h-1zM198 127h1v1h-1zM198 151h1v1h-1zM198 169h1v1h-1zM198 173h1v1h-1zM198 180h1v1h-1zM198 196h1v2h-1zM198 244h1v4h-1zM198 249h1v2h-1zM198 268h1v1h-1zM198 270h1v1h-1zM198 274h1v1h-1zM199 13h1v1h-1zM199 46h1v1h-1zM199 84h1v1h-1zM199 89h1v1h-1zM199 97h1v1h-1zM199 114h1v1h-1zM199 118h1v2h-1zM199 167h1v1h-1zM199 187h1v1h-1zM199 193h1v1h-1zM199 206h1v1h-1zM199 236h1v1h-1zM199 238h1v1h-1zM199 240h1v1h-1zM199 252h1v1h-1zM199 255h1v1h-1zM199 259h1v1h-1zM199 285h1v1h-1zM200 2h1v1h-1zM200 51h1v1h-1zM200 55h1v2h-1zM200 60h1v1h-1zM200 72h1v1h-1zM200 101h1v2h-1zM200 106h1v1h-1zM200 122h1v1h-1zM200 150h1v1h-1zM200 153h1v2h-1zM200 156h1v2h-1zM200 168h1v2h-1zM200 181h1v1h-1zM200 193h1v1h-1zM200 199h1v1h-1zM200 201h1v1h-1zM200 203h1v1h-1zM200 242h1v1h-1zM200 253h1v1h-1zM200 268h1v1h-1zM200 274h1v1h-1zM201 24h1v1h-1zM201 90h1v1h-1zM201 117h1v1h-1zM201 136h1v1h-1zM201 139h1v1h-1zM201 181h1v1h-1zM201 185h1v1h-1zM201 188h1v1h-1zM201 210h1v1h-1zM201 214h1v1h-1zM201 232h1v1h-1zM201 240h1v1h-1zM201 264h1v1h-1zM201 276h1v2h-1zM202 33h1v1h-1zM202 55h1v1h-1zM202 73h1v1h-1zM202 84h1v1h-1zM202 106h1v1h-1zM202 108h1v1h-1zM202 173h1v1h-1zM202 176h1v1h-1zM202 179h1v1h-1zM202 251h1v1h-1zM202 253h1v1h-1zM202 276h1v2h-1zM203 46h1v1h-1zM203 72h1v2h-1zM203 94h1v1h-1zM203 108h1v1h-1zM203 112h1v1h-1zM203 114h1v1h-1zM203 116h1v1h-1zM203 132h1v1h-1zM203 134h1v1h-1zM203 139h1v1h-1zM203 163h1v1h-1zM203 165h1v1h-1zM203 184h1v1h-1zM203 186h1v1h-1zM203 204h1v1h-1zM203 206h1v1h-1zM203 209h1v1h-1zM203 214h1v1h-1zM203 231h1v1h-1zM203 237h1v2h-1zM203 252h1v1h-1zM203 259h1v1h-1zM203 262h1v2h-1zM203 277h1v2h-1zM203 283h1v1h-1zM204 13h1v1h-1zM204 51h1v1h-1zM204 59h1v1h-1zM204 104h1v1h-1zM204 132h1v1h-1zM204 152h1v1h-1zM204 154h1v1h-1zM204 178h1v2h-1zM204 195h1v1h-1zM204 200h1v1h-1zM204 205h1v1h-1zM204 250h1v1h-1zM204 252h1v1h-1zM204 265h1v1h-1zM204 271h1v1h-1zM205 41h1v1h-1zM205 73h1v1h-1zM205 98h1v1h-1zM205 115h1v1h-1zM205 141h1v1h-1zM205 144h1v2h-1zM205 158h1v1h-1zM205 163h1v1h-1zM205 169h1v1h-1zM205 182h1v1h-1zM205 190h1v1h-1zM205 231h1v1h-1zM205 235h1v1h-1zM205 263h1v2h-1zM205 279h1v1h-1zM206 0h1v1h-1zM206 5h1v1h-1zM206 7h1v1h-1zM206 10h1v1h-1zM206 34h1v1h-1zM206 55h1v2h-1zM206 73h1v1h-1zM206 77h1v1h-1zM206 89h1v1h-1zM206 99h1v1h-1zM206 104h1v2h-1zM206 120h1v1h-1zM206 129h1v1h-1zM206 150h1v1h-1zM206 169h1v1h-1zM206 171h1v1h-1zM206 193h1v2h-1zM206 242h1v1h-1zM206 247h1v1h-1zM206 268h1v1h-1zM206 276h1v1h-1zM207 13h1v1h-1zM207 19h1v1h-1zM207 73h1v1h-1zM207 91h1v1h-1zM207 96h1v2h-1zM207 113h1v1h-1zM207 119h1v1h-1zM207 121h1v1h-1zM207 136h1v1h-1zM207 182h1v2h-1zM207 188h1v1h-1zM207 240h1v1h-1zM207 282h1v1h-1zM207 284h1v1h-1zM208 32h1v1h-1zM208 50h1v1h-1zM208 78h1v1h-1zM208 84h1v1h-1zM208 101h1v1h-1zM208 106h1v1h-1zM208 109h1v1h-1zM208 153h1v3h-1zM208 157h1v1h-1zM208 200h1v2h-1zM208 241h1v1h-1zM208 243h1v1h-1zM208 247h1v1h-1zM209 1h1v1h-1zM209 45h1v1h-1zM209 60h1v1h-1zM209 73h1v1h-1zM209 98h1v1h-1zM209 114h1v1h-1zM209 118h1v1h-1zM209 134h1v1h-1zM209 143h1v1h-1zM209 162h1v1h-1zM209 187h1v1h-1zM209 213h1v1h-1zM209 235h1v1h-1zM209 241h1v1h-1zM209 261h1v1h-1zM209 276h1v1h-1zM210 0h1v1h-1zM210 92h1v1h-1zM210 96h1v1h-1zM210 107h1v1h-1zM210 109h1v1h-1zM210 120h1v1h-1zM210 145h1v1h-1zM210 155h1v1h-1zM210 199h1v2h-1zM210 242h1v1h-1zM210 244h1v2h-1zM210 252h1v1h-1zM210 270h1v1h-1zM210 273h1v1h-1zM211 5h1v1h-1zM211 17h1v1h-1zM211 21h1v1h-1zM211 48h1v2h-1zM211 72h1v1h-1zM211 88h1v1h-1zM211 93h1v1h-1zM211 110h1v2h-1zM211 114h1v1h-1zM211 116h1v1h-1zM211 119h1v2h-1zM211 159h1v1h-1zM211 161h1v1h-1zM211 167h1v1h-1zM211 182h1v1h-1zM211 207h1v1h-1zM211 213h1v1h-1zM211 230h1v1h-1zM211 254h1v1h-1zM211 256h1v1h-1zM211 261h1v1h-1zM211 263h1v1h-1zM211 280h1v1h-1zM211 283h1v1h-1zM212 48h1v1h-1zM212 55h1v1h-1zM212 59h1v1h-1zM212 104h1v1h-1zM212 107h1v1h-1zM212 131h1v1h-1zM212 144h1v1h-1zM212 150h1v1h-1zM212 168h1v1h-1zM212 170h1v1h-1zM212 174h1v1h-1zM212 178h1v1h-1zM212 192h1v1h-1zM212 241h1v1h-1zM212 265h1v1h-1zM212 271h1v1h-1zM212 275h1v1h-1zM213 0h1v2h-1zM213 13h1v1h-1zM213 20h1v1h-1zM213 49h1v1h-1zM213 72h1v1h-1zM213 112h1v1h-1zM213 137h1v2h-1zM213 145h1v1h-1zM213 162h1v1h-1zM213 169h1v1h-1zM213 184h1v1h-1zM213 190h1v1h-1zM213 204h1v1h-1zM213 256h1v1h-1zM213 278h1v1h-1zM214 37h1v1h-1zM214 57h1v1h-1zM214 73h1v1h-1zM214 81h1v1h-1zM214 85h1v1h-1zM214 91h1v1h-1zM214 95h1v1h-1zM214 99h1v1h-1zM214 106h1v1h-1zM214 120h1v1h-1zM214 127h1v1h-1zM214 132h1v1h-1zM214 144h1v1h-1zM214 171h1v1h-1zM214 178h1v1h-1zM214 180h1v1h-1zM214 205h1v1h-1zM214 243h1v1h-1zM214 250h1v1h-1zM214 252h1v1h-1zM214 264h1v1h-1zM215 18h1v1h-1zM215 23h1v1h-1zM215 36h1v1h-1zM215 43h1v1h-1zM215 47h1v1h-1zM215 110h1v1h-1zM215 118h1v2h-1zM215 137h1v1h-1zM215 144h1v1h-1zM215 166h1v1h-1zM215 192h1v1h-1zM215 209h1v1h-1zM215 231h1v1h-1zM215 241h1v1h-1zM215 252h1v1h-1zM215 254h1v1h-1zM215 260h1v1h-1zM215 280h1v1h-1zM216 3h1v1h-1zM216 11h1v1h-1zM216 31h1v1h-1zM216 59h1v1h-1zM216 73h1v1h-1zM216 82h1v1h-1zM216 104h1v1h-1zM216 108h1v2h-1zM216 125h1v1h-1zM216 145h1v1h-1zM216 156h1v1h-1zM216 172h1v1h-1zM216 196h1v1h-1zM216 205h1v1h-1zM216 246h1v1h-1zM216 253h1v1h-1zM216 268h1v1h-1zM216 272h1v2h-1zM216 276h1v1h-1zM217 16h1v1h-1zM217 39h1v1h-1zM217 42h1v1h-1zM217 73h1v1h-1zM217 111h1v1h-1zM217 117h1v1h-1zM217 120h1v1h-1zM217 133h1v2h-1zM217 144h1v1h-1zM217 164h1v2h-1zM217 168h1v1h-1zM217 191h1v1h-1zM217 209h1v1h-1zM217 213h1v1h-1zM217 230h1v2h-1zM217 234h1v1h-1zM217 256h1v1h-1zM217 258h1v2h-1zM217 286h1v1h-1zM218 35h1v1h-1zM218 48h1v1h-1zM218 59h1v1h-1zM218 73h1v1h-1zM218 82h1v1h-1zM218 101h1v1h-1zM218 105h1v2h-1zM218 120h1v1h-1zM218 128h1v2h-1zM218 146h1v1h-1zM218 171h1v1h-1zM218 173h1v2h-1zM218 181h1v1h-1zM218 201h1v2h-1zM218 240h1v1h-1zM218 249h1v1h-1zM218 269h1v1h-1zM219 8h1v1h-1zM219 47h1v1h-1zM219 108h1v1h-1zM219 111h1v1h-1zM219 118h1v2h-1zM219 121h1v1h-1zM219 137h1v1h-1zM219 183h1v2h-1zM219 190h1v1h-1zM219 192h1v1h-1zM219 209h1v1h-1zM219 213h1v1h-1zM219 230h1v1h-1zM219 240h1v1h-1zM219 260h1v1h-1zM219 263h1v1h-1zM219 285h1v1h-1zM220 9h1v1h-1zM220 24h1v1h-1zM220 85h1v1h-1zM220 93h1v1h-1zM220 96h1v1h-1zM220 108h1v2h-1zM220 120h1v1h-1zM220 170h1v1h-1zM220 180h1v1h-1zM220 198h1v1h-1zM220 202h1v2h-1zM220 243h1v1h-1zM220 245h1v1h-1zM220 250h1v1h-1zM220 264h1v1h-1zM220 270h1v1h-1zM220 274h1v1h-1zM220 277h1v1h-1zM221 4h1v1h-1zM221 7h1v1h-1zM221 16h1v1h-1zM221 72h1v2h-1zM221 85h1v2h-1zM221 98h1v1h-1zM221 117h1v1h-1zM221 119h1v2h-1zM221 132h1v1h-1zM221 134h1v1h-1zM221 142h1v1h-1zM221 156h1v1h-1zM221 160h1v1h-1zM221 163h1v1h-1zM221 183h1v1h-1zM221 187h1v1h-1zM221 208h1v1h-1zM221 211h1v1h-1zM221 213h1v1h-1zM221 235h1v1h-1zM221 259h1v1h-1zM221 261h1v1h-1zM221 278h1v1h-1zM222 2h1v1h-1zM222 31h1v1h-1zM222 35h1v1h-1zM222 53h1v1h-1zM222 73h1v1h-1zM222 81h1v1h-1zM222 101h1v1h-1zM222 106h1v3h-1zM222 126h1v1h-1zM222 130h1v1h-1zM222 132h1v1h-1zM222 150h1v1h-1zM222 168h1v1h-1zM222 172h1v1h-1zM222 178h1v1h-1zM222 201h1v1h-1zM222 205h1v1h-1zM222 241h1v1h-1zM222 243h1v1h-1zM222 248h1v1h-1zM222 264h1v1h-1zM222 266h1v1h-1zM222 271h1v1h-1zM223 73h1v1h-1zM223 84h1v1h-1zM223 111h1v2h-1zM223 120h1v1h-1zM223 143h1v1h-1zM223 169h1v1h-1zM223 183h1v1h-1zM223 185h1v1h-1zM223 206h1v1h-1zM223 231h1v1h-1zM223 239h1v1h-1zM223 282h1v1h-1zM223 285h1v1h-1zM224 9h1v1h-1zM224 50h1v1h-1zM224 56h1v1h-1zM224 59h1v1h-1zM224 75h1v2h-1zM224 82h1v4h-1zM224 105h1v1h-1zM224 109h1v1h-1zM224 129h1v1h-1zM224 145h1v1h-1zM224 148h1v1h-1zM224 155h1v1h-1zM224 169h1v1h-1zM224 193h1v3h-1zM224 197h1v2h-1zM224 264h1v1h-1zM224 273h1v1h-1zM225 16h1v1h-1zM225 36h1v1h-1zM225 73h1v1h-1zM225 95h1v1h-1zM225 112h1v1h-1zM225 114h1v2h-1zM225 118h1v1h-1zM225 120h1v2h-1zM225 162h1v1h-1zM225 167h1v1h-1zM225 169h1v1h-1zM225 185h1v1h-1zM225 187h1v1h-1zM225 190h1v1h-1zM225 206h1v1h-1zM225 213h1v1h-1zM225 231h1v1h-1zM225 237h1v2h-1zM225 252h1v4h-1zM225 261h1v1h-1zM225 264h1v2h-1zM225 276h1v1h-1zM225 279h1v1h-1zM225 284h1v1h-1zM225 287h1v1h-1zM226 3h1v1h-1zM226 52h1v1h-1zM226 55h1v1h-1zM226 73h1v1h-1zM226 77h1v3h-1zM226 99h1v1h-1zM226 101h1v1h-1zM226 104h1v1h-1zM226 120h1v1h-1zM226 127h1v1h-1zM226 133h1v1h-1zM226 152h1v1h-1zM226 170h1v1h-1zM226 175h1v1h-1zM226 253h1v1h-1zM226 273h1v1h-1zM226 277h1v1h-1zM227 17h1v1h-1zM227 22h1v2h-1zM227 36h1v1h-1zM227 46h1v1h-1zM227 90h1v1h-1zM227 110h1v2h-1zM227 114h1v2h-1zM227 119h1v1h-1zM227 143h1v1h-1zM227 153h1v1h-1zM227 157h1v1h-1zM227 159h1v1h-1zM227 184h1v1h-1zM227 187h1v1h-1zM227 204h1v1h-1zM227 207h1v1h-1zM227 213h1v1h-1zM227 231h1v1h-1zM227 252h1v1h-1zM227 264h1v1h-1zM227 279h1v1h-1zM227 287h1v1h-1zM228 3h1v1h-1zM228 9h1v1h-1zM228 33h1v1h-1zM228 49h1v1h-1zM228 98h1v2h-1zM228 102h1v2h-1zM228 106h1v1h-1zM228 108h1v1h-1zM228 121h1v1h-1zM228 123h1v1h-1zM228 129h1v1h-1zM228 150h1v1h-1zM228 162h1v1h-1zM228 171h1v1h-1zM228 194h1v1h-1zM228 198h1v2h-1zM228 201h1v2h-1zM228 205h1v1h-1zM228 240h1v1h-1zM228 245h1v1h-1zM228 250h1v2h-1zM228 265h1v2h-1zM228 268h1v1h-1zM228 270h1v1h-1zM228 272h1v2h-1zM228 275h1v1h-1zM229 43h1v1h-1zM229 85h1v1h-1zM229 93h1v1h-1zM229 161h1v1h-1zM229 168h1v1h-1zM229 181h1v2h-1zM229 206h1v1h-1zM229 212h1v1h-1zM229 234h1v3h-1zM229 254h1v1h-1zM229 281h1v1h-1zM230 29h1v1h-1zM230 31h1v2h-1zM230 51h1v1h-1zM230 59h1v1h-1zM230 72h1v3h-1zM230 76h1v1h-1zM230 80h1v2h-1zM230 90h1v1h-1zM230 102h1v1h-1zM230 105h1v2h-1zM230 120h1v1h-1zM230 129h1v1h-1zM230 149h1v1h-1zM230 157h1v1h-1zM230 160h1v1h-1zM230 174h1v1h-1zM230 177h1v2h-1zM230 194h1v1h-1zM230 201h1v1h-1zM230 203h1v1h-1zM230 249h1v1h-1zM230 264h1v2h-1zM230 270h1v1h-1zM230 273h1v1h-1zM230 277h1v1h-1zM231 36h1v1h-1zM231 39h1v1h-1zM231 73h1v1h-1zM231 86h1v1h-1zM231 109h1v1h-1zM231 111h1v1h-1zM231 116h1v1h-1zM231 119h1v1h-1zM231 133h1v1h-1zM231 148h1v3h-1zM231 153h1v1h-1zM231 158h1v1h-1zM231 185h1v1h-1zM231 188h1v2h-1zM231 192h1v1h-1zM231 213h1v1h-1zM231 255h1v1h-1zM231 276h1v1h-1zM231 278h1v1h-1zM231 287h1v1h-1zM236 8h1v1h-1zM236 32h1v1h-1zM236 49h1v1h-1zM236 59h1v1h-1zM236 73h1v1h-1zM236 79h1v1h-1zM236 84h1v1h-1zM236 96h1v1h-1zM236 104h1v1h-1zM236 106h1v1h-1zM236 108h1v2h-1zM236 147h1v1h-1zM236 172h1v2h-1zM236 181h1v1h-1zM236 200h1v1h-1zM236 246h1v1h-1zM236 252h1v2h-1zM236 265h1v1h-1zM237 18h1v1h-1zM237 20h1v1h-1zM237 25h1v1h-1zM237 73h1v1h-1zM237 91h1v1h-1zM237 118h1v1h-1zM237 190h1v2h-1zM237 204h1v1h-1zM237 206h1v1h-1zM237 209h1v1h-1zM237 212h1v1h-1zM237 234h1v2h-1zM237 238h1v1h-1zM237 252h1v1h-1zM237 257h1v1h-1zM237 278h1v1h-1zM237 282h1v1h-1zM238 13h1v1h-1zM238 27h1v1h-1zM238 30h1v1h-1zM238 50h1v1h-1zM238 73h1v1h-1zM238 77h1v1h-1zM238 80h1v1h-1zM238 100h1v1h-1zM238 103h1v3h-1zM238 153h1v1h-1zM238 168h1v1h-1zM238 172h1v1h-1zM238 176h1v1h-1zM238 194h1v1h-1zM238 201h1v1h-1zM238 205h1v1h-1zM238 240h1v1h-1zM238 245h1v1h-1zM238 247h1v1h-1zM238 250h1v1h-1zM238 253h1v1h-1zM238 265h1v1h-1zM238 275h1v1h-1zM239 14h1v1h-1zM239 25h1v1h-1zM239 90h1v3h-1zM239 110h1v1h-1zM239 112h1v1h-1zM239 115h1v1h-1zM239 186h1v1h-1zM239 254h1v1h-1zM239 265h1v1h-1z"/>
<path fill="#5c68ae" d="M5 65h1v1h-1zM5 72h1v1h-1zM5 160h1v3h-1zM5 183h1v1h-1zM5 189h1v1h-1zM5 192h1v1h-1zM5 238h1v1h-1zM6 58h1v1h-1zM6 146h1v1h-1zM6 153h1v1h-1zM6 174h1v1h-1zM6 177h1v1h-1zM6 197h1v1h-1zM6 202h1v1h-1zM6 205h1v1h-1zM6 241h1v1h-1zM7 64h1v1h-1zM7 67h1v1h-1zM7 70h1v1h-1zM7 120h1v1h-1zM7 142h1v1h-1zM7 157h1v2h-1zM7 161h1v1h-1zM7 217h1v1h-1zM7 239h1v1h-1zM8 102h1v1h-1zM8 120h1v1h-1zM8 169h1v1h-1zM10 59h1v1h-1zM10 61h1v1h-1zM10 120h1v1h-1zM10 152h1v1h-1zM10 194h1v1h-1zM11 60h1v1h-1zM11 119h1v1h-1zM11 132h1v2h-1zM11 188h1v1h-1zM11 191h1v1h-1zM11 238h1v1h-1zM18 2h1v1h-1zM18 6h1v1h-1zM18 60h1v1h-1zM18 82h1v1h-1zM18 120h1v1h-1zM18 151h1v1h-1zM18 162h1v1h-1zM18 219h1v1h-1zM19 6h1v2h-1zM19 70h1v1h-1zM19 119h1v1h-1zM19 158h1v1h-1zM19 162h1v1h-1zM19 195h1v1h-1zM19 205h1v1h-1zM19 237h1v1h-1zM20 1h1v1h-1zM20 5h1v1h-1zM20 54h1v1h-1zM20 60h1v1h-1zM20 73h1v1h-1zM20 77h1v1h-1zM20 103h1v1h-1zM20 128h1v1h-1zM20 131h1v1h-1zM20 145h1v1h-1zM20 167h1v1h-1zM20 202h1v2h-1zM20 218h1v1h-1zM20 247h1v1h-1zM21 4h1v3h-1zM21 47h1v1h-1zM21 62h1v1h-1zM21 65h1v1h-1zM21 68h1v2h-1zM21 151h1v1h-1zM21 162h1v1h-1zM21 195h1v1h-1zM21 199h1v1h-1zM21 204h1v1h-1zM21 207h1v1h-1zM21 238h1v1h-1zM22 6h1v2h-1zM22 61h1v1h-1zM22 100h1v3h-1zM22 123h1v2h-1zM22 131h1v1h-1zM22 155h1v1h-1zM22 181h1v1h-1zM22 188h1v1h-1zM22 265h1v1h-1zM23 1h1v2h-1zM23 5h1v1h-1zM23 69h1v1h-1zM23 73h1v1h-1zM23 135h1v1h-1zM23 153h1v1h-1zM23 171h1v2h-1zM23 176h1v1h-1zM23 183h1v1h-1zM23 195h1v1h-1zM23 197h1v1h-1zM23 241h1v1h-1zM24 4h1v2h-1zM24 102h1v1h-1zM24 121h1v1h-1zM24 130h1v1h-1zM24 164h1v1h-1zM24 181h1v1h-1zM24 205h1v1h-1zM25 5h1v1h-1zM25 7h1v1h-1zM25 60h1v1h-1zM25 63h1v1h-1zM25 135h1v1h-1zM25 151h1v1h-1zM25 155h1v1h-1zM25 162h1v1h-1zM25 171h1v1h-1zM25 173h1v1h-1zM25 178h1v1h-1zM25 189h1v1h-1zM25 199h1v1h-1zM25 208h1v1h-1zM25 281h1v1h-1zM25 283h1v1h-1zM26 1h1v1h-1zM26 34h1v1h-1zM26 103h1v1h-1zM26 149h1v1h-1zM26 155h1v1h-1zM26 162h1v1h-1zM26 220h1v1h-1zM27 0h1v1h-1zM27 3h1v1h-1zM27 5h1v1h-1zM27 64h1v1h-1zM27 67h1v1h-1zM27 132h1v1h-1zM27 134h1v1h-1zM27 143h1v1h-1zM27 151h1v1h-1zM27 163h1v1h-1zM27 178h1v2h-1zM27 182h1v1h-1zM27 192h1v1h-1zM27 198h1v2h-1zM27 206h1v1h-1zM27 287h1v1h-1zM28 7h1v1h-1zM28 61h1v1h-1zM28 102h1v1h-1zM28 160h1v1h-1zM28 170h1v1h-1zM28 195h1v1h-1zM28 199h1v1h-1zM28 218h1v1h-1zM29 0h1v1h-1zM29 2h1v5h-1zM29 63h1v1h-1zM29 66h1v1h-1zM29 187h1v2h-1zM29 191h1v1h-1zM29 194h1v1h-1zM29 196h1v1h-1zM29 240h1v1h-1zM30 0h1v1h-1zM30 5h1v1h-1zM30 199h1v1h-1zM30 202h1v1h-1zM30 205h1v1h-1zM31 1h1v1h-1zM31 6h1v2h-1zM31 44h1v1h-1zM31 63h1v2h-1zM31 67h1v3h-1zM31 196h1v1h-1zM31 217h1v1h-1zM31 280h1v1h-1zM32 0h1v1h-1zM32 2h1v1h-1zM32 6h1v1h-1zM32 8h1v1h-1zM32 12h1v1h-1zM32 199h1v2h-1zM33 64h1v1h-1zM33 141h1v1h-1zM33 149h1v2h-1zM33 174h1v1h-1zM33 182h1v1h-1zM33 193h1v1h-1zM33 197h1v1h-1zM33 282h1v1h-1zM33 287h1v1h-1zM34 3h1v1h-1zM34 5h1v1h-1zM34 7h1v1h-1zM34 59h1v1h-1zM34 101h1v1h-1zM34 121h1v1h-1zM34 127h1v1h-1zM34 130h1v1h-1zM34 138h1v1h-1zM34 169h1v2h-1zM34 172h1v1h-1zM34 196h1v1h-1zM35 2h1v1h-1zM35 4h1v2h-1zM35 7h1v1h-1zM35 136h1v1h-1zM35 143h1v1h-1zM35 162h1v1h-1zM35 183h1v1h-1zM35 238h1v1h-1zM36 2h1v1h-1zM36 5h1v1h-1zM36 7h1v1h-1zM36 122h1v1h-1zM36 125h1v1h-1zM36 132h1v1h-1zM36 141h1v1h-1zM36 156h1v2h-1zM36 161h1v1h-1zM36 165h1v1h-1zM36 174h1v1h-1zM36 181h1v1h-1zM36 189h1v1h-1zM36 193h1v1h-1zM36 199h1v1h-1zM36 201h1v1h-1zM36 219h1v1h-1zM36 251h1v1h-1zM37 1h1v1h-1zM37 6h1v1h-1zM37 63h1v1h-1zM37 67h1v1h-1zM37 71h1v1h-1zM37 92h1v1h-1zM37 96h1v1h-1zM37 154h1v2h-1zM37 162h1v1h-1zM37 172h1v1h-1zM37 237h1v1h-1zM38 1h1v2h-1zM38 4h1v1h-1zM38 133h1v1h-1zM38 153h1v1h-1zM38 174h1v1h-1zM38 195h1v2h-1zM38 220h1v1h-1zM39 0h1v2h-1zM39 3h1v1h-1zM39 6h1v1h-1zM39 37h1v1h-1zM39 62h1v2h-1zM39 65h1v1h-1zM39 68h1v1h-1zM39 73h1v1h-1zM39 121h1v1h-1zM39 137h1v1h-1zM39 156h1v1h-1zM39 167h1v1h-1zM39 171h1v1h-1zM39 195h1v1h-1zM39 199h1v1h-1zM39 207h1v1h-1zM40 2h1v1h-1zM40 4h1v1h-1zM40 7h1v1h-1zM40 61h1v1h-1zM40 102h1v1h-1zM40 123h1v1h-1zM40 128h1v1h-1zM40 132h1v2h-1zM40 148h1v2h-1zM40 154h1v1h-1zM40 160h1v1h-1zM40 169h1v1h-1zM40 184h1v1h-1zM40 203h1v1h-1zM40 217h1v1h-1zM41 4h1v1h-1zM41 6h1v2h-1zM41 12h1v1h-1zM41 61h1v3h-1zM41 67h1v1h-1zM41 71h1v1h-1zM41 146h1v1h-1zM41 162h1v1h-1zM41 171h1v1h-1zM41 177h1v1h-1zM41 185h1v1h-1zM41 208h1v1h-1zM41 217h1v1h-1zM41 240h1v1h-1zM42 101h1v1h-1zM42 120h1v2h-1zM42 126h1v1h-1zM42 128h1v1h-1zM42 137h1v1h-1zM42 145h1v1h-1zM42 165h1v1h-1zM42 169h1v1h-1zM42 178h1v1h-1zM42 191h1v1h-1zM42 218h1v1h-1zM43 2h1v1h-1zM43 6h1v1h-1zM43 65h1v3h-1zM43 119h1v1h-1zM43 132h1v1h-1zM43 137h1v2h-1zM43 168h1v1h-1zM43 173h1v1h-1zM43 178h1v1h-1zM43 285h1v1h-1zM44 7h1v1h-1zM44 59h1v1h-1zM44 101h1v3h-1zM44 121h1v1h-1zM44 132h1v1h-1zM44 155h1v1h-1zM44 157h1v1h-1zM44 170h1v1h-1zM44 184h1v1h-1zM44 192h1v1h-1zM44 205h1v1h-1zM44 268h1v1h-1zM44 276h1v1h-1zM45 0h1v1h-1zM45 2h1v1h-1zM45 61h1v2h-1zM45 73h1v1h-1zM45 167h1v1h-1zM45 172h1v1h-1zM45 187h1v1h-1zM45 196h1v1h-1zM45 277h1v1h-1zM45 281h1v1h-1zM45 285h1v1h-1zM46 2h1v1h-1zM46 5h1v2h-1zM46 75h1v1h-1zM46 77h1v1h-1zM46 122h1v1h-1zM46 126h1v3h-1zM46 143h1v1h-1zM46 145h1v1h-1zM46 165h1v1h-1zM46 171h1v1h-1zM46 218h1v1h-1zM47 0h1v1h-1zM47 4h1v4h-1zM47 60h1v1h-1zM47 70h1v1h-1zM47 119h1v1h-1zM47 147h1v1h-1zM47 155h1v1h-1zM47 171h1v1h-1zM47 190h1v1h-1zM47 195h1v1h-1zM47 236h1v2h-1zM47 285h1v1h-1zM48 0h1v1h-1zM48 5h1v2h-1zM48 62h1v1h-1zM48 101h1v2h-1zM48 127h1v3h-1zM48 136h1v1h-1zM48 139h1v1h-1zM48 147h1v1h-1zM48 151h1v1h-1zM48 154h1v1h-1zM48 158h1v1h-1zM48 160h1v1h-1zM48 164h1v2h-1zM48 181h1v4h-1zM48 188h1v1h-1zM49 2h1v1h-1zM49 6h1v1h-1zM49 67h1v3h-1zM49 121h1v1h-1zM49 162h1v1h-1zM49 165h1v1h-1zM49 195h1v1h-1zM49 212h1v1h-1zM49 280h1v1h-1zM50 0h1v2h-1zM50 6h1v1h-1zM50 56h1v1h-1zM50 58h1v3h-1zM50 125h1v2h-1zM50 174h1v1h-1zM50 197h1v1h-1zM50 217h1v1h-1zM51 3h1v1h-1zM51 60h1v1h-1zM51 72h1v1h-1zM51 135h1v1h-1zM51 145h1v1h-1zM51 154h1v1h-1zM51 196h1v1h-1zM51 236h1v1h-1zM51 285h1v1h-1zM52 5h1v1h-1zM52 46h1v1h-1zM52 63h1v1h-1zM52 103h1v1h-1zM52 120h1v1h-1zM52 122h1v1h-1zM52 124h1v1h-1zM52 160h1v1h-1zM52 175h1v1h-1zM52 185h1v2h-1zM52 188h1v1h-1zM52 201h1v1h-1zM52 204h1v1h-1zM52 218h1v1h-1zM53 4h1v1h-1zM53 6h1v1h-1zM53 38h1v1h-1zM53 72h1v1h-1zM53 121h1v1h-1zM53 137h1v1h-1zM53 149h1v1h-1zM53 158h1v1h-1zM53 191h1v2h-1zM53 194h1v1h-1zM53 209h1v1h-1zM53 239h1v1h-1zM54 1h1v1h-1zM54 11h1v1h-1zM54 59h1v1h-1zM54 61h1v1h-1zM54 101h1v1h-1zM54 103h1v1h-1zM54 120h1v1h-1zM54 124h1v1h-1zM54 127h1v1h-1zM54 131h1v1h-1zM54 145h1v1h-1zM54 152h1v1h-1zM54 175h1v1h-1zM54 192h1v2h-1zM54 203h1v1h-1zM55 7h1v1h-1zM55 60h1v2h-1zM55 65h1v2h-1zM55 120h1v2h-1zM55 138h1v1h-1zM55 160h1v1h-1zM55 163h1v1h-1zM55 168h1v1h-1zM55 170h1v1h-1zM55 174h1v1h-1zM55 177h1v1h-1zM55 216h1v1h-1zM55 237h1v1h-1zM56 59h1v1h-1zM56 61h1v1h-1zM56 66h1v1h-1zM56 101h1v2h-1zM56 104h1v1h-1zM56 122h1v2h-1zM56 126h1v1h-1zM56 128h1v1h-1zM56 136h1v1h-1zM56 140h1v1h-1zM56 151h1v2h-1zM56 155h1v1h-1zM56 168h1v1h-1zM56 185h1v2h-1zM56 191h1v1h-1zM56 219h1v1h-1zM57 2h1v4h-1zM57 58h1v1h-1zM57 70h1v2h-1zM57 120h1v1h-1zM57 139h1v1h-1zM57 142h1v1h-1zM57 150h1v1h-1zM57 154h1v1h-1zM57 183h1v1h-1zM57 241h1v1h-1zM58 1h1v1h-1zM58 4h1v1h-1zM58 6h1v1h-1zM58 72h1v1h-1zM58 127h1v1h-1zM58 136h1v1h-1zM58 167h1v1h-1zM58 181h1v1h-1zM58 192h1v1h-1zM58 198h1v1h-1zM58 219h1v1h-1zM59 2h1v2h-1zM59 7h1v1h-1zM59 66h1v1h-1zM59 72h1v1h-1zM59 160h1v1h-1zM59 180h1v1h-1zM59 183h1v1h-1zM59 189h1v1h-1zM59 196h1v1h-1zM59 207h1v1h-1zM59 237h1v1h-1zM59 239h1v1h-1zM60 1h1v1h-1zM60 6h1v1h-1zM60 61h1v1h-1zM60 72h1v1h-1zM60 96h1v1h-1zM60 102h1v2h-1zM60 120h1v2h-1zM60 143h1v2h-1zM60 146h1v1h-1zM60 151h1v2h-1zM60 162h1v1h-1zM60 165h1v1h-1zM60 169h1v1h-1zM60 172h1v1h-1zM60 181h1v1h-1zM61 3h1v1h-1zM61 63h1v1h-1zM61 139h1v2h-1zM61 145h1v1h-1zM61 155h1v1h-1zM61 160h1v1h-1zM61 187h1v1h-1zM61 196h1v1h-1zM61 215h1v1h-1zM61 237h1v1h-1zM62 3h1v2h-1zM62 63h1v1h-1zM62 72h1v1h-1zM62 75h1v1h-1zM62 103h1v1h-1zM62 124h1v1h-1zM62 129h1v1h-1zM62 159h1v1h-1zM62 164h1v1h-1zM62 217h1v2h-1zM62 271h1v1h-1zM63 3h1v1h-1zM63 57h1v1h-1zM63 61h1v1h-1zM63 119h1v1h-1zM63 139h1v1h-1zM63 143h1v1h-1zM63 158h1v1h-1zM63 170h1v2h-1zM63 206h1v1h-1zM63 216h1v1h-1zM64 3h1v1h-1zM64 5h1v2h-1zM64 67h1v1h-1zM64 73h1v1h-1zM64 101h1v2h-1zM64 104h1v1h-1zM64 120h1v1h-1zM64 124h1v4h-1zM64 129h1v1h-1zM64 142h1v1h-1zM64 151h1v1h-1zM64 180h1v1h-1zM64 184h1v1h-1zM64 197h1v1h-1zM64 218h1v1h-1zM65 3h1v1h-1zM65 5h1v1h-1zM65 59h1v1h-1zM65 67h1v1h-1zM65 119h1v1h-1zM65 141h1v1h-1zM65 145h1v1h-1zM65 205h1v1h-1zM65 208h1v1h-1zM65 237h1v1h-1zM65 239h1v1h-1zM66 6h1v1h-1zM66 11h1v1h-1zM66 37h1v1h-1zM66 57h1v1h-1zM66 59h1v1h-1zM66 72h1v1h-1zM66 101h1v4h-1zM66 120h1v1h-1zM66 122h1v1h-1zM66 124h1v1h-1zM66 128h1v1h-1zM66 154h1v1h-1zM66 156h1v1h-1zM66 160h1v1h-1zM66 218h1v1h-1zM67 1h1v1h-1zM67 61h1v1h-1zM67 64h1v1h-1zM67 73h1v1h-1zM67 119h1v1h-1zM67 132h1v1h-1zM67 135h1v1h-1zM67 141h1v1h-1zM67 192h1v1h-1zM67 217h1v1h-1zM67 257h1v1h-1zM68 4h1v1h-1zM68 7h1v1h-1zM68 120h1v1h-1zM68 122h1v2h-1zM68 147h1v1h-1zM68 174h1v1h-1zM68 176h1v1h-1zM68 181h1v1h-1zM68 193h1v1h-1zM68 198h1v1h-1zM68 248h1v1h-1zM69 2h1v1h-1zM69 68h1v1h-1zM69 70h1v1h-1zM69 72h1v1h-1zM69 149h1v1h-1zM69 153h1v3h-1zM69 163h1v1h-1zM69 216h1v1h-1zM70 7h1v1h-1zM70 122h1v1h-1zM70 143h1v1h-1zM70 147h1v1h-1zM70 157h1v1h-1zM70 172h1v2h-1zM70 218h1v1h-1zM71 60h1v2h-1zM71 164h1v1h-1zM71 184h1v1h-1zM71 191h1v1h-1zM71 236h1v1h-1zM72 58h1v2h-1zM72 61h1v1h-1zM72 72h1v1h-1zM72 103h1v1h-1zM72 148h1v1h-1zM72 171h1v1h-1zM72 203h1v1h-1zM72 218h1v1h-1zM73 60h1v2h-1zM73 68h1v1h-1zM73 70h1v1h-1zM73 148h1v1h-1zM73 173h1v1h-1zM73 189h1v1h-1zM73 209h1v1h-1zM73 237h1v2h-1zM74 28h1v1h-1zM74 61h1v1h-1zM74 101h1v1h-1zM74 123h1v2h-1zM74 139h1v1h-1zM74 146h1v1h-1zM74 168h1v2h-1zM74 174h1v1h-1zM74 192h1v1h-1zM74 194h1v1h-1zM74 203h1v1h-1zM74 218h1v1h-1zM75 66h1v1h-1zM75 72h1v1h-1zM75 121h1v1h-1zM75 145h1v1h-1zM75 162h1v1h-1zM75 166h1v1h-1zM75 184h1v1h-1zM75 205h1v1h-1zM75 207h1v1h-1zM75 217h1v1h-1zM75 238h1v1h-1zM75 278h1v1h-1zM76 85h1v1h-1zM76 128h1v1h-1zM76 141h1v1h-1zM76 165h1v1h-1zM76 168h1v1h-1zM76 172h1v1h-1zM76 180h1v1h-1zM76 198h1v1h-1zM77 72h1v2h-1zM77 120h1v2h-1zM77 162h1v1h-1zM77 164h1v1h-1zM77 206h1v1h-1zM77 236h1v1h-1zM78 72h1v1h-1zM78 102h1v1h-1zM78 121h1v2h-1zM78 124h1v2h-1zM78 128h1v1h-1zM78 199h1v1h-1zM78 216h1v1h-1zM79 65h1v1h-1zM79 72h1v2h-1zM79 118h1v1h-1zM79 157h1v1h-1zM79 188h1v1h-1zM79 193h1v1h-1zM79 216h1v1h-1zM80 103h1v2h-1zM80 122h1v2h-1zM80 149h1v1h-1zM80 156h1v1h-1zM80 169h1v1h-1zM80 201h1v1h-1zM81 60h1v1h-1zM81 65h1v1h-1zM81 71h1v2h-1zM81 121h1v1h-1zM81 132h1v1h-1zM81 144h1v1h-1zM81 165h1v2h-1zM82 53h1v1h-1zM82 55h1v2h-1zM82 60h1v1h-1zM82 120h1v2h-1zM82 126h1v1h-1zM82 150h1v1h-1zM82 181h1v1h-1zM82 218h1v1h-1zM83 65h1v1h-1zM83 69h1v3h-1zM83 138h1v1h-1zM83 158h1v1h-1zM83 162h1v1h-1zM83 235h1v1h-1zM84 59h1v1h-1zM84 96h1v1h-1zM84 123h1v2h-1zM84 152h1v1h-1zM84 203h1v1h-1zM84 217h1v2h-1zM85 65h1v1h-1zM85 119h1v1h-1zM85 133h1v1h-1zM85 180h1v1h-1zM85 182h1v2h-1zM85 204h1v2h-1zM85 235h1v2h-1zM88 61h1v1h-1zM88 72h1v2h-1zM88 106h1v1h-1zM88 108h1v1h-1zM88 172h1v1h-1zM88 218h1v1h-1zM88 253h1v1h-1zM88 276h1v1h-1zM89 60h1v1h-1zM89 62h1v1h-1zM89 65h1v3h-1zM89 116h1v3h-1zM89 138h1v1h-1zM89 158h1v2h-1zM90 59h1v1h-1zM90 61h1v1h-1zM90 105h1v1h-1zM90 109h1v1h-1zM90 124h1v3h-1zM90 131h1v1h-1zM90 147h1v1h-1zM90 153h1v1h-1zM90 168h1v3h-1zM90 172h1v1h-1zM90 196h1v1h-1zM90 200h1v1h-1zM90 204h1v1h-1zM90 218h1v2h-1zM91 108h1v1h-1zM91 111h1v1h-1zM91 135h1v1h-1zM91 137h1v1h-1zM91 160h1v1h-1zM91 169h1v1h-1zM91 265h1v1h-1zM92 58h1v1h-1zM92 72h1v1h-1zM92 103h1v1h-1zM92 108h1v1h-1zM92 128h1v1h-1zM92 130h1v1h-1zM92 149h1v2h-1zM92 155h1v1h-1zM92 170h1v1h-1zM92 173h1v1h-1zM92 240h1v1h-1zM93 108h1v1h-1zM93 116h1v1h-1zM93 119h1v2h-1zM93 138h1v1h-1zM93 165h1v3h-1zM93 169h1v1h-1zM93 204h1v1h-1zM93 207h1v1h-1zM93 216h1v1h-1zM94 60h1v1h-1zM94 106h1v1h-1zM94 120h1v1h-1zM94 144h1v1h-1zM94 178h1v1h-1zM94 218h1v2h-1zM95 60h1v2h-1zM95 71h1v1h-1zM95 109h1v1h-1zM95 112h1v1h-1zM95 118h1v1h-1zM95 120h1v2h-1zM95 135h1v1h-1zM95 139h1v1h-1zM95 160h1v2h-1zM95 169h1v1h-1zM95 208h1v2h-1zM95 217h1v1h-1zM96 60h1v1h-1zM96 75h1v1h-1zM96 105h1v1h-1zM96 108h1v1h-1zM96 127h1v2h-1zM96 144h1v1h-1zM96 176h1v1h-1zM96 197h1v1h-1zM96 199h1v1h-1zM96 218h1v1h-1zM97 72h1v1h-1zM97 108h1v1h-1zM97 111h1v1h-1zM97 113h1v2h-1zM97 118h1v1h-1zM97 189h1v1h-1zM97 192h1v1h-1zM97 233h1v1h-1zM98 60h1v1h-1zM98 109h1v1h-1zM98 124h1v1h-1zM98 148h1v1h-1zM98 150h1v1h-1zM98 153h1v2h-1zM98 173h1v1h-1zM98 217h1v1h-1zM99 60h1v2h-1zM99 108h1v1h-1zM99 110h1v1h-1zM99 112h1v1h-1zM99 115h1v1h-1zM99 119h1v1h-1zM99 121h1v1h-1zM99 139h1v1h-1zM99 144h1v1h-1zM99 162h1v1h-1zM99 164h1v1h-1zM99 182h1v1h-1zM99 189h1v2h-1zM99 216h1v1h-1zM99 233h1v1h-1zM100 72h1v1h-1zM100 106h1v1h-1zM100 108h1v1h-1zM100 120h1v1h-1zM100 127h1v1h-1zM100 155h1v2h-1zM100 168h1v1h-1zM100 174h1v1h-1zM100 196h1v1h-1zM100 199h1v1h-1zM100 205h1v1h-1zM101 73h1v1h-1zM101 112h1v1h-1zM101 118h1v3h-1zM101 136h1v1h-1zM101 158h1v1h-1zM101 160h1v1h-1zM101 167h1v1h-1zM101 181h1v2h-1zM101 188h1v1h-1zM101 192h1v1h-1zM101 209h1v1h-1zM101 235h1v1h-1zM102 61h1v1h-1zM102 72h1v1h-1zM102 108h1v1h-1zM102 125h1v1h-1zM102 133h1v1h-1zM102 145h1v1h-1zM102 153h1v1h-1zM102 181h1v1h-1zM102 200h1v1h-1zM103 111h1v1h-1zM103 116h1v1h-1zM103 119h1v2h-1zM103 142h1v2h-1zM103 166h1v1h-1zM103 190h1v1h-1zM103 216h1v1h-1zM103 285h1v1h-1zM104 74h1v1h-1zM104 102h1v1h-1zM104 105h1v2h-1zM104 124h1v1h-1zM104 145h1v2h-1zM104 198h1v1h-1zM104 201h1v2h-1zM104 216h1v3h-1zM105 64h1v1h-1zM105 66h1v2h-1zM105 71h1v2h-1zM105 113h1v4h-1zM105 121h1v1h-1zM105 132h1v1h-1zM105 158h1v1h-1zM105 167h1v1h-1zM105 183h1v1h-1zM105 189h1v1h-1zM105 215h1v1h-1zM106 73h1v1h-1zM106 75h1v1h-1zM106 105h1v1h-1zM106 107h1v1h-1zM106 123h1v1h-1zM106 130h1v1h-1zM106 156h1v2h-1zM106 172h1v1h-1zM106 177h1v1h-1zM106 203h1v1h-1zM106 217h1v1h-1zM107 60h1v1h-1zM107 108h1v2h-1zM107 112h1v1h-1zM107 119h1v1h-1zM107 133h1v1h-1zM107 138h1v1h-1zM107 159h1v2h-1zM107 162h1v1h-1zM107 180h1v1h-1zM107 237h1v1h-1zM108 72h1v1h-1zM108 105h1v1h-1zM108 121h1v1h-1zM108 126h1v1h-1zM108 149h1v1h-1zM108 157h1v1h-1zM108 168h1v1h-1zM108 172h1v1h-1zM108 178h1v1h-1zM108 202h1v1h-1zM108 204h1v1h-1zM108 217h1v1h-1zM109 62h1v1h-1zM109 66h1v1h-1zM109 71h1v1h-1zM109 111h1v1h-1zM109 116h1v1h-1zM109 120h1v1h-1zM109 138h1v1h-1zM109 142h1v1h-1zM109 144h1v1h-1zM109 158h1v1h-1zM109 192h1v1h-1zM109 217h1v1h-1zM110 60h1v1h-1zM110 122h1v1h-1zM110 151h1v1h-1zM110 174h1v1h-1zM110 179h1v1h-1zM110 203h1v1h-1zM110 218h1v1h-1zM110 269h1v2h-1zM111 69h1v1h-1zM111 72h1v1h-1zM111 110h1v2h-1zM111 113h1v1h-1zM111 116h1v1h-1zM111 183h1v1h-1zM111 207h1v1h-1zM111 217h1v1h-1zM112 60h1v2h-1zM112 106h1v1h-1zM112 127h1v1h-1zM112 152h1v1h-1zM112 192h1v1h-1zM112 201h1v1h-1zM113 60h1v1h-1zM113 66h1v1h-1zM113 72h1v1h-1zM113 108h1v1h-1zM113 114h1v1h-1zM113 117h1v3h-1zM113 132h1v1h-1zM113 136h1v1h-1zM113 169h1v1h-1zM113 181h1v1h-1zM113 193h1v1h-1zM113 204h1v1h-1zM114 59h1v1h-1zM114 104h1v1h-1zM114 121h1v1h-1zM114 123h1v1h-1zM114 125h1v1h-1zM114 129h1v1h-1zM114 155h1v1h-1zM114 203h1v1h-1zM115 61h1v1h-1zM115 109h1v2h-1zM115 117h1v2h-1zM115 120h1v2h-1zM115 132h1v1h-1zM115 134h1v1h-1zM115 137h1v1h-1zM115 139h1v1h-1zM115 142h1v1h-1zM115 156h1v1h-1zM115 165h1v1h-1zM115 217h1v1h-1zM115 235h1v1h-1zM116 73h1v1h-1zM116 109h1v1h-1zM116 120h1v1h-1zM116 130h1v1h-1zM116 195h1v2h-1zM116 217h1v1h-1zM117 64h1v1h-1zM117 66h1v1h-1zM117 69h1v1h-1zM117 111h1v1h-1zM117 113h1v1h-1zM117 115h1v1h-1zM117 117h1v1h-1zM117 121h1v1h-1zM117 134h1v1h-1zM117 157h1v2h-1zM117 163h1v1h-1zM117 165h1v1h-1zM117 169h1v1h-1zM117 187h1v1h-1zM117 204h1v1h-1zM117 209h1v1h-1zM117 217h1v1h-1zM118 72h1v3h-1zM118 108h1v1h-1zM118 126h1v1h-1zM118 128h1v1h-1zM118 144h1v1h-1zM118 146h1v1h-1zM118 155h1v2h-1zM118 179h1v1h-1zM118 181h1v1h-1zM118 196h1v1h-1zM118 217h1v1h-1zM119 73h1v1h-1zM119 108h1v1h-1zM119 113h1v1h-1zM119 115h1v5h-1zM119 121h1v1h-1zM119 139h1v1h-1zM119 158h1v1h-1zM119 160h1v2h-1zM119 164h1v1h-1zM119 169h1v1h-1zM119 186h1v1h-1zM119 188h1v2h-1zM119 232h1v1h-1zM119 234h1v1h-1zM119 256h1v1h-1zM120 73h1v1h-1zM120 75h1v1h-1zM120 106h1v1h-1zM120 123h1v1h-1zM120 169h1v1h-1zM120 173h1v1h-1zM120 177h1v1h-1zM120 201h1v1h-1zM120 217h1v2h-1zM121 62h1v1h-1zM121 69h1v1h-1zM121 109h1v1h-1zM121 118h1v1h-1zM121 120h1v1h-1zM121 138h1v1h-1zM121 144h1v1h-1zM121 162h1v1h-1zM121 182h1v1h-1zM121 184h1v1h-1zM121 188h1v1h-1zM121 214h1v1h-1zM121 217h1v1h-1zM121 233h1v1h-1zM122 106h1v1h-1zM122 120h1v2h-1zM122 123h1v1h-1zM122 145h1v1h-1zM122 153h1v1h-1zM122 193h1v1h-1zM123 109h1v3h-1zM123 113h1v1h-1zM123 117h1v2h-1zM123 132h1v1h-1zM123 138h1v1h-1zM123 159h1v1h-1zM123 234h1v1h-1zM124 58h1v1h-1zM124 105h1v1h-1zM124 107h1v1h-1zM124 127h1v1h-1zM124 132h1v1h-1zM124 175h1v3h-1zM124 195h1v1h-1zM124 200h1v1h-1zM124 276h1v1h-1zM125 72h1v2h-1zM125 112h1v2h-1zM125 121h1v1h-1zM125 133h1v3h-1zM125 160h1v1h-1zM125 167h1v1h-1zM125 169h1v1h-1zM125 183h1v1h-1zM125 207h1v1h-1zM125 215h1v1h-1zM125 233h1v2h-1zM126 104h1v1h-1zM126 107h1v2h-1zM126 120h1v1h-1zM126 125h1v1h-1zM126 170h1v1h-1zM126 173h1v2h-1zM126 198h1v2h-1zM126 218h1v1h-1zM126 270h1v1h-1zM127 69h1v1h-1zM127 73h1v1h-1zM127 111h1v1h-1zM127 116h1v1h-1zM127 119h1v1h-1zM127 121h1v1h-1zM127 132h1v1h-1zM127 138h1v1h-1zM127 144h1v1h-1zM127 156h1v1h-1zM127 162h1v1h-1zM127 217h1v1h-1zM127 234h1v1h-1zM127 240h1v1h-1zM128 61h1v1h-1zM128 107h1v3h-1zM128 120h1v1h-1zM128 147h1v1h-1zM128 151h1v1h-1zM128 153h1v1h-1zM128 173h1v1h-1zM128 177h1v1h-1zM128 195h1v1h-1zM128 201h1v2h-1zM128 204h1v1h-1zM128 218h1v1h-1zM129 61h1v2h-1zM129 68h1v1h-1zM129 109h1v3h-1zM129 117h1v3h-1zM129 133h1v1h-1zM129 142h1v1h-1zM129 162h1v1h-1zM129 182h1v1h-1zM129 235h1v1h-1zM130 73h1v1h-1zM130 105h1v2h-1zM130 108h1v1h-1zM130 124h1v1h-1zM130 127h1v1h-1zM130 132h1v1h-1zM130 149h1v1h-1zM130 155h1v2h-1zM130 202h1v1h-1zM130 205h1v1h-1zM130 217h1v1h-1zM131 67h1v1h-1zM131 72h1v1h-1zM131 109h1v1h-1zM131 116h1v2h-1zM131 119h1v1h-1zM131 140h1v1h-1zM131 145h1v1h-1zM131 163h1v1h-1zM131 209h1v1h-1zM131 216h1v1h-1zM131 232h1v2h-1zM132 72h1v1h-1zM132 120h1v1h-1zM132 128h1v1h-1zM132 145h1v1h-1zM132 148h1v2h-1zM132 170h1v1h-1zM132 174h1v1h-1zM132 193h1v1h-1zM132 197h1v2h-1zM132 200h1v1h-1zM132 246h1v1h-1zM133 60h1v1h-1zM133 62h1v1h-1zM133 73h1v1h-1zM133 108h1v2h-1zM133 111h1v1h-1zM133 114h1v1h-1zM133 120h1v1h-1zM133 136h1v1h-1zM133 141h1v2h-1zM133 160h1v1h-1zM133 185h1v1h-1zM133 213h1v1h-1zM133 215h1v1h-1zM133 217h1v1h-1zM134 60h1v1h-1zM134 105h1v1h-1zM134 108h1v2h-1zM134 122h1v1h-1zM134 125h1v1h-1zM134 127h1v1h-1zM134 152h1v1h-1zM134 154h1v1h-1zM134 168h1v1h-1zM134 172h1v1h-1zM134 200h1v1h-1zM134 217h1v2h-1zM135 60h1v2h-1zM135 68h1v1h-1zM135 73h1v1h-1zM135 108h1v1h-1zM135 112h1v1h-1zM135 114h1v1h-1zM135 116h1v1h-1zM135 119h1v1h-1zM135 121h1v1h-1zM135 140h1v1h-1zM135 157h1v1h-1zM135 159h1v1h-1zM135 164h1v1h-1zM135 180h1v1h-1zM135 207h1v1h-1zM135 209h1v1h-1zM135 214h1v1h-1zM135 233h1v2h-1zM136 107h1v2h-1zM136 120h1v3h-1zM136 150h1v1h-1zM136 181h1v1h-1zM136 200h1v1h-1zM136 216h1v1h-1zM136 274h1v1h-1zM137 60h1v1h-1zM137 67h1v1h-1zM137 108h1v1h-1zM137 111h1v1h-1zM137 115h1v1h-1zM137 119h1v2h-1zM137 142h1v1h-1zM137 145h1v1h-1zM137 157h1v1h-1zM137 183h1v1h-1zM137 207h1v1h-1zM137 232h1v1h-1zM138 104h1v1h-1zM138 107h1v2h-1zM138 120h1v1h-1zM138 126h1v1h-1zM138 129h1v1h-1zM138 131h1v1h-1zM138 133h1v1h-1zM138 155h1v1h-1zM138 171h1v1h-1zM138 179h1v1h-1zM138 202h1v1h-1zM139 61h1v1h-1zM139 65h1v1h-1zM139 67h1v1h-1zM139 110h1v2h-1zM139 133h1v1h-1zM139 138h1v1h-1zM139 158h1v1h-1zM139 164h1v1h-1zM139 167h1v1h-1zM139 182h1v1h-1zM139 184h1v1h-1zM139 204h1v1h-1zM140 72h1v1h-1zM140 109h1v1h-1zM140 125h1v1h-1zM140 127h1v1h-1zM140 157h1v1h-1zM140 196h1v1h-1zM140 199h1v1h-1zM141 61h1v1h-1zM141 69h1v2h-1zM141 72h1v1h-1zM141 112h1v1h-1zM141 119h1v2h-1zM141 132h1v1h-1zM141 135h1v1h-1zM141 139h1v1h-1zM141 143h1v3h-1zM141 164h1v2h-1zM141 206h1v1h-1zM141 216h1v1h-1zM141 234h1v1h-1zM142 72h1v1h-1zM142 74h1v1h-1zM142 105h1v1h-1zM142 122h1v1h-1zM142 125h1v1h-1zM142 157h1v1h-1zM142 168h1v1h-1zM142 173h1v1h-1zM142 192h1v1h-1zM142 195h1v1h-1zM142 200h1v1h-1zM142 203h1v1h-1zM142 216h1v1h-1zM143 60h1v1h-1zM143 72h1v1h-1zM143 112h1v2h-1zM143 115h1v2h-1zM143 120h1v1h-1zM143 134h1v1h-1zM143 138h1v1h-1zM143 140h1v1h-1zM143 158h1v1h-1zM143 162h1v1h-1zM143 187h1v1h-1zM143 191h1v1h-1zM143 205h1v1h-1zM144 61h1v1h-1zM144 72h1v1h-1zM144 105h1v1h-1zM144 109h1v1h-1zM144 120h1v3h-1zM144 124h1v1h-1zM144 133h1v1h-1zM144 146h1v1h-1zM144 155h1v1h-1zM144 195h1v1h-1zM144 199h1v2h-1zM144 204h1v1h-1zM145 61h1v1h-1zM145 72h1v1h-1zM145 111h1v1h-1zM145 115h1v1h-1zM145 118h1v2h-1zM145 135h1v1h-1zM145 137h1v1h-1zM145 168h1v2h-1zM145 184h1v1h-1zM146 58h1v1h-1zM146 105h1v1h-1zM146 128h1v1h-1zM146 168h1v1h-1zM146 171h1v1h-1zM146 192h1v1h-1zM146 197h1v1h-1zM146 216h1v1h-1zM147 112h1v1h-1zM147 116h1v1h-1zM147 144h1v1h-1zM147 159h1v1h-1zM147 161h1v1h-1zM147 169h1v1h-1zM147 184h1v1h-1zM147 186h1v1h-1zM147 193h1v1h-1zM147 207h1v1h-1zM147 209h1v1h-1zM147 215h1v1h-1zM147 217h1v1h-1zM148 105h1v1h-1zM148 109h1v1h-1zM148 120h1v1h-1zM148 124h1v1h-1zM148 132h1v1h-1zM148 146h1v1h-1zM148 150h1v2h-1zM148 197h1v1h-1zM148 217h1v1h-1zM149 73h1v1h-1zM149 116h1v1h-1zM149 119h1v1h-1zM149 140h1v1h-1zM149 158h1v1h-1zM149 186h1v1h-1zM149 190h1v1h-1zM149 205h1v1h-1zM150 58h1v1h-1zM150 73h1v1h-1zM150 103h1v1h-1zM150 107h1v1h-1zM150 109h1v1h-1zM150 120h1v1h-1zM150 127h1v2h-1zM150 197h1v1h-1zM150 199h1v1h-1zM151 60h1v1h-1zM151 69h1v2h-1zM151 112h1v2h-1zM151 118h1v2h-1zM151 135h1v1h-1zM151 156h1v1h-1zM151 165h1v1h-1zM151 180h1v1h-1zM151 183h1v1h-1zM151 206h1v1h-1zM151 216h1v1h-1zM152 58h1v1h-1zM152 60h1v1h-1zM152 106h1v2h-1zM152 109h1v1h-1zM152 120h1v1h-1zM152 147h1v1h-1zM152 151h1v1h-1zM152 153h1v1h-1zM152 168h1v1h-1zM152 180h1v1h-1zM152 216h1v1h-1zM153 60h1v2h-1zM153 113h1v1h-1zM153 116h1v1h-1zM153 119h1v1h-1zM153 134h1v1h-1zM153 143h1v1h-1zM153 162h1v1h-1zM153 187h1v1h-1zM153 231h1v1h-1zM153 264h1v1h-1zM156 59h1v1h-1zM156 61h1v1h-1zM156 72h1v1h-1zM156 104h1v2h-1zM156 107h1v1h-1zM156 122h1v1h-1zM156 125h1v1h-1zM156 130h1v1h-1zM156 156h1v1h-1zM157 61h1v2h-1zM157 114h1v1h-1zM157 116h1v1h-1zM157 136h1v1h-1zM157 158h1v1h-1zM157 167h1v1h-1zM157 186h1v1h-1zM157 191h1v1h-1zM157 193h1v1h-1zM157 214h1v1h-1zM157 234h1v1h-1zM158 60h1v1h-1zM158 72h1v2h-1zM158 107h1v2h-1zM158 120h1v3h-1zM158 126h1v1h-1zM158 129h1v1h-1zM158 157h1v1h-1zM158 175h1v1h-1zM158 216h1v1h-1zM159 108h1v1h-1zM159 110h1v1h-1zM159 119h1v2h-1zM159 137h1v1h-1zM159 141h1v1h-1zM159 160h1v1h-1zM159 163h1v1h-1zM159 190h1v1h-1zM159 192h1v1h-1zM159 208h1v1h-1zM160 72h1v2h-1zM160 105h1v1h-1zM160 107h1v1h-1zM160 120h1v1h-1zM160 133h1v1h-1zM160 147h1v1h-1zM160 169h1v1h-1zM160 197h1v1h-1zM161 60h1v1h-1zM161 112h1v1h-1zM161 137h1v1h-1zM161 139h1v1h-1zM161 193h1v1h-1zM161 204h1v1h-1zM161 209h1v1h-1zM162 61h1v1h-1zM162 106h1v1h-1zM162 123h1v1h-1zM162 144h1v1h-1zM162 174h1v1h-1zM162 197h1v2h-1zM162 202h1v1h-1zM162 205h1v1h-1zM163 65h1v1h-1zM163 69h1v1h-1zM163 72h1v1h-1zM163 112h1v1h-1zM163 114h1v1h-1zM163 117h1v1h-1zM163 119h1v1h-1zM163 121h1v1h-1zM163 132h1v1h-1zM163 138h1v1h-1zM163 143h1v1h-1zM163 158h1v1h-1zM163 164h1v1h-1zM163 180h1v1h-1zM163 191h1v1h-1zM163 204h1v2h-1zM164 60h1v1h-1zM164 74h1v1h-1zM164 104h1v1h-1zM164 106h1v2h-1zM164 150h1v1h-1zM164 176h1v2h-1zM164 181h1v1h-1zM164 192h1v1h-1zM165 72h1v2h-1zM165 110h1v1h-1zM165 114h1v1h-1zM165 119h1v1h-1zM165 136h1v1h-1zM165 156h1v1h-1zM165 158h1v1h-1zM165 186h1v1h-1zM165 214h1v2h-1zM165 231h1v1h-1zM166 61h1v1h-1zM166 74h1v1h-1zM166 107h1v1h-1zM166 120h1v2h-1zM166 125h1v1h-1zM166 192h1v2h-1zM166 197h1v1h-1zM166 201h1v1h-1zM166 216h1v1h-1zM167 66h1v1h-1zM167 71h1v1h-1zM167 108h1v1h-1zM167 113h1v2h-1zM167 116h1v1h-1zM167 118h1v2h-1zM167 139h1v1h-1zM167 157h1v1h-1zM167 164h1v1h-1zM167 185h1v1h-1zM167 192h1v1h-1zM167 215h1v1h-1zM167 233h1v1h-1zM168 60h1v2h-1zM168 73h1v1h-1zM168 106h1v1h-1zM168 108h1v2h-1zM168 121h1v1h-1zM168 125h1v1h-1zM168 127h1v1h-1zM168 146h1v1h-1zM168 192h1v1h-1zM168 194h1v1h-1zM168 201h1v2h-1zM168 205h1v1h-1zM169 73h1v1h-1zM169 108h1v1h-1zM169 110h1v3h-1zM169 133h1v1h-1zM169 144h1v1h-1zM169 157h1v1h-1zM169 163h1v1h-1zM169 167h1v1h-1zM169 192h1v2h-1zM169 215h1v1h-1zM169 232h1v1h-1zM169 234h1v1h-1zM170 61h1v1h-1zM170 107h1v1h-1zM170 109h1v1h-1zM170 121h1v1h-1zM170 130h1v1h-1zM170 133h1v1h-1zM170 144h1v1h-1zM170 146h1v1h-1zM170 169h1v1h-1zM170 171h1v1h-1zM171 61h1v1h-1zM171 65h1v3h-1zM171 70h1v1h-1zM171 108h1v1h-1zM171 113h1v1h-1zM171 116h1v1h-1zM171 134h1v1h-1zM171 145h1v1h-1zM171 162h1v1h-1zM171 167h1v1h-1zM171 191h1v1h-1zM171 193h1v1h-1zM171 212h1v1h-1zM171 232h1v1h-1zM175 72h1v1h-1zM175 111h1v1h-1zM175 114h1v1h-1zM175 116h1v1h-1zM175 119h1v1h-1zM175 132h1v1h-1zM175 157h1v1h-1zM175 169h1v1h-1zM175 183h1v1h-1zM175 187h1v1h-1zM175 206h1v1h-1zM175 213h1v2h-1zM176 60h1v1h-1zM176 107h1v1h-1zM176 120h1v1h-1zM176 123h1v1h-1zM176 129h1v3h-1zM176 150h1v1h-1zM176 181h1v1h-1zM176 203h1v1h-1zM176 240h1v1h-1zM177 111h1v3h-1zM177 115h1v1h-1zM177 136h1v1h-1zM177 161h1v1h-1zM177 187h1v1h-1zM177 212h1v1h-1zM178 59h1v1h-1zM178 108h1v2h-1zM178 170h1v1h-1zM178 175h1v1h-1zM178 195h1v2h-1zM178 199h1v1h-1zM178 216h1v1h-1zM179 109h1v3h-1zM179 132h1v1h-1zM179 142h1v2h-1zM179 161h1v1h-1zM179 168h1v1h-1zM179 191h1v1h-1zM179 212h1v1h-1zM179 233h1v1h-1zM180 103h1v1h-1zM180 107h1v1h-1zM180 126h1v1h-1zM180 131h1v1h-1zM180 156h1v1h-1zM180 168h1v1h-1zM180 171h1v2h-1zM180 195h1v1h-1zM180 205h1v1h-1zM181 73h1v1h-1zM181 108h1v1h-1zM181 110h1v1h-1zM181 113h1v1h-1zM181 116h1v2h-1zM181 121h1v1h-1zM181 160h1v1h-1zM181 162h1v1h-1zM181 168h1v1h-1zM181 182h1v1h-1zM181 188h1v1h-1zM184 59h1v1h-1zM184 108h1v2h-1zM184 145h1v1h-1zM184 157h1v1h-1zM184 197h1v1h-1zM184 199h1v1h-1zM184 250h1v1h-1zM184 273h1v1h-1zM185 60h1v1h-1zM185 71h1v1h-1zM185 73h1v1h-1zM185 115h1v1h-1zM185 120h1v1h-1zM185 141h1v1h-1zM185 163h1v1h-1zM185 188h1v1h-1zM185 204h1v1h-1zM185 214h1v1h-1zM185 232h1v1h-1zM186 73h1v1h-1zM186 102h1v1h-1zM186 107h1v1h-1zM186 120h1v1h-1zM186 126h1v1h-1zM186 130h1v1h-1zM186 146h1v1h-1zM186 152h1v1h-1zM186 157h1v1h-1zM186 170h1v1h-1zM186 172h1v1h-1zM187 60h1v1h-1zM187 110h1v1h-1zM187 112h1v1h-1zM187 116h1v1h-1zM187 119h1v3h-1zM187 135h1v2h-1zM187 141h1v1h-1zM187 144h1v2h-1zM187 156h1v2h-1zM187 159h1v1h-1zM187 169h1v1h-1zM187 231h1v1h-1zM187 233h1v1h-1zM188 73h1v1h-1zM188 147h1v2h-1zM188 174h1v1h-1zM188 181h1v1h-1zM188 192h1v1h-1zM188 242h1v1h-1zM189 73h1v1h-1zM189 111h1v1h-1zM189 113h1v2h-1zM189 118h1v2h-1zM189 165h1v1h-1zM189 182h1v1h-1zM189 184h1v1h-1zM189 189h1v1h-1zM189 193h1v1h-1zM189 214h1v1h-1zM189 231h1v1h-1zM189 281h1v1h-1zM190 58h1v1h-1zM190 75h1v1h-1zM190 105h1v1h-1zM190 122h1v1h-1zM190 128h1v1h-1zM190 130h1v2h-1zM190 174h1v1h-1zM190 178h1v1h-1zM190 181h1v1h-1zM190 200h1v1h-1zM190 203h1v1h-1zM191 111h1v1h-1zM191 113h1v1h-1zM191 115h1v1h-1zM191 135h1v1h-1zM191 137h1v1h-1zM191 157h1v1h-1zM191 161h1v1h-1zM191 163h1v1h-1zM191 186h1v1h-1zM191 232h1v1h-1zM198 73h1v1h-1zM198 108h1v1h-1zM198 153h1v1h-1zM198 155h1v3h-1zM198 171h1v1h-1zM198 178h1v2h-1zM198 198h1v1h-1zM198 204h1v1h-1zM198 275h1v1h-1zM199 60h1v1h-1zM199 110h1v1h-1zM199 112h1v2h-1zM199 115h1v1h-1zM199 138h1v1h-1zM199 160h1v1h-1zM199 169h1v1h-1zM199 208h1v1h-1zM199 215h1v1h-1zM200 105h1v1h-1zM200 107h1v1h-1zM200 144h1v1h-1zM200 146h1v1h-1zM200 151h1v1h-1zM200 173h1v1h-1zM200 177h1v1h-1zM201 114h1v1h-1zM201 119h1v2h-1zM201 132h1v1h-1zM201 144h1v1h-1zM201 167h1v1h-1zM201 187h1v1h-1zM201 211h1v1h-1zM201 231h1v1h-1zM202 60h1v1h-1zM202 105h1v1h-1zM202 107h1v1h-1zM202 122h1v1h-1zM202 125h1v1h-1zM202 148h1v1h-1zM202 155h1v1h-1zM202 157h1v1h-1zM202 172h1v1h-1zM202 180h1v1h-1zM202 195h1v1h-1zM203 109h1v1h-1zM203 111h1v1h-1zM203 113h1v1h-1zM203 115h1v1h-1zM203 118h1v2h-1zM203 138h1v1h-1zM203 157h1v2h-1zM203 191h1v1h-1zM203 233h1v1h-1zM204 73h1v1h-1zM204 106h1v1h-1zM204 125h1v1h-1zM204 170h1v2h-1zM204 196h1v1h-1zM205 108h1v1h-1zM205 113h1v1h-1zM205 116h1v1h-1zM205 118h1v1h-1zM205 120h1v1h-1zM205 133h1v1h-1zM205 159h1v1h-1zM205 166h1v1h-1zM205 186h1v1h-1zM205 210h1v1h-1zM205 230h1v1h-1zM205 234h1v1h-1zM205 237h1v1h-1zM206 59h1v1h-1zM206 74h1v1h-1zM206 109h1v1h-1zM206 126h1v1h-1zM206 132h1v1h-1zM206 154h1v1h-1zM206 168h1v1h-1zM206 176h1v1h-1zM206 178h1v1h-1zM206 196h1v1h-1zM206 201h1v2h-1zM206 204h1v1h-1zM207 109h1v1h-1zM207 111h1v2h-1zM207 116h1v1h-1zM207 120h1v1h-1zM207 141h1v1h-1zM207 157h1v1h-1zM207 159h1v2h-1zM207 164h1v1h-1zM207 168h1v1h-1zM207 180h1v1h-1zM207 184h1v1h-1zM207 187h1v1h-1zM208 59h1v1h-1zM208 103h1v2h-1zM208 108h1v1h-1zM208 123h1v1h-1zM208 125h1v1h-1zM208 133h1v1h-1zM208 149h1v1h-1zM208 173h1v1h-1zM208 175h1v1h-1zM208 177h1v1h-1zM208 194h1v1h-1zM209 111h1v1h-1zM209 117h1v1h-1zM209 135h1v1h-1zM209 164h1v2h-1zM209 184h1v1h-1zM209 188h1v1h-1zM209 204h1v1h-1zM209 214h1v2h-1zM209 231h1v1h-1zM209 234h1v1h-1zM210 59h1v1h-1zM210 72h1v1h-1zM210 125h1v1h-1zM210 130h1v1h-1zM210 147h1v1h-1zM210 175h1v1h-1zM210 177h1v1h-1zM210 180h1v1h-1zM210 196h1v1h-1zM211 60h1v1h-1zM211 73h1v1h-1zM211 109h1v1h-1zM211 113h1v1h-1zM211 115h1v1h-1zM211 118h1v1h-1zM211 158h1v1h-1zM211 168h1v1h-1zM211 188h1v1h-1zM211 214h1v1h-1zM211 231h1v2h-1zM212 102h1v1h-1zM212 106h1v1h-1zM212 109h1v1h-1zM212 120h1v1h-1zM212 123h1v1h-1zM212 127h1v1h-1zM212 147h1v1h-1zM212 151h1v1h-1zM212 179h1v1h-1zM212 201h1v1h-1zM213 73h1v1h-1zM213 109h1v1h-1zM213 117h1v1h-1zM213 134h1v1h-1zM213 136h1v1h-1zM213 159h1v1h-1zM213 186h1v1h-1zM213 205h1v1h-1zM213 231h1v1h-1zM214 72h1v1h-1zM214 104h1v1h-1zM214 107h1v3h-1zM214 126h1v1h-1zM214 130h1v1h-1zM214 145h1v1h-1zM214 175h1v1h-1zM214 179h1v1h-1zM215 60h1v1h-1zM215 113h1v1h-1zM215 116h1v1h-1zM215 120h1v2h-1zM215 132h1v1h-1zM215 140h1v1h-1zM215 169h1v1h-1zM215 186h1v1h-1zM215 190h1v1h-1zM215 193h1v1h-1zM215 205h1v1h-1zM215 208h1v1h-1zM215 213h1v1h-1zM215 230h1v1h-1zM215 258h1v1h-1zM216 72h1v1h-1zM216 107h1v1h-1zM216 122h1v1h-1zM216 146h1v1h-1zM216 173h1v2h-1zM216 199h1v2h-1zM217 60h1v1h-1zM217 112h1v2h-1zM217 119h1v1h-1zM217 121h1v1h-1zM217 135h1v1h-1zM217 143h1v1h-1zM217 169h1v1h-1zM217 183h1v2h-1zM217 188h1v1h-1zM217 208h1v1h-1zM217 211h1v1h-1zM217 232h1v1h-1zM218 57h1v1h-1zM218 108h1v1h-1zM218 123h1v1h-1zM218 127h1v1h-1zM218 179h1v2h-1zM218 195h1v2h-1zM218 203h1v1h-1zM218 241h1v1h-1zM219 61h1v1h-1zM219 72h1v2h-1zM219 109h1v2h-1zM219 112h1v3h-1zM219 116h1v2h-1zM219 141h1v1h-1zM219 180h1v1h-1zM219 186h1v1h-1zM219 189h1v1h-1zM219 207h1v1h-1zM220 73h1v1h-1zM220 122h1v1h-1zM220 124h1v1h-1zM220 128h1v1h-1zM220 172h1v2h-1zM220 181h1v1h-1zM220 193h1v3h-1zM220 201h1v1h-1zM221 108h1v1h-1zM221 111h1v1h-1zM221 113h1v1h-1zM221 115h1v2h-1zM221 144h1v1h-1zM221 162h1v1h-1zM221 164h1v1h-1zM221 184h1v1h-1zM221 186h1v1h-1zM221 209h1v1h-1zM221 214h1v1h-1zM222 105h1v1h-1zM222 120h1v1h-1zM222 124h1v1h-1zM222 153h1v1h-1zM222 156h1v1h-1zM222 180h1v1h-1zM222 193h1v1h-1zM222 252h1v1h-1zM223 72h1v1h-1zM223 108h1v1h-1zM223 115h1v1h-1zM223 118h1v2h-1zM223 142h1v1h-1zM223 158h1v1h-1zM223 162h1v1h-1zM223 164h1v1h-1zM223 167h1v1h-1zM223 180h1v2h-1zM223 193h1v1h-1zM223 207h1v1h-1zM223 213h1v1h-1zM223 238h1v1h-1zM224 73h1v1h-1zM224 106h1v2h-1zM224 120h1v2h-1zM224 124h1v1h-1zM224 132h1v1h-1zM224 149h1v1h-1zM224 205h1v1h-1zM225 108h1v2h-1zM225 111h1v1h-1zM225 116h1v1h-1zM225 140h1v1h-1zM225 143h1v1h-1zM225 159h1v1h-1zM225 163h1v2h-1zM225 204h1v1h-1zM225 211h1v2h-1zM226 57h1v1h-1zM226 107h1v1h-1zM226 109h1v1h-1zM226 126h1v1h-1zM226 128h1v1h-1zM226 150h1v1h-1zM226 169h1v1h-1zM226 172h1v1h-1zM226 174h1v1h-1zM226 200h1v1h-1zM226 275h1v1h-1zM227 73h1v1h-1zM227 112h1v1h-1zM227 136h1v1h-1zM227 155h1v1h-1zM227 161h1v1h-1zM227 163h1v1h-1zM227 205h1v1h-1zM227 234h1v1h-1zM228 57h1v3h-1zM228 72h1v1h-1zM228 74h1v1h-1zM228 109h1v1h-1zM228 122h1v1h-1zM228 130h1v3h-1zM228 178h1v1h-1zM229 61h1v1h-1zM229 72h1v2h-1zM229 109h1v1h-1zM229 111h1v1h-1zM229 116h1v1h-1zM229 119h1v2h-1zM229 144h1v1h-1zM229 151h1v1h-1zM229 154h1v1h-1zM229 158h1v1h-1zM229 183h1v1h-1zM229 204h1v2h-1zM229 208h1v1h-1zM229 210h1v1h-1zM229 230h1v1h-1zM230 60h1v1h-1zM230 107h1v1h-1zM230 125h1v1h-1zM230 130h1v1h-1zM230 147h1v1h-1zM230 150h1v1h-1zM230 162h1v1h-1zM230 172h1v2h-1zM230 198h1v1h-1zM230 200h1v1h-1zM230 202h1v1h-1zM231 113h1v1h-1zM231 115h1v1h-1zM231 118h1v1h-1zM231 139h1v1h-1zM231 152h1v1h-1zM231 159h1v1h-1zM231 166h1v1h-1zM231 209h1v1h-1zM231 229h1v1h-1zM231 232h1v1h-1zM236 74h1v2h-1zM236 105h1v1h-1zM236 107h1v1h-1zM236 120h1v1h-1zM236 124h1v1h-1zM236 128h1v1h-1zM236 133h1v1h-1zM236 152h1v1h-1zM236 156h1v1h-1zM236 178h1v2h-1zM236 196h1v2h-1zM237 108h1v1h-1zM237 113h1v1h-1zM237 115h1v1h-1zM237 117h1v1h-1zM237 119h1v2h-1zM237 134h1v1h-1zM237 184h1v1h-1zM237 193h1v1h-1zM237 232h1v1h-1zM237 276h1v1h-1zM238 59h1v1h-1zM238 106h1v1h-1zM238 109h1v1h-1zM238 120h1v2h-1zM238 126h1v2h-1zM238 150h1v1h-1zM238 177h1v2h-1zM238 202h1v1h-1zM238 204h1v1h-1zM239 60h1v2h-1zM239 113h1v1h-1zM239 118h1v2h-1zM239 157h1v1h-1zM239 159h1v2h-1zM239 168h1v2h-1zM239 181h1v3h-1zM239 190h1v2h-1zM239 212h1v3h-1zM239 229h1v1h-1z"/>
<path fill="#6e76b6" d="M5 67h1v1h-1zM6 103h1v1h-1zM7 119h1v1h-1zM7 237h1v1h-1zM8 220h1v1h-1zM11 66h1v1h-1zM11 71h1v1h-1zM18 1h1v1h-1zM18 3h1v1h-1zM18 7h1v1h-1zM18 58h1v1h-1zM18 103h1v1h-1zM18 220h1v1h-1zM19 4h1v1h-1zM19 61h1v1h-1zM19 66h1v1h-1zM19 238h1v1h-1zM19 284h1v1h-1zM20 0h1v1h-1zM20 3h1v1h-1zM20 120h1v1h-1zM20 220h1v1h-1zM21 3h1v1h-1zM21 120h1v1h-1zM21 280h1v1h-1zM21 282h1v1h-1zM21 286h1v1h-1zM22 0h1v2h-1zM22 5h1v1h-1zM22 103h1v1h-1zM23 281h1v1h-1zM23 283h1v1h-1zM23 286h1v1h-1zM24 0h1v1h-1zM24 3h1v1h-1zM24 220h1v1h-1zM25 1h1v4h-1zM25 72h1v1h-1zM25 237h1v1h-1zM25 280h1v1h-1zM25 285h1v2h-1zM26 2h1v1h-1zM26 6h1v2h-1zM26 32h1v1h-1zM26 104h1v1h-1zM26 219h1v1h-1zM27 2h1v1h-1zM27 6h1v1h-1zM27 119h1v1h-1zM27 237h1v3h-1zM27 281h1v1h-1zM28 3h1v3h-1zM28 120h1v1h-1zM28 220h1v1h-1zM29 67h1v1h-1zM29 70h1v1h-1zM29 237h1v1h-1zM29 282h1v1h-1zM29 285h1v1h-1zM29 287h1v1h-1zM30 3h1v1h-1zM30 6h1v1h-1zM30 220h1v1h-1zM31 5h1v1h-1zM31 239h1v1h-1zM31 281h1v1h-1zM31 287h1v1h-1zM32 4h1v1h-1zM32 7h1v1h-1zM32 219h1v1h-1zM33 1h1v1h-1zM33 5h1v1h-1zM33 121h1v1h-1zM33 181h1v1h-1zM33 237h1v2h-1zM33 280h1v2h-1zM34 1h1v1h-1zM34 122h1v2h-1zM34 125h1v1h-1zM34 129h1v1h-1zM35 6h1v1h-1zM35 60h1v1h-1zM35 62h1v1h-1zM35 119h1v2h-1zM35 284h1v1h-1zM35 286h1v2h-1zM36 101h1v1h-1zM36 103h1v1h-1zM36 124h1v1h-1zM36 129h1v2h-1zM37 2h1v1h-1zM37 5h1v1h-1zM37 72h1v1h-1zM37 120h1v2h-1zM37 287h1v1h-1zM38 5h1v1h-1zM38 7h1v1h-1zM38 103h1v1h-1zM38 122h1v1h-1zM38 127h1v1h-1zM38 219h1v1h-1zM39 2h1v1h-1zM39 7h1v1h-1zM39 237h1v1h-1zM39 280h1v1h-1zM39 285h1v1h-1zM40 0h1v1h-1zM40 6h1v1h-1zM40 101h1v1h-1zM40 104h1v1h-1zM40 124h1v2h-1zM40 127h1v1h-1zM40 219h1v1h-1zM41 1h1v1h-1zM41 119h1v3h-1zM41 283h1v1h-1zM41 287h1v1h-1zM42 0h1v1h-1zM42 5h1v2h-1zM42 102h1v1h-1zM42 123h1v1h-1zM42 127h1v1h-1zM42 219h1v1h-1zM43 0h1v1h-1zM43 3h1v1h-1zM43 72h1v1h-1zM43 237h1v1h-1zM43 283h1v1h-1zM44 1h1v1h-1zM44 3h1v1h-1zM44 122h1v1h-1zM44 126h1v2h-1zM44 219h1v1h-1zM45 1h1v1h-1zM45 5h1v1h-1zM45 118h1v1h-1zM45 120h1v1h-1zM45 237h1v2h-1zM45 284h1v1h-1zM46 0h1v1h-1zM46 3h1v1h-1zM46 60h1v1h-1zM46 64h1v1h-1zM46 120h1v1h-1zM46 125h1v1h-1zM47 120h1v2h-1zM47 282h1v1h-1zM48 2h1v3h-1zM48 7h1v1h-1zM48 105h1v1h-1zM48 123h1v2h-1zM48 126h1v1h-1zM48 219h1v1h-1zM49 0h1v1h-1zM49 5h1v1h-1zM49 120h1v1h-1zM49 236h1v1h-1zM50 61h1v1h-1zM50 66h1v1h-1zM50 103h1v2h-1zM50 120h1v1h-1zM50 219h1v1h-1zM51 4h1v1h-1zM51 7h1v1h-1zM51 67h1v1h-1zM51 69h1v1h-1zM51 71h1v1h-1zM51 281h1v1h-1zM51 284h1v1h-1zM51 286h1v1h-1zM52 4h1v1h-1zM52 61h1v1h-1zM52 72h1v1h-1zM52 121h1v1h-1zM52 123h1v1h-1zM52 125h1v1h-1zM52 127h1v1h-1zM52 129h1v1h-1zM53 60h1v1h-1zM53 67h1v1h-1zM53 120h1v1h-1zM53 237h1v1h-1zM54 0h1v1h-1zM54 2h1v2h-1zM54 7h1v1h-1zM54 63h1v1h-1zM54 65h1v2h-1zM54 104h1v1h-1zM54 121h1v1h-1zM54 123h1v1h-1zM55 0h1v1h-1zM55 2h1v1h-1zM55 6h1v1h-1zM55 63h1v2h-1zM55 67h1v1h-1zM55 69h1v1h-1zM55 119h1v1h-1zM56 1h1v1h-1zM56 6h1v2h-1zM56 72h1v1h-1zM56 103h1v1h-1zM56 120h1v2h-1zM56 125h1v1h-1zM56 127h1v1h-1zM56 130h1v1h-1zM57 68h1v1h-1zM57 118h1v2h-1zM57 121h1v1h-1zM57 237h1v1h-1zM58 0h1v1h-1zM58 3h1v1h-1zM58 61h1v1h-1zM58 103h1v1h-1zM58 121h1v1h-1zM58 217h1v1h-1zM59 5h1v1h-1zM59 60h1v1h-1zM59 62h1v1h-1zM59 68h1v1h-1zM59 71h1v1h-1zM59 118h1v1h-1zM59 121h1v1h-1zM59 236h1v1h-1zM59 238h1v1h-1zM60 7h1v1h-1zM60 60h1v1h-1zM60 63h1v2h-1zM60 104h1v1h-1zM60 122h1v1h-1zM60 125h1v3h-1zM61 4h1v2h-1zM61 7h1v1h-1zM61 61h1v1h-1zM61 64h1v1h-1zM61 69h1v1h-1zM61 119h1v3h-1zM62 6h1v1h-1zM62 59h1v1h-1zM62 62h1v1h-1zM62 65h1v1h-1zM62 74h1v1h-1zM62 121h1v2h-1zM62 126h1v1h-1zM63 4h1v1h-1zM63 69h1v4h-1zM63 236h1v1h-1zM64 1h1v1h-1zM64 7h1v1h-1zM64 63h1v1h-1zM64 66h1v1h-1zM64 103h1v1h-1zM64 121h1v1h-1zM64 217h1v1h-1zM65 2h1v1h-1zM65 4h1v1h-1zM65 7h1v1h-1zM65 62h1v1h-1zM65 71h1v1h-1zM65 121h1v1h-1zM65 235h1v2h-1zM66 1h1v1h-1zM66 4h1v1h-1zM66 60h1v2h-1zM66 105h1v1h-1zM66 126h1v2h-1zM67 3h1v1h-1zM67 62h1v1h-1zM67 70h1v1h-1zM67 72h1v1h-1zM67 121h1v1h-1zM67 236h1v1h-1zM68 5h1v1h-1zM68 60h1v1h-1zM68 72h1v1h-1zM68 103h1v3h-1zM68 121h1v1h-1zM68 126h1v2h-1zM68 130h1v1h-1zM68 201h1v1h-1zM68 218h1v1h-1zM69 5h1v3h-1zM69 62h1v1h-1zM69 71h1v1h-1zM69 119h1v1h-1zM69 121h1v1h-1zM69 217h1v1h-1zM70 1h1v3h-1zM70 6h1v1h-1zM70 72h1v1h-1zM70 74h1v1h-1zM70 104h1v1h-1zM70 125h1v2h-1zM71 0h1v2h-1zM71 63h1v1h-1zM71 71h1v2h-1zM72 123h1v1h-1zM72 126h1v1h-1zM73 62h1v2h-1zM73 65h1v1h-1zM73 69h1v1h-1zM73 119h1v1h-1zM73 236h1v1h-1zM74 120h1v1h-1zM74 122h1v1h-1zM74 126h1v2h-1zM75 64h1v1h-1zM75 67h1v1h-1zM75 118h1v2h-1zM75 235h1v1h-1zM76 59h1v1h-1zM76 74h1v1h-1zM76 104h1v1h-1zM76 122h1v1h-1zM76 124h1v1h-1zM76 129h1v1h-1zM77 70h1v1h-1zM77 119h1v1h-1zM77 237h1v1h-1zM78 58h1v1h-1zM78 60h1v1h-1zM78 103h1v1h-1zM78 120h1v1h-1zM78 123h1v1h-1zM78 127h1v1h-1zM78 218h1v1h-1zM79 61h1v1h-1zM79 63h1v2h-1zM79 66h1v3h-1zM79 70h1v2h-1zM79 121h1v1h-1zM80 59h1v1h-1zM80 61h1v1h-1zM80 72h1v2h-1zM80 105h1v1h-1zM80 124h1v2h-1zM80 127h1v1h-1zM80 180h1v1h-1zM81 62h1v1h-1zM81 66h1v1h-1zM81 69h1v1h-1zM81 117h1v1h-1zM82 123h1v1h-1zM82 125h1v1h-1zM83 60h1v1h-1zM83 72h1v1h-1zM83 118h1v3h-1zM84 72h1v1h-1zM84 74h1v1h-1zM85 60h1v2h-1zM85 72h1v1h-1zM85 118h1v1h-1zM85 237h1v1h-1zM88 103h1v1h-1zM88 107h1v1h-1zM89 61h1v1h-1zM89 72h1v1h-1zM89 109h1v1h-1zM89 111h1v2h-1zM89 114h1v1h-1zM89 119h1v1h-1zM89 229h1v1h-1zM89 233h1v1h-1zM90 120h1v1h-1zM90 132h1v1h-1zM90 155h1v1h-1zM90 176h1v1h-1zM90 203h1v1h-1zM91 72h1v1h-1zM91 109h1v1h-1zM91 113h1v1h-1zM91 117h1v1h-1zM91 119h1v2h-1zM91 189h1v1h-1zM91 228h1v1h-1zM91 234h1v2h-1zM92 8h1v1h-1zM92 59h1v1h-1zM92 107h1v1h-1zM92 120h1v1h-1zM92 125h1v1h-1zM92 176h1v1h-1zM92 181h1v1h-1zM92 198h1v1h-1zM92 205h1v1h-1zM93 60h1v2h-1zM93 65h1v1h-1zM93 69h1v2h-1zM93 72h1v1h-1zM93 109h1v2h-1zM93 114h1v1h-1zM93 117h1v1h-1zM93 168h1v1h-1zM93 188h1v1h-1zM94 125h1v1h-1zM94 128h1v1h-1zM94 130h1v1h-1zM94 168h1v1h-1zM94 194h1v1h-1zM94 202h1v1h-1zM94 217h1v1h-1zM94 222h1v1h-1zM94 226h1v1h-1zM95 66h1v1h-1zM95 72h1v1h-1zM95 108h1v1h-1zM95 113h1v2h-1zM95 117h1v1h-1zM95 136h1v1h-1zM95 144h1v1h-1zM95 188h1v1h-1zM95 234h1v1h-1zM96 106h1v2h-1zM96 196h1v1h-1zM97 61h1v1h-1zM97 109h1v1h-1zM97 119h1v1h-1zM97 142h1v1h-1zM97 144h1v1h-1zM97 164h1v2h-1zM97 207h1v1h-1zM98 106h1v1h-1zM98 223h1v1h-1zM99 65h1v1h-1zM99 70h1v3h-1zM99 116h1v2h-1zM99 120h1v1h-1zM100 178h1v1h-1zM100 220h1v2h-1zM100 223h1v1h-1zM100 228h1v1h-1zM101 60h1v1h-1zM101 65h1v2h-1zM101 72h1v1h-1zM101 109h1v1h-1zM101 111h1v1h-1zM101 114h1v1h-1zM101 116h1v1h-1zM101 134h1v2h-1zM101 166h1v1h-1zM101 233h1v2h-1zM102 126h1v1h-1zM102 129h1v1h-1zM102 152h1v1h-1zM102 156h1v1h-1zM102 176h1v1h-1zM102 203h1v1h-1zM102 218h1v1h-1zM103 61h1v1h-1zM103 108h1v2h-1zM103 112h1v1h-1zM103 164h1v1h-1zM103 191h1v1h-1zM103 232h1v2h-1zM104 107h1v1h-1zM104 128h1v1h-1zM104 156h1v1h-1zM104 203h1v1h-1zM104 219h1v1h-1zM105 61h1v2h-1zM105 68h1v2h-1zM105 108h1v2h-1zM105 119h1v1h-1zM105 137h1v1h-1zM105 159h1v1h-1zM105 163h1v2h-1zM105 208h1v1h-1zM106 126h1v1h-1zM106 178h1v1h-1zM106 181h1v1h-1zM106 199h1v1h-1zM106 201h1v1h-1zM106 219h1v1h-1zM107 64h1v1h-1zM107 68h1v1h-1zM107 70h1v2h-1zM107 114h1v1h-1zM107 116h1v1h-1zM107 184h1v1h-1zM107 189h1v2h-1zM107 287h1v1h-1zM108 107h1v1h-1zM108 129h1v1h-1zM108 203h1v1h-1zM108 218h1v1h-1zM108 228h1v1h-1zM109 68h1v2h-1zM109 72h1v2h-1zM109 109h1v1h-1zM109 113h1v1h-1zM109 115h1v1h-1zM109 118h1v1h-1zM109 135h1v1h-1zM109 156h1v1h-1zM109 164h1v1h-1zM109 167h1v1h-1zM109 180h1v1h-1zM109 233h1v1h-1zM110 106h1v2h-1zM110 109h1v1h-1zM110 146h1v1h-1zM110 220h1v1h-1zM110 224h1v1h-1zM111 61h1v2h-1zM111 67h1v2h-1zM111 71h1v1h-1zM111 109h1v1h-1zM111 119h1v1h-1zM111 139h1v1h-1zM111 162h1v1h-1zM111 205h1v1h-1zM112 72h1v1h-1zM112 105h1v1h-1zM112 107h1v1h-1zM112 109h1v1h-1zM112 128h1v1h-1zM112 177h1v1h-1zM112 180h1v1h-1zM112 221h1v1h-1zM113 64h1v2h-1zM113 71h1v1h-1zM113 110h1v2h-1zM113 116h1v1h-1zM113 120h1v1h-1zM113 141h1v1h-1zM113 157h1v1h-1zM113 205h1v2h-1zM113 217h1v1h-1zM113 231h1v2h-1zM113 235h1v1h-1zM114 61h1v1h-1zM114 72h1v2h-1zM114 106h1v1h-1zM114 109h1v1h-1zM114 148h1v1h-1zM114 176h1v1h-1zM114 199h1v1h-1zM115 62h1v1h-1zM115 64h1v1h-1zM115 68h1v1h-1zM115 70h1v1h-1zM115 114h1v2h-1zM115 119h1v1h-1zM115 135h1v1h-1zM115 145h1v1h-1zM115 161h1v1h-1zM115 184h1v1h-1zM115 233h1v1h-1zM116 60h1v1h-1zM116 106h1v1h-1zM116 122h1v1h-1zM116 173h1v1h-1zM116 175h1v1h-1zM117 60h1v2h-1zM117 63h1v1h-1zM117 68h1v1h-1zM117 112h1v1h-1zM117 116h1v1h-1zM117 118h1v1h-1zM117 156h1v1h-1zM117 186h1v1h-1zM117 189h1v1h-1zM117 208h1v1h-1zM117 214h1v1h-1zM117 234h1v1h-1zM118 61h1v1h-1zM118 107h1v1h-1zM118 130h1v1h-1zM118 172h1v1h-1zM118 192h1v1h-1zM118 219h1v1h-1zM119 60h1v2h-1zM119 64h1v1h-1zM119 70h1v1h-1zM119 112h1v1h-1zM119 137h1v1h-1zM119 162h1v1h-1zM119 165h1v1h-1zM119 185h1v1h-1zM119 192h1v1h-1zM119 205h1v1h-1zM120 60h1v1h-1zM120 108h1v1h-1zM120 130h1v1h-1zM120 133h1v1h-1zM120 144h1v1h-1zM120 148h1v1h-1zM120 150h1v1h-1zM120 152h1v1h-1zM120 157h1v1h-1zM120 192h1v1h-1zM120 202h1v1h-1zM120 216h1v1h-1zM121 63h1v1h-1zM121 65h1v1h-1zM121 67h1v1h-1zM121 110h1v1h-1zM121 113h1v1h-1zM121 115h1v1h-1zM121 117h1v1h-1zM121 119h1v1h-1zM121 169h1v1h-1zM121 206h1v1h-1zM122 59h1v2h-1zM122 72h1v1h-1zM122 107h1v2h-1zM122 127h1v1h-1zM122 132h1v1h-1zM122 168h1v1h-1zM122 172h1v1h-1zM122 196h1v1h-1zM123 63h1v1h-1zM123 72h1v1h-1zM123 108h1v1h-1zM123 133h1v1h-1zM123 190h1v1h-1zM123 229h1v1h-1zM123 232h1v1h-1zM123 235h1v1h-1zM124 61h1v1h-1zM124 72h1v1h-1zM124 104h1v1h-1zM124 109h1v1h-1zM124 122h1v1h-1zM124 133h1v1h-1zM125 71h1v1h-1zM125 109h1v1h-1zM125 111h1v1h-1zM125 114h1v1h-1zM125 116h1v2h-1zM125 119h1v1h-1zM125 142h1v1h-1zM125 232h1v1h-1zM126 72h1v1h-1zM126 130h1v1h-1zM126 148h1v1h-1zM126 168h1v1h-1zM126 177h1v1h-1zM126 204h1v1h-1zM126 219h1v1h-1zM126 226h1v1h-1zM127 63h1v1h-1zM127 70h1v1h-1zM127 72h1v1h-1zM127 109h1v2h-1zM127 113h1v2h-1zM127 136h1v1h-1zM127 140h1v1h-1zM127 167h1v1h-1zM127 169h1v1h-1zM127 184h1v1h-1zM127 207h1v1h-1zM127 232h1v2h-1zM128 59h1v1h-1zM128 106h1v1h-1zM128 154h1v1h-1zM128 168h1v1h-1zM128 216h1v1h-1zM128 223h1v1h-1zM128 225h1v1h-1zM128 227h1v1h-1zM128 240h1v1h-1zM129 66h1v1h-1zM129 72h1v1h-1zM129 114h1v2h-1zM129 160h1v1h-1zM129 163h1v1h-1zM129 181h1v1h-1zM129 217h1v1h-1zM129 233h1v1h-1zM130 60h1v1h-1zM130 72h1v1h-1zM130 101h1v1h-1zM130 109h1v1h-1zM130 120h1v2h-1zM130 177h1v1h-1zM130 179h1v2h-1zM130 193h1v1h-1zM130 218h1v2h-1zM131 64h1v1h-1zM131 71h1v1h-1zM131 111h1v2h-1zM131 120h1v1h-1zM131 139h1v1h-1zM131 167h1v2h-1zM131 192h1v2h-1zM131 217h1v1h-1zM131 228h1v1h-1zM131 231h1v1h-1zM131 234h1v1h-1zM132 109h1v1h-1zM132 133h1v1h-1zM132 176h1v1h-1zM132 199h1v1h-1zM132 205h1v1h-1zM132 218h1v1h-1zM132 223h1v1h-1zM133 67h1v2h-1zM133 72h1v1h-1zM133 118h1v2h-1zM133 132h1v1h-1zM133 187h1v1h-1zM133 232h1v1h-1zM134 59h1v1h-1zM134 128h1v1h-1zM134 201h1v1h-1zM135 110h1v2h-1zM135 113h1v1h-1zM135 183h1v1h-1zM135 187h1v1h-1zM135 191h1v1h-1zM136 60h1v2h-1zM136 106h1v1h-1zM136 174h1v1h-1zM136 177h1v1h-1zM136 201h1v1h-1zM136 204h1v1h-1zM136 217h1v1h-1zM136 219h1v1h-1zM137 61h1v3h-1zM137 65h1v1h-1zM137 69h1v1h-1zM137 71h1v2h-1zM137 109h1v2h-1zM137 112h1v2h-1zM137 117h1v1h-1zM137 156h1v1h-1zM137 167h1v1h-1zM137 180h1v1h-1zM137 186h1v1h-1zM137 209h1v1h-1zM137 217h1v1h-1zM137 229h1v2h-1zM138 60h1v1h-1zM138 125h1v1h-1zM138 150h1v1h-1zM138 156h1v1h-1zM138 173h1v1h-1zM138 200h1v1h-1zM138 229h1v1h-1zM139 63h1v1h-1zM139 66h1v1h-1zM139 70h1v2h-1zM139 108h1v1h-1zM139 114h1v2h-1zM139 117h1v1h-1zM139 136h1v1h-1zM139 180h1v1h-1zM139 217h1v1h-1zM139 228h1v1h-1zM139 230h1v2h-1zM140 59h1v2h-1zM140 106h1v1h-1zM140 129h1v1h-1zM140 132h1v1h-1zM140 153h1v1h-1zM140 168h1v1h-1zM140 195h1v1h-1zM140 197h1v1h-1zM140 217h1v1h-1zM140 227h1v1h-1zM141 71h1v1h-1zM141 108h1v2h-1zM141 115h1v4h-1zM141 134h1v1h-1zM141 136h1v1h-1zM141 140h1v1h-1zM141 208h1v1h-1zM141 217h1v1h-1zM141 233h1v1h-1zM142 27h1v1h-1zM142 60h1v1h-1zM142 106h1v2h-1zM142 169h1v1h-1zM142 175h1v2h-1zM142 217h1v1h-1zM142 222h1v1h-1zM142 225h1v1h-1zM142 229h1v1h-1zM143 64h1v1h-1zM143 110h1v1h-1zM143 118h1v1h-1zM143 231h1v1h-1zM143 234h1v1h-1zM144 60h1v1h-1zM144 73h1v1h-1zM144 108h1v1h-1zM144 126h1v1h-1zM144 177h1v1h-1zM144 193h1v1h-1zM144 216h1v1h-1zM145 60h1v1h-1zM145 64h1v1h-1zM145 71h1v1h-1zM145 110h1v1h-1zM145 112h1v1h-1zM145 141h1v1h-1zM145 159h1v1h-1zM145 209h1v1h-1zM145 232h1v1h-1zM146 106h1v1h-1zM146 108h1v1h-1zM146 120h1v1h-1zM146 123h1v1h-1zM146 125h1v1h-1zM146 144h1v1h-1zM146 177h1v1h-1zM146 203h1v1h-1zM147 66h1v1h-1zM147 68h1v1h-1zM147 70h1v2h-1zM147 93h1v1h-1zM147 109h1v3h-1zM147 114h1v1h-1zM147 117h1v2h-1zM147 141h1v1h-1zM147 143h1v1h-1zM148 74h1v1h-1zM148 106h1v1h-1zM148 170h1v1h-1zM148 180h1v1h-1zM148 196h1v1h-1zM149 60h1v2h-1zM149 65h1v1h-1zM149 70h1v1h-1zM149 108h1v1h-1zM149 110h1v1h-1zM149 112h1v1h-1zM149 120h1v1h-1zM149 143h1v1h-1zM149 207h1v1h-1zM149 216h1v2h-1zM149 228h1v1h-1zM149 231h1v1h-1zM150 8h1v1h-1zM150 61h1v1h-1zM150 72h1v1h-1zM150 130h1v1h-1zM150 151h1v1h-1zM150 181h1v1h-1zM151 63h1v1h-1zM151 71h1v1h-1zM151 110h1v2h-1zM151 114h1v1h-1zM151 121h1v1h-1zM151 144h1v1h-1zM151 233h1v1h-1zM152 72h1v1h-1zM152 105h1v1h-1zM152 126h1v1h-1zM152 155h1v1h-1zM152 171h1v1h-1zM152 175h1v1h-1zM152 181h1v1h-1zM153 42h1v1h-1zM153 63h1v1h-1zM153 66h1v2h-1zM153 71h1v2h-1zM153 108h1v1h-1zM153 110h1v1h-1zM153 114h1v1h-1zM153 118h1v1h-1zM153 158h1v1h-1zM153 188h1v1h-1zM156 60h1v1h-1zM156 74h1v1h-1zM156 108h1v1h-1zM156 127h1v2h-1zM156 174h1v1h-1zM156 176h1v1h-1zM156 181h1v1h-1zM156 203h1v1h-1zM156 223h1v1h-1zM157 70h1v1h-1zM157 109h1v4h-1zM157 117h1v1h-1zM157 134h1v1h-1zM157 162h1v1h-1zM157 169h1v1h-1zM158 61h1v1h-1zM158 106h1v1h-1zM158 145h1v1h-1zM158 200h1v1h-1zM158 217h1v1h-1zM159 61h1v1h-1zM159 64h1v1h-1zM159 67h1v1h-1zM159 109h1v1h-1zM159 112h1v1h-1zM159 115h1v4h-1zM159 143h1v1h-1zM159 207h1v1h-1zM159 216h1v1h-1zM159 234h1v1h-1zM160 108h1v1h-1zM160 130h1v1h-1zM160 132h1v1h-1zM160 144h1v1h-1zM160 150h1v1h-1zM160 178h1v2h-1zM160 217h1v1h-1zM161 69h1v1h-1zM161 116h1v1h-1zM161 134h1v1h-1zM161 159h1v1h-1zM161 164h1v1h-1zM161 230h1v3h-1zM162 59h1v1h-1zM162 105h1v1h-1zM162 107h1v3h-1zM162 125h1v1h-1zM162 129h1v1h-1zM162 156h1v1h-1zM163 60h1v2h-1zM163 108h1v1h-1zM163 110h1v2h-1zM163 113h1v1h-1zM163 116h1v1h-1zM163 118h1v1h-1zM163 161h1v1h-1zM163 231h1v1h-1zM164 61h1v1h-1zM164 108h1v2h-1zM164 125h1v1h-1zM164 155h1v1h-1zM164 157h1v1h-1zM164 202h1v1h-1zM165 68h1v1h-1zM165 108h1v1h-1zM165 113h1v1h-1zM165 115h1v1h-1zM165 117h1v2h-1zM165 139h1v1h-1zM165 216h1v1h-1zM166 60h1v1h-1zM166 109h1v1h-1zM166 152h1v1h-1zM166 174h1v1h-1zM167 70h1v1h-1zM167 112h1v1h-1zM167 137h1v1h-1zM167 190h1v1h-1zM167 232h1v1h-1zM168 133h1v1h-1zM168 172h1v1h-1zM168 195h1v1h-1zM169 60h1v1h-1zM169 64h1v1h-1zM169 113h1v1h-1zM169 115h1v1h-1zM169 118h1v1h-1zM169 121h1v1h-1zM169 132h1v1h-1zM169 190h1v1h-1zM169 216h1v1h-1zM170 60h1v1h-1zM170 72h1v2h-1zM170 106h1v1h-1zM170 108h1v1h-1zM170 120h1v1h-1zM170 122h1v1h-1zM170 148h1v1h-1zM170 170h1v1h-1zM170 181h1v1h-1zM170 199h1v1h-1zM170 216h1v2h-1zM171 68h1v1h-1zM171 109h1v2h-1zM171 115h1v1h-1zM171 118h1v1h-1zM171 181h1v1h-1zM171 205h1v1h-1zM171 215h1v1h-1zM175 108h1v1h-1zM175 113h1v1h-1zM175 118h1v1h-1zM175 136h1v1h-1zM175 139h1v1h-1zM175 156h1v1h-1zM175 188h1v1h-1zM175 208h1v1h-1zM175 231h1v1h-1zM176 73h1v1h-1zM176 108h1v1h-1zM176 121h1v1h-1zM176 216h1v1h-1zM177 109h1v2h-1zM177 117h1v1h-1zM177 142h1v1h-1zM177 193h1v1h-1zM177 216h1v1h-1zM178 60h1v1h-1zM178 74h1v1h-1zM178 107h1v1h-1zM178 121h1v1h-1zM178 124h1v1h-1zM178 130h1v1h-1zM178 132h1v2h-1zM178 177h1v1h-1zM178 193h1v1h-1zM179 73h1v1h-1zM179 112h1v2h-1zM179 115h1v2h-1zM179 159h1v1h-1zM179 215h1v2h-1zM180 59h1v3h-1zM180 72h1v1h-1zM180 108h1v1h-1zM180 122h1v1h-1zM180 144h1v1h-1zM180 149h1v1h-1zM180 199h1v1h-1zM180 216h1v1h-1zM181 109h1v1h-1zM181 216h1v2h-1zM181 231h1v1h-1zM181 233h1v1h-1zM184 74h1v1h-1zM184 107h1v1h-1zM184 124h1v1h-1zM184 126h1v1h-1zM184 150h1v1h-1zM184 169h1v1h-1zM184 180h1v1h-1zM185 61h1v1h-1zM185 65h1v1h-1zM185 72h1v1h-1zM185 114h1v1h-1zM185 117h1v2h-1zM185 140h1v1h-1zM185 168h1v1h-1zM185 182h1v1h-1zM185 185h1v1h-1zM185 187h1v1h-1zM185 205h1v1h-1zM185 209h1v1h-1zM186 59h1v1h-1zM186 109h1v1h-1zM186 121h1v1h-1zM186 128h1v1h-1zM186 150h1v1h-1zM186 156h1v1h-1zM186 175h1v1h-1zM186 216h1v1h-1zM187 63h1v1h-1zM187 72h1v1h-1zM187 113h1v1h-1zM187 117h1v1h-1zM187 139h1v1h-1zM187 204h1v1h-1zM187 207h1v1h-1zM188 60h1v1h-1zM188 107h1v1h-1zM188 109h1v1h-1zM188 132h1v1h-1zM188 155h1v1h-1zM188 169h1v2h-1zM188 172h1v1h-1zM189 109h1v2h-1zM189 142h1v1h-1zM189 162h1v1h-1zM189 166h1v1h-1zM189 185h1v1h-1zM189 206h1v1h-1zM190 59h1v1h-1zM190 73h1v1h-1zM190 133h1v1h-1zM190 144h1v1h-1zM190 149h1v1h-1zM190 193h1v1h-1zM191 72h1v1h-1zM191 116h1v2h-1zM191 156h1v1h-1zM191 160h1v1h-1zM191 185h1v1h-1zM191 231h1v1h-1zM198 72h1v1h-1zM198 107h1v1h-1zM198 125h1v1h-1zM198 202h1v1h-1zM198 229h1v1h-1zM199 72h1v2h-1zM199 108h1v2h-1zM199 111h1v1h-1zM199 116h1v2h-1zM199 142h1v1h-1zM199 166h1v1h-1zM199 168h1v1h-1zM199 182h1v1h-1zM199 214h1v1h-1zM199 231h1v1h-1zM200 108h1v2h-1zM200 197h1v1h-1zM201 72h1v1h-1zM201 108h1v1h-1zM201 113h1v1h-1zM201 115h1v2h-1zM201 118h1v1h-1zM201 142h1v1h-1zM201 215h1v1h-1zM202 61h1v1h-1zM202 127h1v1h-1zM202 133h1v1h-1zM202 147h1v1h-1zM202 171h1v1h-1zM202 177h1v1h-1zM202 192h1v2h-1zM202 203h1v1h-1zM203 60h1v1h-1zM203 110h1v1h-1zM203 117h1v1h-1zM203 121h1v1h-1zM203 215h1v1h-1zM203 230h1v1h-1zM204 72h1v1h-1zM204 107h1v1h-1zM204 122h1v1h-1zM204 153h1v1h-1zM204 155h1v1h-1zM205 60h1v1h-1zM205 86h1v1h-1zM205 109h1v4h-1zM205 114h1v1h-1zM205 136h1v1h-1zM205 140h1v1h-1zM205 180h1v1h-1zM205 191h1v1h-1zM205 232h1v1h-1zM206 107h1v1h-1zM206 131h1v1h-1zM206 173h1v1h-1zM206 181h1v1h-1zM207 60h1v1h-1zM207 72h1v1h-1zM207 108h1v1h-1zM207 110h1v1h-1zM207 114h1v2h-1zM207 117h1v2h-1zM207 139h1v2h-1zM207 162h1v1h-1zM207 169h1v1h-1zM207 181h1v1h-1zM207 213h1v2h-1zM208 72h1v2h-1zM208 94h1v1h-1zM208 107h1v1h-1zM208 151h1v1h-1zM209 63h1v2h-1zM209 66h1v1h-1zM209 69h1v1h-1zM209 71h1v2h-1zM209 108h1v1h-1zM209 110h1v1h-1zM209 112h1v1h-1zM209 115h1v1h-1zM209 120h1v1h-1zM209 139h1v1h-1zM209 161h1v1h-1zM209 230h1v1h-1zM210 73h1v1h-1zM210 108h1v1h-1zM210 121h1v1h-1zM210 131h1v1h-1zM210 179h1v1h-1zM210 193h1v1h-1zM211 61h1v1h-1zM211 68h1v2h-1zM211 108h1v1h-1zM211 112h1v1h-1zM211 121h1v1h-1zM211 133h1v1h-1zM211 163h1v1h-1zM211 180h1v1h-1zM211 191h1v1h-1zM211 208h1v1h-1zM212 73h1v1h-1zM212 105h1v1h-1zM212 108h1v1h-1zM212 153h1v1h-1zM212 156h1v1h-1zM212 175h1v1h-1zM212 194h1v1h-1zM212 197h1v1h-1zM213 108h1v1h-1zM213 111h1v1h-1zM213 113h1v1h-1zM213 116h1v1h-1zM213 118h1v1h-1zM213 144h1v1h-1zM213 158h1v1h-1zM213 192h1v1h-1zM213 214h1v1h-1zM213 230h1v1h-1zM214 60h1v1h-1zM214 203h1v1h-1zM215 68h1v1h-1zM215 72h1v1h-1zM215 111h1v2h-1zM215 114h1v2h-1zM215 117h1v1h-1zM215 143h1v1h-1zM215 164h1v1h-1zM215 181h1v1h-1zM215 214h1v2h-1zM216 58h1v1h-1zM216 157h1v1h-1zM217 109h1v1h-1zM217 114h1v3h-1zM217 138h1v1h-1zM217 141h1v1h-1zM217 159h1v1h-1zM217 190h1v1h-1zM217 214h1v2h-1zM218 72h1v1h-1zM218 91h1v1h-1zM218 107h1v1h-1zM218 109h1v1h-1zM218 122h1v1h-1zM218 168h1v2h-1zM219 60h1v1h-1zM219 63h1v1h-1zM219 67h1v1h-1zM219 70h1v2h-1zM219 115h1v1h-1zM219 140h1v1h-1zM219 157h1v1h-1zM219 159h1v1h-1zM219 161h1v1h-1zM219 165h1v1h-1zM219 191h1v1h-1zM219 208h1v1h-1zM219 212h1v1h-1zM219 214h1v1h-1zM220 59h1v2h-1zM220 104h1v1h-1zM220 107h1v1h-1zM220 175h1v1h-1zM220 229h1v1h-1zM221 60h1v2h-1zM221 65h1v1h-1zM221 69h1v1h-1zM221 109h1v2h-1zM221 114h1v1h-1zM221 118h1v1h-1zM221 121h1v1h-1zM221 212h1v1h-1zM221 230h1v1h-1zM222 59h1v3h-1zM222 109h1v1h-1zM222 121h1v1h-1zM222 169h1v1h-1zM222 179h1v1h-1zM223 71h1v1h-1zM223 94h1v1h-1zM223 109h1v1h-1zM223 114h1v1h-1zM223 116h1v2h-1zM223 166h1v1h-1zM224 60h1v1h-1zM224 108h1v1h-1zM224 122h1v1h-1zM224 157h1v1h-1zM224 170h1v1h-1zM224 175h1v2h-1zM224 179h1v1h-1zM224 229h1v1h-1zM225 61h1v1h-1zM225 72h1v1h-1zM225 110h1v1h-1zM225 117h1v1h-1zM225 145h1v1h-1zM225 180h1v1h-1zM225 184h1v1h-1zM226 59h1v2h-1zM226 108h1v1h-1zM226 131h1v1h-1zM226 196h1v1h-1zM226 204h1v1h-1zM227 60h1v1h-1zM227 108h1v1h-1zM227 113h1v1h-1zM227 116h1v1h-1zM227 118h1v1h-1zM227 180h1v1h-1zM227 212h1v1h-1zM227 214h1v1h-1zM227 229h1v1h-1zM228 60h1v1h-1zM228 107h1v1h-1zM228 158h1v1h-1zM228 174h1v1h-1zM228 177h1v1h-1zM228 200h1v1h-1zM229 60h1v1h-1zM229 70h1v1h-1zM229 108h1v1h-1zM229 110h1v1h-1zM229 112h1v2h-1zM229 115h1v1h-1zM229 118h1v1h-1zM229 146h1v2h-1zM229 152h1v1h-1zM229 156h1v1h-1zM229 163h1v1h-1zM229 190h1v1h-1zM229 213h1v1h-1zM230 108h1v2h-1zM230 170h1v1h-1zM231 72h1v1h-1zM231 108h1v1h-1zM231 112h1v1h-1zM231 117h1v1h-1zM231 121h1v1h-1zM231 132h1v1h-1zM231 145h1v2h-1zM231 181h1v1h-1zM231 230h1v1h-1zM236 125h1v1h-1zM236 144h1v1h-1zM236 180h1v1h-1zM236 229h1v1h-1zM237 60h1v1h-1zM237 111h1v1h-1zM237 116h1v1h-1zM237 205h1v1h-1zM237 207h1v1h-1zM237 213h1v1h-1zM237 230h1v1h-1zM238 107h1v2h-1zM238 123h1v1h-1zM238 154h1v1h-1zM238 173h1v1h-1zM238 229h1v1h-1zM239 63h1v1h-1zM239 65h1v1h-1zM239 72h1v1h-1zM239 108h1v1h-1zM239 111h1v1h-1zM239 114h1v1h-1zM239 116h1v2h-1zM239 133h1v1h-1zM239 145h1v1h-1zM239 192h1v1h-1zM239 204h1v1h-1zM239 207h1v1h-1zM239 230h1v1h-1z"/>
<path fill="#8086c0" d="M5 62h1v1h-1zM5 119h1v1h-1zM6 220h1v1h-1zM11 63h1v1h-1zM11 69h1v1h-1zM18 5h1v1h-1zM18 221h1v1h-1zM19 0h1v1h-1zM19 2h1v2h-1zM19 283h1v1h-1zM19 287h1v1h-1zM20 2h1v1h-1zM20 104h1v1h-1zM21 0h1v1h-1zM21 7h1v1h-1zM21 119h1v1h-1zM21 206h1v1h-1zM21 236h1v1h-1zM21 281h1v1h-1zM21 287h1v1h-1zM22 2h1v2h-1zM22 220h1v2h-1zM23 0h1v1h-1zM23 4h1v1h-1zM23 6h1v2h-1zM23 119h1v1h-1zM23 287h1v1h-1zM24 1h1v1h-1zM24 103h1v1h-1zM25 0h1v1h-1zM25 62h1v1h-1zM25 119h1v1h-1zM25 282h1v1h-1zM26 3h1v2h-1zM26 27h1v1h-1zM26 221h1v1h-1zM27 1h1v1h-1zM27 7h1v1h-1zM27 282h1v1h-1zM27 284h1v1h-1zM28 2h1v1h-1zM28 6h1v1h-1zM28 103h1v1h-1zM28 221h1v1h-1zM29 1h1v1h-1zM29 236h1v1h-1zM29 280h1v1h-1zM29 284h1v1h-1zM30 1h1v2h-1zM31 0h1v1h-1zM31 3h1v2h-1zM31 236h1v1h-1zM31 282h1v5h-1zM32 1h1v1h-1zM32 3h1v1h-1zM32 5h1v1h-1zM33 0h1v1h-1zM33 4h1v1h-1zM33 89h1v1h-1zM33 120h1v1h-1zM34 2h1v1h-1zM34 4h1v1h-1zM34 6h1v1h-1zM34 103h1v1h-1zM34 120h1v1h-1zM34 220h1v1h-1zM35 0h1v1h-1zM35 46h1v1h-1zM35 236h1v2h-1zM36 0h1v2h-1zM36 3h1v2h-1zM36 121h1v1h-1zM36 123h1v1h-1zM36 128h1v1h-1zM37 0h1v1h-1zM37 3h1v2h-1zM37 7h1v1h-1zM37 117h1v2h-1zM37 236h1v1h-1zM37 280h1v1h-1zM37 284h1v1h-1zM38 0h1v1h-1zM38 3h1v1h-1zM38 104h1v1h-1zM38 123h1v4h-1zM38 144h1v1h-1zM39 4h1v1h-1zM39 281h1v1h-1zM39 284h1v1h-1zM40 3h1v1h-1zM40 5h1v1h-1zM40 120h1v1h-1zM40 122h1v1h-1zM40 220h1v1h-1zM41 5h1v1h-1zM41 236h1v1h-1zM41 280h1v3h-1zM41 284h1v1h-1zM42 1h1v1h-1zM42 7h1v1h-1zM43 4h1v2h-1zM43 7h1v1h-1zM43 71h1v1h-1zM43 120h1v2h-1zM43 195h1v1h-1zM43 287h1v1h-1zM44 2h1v1h-1zM44 4h1v3h-1zM44 104h1v1h-1zM44 120h1v1h-1zM44 123h1v1h-1zM44 125h1v1h-1zM45 3h1v2h-1zM45 6h1v2h-1zM45 71h1v1h-1zM45 282h1v1h-1zM46 104h1v1h-1zM46 123h1v2h-1zM46 219h1v1h-1zM47 1h1v1h-1zM47 235h1v1h-1zM47 287h1v1h-1zM48 1h1v1h-1zM48 104h1v1h-1zM48 125h1v1h-1zM49 1h1v1h-1zM49 3h1v1h-1zM49 7h1v1h-1zM50 2h1v3h-1zM50 63h1v1h-1zM50 105h1v1h-1zM50 121h1v3h-1zM51 0h1v1h-1zM51 5h1v2h-1zM51 61h1v1h-1zM51 64h1v2h-1zM51 118h1v2h-1zM51 280h1v1h-1zM51 287h1v1h-1zM52 0h1v1h-1zM52 2h1v1h-1zM52 7h1v1h-1zM52 62h1v1h-1zM52 64h1v1h-1zM52 104h1v1h-1zM52 126h1v1h-1zM52 219h1v1h-1zM53 0h1v1h-1zM53 3h1v1h-1zM53 5h1v1h-1zM53 68h1v1h-1zM53 73h1v1h-1zM53 150h1v1h-1zM54 72h1v1h-1zM54 105h1v1h-1zM54 122h1v1h-1zM54 125h1v1h-1zM54 219h1v1h-1zM55 1h1v1h-1zM55 4h1v1h-1zM55 68h1v1h-1zM55 70h1v1h-1zM55 117h1v1h-1zM56 2h1v2h-1zM56 63h1v1h-1zM56 65h1v1h-1zM56 67h1v1h-1zM56 105h1v1h-1zM57 1h1v1h-1zM57 6h1v2h-1zM57 61h1v2h-1zM57 64h1v1h-1zM57 66h1v1h-1zM57 236h1v1h-1zM58 5h1v1h-1zM58 7h1v1h-1zM58 84h1v1h-1zM58 104h1v2h-1zM58 123h1v1h-1zM58 126h1v1h-1zM59 0h1v2h-1zM59 61h1v1h-1zM59 64h1v2h-1zM59 70h1v1h-1zM59 120h1v1h-1zM60 0h1v1h-1zM60 2h1v1h-1zM60 139h1v1h-1zM61 0h1v1h-1zM61 2h1v1h-1zM61 6h1v1h-1zM61 62h1v1h-1zM61 66h1v3h-1zM61 94h1v1h-1zM61 118h1v1h-1zM61 183h1v1h-1zM62 0h1v2h-1zM62 5h1v1h-1zM62 219h1v1h-1zM63 1h1v2h-1zM63 5h1v3h-1zM63 68h1v1h-1zM63 95h1v1h-1zM63 118h1v1h-1zM63 137h1v1h-1zM64 0h1v1h-1zM64 2h1v1h-1zM64 4h1v1h-1zM64 62h1v1h-1zM64 123h1v1h-1zM65 0h1v1h-1zM65 61h1v1h-1zM65 63h1v1h-1zM65 65h1v2h-1zM65 68h1v1h-1zM65 120h1v1h-1zM66 2h1v1h-1zM66 5h1v1h-1zM66 62h1v2h-1zM66 121h1v1h-1zM66 123h1v1h-1zM66 125h1v1h-1zM67 0h1v1h-1zM67 2h1v1h-1zM67 7h1v1h-1zM67 65h1v1h-1zM67 67h1v1h-1zM67 69h1v1h-1zM68 0h1v2h-1zM68 6h1v1h-1zM68 61h1v1h-1zM68 109h1v1h-1zM68 124h1v1h-1zM68 166h1v1h-1zM69 1h1v1h-1zM69 3h1v2h-1zM69 63h1v1h-1zM69 65h1v2h-1zM69 69h1v1h-1zM69 235h1v1h-1zM70 0h1v1h-1zM70 4h1v2h-1zM70 105h1v1h-1zM70 120h1v1h-1zM70 123h1v1h-1zM70 219h1v1h-1zM71 68h1v1h-1zM71 235h1v1h-1zM72 104h1v1h-1zM72 107h1v1h-1zM72 122h1v1h-1zM72 125h1v1h-1zM73 66h1v1h-1zM73 156h1v1h-1zM74 104h1v1h-1zM74 125h1v1h-1zM75 68h1v1h-1zM75 70h1v2h-1zM75 120h1v1h-1zM76 106h1v1h-1zM76 123h1v1h-1zM76 126h1v1h-1zM77 62h1v1h-1zM77 66h1v2h-1zM77 118h1v1h-1zM78 61h1v1h-1zM78 105h1v1h-1zM78 126h1v1h-1zM79 69h1v1h-1zM79 119h1v1h-1zM79 144h1v1h-1zM79 256h1v1h-1zM80 126h1v1h-1zM80 218h1v2h-1zM81 61h1v1h-1zM81 64h1v1h-1zM81 70h1v1h-1zM81 113h1v1h-1zM81 115h1v2h-1zM81 118h1v1h-1zM81 235h1v1h-1zM82 61h1v1h-1zM82 124h1v1h-1zM82 219h1v1h-1zM83 61h1v1h-1zM83 63h1v1h-1zM83 67h1v2h-1zM83 108h1v1h-1zM84 61h1v1h-1zM84 125h1v1h-1zM85 62h1v1h-1zM85 66h1v2h-1zM85 112h1v1h-1zM85 114h1v1h-1zM88 59h1v1h-1zM88 109h1v1h-1zM88 223h1v1h-1zM89 63h1v1h-1zM89 68h1v1h-1zM89 108h1v1h-1zM89 113h1v1h-1zM89 234h1v1h-1zM90 72h1v1h-1zM90 107h1v1h-1zM91 112h1v1h-1zM91 186h1v1h-1zM91 231h1v1h-1zM92 61h1v1h-1zM92 106h1v1h-1zM92 109h1v1h-1zM92 219h1v1h-1zM92 226h1v1h-1zM93 111h1v3h-1zM93 115h1v1h-1zM93 118h1v1h-1zM93 229h1v1h-1zM93 234h1v1h-1zM94 61h1v1h-1zM94 108h1v1h-1zM94 221h1v1h-1zM94 227h1v3h-1zM95 62h1v2h-1zM95 69h1v2h-1zM95 110h1v1h-1zM95 115h1v2h-1zM95 228h1v1h-1zM96 59h1v1h-1zM96 61h1v1h-1zM96 109h1v1h-1zM96 225h1v1h-1zM96 227h1v1h-1zM96 229h1v1h-1zM96 245h1v1h-1zM97 60h1v1h-1zM97 64h1v1h-1zM97 112h1v1h-1zM97 115h1v2h-1zM98 72h1v1h-1zM98 225h1v1h-1zM99 62h1v2h-1zM99 66h1v1h-1zM99 68h1v2h-1zM99 111h1v1h-1zM99 114h1v1h-1zM99 229h1v1h-1zM99 231h1v1h-1zM100 61h1v1h-1zM100 107h1v1h-1zM100 222h1v1h-1zM100 224h1v1h-1zM100 227h1v1h-1zM100 229h1v1h-1zM101 61h1v1h-1zM101 64h1v1h-1zM101 108h1v1h-1zM101 115h1v1h-1zM101 117h1v1h-1zM101 144h1v1h-1zM101 230h1v1h-1zM102 109h1v1h-1zM102 223h1v1h-1zM103 60h1v1h-1zM103 65h1v1h-1zM103 69h1v1h-1zM103 71h1v2h-1zM103 110h1v1h-1zM103 113h1v2h-1zM103 117h1v2h-1zM104 61h1v1h-1zM104 72h1v1h-1zM104 108h1v2h-1zM104 178h1v1h-1zM104 223h1v1h-1zM105 63h1v1h-1zM105 111h1v2h-1zM105 118h1v1h-1zM105 232h1v2h-1zM106 72h1v1h-1zM106 109h1v1h-1zM106 218h1v1h-1zM106 227h1v1h-1zM107 61h1v2h-1zM107 65h1v1h-1zM107 67h1v1h-1zM107 111h1v1h-1zM107 115h1v1h-1zM107 228h1v5h-1zM108 61h1v1h-1zM108 108h1v2h-1zM108 219h1v2h-1zM108 223h1v1h-1zM108 229h1v1h-1zM109 63h1v1h-1zM109 114h1v1h-1zM109 117h1v1h-1zM110 72h1v1h-1zM110 108h1v1h-1zM110 200h1v1h-1zM110 221h1v1h-1zM110 226h1v2h-1zM111 108h1v1h-1zM111 114h1v1h-1zM111 117h1v2h-1zM111 233h1v1h-1zM112 218h1v1h-1zM113 62h1v1h-1zM113 67h1v1h-1zM113 109h1v1h-1zM113 112h1v1h-1zM113 233h1v1h-1zM115 63h1v1h-1zM115 67h1v1h-1zM115 112h1v2h-1zM116 72h1v1h-1zM116 107h1v2h-1zM116 218h1v2h-1zM117 70h1v1h-1zM117 73h1v1h-1zM117 109h1v1h-1zM117 114h1v1h-1zM117 229h1v2h-1zM117 233h1v1h-1zM118 109h1v1h-1zM118 229h1v1h-1zM119 62h1v1h-1zM119 65h1v1h-1zM119 69h1v1h-1zM119 109h1v1h-1zM119 111h1v1h-1zM119 231h1v1h-1zM119 233h1v1h-1zM120 61h1v1h-1zM120 74h1v1h-1zM120 219h1v1h-1zM120 222h1v1h-1zM120 226h1v1h-1zM120 229h1v1h-1zM121 61h1v1h-1zM121 68h1v1h-1zM121 71h1v1h-1zM121 111h1v1h-1zM121 229h1v1h-1zM121 232h1v1h-1zM122 61h1v1h-1zM122 109h1v1h-1zM122 219h1v1h-1zM122 221h1v3h-1zM122 229h1v1h-1zM123 62h1v1h-1zM123 66h1v1h-1zM123 71h1v1h-1zM123 112h1v1h-1zM124 12h1v1h-1zM124 229h1v1h-1zM125 60h1v1h-1zM125 64h1v1h-1zM125 67h1v1h-1zM125 115h1v1h-1zM125 118h1v1h-1zM125 205h1v1h-1zM126 224h1v1h-1zM126 228h1v1h-1zM127 64h1v2h-1zM127 67h1v1h-1zM127 71h1v1h-1zM127 108h1v1h-1zM127 112h1v1h-1zM127 115h1v1h-1zM127 117h1v1h-1zM127 231h1v1h-1zM129 63h1v2h-1zM129 67h1v1h-1zM129 69h1v3h-1zM129 112h1v2h-1zM130 240h1v1h-1zM131 62h1v1h-1zM131 66h1v1h-1zM131 113h1v2h-1zM131 118h1v1h-1zM131 230h1v1h-1zM132 61h1v1h-1zM132 217h1v1h-1zM132 222h1v1h-1zM132 227h1v1h-1zM133 70h1v1h-1zM133 110h1v1h-1zM133 113h1v1h-1zM133 115h1v1h-1zM133 189h1v1h-1zM133 230h1v1h-1zM134 61h1v1h-1zM134 219h1v1h-1zM134 222h1v1h-1zM134 225h1v1h-1zM134 229h1v1h-1zM135 63h1v2h-1zM135 71h1v1h-1zM135 109h1v1h-1zM135 117h1v1h-1zM136 72h1v1h-1zM136 109h1v1h-1zM136 223h1v1h-1zM136 226h1v1h-1zM137 64h1v1h-1zM137 231h1v1h-1zM138 61h1v1h-1zM138 109h1v1h-1zM138 217h1v2h-1zM139 62h1v1h-1zM139 64h1v1h-1zM139 68h1v2h-1zM139 109h1v1h-1zM139 112h1v2h-1zM139 232h1v2h-1zM140 61h1v1h-1zM140 218h1v1h-1zM140 222h1v1h-1zM140 229h1v1h-1zM141 66h1v1h-1zM141 113h1v2h-1zM142 61h1v1h-1zM142 108h1v1h-1zM142 219h1v1h-1zM143 62h1v2h-1zM143 68h1v1h-1zM143 109h1v1h-1zM143 111h1v1h-1zM143 114h1v1h-1zM143 117h1v1h-1zM143 217h1v1h-1zM143 229h1v2h-1zM143 232h1v1h-1zM144 173h1v1h-1zM144 217h1v1h-1zM144 227h1v1h-1zM145 65h1v1h-1zM145 70h1v1h-1zM145 108h1v1h-1zM145 114h1v1h-1zM145 116h1v2h-1zM145 217h1v1h-1zM145 231h1v1h-1zM146 72h1v1h-1zM146 104h1v1h-1zM146 107h1v1h-1zM146 217h1v1h-1zM146 219h1v1h-1zM146 226h1v1h-1zM147 60h1v1h-1zM147 108h1v1h-1zM147 115h1v1h-1zM148 72h1v1h-1zM148 107h1v1h-1zM148 216h1v1h-1zM149 66h1v1h-1zM149 118h1v1h-1zM149 230h1v1h-1zM150 217h1v1h-1zM150 223h1v1h-1zM150 225h1v2h-1zM150 271h1v1h-1zM151 61h1v1h-1zM151 65h1v2h-1zM151 108h1v2h-1zM151 116h1v1h-1zM151 232h1v1h-1zM152 217h1v1h-1zM152 220h1v1h-1zM153 18h1v1h-1zM153 62h1v1h-1zM153 109h1v1h-1zM153 217h1v1h-1zM153 230h1v1h-1zM153 232h1v1h-1zM156 109h1v1h-1zM156 227h1v1h-1zM157 63h1v2h-1zM157 66h1v1h-1zM157 69h1v1h-1zM157 71h1v1h-1zM157 217h1v1h-1zM157 232h1v1h-1zM158 225h1v1h-1zM158 228h1v2h-1zM159 65h1v1h-1zM159 68h1v1h-1zM159 70h1v1h-1zM159 72h1v1h-1zM159 228h1v1h-1zM159 232h1v1h-1zM160 53h1v1h-1zM160 61h1v1h-1zM160 221h1v1h-1zM161 65h1v1h-1zM161 72h1v1h-1zM161 113h1v1h-1zM161 115h1v1h-1zM161 192h1v1h-1zM161 216h1v2h-1zM161 228h1v1h-1zM161 281h1v1h-1zM162 216h1v2h-1zM162 245h1v1h-1zM163 62h1v2h-1zM163 66h1v1h-1zM163 71h1v1h-1zM163 115h1v1h-1zM163 216h1v1h-1zM163 228h1v1h-1zM164 218h1v1h-1zM164 226h1v2h-1zM165 60h1v3h-1zM165 66h1v1h-1zM165 70h1v1h-1zM166 59h1v1h-1zM166 205h1v1h-1zM167 60h1v4h-1zM167 68h1v1h-1zM167 110h1v1h-1zM167 117h1v1h-1zM167 216h1v1h-1zM167 231h1v1h-1zM168 107h1v1h-1zM168 216h1v1h-1zM169 61h1v1h-1zM169 70h1v1h-1zM169 217h1v1h-1zM169 230h1v1h-1zM171 62h1v1h-1zM171 111h1v1h-1zM175 60h1v1h-1zM175 110h1v1h-1zM175 112h1v1h-1zM175 115h1v1h-1zM175 117h1v1h-1zM175 232h1v1h-1zM176 72h1v1h-1zM176 179h1v1h-1zM176 218h1v1h-1zM176 221h1v2h-1zM176 224h1v1h-1zM176 228h1v1h-1zM177 60h1v1h-1zM177 72h1v1h-1zM177 120h1v1h-1zM178 217h1v1h-1zM179 61h1v1h-1zM179 72h1v1h-1zM179 120h1v1h-1zM179 230h1v1h-1zM180 109h1v1h-1zM181 60h1v1h-1zM181 112h1v1h-1zM184 61h1v1h-1zM184 72h1v1h-1zM184 216h1v1h-1zM184 219h1v1h-1zM184 226h1v1h-1zM184 228h1v1h-1zM185 68h1v1h-1zM185 113h1v1h-1zM185 216h1v1h-1zM186 108h1v1h-1zM186 225h1v1h-1zM187 65h1v1h-1zM187 109h1v1h-1zM187 114h1v2h-1zM187 215h1v1h-1zM188 108h1v1h-1zM189 60h1v1h-1zM189 116h1v2h-1zM189 215h1v2h-1zM189 230h1v1h-1zM190 218h1v1h-1zM191 60h1v2h-1zM191 67h1v1h-1zM191 71h1v1h-1zM191 109h1v1h-1zM198 6h1v1h-1zM198 203h1v1h-1zM198 272h1v1h-1zM199 71h1v1h-1zM199 216h1v1h-1zM199 230h1v1h-1zM200 61h1v1h-1zM200 73h1v1h-1zM200 121h1v1h-1zM201 60h1v1h-1zM201 109h1v4h-1zM201 230h1v1h-1zM202 72h1v1h-1zM202 109h1v1h-1zM202 229h1v1h-1zM203 217h1v1h-1zM204 1h1v1h-1zM204 108h1v2h-1zM205 215h1v1h-1zM206 60h1v1h-1zM206 72h1v1h-1zM207 231h1v1h-1zM207 279h1v1h-1zM208 61h1v1h-1zM208 220h1v1h-1zM208 228h1v2h-1zM209 61h1v1h-1zM209 65h1v1h-1zM209 70h1v1h-1zM209 109h1v1h-1zM209 113h1v1h-1zM209 116h1v1h-1zM209 180h1v1h-1zM209 216h1v1h-1zM210 60h1v1h-1zM210 106h1v1h-1zM211 63h1v1h-1zM211 65h1v1h-1zM211 70h1v1h-1zM211 217h1v1h-1zM212 60h1v1h-1zM212 218h1v1h-1zM212 222h1v1h-1zM213 60h1v1h-1zM213 63h1v1h-1zM213 110h1v1h-1zM213 114h1v2h-1zM214 61h1v1h-1zM214 216h1v1h-1zM214 224h1v1h-1zM214 229h1v1h-1zM215 63h1v1h-1zM215 70h1v1h-1zM215 108h1v2h-1zM217 62h1v1h-1zM217 70h1v1h-1zM217 108h1v1h-1zM217 110h1v1h-1zM218 60h1v2h-1zM219 62h1v1h-1zM219 64h1v1h-1zM219 66h1v1h-1zM220 216h1v1h-1zM220 228h1v1h-1zM221 62h1v1h-1zM221 66h1v1h-1zM221 216h1v1h-1zM221 229h1v1h-1zM222 72h1v1h-1zM222 200h1v1h-1zM223 60h1v1h-1zM223 63h1v1h-1zM223 110h1v1h-1zM223 113h1v1h-1zM223 214h1v1h-1zM225 60h1v1h-1zM225 63h1v1h-1zM225 71h1v1h-1zM225 214h1v1h-1zM225 216h1v1h-1zM225 229h1v2h-1zM226 72h1v1h-1zM226 125h1v1h-1zM226 219h1v1h-1zM226 222h1v1h-1zM226 229h1v1h-1zM227 62h1v2h-1zM227 67h1v1h-1zM227 72h1v1h-1zM227 109h1v1h-1zM227 117h1v1h-1zM227 215h1v1h-1zM227 217h1v1h-1zM227 230h1v1h-1zM229 36h1v2h-1zM229 62h1v1h-1zM229 66h1v2h-1zM229 71h1v1h-1zM229 114h1v1h-1zM229 117h1v1h-1zM231 60h1v2h-1zM231 66h1v1h-1zM231 214h1v1h-1zM236 60h1v1h-1zM236 72h1v1h-1zM237 61h1v1h-1zM237 71h1v1h-1zM237 109h1v2h-1zM237 112h1v1h-1zM237 114h1v1h-1zM237 228h1v1h-1zM238 60h1v1h-1zM238 181h1v1h-1zM239 24h1v1h-1zM239 67h1v1h-1zM239 70h1v2h-1z"/>
<path fill="#9498ca" d="M5 118h1v1h-1zM5 237h1v1h-1zM6 59h1v1h-1zM7 60h1v1h-1zM8 35h1v1h-1zM8 104h1v1h-1zM10 221h1v1h-1zM18 4h1v1h-1zM18 104h1v1h-1zM19 1h1v1h-1zM19 5h1v1h-1zM19 282h1v1h-1zM19 285h1v1h-1zM20 4h1v1h-1zM20 6h1v1h-1zM21 1h1v2h-1zM21 237h1v1h-1zM22 4h1v1h-1zM23 237h1v1h-1zM23 282h1v1h-1zM23 284h1v2h-1zM24 2h1v1h-1zM24 6h1v2h-1zM24 104h1v1h-1zM24 221h1v1h-1zM25 118h1v1h-1zM25 236h1v1h-1zM25 287h1v1h-1zM26 0h1v1h-1zM26 5h1v1h-1zM26 124h1v1h-1zM27 117h1v2h-1zM27 280h1v1h-1zM27 285h1v1h-1zM28 0h1v2h-1zM29 7h1v1h-1zM29 283h1v1h-1zM30 4h1v1h-1zM30 7h1v1h-1zM31 237h1v1h-1zM32 272h1v1h-1zM33 2h1v2h-1zM33 6h1v2h-1zM33 119h1v1h-1zM33 283h1v2h-1zM34 0h1v1h-1zM34 124h1v1h-1zM35 3h1v1h-1zM35 280h1v2h-1zM35 283h1v1h-1zM36 6h1v1h-1zM36 172h1v1h-1zM36 220h1v1h-1zM37 281h1v1h-1zM38 6h1v1h-1zM39 5h1v1h-1zM39 115h1v1h-1zM39 118h1v1h-1zM39 286h1v2h-1zM40 1h1v1h-1zM40 105h1v3h-1zM40 190h1v1h-1zM41 0h1v1h-1zM41 2h1v2h-1zM41 24h1v1h-1zM41 286h1v1h-1zM42 2h1v3h-1zM42 31h1v1h-1zM42 125h1v1h-1zM43 1h1v1h-1zM43 117h1v2h-1zM43 280h1v1h-1zM43 282h1v1h-1zM43 286h1v1h-1zM44 107h1v1h-1zM44 124h1v1h-1zM45 116h1v1h-1zM45 119h1v1h-1zM45 280h1v1h-1zM45 283h1v1h-1zM46 1h1v1h-1zM46 4h1v1h-1zM46 7h1v1h-1zM46 108h1v1h-1zM47 2h1v2h-1zM47 281h1v1h-1zM47 283h1v2h-1zM47 286h1v1h-1zM48 220h1v1h-1zM48 267h1v1h-1zM49 4h1v1h-1zM49 119h1v1h-1zM49 281h1v2h-1zM49 284h1v1h-1zM49 286h1v2h-1zM50 5h1v1h-1zM50 7h1v1h-1zM50 62h1v1h-1zM50 64h1v2h-1zM50 109h1v1h-1zM50 158h1v1h-1zM50 244h1v1h-1zM51 2h1v1h-1zM51 62h1v2h-1zM51 110h1v2h-1zM51 235h1v1h-1zM51 283h1v1h-1zM52 1h1v1h-1zM52 6h1v1h-1zM52 65h1v3h-1zM52 274h1v1h-1zM53 1h1v2h-1zM53 46h1v1h-1zM53 61h1v1h-1zM53 65h1v1h-1zM53 69h1v1h-1zM53 110h1v1h-1zM54 4h1v3h-1zM54 62h1v1h-1zM54 220h1v1h-1zM55 3h1v1h-1zM55 5h1v1h-1zM55 25h1v1h-1zM55 62h1v1h-1zM55 112h1v2h-1zM55 118h1v1h-1zM55 236h1v1h-1zM56 0h1v1h-1zM56 4h1v1h-1zM56 62h1v1h-1zM56 64h1v1h-1zM56 107h1v3h-1zM56 124h1v1h-1zM57 0h1v1h-1zM57 63h1v1h-1zM57 65h1v1h-1zM57 67h1v1h-1zM57 69h1v1h-1zM57 108h1v1h-1zM57 114h1v1h-1zM58 64h1v1h-1zM58 106h1v1h-1zM58 124h1v1h-1zM58 220h1v1h-1zM58 276h1v1h-1zM59 6h1v1h-1zM59 63h1v1h-1zM59 69h1v1h-1zM59 119h1v1h-1zM60 3h1v3h-1zM60 62h1v1h-1zM60 65h1v1h-1zM60 79h1v1h-1zM60 107h1v1h-1zM60 124h1v1h-1zM60 219h1v1h-1zM61 1h1v1h-1zM61 70h1v2h-1zM61 236h1v1h-1zM62 2h1v1h-1zM62 7h1v1h-1zM62 56h1v1h-1zM62 61h1v1h-1zM62 67h1v1h-1zM62 104h1v1h-1zM62 125h1v1h-1zM62 204h1v1h-1zM63 0h1v1h-1zM63 63h1v4h-1zM63 111h1v1h-1zM63 113h1v2h-1zM63 235h1v1h-1zM64 64h1v1h-1zM64 107h1v1h-1zM64 171h1v1h-1zM64 219h1v2h-1zM65 1h1v1h-1zM65 6h1v1h-1zM65 69h1v2h-1zM65 117h1v2h-1zM66 7h1v1h-1zM66 64h1v2h-1zM66 67h1v1h-1zM66 84h1v1h-1zM66 219h1v2h-1zM67 4h1v1h-1zM67 6h1v1h-1zM67 63h1v1h-1zM67 66h1v1h-1zM67 71h1v1h-1zM68 2h1v1h-1zM68 35h1v1h-1zM68 107h1v1h-1zM68 125h1v1h-1zM69 0h1v1h-1zM69 64h1v1h-1zM69 67h1v1h-1zM69 108h1v2h-1zM69 111h1v2h-1zM69 118h1v1h-1zM69 234h1v1h-1zM70 61h1v1h-1zM70 79h1v1h-1zM70 124h1v1h-1zM71 64h1v2h-1zM71 109h1v1h-1zM71 116h1v3h-1zM71 121h1v1h-1zM72 106h1v1h-1zM72 108h1v2h-1zM73 67h1v1h-1zM73 71h1v1h-1zM74 108h1v1h-1zM75 61h1v2h-1zM75 65h1v1h-1zM75 109h1v1h-1zM76 105h1v1h-1zM77 47h1v1h-1zM77 61h1v1h-1zM77 64h1v2h-1zM77 108h1v2h-1zM77 115h1v2h-1zM77 235h1v1h-1zM78 104h1v1h-1zM78 106h1v1h-1zM78 219h1v2h-1zM79 110h1v1h-1zM79 234h1v2h-1zM80 27h1v1h-1zM80 102h1v1h-1zM80 106h1v1h-1zM80 198h1v1h-1zM81 67h1v2h-1zM81 108h1v1h-1zM81 208h1v1h-1zM82 107h1v2h-1zM83 62h1v1h-1zM83 64h1v1h-1zM83 66h1v1h-1zM83 109h1v3h-1zM83 113h1v2h-1zM83 234h1v1h-1zM84 104h1v2h-1zM84 108h1v1h-1zM85 68h1v1h-1zM85 70h1v2h-1zM85 108h1v1h-1zM85 115h1v1h-1zM85 234h1v1h-1zM88 224h1v1h-1zM89 64h1v1h-1zM89 69h1v2h-1zM89 228h1v1h-1zM89 230h1v3h-1zM90 108h1v1h-1zM90 221h1v1h-1zM91 61h1v2h-1zM91 110h1v1h-1zM91 233h1v1h-1zM92 218h1v1h-1zM93 62h1v1h-1zM93 66h1v1h-1zM93 68h1v1h-1zM93 231h1v3h-1zM94 220h1v1h-1zM94 223h1v1h-1zM95 64h1v2h-1zM95 68h1v1h-1zM95 111h1v1h-1zM96 150h1v1h-1zM96 221h1v1h-1zM96 224h1v1h-1zM97 19h1v1h-1zM97 67h1v2h-1zM97 70h1v1h-1zM97 110h1v1h-1zM97 117h1v1h-1zM97 228h1v1h-1zM97 230h1v1h-1zM97 232h1v1h-1zM98 61h1v1h-1zM98 219h1v1h-1zM98 226h1v1h-1zM98 228h1v2h-1zM99 109h1v1h-1zM99 228h1v1h-1zM99 230h1v1h-1zM100 219h1v1h-1zM100 225h1v1h-1zM101 62h1v1h-1zM101 67h1v1h-1zM101 69h1v1h-1zM101 71h1v1h-1zM101 110h1v1h-1zM101 113h1v1h-1zM102 221h1v2h-1zM102 225h1v1h-1zM102 228h1v1h-1zM103 62h1v1h-1zM103 70h1v1h-1zM103 228h1v1h-1zM104 221h1v1h-1zM104 228h1v1h-1zM105 65h1v1h-1zM105 70h1v1h-1zM105 110h1v1h-1zM105 117h1v1h-1zM105 229h1v1h-1zM106 61h1v1h-1zM106 108h1v1h-1zM107 63h1v1h-1zM107 66h1v1h-1zM107 69h1v1h-1zM107 110h1v1h-1zM107 113h1v1h-1zM109 64h1v2h-1zM109 70h1v1h-1zM109 108h1v1h-1zM109 110h1v1h-1zM109 112h1v1h-1zM109 228h1v2h-1zM110 61h1v1h-1zM110 219h1v1h-1zM110 223h1v1h-1zM110 225h1v1h-1zM110 229h1v1h-1zM111 66h1v1h-1zM111 112h1v1h-1zM112 108h1v1h-1zM112 224h1v2h-1zM112 227h1v1h-1zM112 229h1v1h-1zM113 69h1v2h-1zM113 115h1v1h-1zM113 229h1v2h-1zM114 107h1v2h-1zM114 120h1v1h-1zM114 218h1v1h-1zM114 225h1v1h-1zM115 71h1v1h-1zM115 108h1v1h-1zM115 111h1v1h-1zM115 116h1v1h-1zM115 230h1v1h-1zM116 225h1v1h-1zM116 227h1v1h-1zM116 229h1v1h-1zM117 62h1v1h-1zM117 65h1v1h-1zM117 67h1v1h-1zM117 71h1v1h-1zM117 108h1v1h-1zM117 232h1v1h-1zM118 218h1v1h-1zM118 222h1v1h-1zM119 67h1v1h-1zM119 71h1v1h-1zM119 114h1v1h-1zM119 230h1v1h-1zM120 30h1v1h-1zM120 107h1v1h-1zM120 109h1v1h-1zM120 221h1v1h-1zM120 223h1v1h-1zM121 66h1v1h-1zM121 112h1v1h-1zM121 114h1v1h-1zM121 116h1v1h-1zM121 230h1v1h-1zM122 220h1v1h-1zM122 227h1v1h-1zM123 64h1v1h-1zM123 67h1v1h-1zM123 69h1v2h-1zM123 114h1v3h-1zM123 230h1v1h-1zM124 218h1v2h-1zM124 221h1v1h-1zM125 61h1v2h-1zM125 68h1v1h-1zM125 108h1v1h-1zM125 110h1v1h-1zM125 230h1v1h-1zM126 150h1v1h-1zM127 61h1v1h-1zM127 66h1v1h-1zM127 68h1v1h-1zM128 219h1v1h-1zM128 228h1v1h-1zM129 228h1v1h-1zM129 230h1v3h-1zM130 61h1v1h-1zM130 220h1v1h-1zM130 222h1v1h-1zM130 244h1v1h-1zM131 63h1v1h-1zM131 65h1v1h-1zM131 68h1v3h-1zM131 110h1v1h-1zM131 115h1v1h-1zM132 224h1v1h-1zM133 0h1v1h-1zM133 69h1v1h-1zM133 71h1v1h-1zM133 112h1v1h-1zM133 116h1v2h-1zM133 231h1v1h-1zM133 284h1v1h-1zM134 221h1v1h-1zM134 226h1v1h-1zM134 228h1v1h-1zM135 62h1v1h-1zM135 66h1v1h-1zM135 69h1v1h-1zM135 217h1v1h-1zM135 228h1v1h-1zM135 232h1v1h-1zM135 281h1v1h-1zM136 218h1v1h-1zM136 224h1v1h-1zM137 66h1v1h-1zM137 68h1v1h-1zM137 70h1v1h-1zM138 219h1v1h-1zM138 228h1v1h-1zM138 247h1v1h-1zM140 221h1v1h-1zM141 65h1v1h-1zM141 67h1v2h-1zM141 87h1v1h-1zM141 110h1v2h-1zM141 229h1v1h-1zM141 231h1v2h-1zM142 96h1v1h-1zM142 109h1v1h-1zM142 218h1v1h-1zM142 223h1v1h-1zM142 228h1v1h-1zM143 67h1v1h-1zM144 0h1v1h-1zM144 226h1v1h-1zM145 84h1v1h-1zM145 230h1v1h-1zM146 61h1v1h-1zM146 109h1v1h-1zM146 220h1v1h-1zM146 223h1v1h-1zM146 227h1v1h-1zM147 61h1v3h-1zM147 69h1v1h-1zM147 113h1v1h-1zM147 228h1v1h-1zM148 61h1v1h-1zM148 228h1v1h-1zM149 67h1v1h-1zM149 71h1v1h-1zM149 229h1v1h-1zM151 62h1v1h-1zM151 64h1v1h-1zM151 68h1v1h-1zM151 217h1v1h-1zM151 228h1v1h-1zM151 231h1v1h-1zM152 61h1v1h-1zM152 218h1v1h-1zM152 222h1v1h-1zM152 224h1v1h-1zM152 229h1v1h-1zM153 68h1v2h-1zM156 220h1v2h-1zM156 226h1v1h-1zM156 229h1v1h-1zM157 67h1v2h-1zM157 113h1v1h-1zM157 216h1v1h-1zM158 220h1v1h-1zM159 66h1v1h-1zM159 69h1v1h-1zM159 229h1v1h-1zM159 231h1v1h-1zM160 218h1v1h-1zM160 220h1v1h-1zM160 222h1v2h-1zM160 226h1v3h-1zM161 61h1v2h-1zM161 68h1v1h-1zM162 219h1v1h-1zM162 223h1v1h-1zM162 227h1v1h-1zM163 68h1v1h-1zM163 217h1v1h-1zM164 53h1v1h-1zM164 144h1v1h-1zM164 217h1v1h-1zM164 225h1v1h-1zM165 64h1v1h-1zM165 69h1v1h-1zM165 71h1v1h-1zM166 217h1v2h-1zM166 251h1v1h-1zM167 67h1v1h-1zM167 165h1v1h-1zM167 229h1v1h-1zM169 71h1v1h-1zM169 229h1v1h-1zM169 231h1v1h-1zM170 57h1v1h-1zM170 219h1v1h-1zM170 223h1v1h-1zM170 225h1v1h-1zM171 63h1v2h-1zM171 69h1v1h-1zM171 71h1v1h-1zM171 216h1v1h-1zM171 231h1v1h-1zM175 61h1v1h-1zM175 66h1v1h-1zM175 73h1v1h-1zM175 216h1v1h-1zM176 31h1v1h-1zM176 217h1v1h-1zM177 231h1v1h-1zM178 72h1v1h-1zM178 220h1v2h-1zM178 224h1v1h-1zM178 228h1v1h-1zM179 66h1v1h-1zM180 217h1v1h-1zM180 228h1v1h-1zM181 230h1v1h-1zM184 221h1v1h-1zM184 229h1v1h-1zM185 63h1v1h-1zM185 66h1v2h-1zM185 69h1v1h-1zM185 111h1v1h-1zM185 228h1v1h-1zM185 231h1v1h-1zM186 72h1v1h-1zM186 222h1v1h-1zM186 226h1v2h-1zM187 61h1v1h-1zM187 67h1v1h-1zM187 70h1v2h-1zM187 216h1v1h-1zM187 230h1v1h-1zM188 217h1v1h-1zM188 228h1v1h-1zM189 65h1v1h-1zM189 72h1v1h-1zM189 212h1v1h-1zM190 57h1v1h-1zM190 60h1v2h-1zM190 72h1v1h-1zM190 219h1v1h-1zM190 227h1v1h-1zM191 64h1v1h-1zM191 230h1v1h-1zM198 60h1v1h-1zM198 216h1v1h-1zM198 219h1v1h-1zM198 225h1v2h-1zM199 70h1v1h-1zM200 180h1v1h-1zM200 224h1v2h-1zM200 229h1v1h-1zM201 61h1v1h-1zM201 71h1v1h-1zM201 217h1v1h-1zM203 61h1v1h-1zM203 229h1v1h-1zM203 258h1v1h-1zM204 60h1v1h-1zM205 63h1v1h-1zM205 71h1v2h-1zM205 117h1v1h-1zM205 214h1v1h-1zM205 217h1v1h-1zM205 229h1v1h-1zM206 61h1v1h-1zM206 216h1v1h-1zM206 224h1v1h-1zM206 270h1v1h-1zM207 61h1v1h-1zM207 70h1v1h-1zM207 216h1v1h-1zM207 228h1v2h-1zM207 281h1v1h-1zM208 216h1v2h-1zM208 221h1v1h-1zM209 62h1v1h-1zM209 209h1v1h-1zM210 61h1v1h-1zM210 222h1v1h-1zM211 64h1v1h-1zM211 71h1v1h-1zM212 224h1v3h-1zM212 229h1v1h-1zM213 64h1v2h-1zM213 70h1v1h-1zM213 228h1v2h-1zM214 221h1v1h-1zM215 61h1v1h-1zM215 69h1v1h-1zM215 216h1v1h-1zM216 60h1v2h-1zM216 219h1v1h-1zM216 221h1v2h-1zM216 229h1v1h-1zM217 63h1v4h-1zM217 72h1v1h-1zM218 228h1v1h-1zM219 65h1v1h-1zM219 68h1v1h-1zM220 61h1v1h-1zM220 72h1v1h-1zM220 217h1v1h-1zM220 221h1v1h-1zM220 224h1v1h-1zM221 71h1v1h-1zM221 217h1v1h-1zM222 33h1v1h-1zM222 122h1v1h-1zM222 229h1v1h-1zM223 66h1v1h-1zM223 69h1v1h-1zM223 229h1v2h-1zM224 72h1v1h-1zM224 217h1v1h-1zM225 64h1v1h-1zM225 70h1v1h-1zM225 113h1v1h-1zM226 218h1v1h-1zM226 228h1v1h-1zM226 274h1v1h-1zM227 70h1v1h-1zM228 61h1v1h-1zM228 217h1v1h-1zM228 223h1v1h-1zM229 68h1v1h-1zM229 216h1v1h-1zM229 229h1v1h-1zM230 61h1v1h-1zM230 216h1v1h-1zM230 221h1v3h-1zM230 229h1v1h-1zM231 62h1v1h-1zM231 71h1v1h-1zM231 110h1v1h-1zM231 215h1v1h-1zM231 217h1v1h-1zM236 227h1v1h-1zM237 66h1v1h-1zM237 70h1v1h-1zM237 72h1v1h-1zM237 214h1v1h-1zM238 72h1v1h-1zM238 217h1v1h-1zM238 223h1v1h-1zM239 62h1v1h-1zM239 68h1v1h-1z"/>
<path fill="#aaacd6" d="M5 91h1v1h-1zM5 113h1v1h-1zM5 117h1v1h-1zM6 250h1v1h-1zM7 238h1v1h-1zM10 104h1v1h-1zM11 181h1v1h-1zM18 0h1v1h-1zM19 236h1v1h-1zM19 280h1v2h-1zM19 286h1v1h-1zM20 105h1v1h-1zM21 182h1v1h-1zM21 235h1v1h-1zM21 283h1v3h-1zM22 104h1v1h-1zM23 280h1v1h-1zM24 222h1v1h-1zM25 284h1v1h-1zM26 105h1v1h-1zM27 283h1v1h-1zM27 286h1v1h-1zM29 281h1v1h-1zM29 286h1v1h-1zM32 220h1v1h-1zM33 108h1v1h-1zM33 116h1v1h-1zM33 236h1v1h-1zM33 285h1v2h-1zM34 104h1v1h-1zM35 109h1v1h-1zM35 213h1v1h-1zM35 282h1v1h-1zM35 285h1v1h-1zM36 104h1v1h-1zM37 282h1v2h-1zM37 286h1v1h-1zM39 113h1v1h-1zM39 117h1v1h-1zM39 236h1v1h-1zM39 282h1v2h-1zM41 117h1v2h-1zM42 53h1v1h-1zM42 104h1v2h-1zM42 122h1v1h-1zM42 220h1v2h-1zM43 236h1v1h-1zM43 281h1v1h-1zM43 284h1v1h-1zM44 220h1v4h-1zM45 14h1v1h-1zM45 111h1v2h-1zM45 117h1v1h-1zM45 235h1v2h-1zM45 286h1v2h-1zM46 107h1v1h-1zM47 117h1v1h-1zM47 280h1v1h-1zM48 132h1v1h-1zM49 118h1v1h-1zM49 285h1v1h-1zM50 107h1v1h-1zM50 124h1v1h-1zM51 1h1v1h-1zM51 66h1v1h-1zM51 68h1v1h-1zM51 70h1v1h-1zM51 156h1v1h-1zM51 234h1v1h-1zM51 282h1v1h-1zM52 3h1v1h-1zM52 109h1v1h-1zM52 191h1v1h-1zM53 12h1v1h-1zM53 64h1v1h-1zM53 71h1v1h-1zM53 117h1v2h-1zM53 179h1v1h-1zM53 208h1v1h-1zM53 236h1v1h-1zM54 64h1v1h-1zM54 67h1v1h-1zM55 108h1v1h-1zM55 234h1v2h-1zM56 221h1v1h-1zM57 117h1v1h-1zM58 62h1v1h-1zM58 66h1v2h-1zM59 67h1v1h-1zM59 87h1v1h-1zM60 66h1v2h-1zM60 109h1v1h-1zM60 220h1v1h-1zM61 65h1v1h-1zM61 109h1v1h-1zM61 235h1v1h-1zM62 64h1v1h-1zM62 66h1v1h-1zM62 105h1v2h-1zM62 220h1v1h-1zM63 62h1v1h-1zM63 67h1v1h-1zM64 65h1v1h-1zM64 106h1v1h-1zM65 64h1v1h-1zM65 108h1v1h-1zM65 110h1v1h-1zM66 47h1v1h-1zM66 66h1v1h-1zM66 221h1v1h-1zM67 109h1v2h-1zM67 114h1v1h-1zM67 116h1v1h-1zM67 118h1v1h-1zM67 235h1v1h-1zM68 108h1v1h-1zM68 219h1v1h-1zM68 221h1v1h-1zM69 12h1v1h-1zM69 210h1v1h-1zM70 106h1v1h-1zM70 227h1v1h-1zM71 62h1v1h-1zM71 66h1v1h-1zM71 69h1v2h-1zM71 108h1v1h-1zM71 111h1v1h-1zM71 114h1v1h-1zM72 105h1v1h-1zM72 219h1v2h-1zM73 110h1v1h-1zM73 112h1v2h-1zM73 115h1v4h-1zM73 135h1v1h-1zM73 206h1v1h-1zM73 235h1v1h-1zM74 13h1v1h-1zM74 72h1v1h-1zM75 63h1v1h-1zM75 69h1v1h-1zM75 113h1v1h-1zM76 108h1v2h-1zM76 242h1v1h-1zM77 71h1v1h-1zM77 112h1v1h-1zM77 114h1v1h-1zM77 231h1v1h-1zM77 234h1v1h-1zM78 221h1v1h-1zM78 225h1v1h-1zM79 113h1v2h-1zM79 116h1v1h-1zM79 233h1v1h-1zM80 107h1v3h-1zM80 145h1v1h-1zM81 37h1v1h-1zM81 63h1v1h-1zM81 112h1v1h-1zM82 105h1v1h-1zM82 109h1v1h-1zM82 245h1v1h-1zM83 117h1v1h-1zM83 228h1v1h-1zM84 127h1v1h-1zM84 220h1v1h-1zM85 64h1v1h-1zM85 69h1v1h-1zM85 111h1v1h-1zM85 113h1v1h-1zM88 220h1v1h-1zM89 255h1v1h-1zM90 222h1v1h-1zM90 226h1v2h-1zM90 229h1v1h-1zM91 66h1v1h-1zM91 68h1v3h-1zM91 121h1v1h-1zM91 230h1v1h-1zM91 232h1v1h-1zM92 220h1v1h-1zM92 224h1v1h-1zM92 227h1v1h-1zM92 276h1v1h-1zM93 64h1v1h-1zM93 67h1v1h-1zM93 71h1v1h-1zM94 224h1v1h-1zM95 97h1v1h-1zM95 229h1v1h-1zM95 232h1v1h-1zM96 97h1v1h-1zM96 226h1v1h-1zM97 63h1v1h-1zM97 71h1v1h-1zM97 231h1v1h-1zM98 220h1v3h-1zM99 67h1v1h-1zM99 232h1v1h-1zM100 197h1v1h-1zM101 21h1v1h-1zM101 68h1v1h-1zM101 70h1v1h-1zM101 162h1v1h-1zM101 228h1v1h-1zM102 219h1v1h-1zM103 63h1v2h-1zM104 77h1v1h-1zM104 226h1v1h-1zM104 229h1v1h-1zM106 222h1v2h-1zM106 226h1v1h-1zM108 79h1v1h-1zM108 224h1v1h-1zM108 226h1v1h-1zM109 67h1v1h-1zM109 230h1v3h-1zM111 63h1v3h-1zM111 70h1v1h-1zM111 230h1v3h-1zM112 219h1v1h-1zM112 222h1v1h-1zM113 228h1v1h-1zM114 221h1v1h-1zM114 227h1v2h-1zM115 69h1v1h-1zM116 61h1v1h-1zM116 220h1v1h-1zM117 231h1v1h-1zM118 226h1v1h-1zM118 228h1v1h-1zM119 63h1v1h-1zM119 66h1v1h-1zM119 228h1v2h-1zM120 225h1v1h-1zM121 64h1v1h-1zM121 70h1v1h-1zM121 141h1v1h-1zM122 218h1v1h-1zM123 65h1v1h-1zM123 68h1v1h-1zM124 220h1v1h-1zM124 222h1v1h-1zM124 224h1v1h-1zM124 228h1v1h-1zM125 66h1v1h-1zM125 69h1v1h-1zM126 220h1v1h-1zM126 225h1v1h-1zM127 62h1v1h-1zM128 224h1v1h-1zM129 65h1v1h-1zM129 229h1v1h-1zM130 221h1v1h-1zM130 225h1v4h-1zM131 46h1v1h-1zM131 229h1v1h-1zM132 220h1v2h-1zM132 226h1v1h-1zM133 66h1v1h-1zM133 229h1v1h-1zM134 204h1v1h-1zM134 220h1v1h-1zM134 223h1v2h-1zM134 227h1v1h-1zM135 67h1v1h-1zM135 230h1v1h-1zM136 8h1v1h-1zM136 222h1v1h-1zM136 225h1v1h-1zM136 229h1v1h-1zM137 228h1v1h-1zM138 79h1v1h-1zM138 224h1v2h-1zM139 209h1v1h-1zM140 219h1v1h-1zM140 224h1v1h-1zM140 226h1v1h-1zM141 230h1v1h-1zM142 221h1v1h-1zM142 227h1v1h-1zM143 61h1v1h-1zM143 65h1v2h-1zM143 69h1v3h-1zM143 182h1v1h-1zM143 228h1v1h-1zM144 218h1v2h-1zM144 221h1v1h-1zM144 223h1v2h-1zM145 63h1v1h-1zM145 66h1v4h-1zM145 95h1v1h-1zM145 228h1v1h-1zM146 218h1v1h-1zM146 222h1v1h-1zM146 224h1v1h-1zM146 229h1v1h-1zM147 65h1v1h-1zM147 67h1v1h-1zM147 229h1v1h-1zM147 232h1v1h-1zM148 218h1v1h-1zM148 220h1v1h-1zM148 226h1v1h-1zM149 62h1v3h-1zM149 68h1v2h-1zM149 114h1v1h-1zM150 218h1v4h-1zM150 228h1v1h-1zM151 67h1v1h-1zM151 230h1v1h-1zM152 219h1v1h-1zM152 225h1v1h-1zM152 227h1v1h-1zM153 65h1v1h-1zM153 189h1v1h-1zM156 217h1v2h-1zM156 222h1v1h-1zM156 224h1v1h-1zM156 228h1v1h-1zM157 65h1v1h-1zM157 229h1v1h-1zM157 231h1v1h-1zM158 226h1v1h-1zM159 71h1v1h-1zM159 217h1v1h-1zM160 224h1v1h-1zM160 229h1v1h-1zM161 63h1v1h-1zM161 66h1v1h-1zM161 70h1v2h-1zM161 229h1v1h-1zM162 218h1v1h-1zM162 225h1v1h-1zM162 228h1v1h-1zM163 64h1v1h-1zM163 67h1v1h-1zM163 70h1v1h-1zM163 229h1v1h-1zM164 224h1v1h-1zM165 65h1v1h-1zM165 217h1v1h-1zM165 228h1v1h-1zM166 28h1v1h-1zM166 221h1v1h-1zM166 224h1v1h-1zM166 226h1v1h-1zM166 228h1v1h-1zM167 64h1v2h-1zM167 69h1v1h-1zM167 228h1v1h-1zM168 221h1v1h-1zM168 229h1v1h-1zM169 63h1v1h-1zM169 66h1v1h-1zM169 68h1v1h-1zM171 217h1v1h-1zM171 230h1v1h-1zM175 36h1v1h-1zM175 65h1v1h-1zM175 71h1v1h-1zM176 220h1v1h-1zM176 223h1v1h-1zM176 227h1v1h-1zM176 229h1v1h-1zM178 222h1v1h-1zM178 225h1v1h-1zM179 65h1v1h-1zM179 67h1v2h-1zM179 231h1v1h-1zM181 64h1v1h-1zM181 71h1v2h-1zM184 218h1v1h-1zM184 223h1v1h-1zM185 62h1v1h-1zM185 217h1v1h-1zM186 60h1v1h-1zM186 180h1v1h-1zM186 217h1v2h-1zM186 221h1v1h-1zM187 62h1v1h-1zM187 66h1v1h-1zM188 72h1v1h-1zM188 195h1v1h-1zM188 219h1v1h-1zM188 221h1v1h-1zM188 225h1v1h-1zM189 61h1v1h-1zM189 66h1v4h-1zM189 71h1v1h-1zM189 217h1v1h-1zM189 228h1v1h-1zM190 108h1v1h-1zM190 192h1v1h-1zM190 216h1v1h-1zM190 224h1v1h-1zM191 23h1v1h-1zM191 65h1v1h-1zM191 70h1v1h-1zM191 181h1v1h-1zM191 216h1v1h-1zM198 217h1v1h-1zM198 220h1v1h-1zM199 61h1v1h-1zM199 66h1v1h-1zM199 68h1v1h-1zM200 216h1v2h-1zM200 228h1v1h-1zM201 65h1v4h-1zM201 70h1v1h-1zM201 216h1v1h-1zM202 216h1v1h-1zM202 221h1v4h-1zM202 227h1v2h-1zM203 67h1v1h-1zM203 69h1v2h-1zM204 61h1v1h-1zM204 219h1v1h-1zM204 221h1v2h-1zM204 224h1v2h-1zM205 67h1v1h-1zM205 84h1v1h-1zM206 108h1v1h-1zM206 223h1v1h-1zM206 226h1v1h-1zM206 229h1v1h-1zM207 64h1v1h-1zM207 215h1v1h-1zM207 230h1v1h-1zM208 60h1v1h-1zM208 227h1v1h-1zM209 67h1v2h-1zM209 189h1v1h-1zM210 224h1v1h-1zM210 228h1v1h-1zM210 251h1v1h-1zM211 62h1v1h-1zM211 67h1v1h-1zM211 215h1v1h-1zM212 72h1v1h-1zM212 220h1v1h-1zM213 66h1v1h-1zM213 68h1v1h-1zM213 71h1v1h-1zM213 156h1v1h-1zM213 215h1v2h-1zM214 223h1v1h-1zM215 62h1v1h-1zM215 64h1v1h-1zM215 71h1v1h-1zM215 217h1v1h-1zM215 229h1v1h-1zM216 91h1v1h-1zM217 13h1v1h-1zM217 36h1v1h-1zM217 68h1v1h-1zM217 216h1v2h-1zM217 229h1v1h-1zM218 221h1v1h-1zM218 226h1v1h-1zM220 222h1v1h-1zM221 63h1v2h-1zM221 70h1v1h-1zM221 215h1v1h-1zM222 220h1v1h-1zM222 222h1v3h-1zM223 68h1v1h-1zM223 70h1v1h-1zM223 215h1v1h-1zM224 1h1v1h-1zM224 222h1v1h-1zM225 62h1v1h-1zM225 69h1v1h-1zM226 61h1v1h-1zM226 216h1v1h-1zM227 61h1v1h-1zM227 71h1v1h-1zM227 228h1v1h-1zM228 225h1v1h-1zM228 229h1v1h-1zM229 63h1v1h-1zM229 65h1v1h-1zM229 214h1v1h-1zM229 228h1v1h-1zM230 218h1v1h-1zM231 67h1v1h-1zM231 228h1v1h-1zM236 61h1v1h-1zM236 223h1v1h-1zM236 225h1v1h-1zM237 229h1v1h-1zM238 61h1v1h-1zM238 220h1v1h-1zM238 225h1v1h-1zM238 228h1v1h-1zM239 228h1v1h-1z"/>
<path fill="#c3c6e2" d="M5 109h1v2h-1zM5 114h1v2h-1zM6 104h1v1h-1zM7 117h1v1h-1zM8 103h1v1h-1zM11 236h1v1h-1zM18 108h1v1h-1zM18 222h1v2h-1zM19 187h1v1h-1zM19 233h1v1h-1zM20 125h1v1h-1zM23 118h1v1h-1zM23 235h1v1h-1zM24 223h1v1h-1zM24 225h1v2h-1zM24 228h1v1h-1zM25 185h1v1h-1zM25 233h1v1h-1zM25 235h1v1h-1zM26 229h1v1h-1zM27 109h1v1h-1zM27 116h1v1h-1zM27 235h1v2h-1zM28 104h1v1h-1zM28 106h1v1h-1zM28 226h1v1h-1zM29 229h1v1h-1zM29 235h1v1h-1zM31 229h1v1h-1zM33 115h1v1h-1zM33 118h1v1h-1zM33 159h1v1h-1zM33 186h1v1h-1zM34 105h1v1h-1zM34 108h1v1h-1zM35 118h1v1h-1zM37 192h1v1h-1zM39 110h1v1h-1zM40 143h1v1h-1zM40 221h1v1h-1zM40 224h1v1h-1zM41 229h1v1h-1zM42 107h1v1h-1zM42 222h1v1h-1zM43 112h1v1h-1zM44 0h1v1h-1zM44 105h1v2h-1zM44 265h1v1h-1zM45 113h1v1h-1zM46 106h1v1h-1zM47 111h1v1h-1zM47 231h1v1h-1zM48 106h1v2h-1zM49 115h1v3h-1zM49 228h1v1h-1zM49 235h1v1h-1zM50 67h1v1h-1zM50 80h1v1h-1zM50 106h1v1h-1zM51 113h1v1h-1zM51 233h1v1h-1zM52 42h1v1h-1zM52 107h1v1h-1zM53 7h1v1h-1zM53 63h1v1h-1zM53 66h1v1h-1zM53 70h1v1h-1zM53 108h1v2h-1zM53 112h1v1h-1zM53 114h1v2h-1zM54 106h1v1h-1zM54 109h1v1h-1zM55 110h1v1h-1zM55 231h1v1h-1zM55 233h1v1h-1zM56 5h1v1h-1zM56 223h1v1h-1zM57 25h1v1h-1zM57 110h1v1h-1zM58 63h1v1h-1zM58 65h1v1h-1zM59 4h1v1h-1zM59 109h1v1h-1zM59 111h1v1h-1zM59 113h1v2h-1zM59 117h1v1h-1zM59 188h1v1h-1zM60 105h1v1h-1zM62 221h1v1h-1zM63 115h1v2h-1zM63 214h1v1h-1zM63 232h1v1h-1zM63 234h1v1h-1zM64 105h1v1h-1zM64 181h1v1h-1zM64 225h1v1h-1zM66 53h1v1h-1zM67 68h1v1h-1zM67 115h1v1h-1zM67 230h1v1h-1zM68 106h1v1h-1zM68 220h1v1h-1zM68 227h1v2h-1zM69 114h1v2h-1zM71 67h1v1h-1zM71 112h1v1h-1zM71 136h1v1h-1zM71 206h1v1h-1zM71 229h1v2h-1zM71 234h1v1h-1zM72 227h1v1h-1zM73 114h1v1h-1zM74 105h1v1h-1zM74 107h1v1h-1zM74 109h1v1h-1zM74 219h1v1h-1zM75 117h1v1h-1zM75 229h1v1h-1zM75 284h1v1h-1zM76 107h1v1h-1zM76 219h1v1h-1zM76 224h1v1h-1zM76 229h1v1h-1zM77 63h1v1h-1zM77 68h1v2h-1zM78 109h1v1h-1zM78 222h1v1h-1zM78 224h1v1h-1zM79 109h1v1h-1zM79 115h1v1h-1zM79 228h1v1h-1zM80 221h1v1h-1zM81 111h1v1h-1zM81 114h1v1h-1zM82 34h1v1h-1zM82 106h1v1h-1zM83 112h1v1h-1zM84 228h1v1h-1zM85 109h1v1h-1zM85 116h1v2h-1zM89 44h1v1h-1zM89 110h1v1h-1zM90 220h1v1h-1zM90 223h1v1h-1zM91 63h1v2h-1zM91 67h1v1h-1zM91 71h1v1h-1zM92 146h1v1h-1zM93 63h1v1h-1zM93 230h1v1h-1zM94 200h1v1h-1zM94 225h1v1h-1zM95 49h1v1h-1zM95 233h1v1h-1zM96 219h1v2h-1zM96 222h1v1h-1zM97 62h1v1h-1zM97 66h1v1h-1zM97 69h1v1h-1zM98 224h1v1h-1zM100 226h1v1h-1zM101 63h1v1h-1zM101 231h1v2h-1zM102 127h1v1h-1zM102 229h1v1h-1zM103 66h1v3h-1zM103 229h1v1h-1zM104 133h1v1h-1zM104 224h1v1h-1zM105 228h1v1h-1zM106 221h1v1h-1zM107 233h1v1h-1zM107 280h1v1h-1zM108 221h1v1h-1zM111 96h1v1h-1zM112 223h1v1h-1zM113 63h1v1h-1zM113 284h1v1h-1zM114 219h1v1h-1zM114 224h1v1h-1zM114 229h1v1h-1zM115 232h1v1h-1zM116 224h1v1h-1zM116 226h1v1h-1zM117 110h1v1h-1zM117 265h1v1h-1zM118 221h1v1h-1zM118 225h1v1h-1zM118 227h1v1h-1zM119 68h1v1h-1zM120 227h1v1h-1zM121 108h1v1h-1zM121 231h1v1h-1zM122 224h1v1h-1zM122 226h1v1h-1zM122 228h1v1h-1zM123 228h1v1h-1zM123 231h1v1h-1zM124 225h1v1h-1zM125 70h1v1h-1zM125 229h1v1h-1zM126 155h1v1h-1zM126 222h1v1h-1zM126 227h1v1h-1zM127 229h1v1h-1zM128 220h1v2h-1zM130 223h1v1h-1zM132 219h1v1h-1zM132 225h1v1h-1zM132 229h1v1h-1zM133 61h1v1h-1zM133 63h1v3h-1zM133 228h1v1h-1zM135 70h1v1h-1zM135 229h1v1h-1zM136 193h1v1h-1zM138 220h1v1h-1zM138 222h1v1h-1zM138 226h1v2h-1zM139 229h1v1h-1zM140 220h1v1h-1zM140 223h1v1h-1zM141 62h1v3h-1zM142 204h1v1h-1zM142 220h1v1h-1zM142 224h1v1h-1zM142 226h1v1h-1zM143 188h1v1h-1zM145 62h1v1h-1zM145 229h1v1h-1zM145 241h1v1h-1zM146 221h1v1h-1zM146 225h1v1h-1zM147 230h1v2h-1zM148 221h1v1h-1zM148 223h1v2h-1zM148 227h1v1h-1zM149 13h1v1h-1zM149 94h1v1h-1zM150 227h1v1h-1zM151 229h1v1h-1zM152 226h1v1h-1zM152 228h1v1h-1zM153 64h1v1h-1zM153 70h1v1h-1zM153 228h1v1h-1zM156 219h1v1h-1zM156 225h1v1h-1zM158 224h1v1h-1zM159 62h1v2h-1zM160 219h1v1h-1zM161 64h1v1h-1zM161 67h1v1h-1zM162 221h1v2h-1zM162 226h1v1h-1zM162 229h1v1h-1zM163 230h1v1h-1zM165 63h1v1h-1zM165 67h1v1h-1zM165 229h1v1h-1zM167 217h1v1h-1zM168 217h1v1h-1zM168 226h1v1h-1zM169 62h1v1h-1zM169 67h1v1h-1zM169 69h1v1h-1zM169 228h1v1h-1zM170 0h1v1h-1zM170 224h1v1h-1zM170 226h1v2h-1zM171 13h1v1h-1zM175 62h1v1h-1zM175 70h1v1h-1zM175 229h1v2h-1zM176 225h1v1h-1zM178 218h1v1h-1zM179 63h1v1h-1zM179 70h1v2h-1zM180 224h1v2h-1zM181 67h1v1h-1zM181 69h1v1h-1zM184 220h1v1h-1zM184 225h1v1h-1zM184 227h1v1h-1zM185 70h1v1h-1zM185 229h1v2h-1zM186 228h1v1h-1zM187 68h1v1h-1zM187 85h1v1h-1zM189 229h1v1h-1zM189 262h1v1h-1zM190 221h1v1h-1zM190 228h1v1h-1zM191 62h1v1h-1zM191 69h1v1h-1zM191 228h1v2h-1zM198 221h1v1h-1zM198 223h1v1h-1zM198 227h1v2h-1zM199 229h1v1h-1zM200 223h1v1h-1zM200 226h1v1h-1zM201 62h1v2h-1zM201 228h1v1h-1zM202 154h1v1h-1zM203 62h1v1h-1zM203 68h1v1h-1zM203 71h1v1h-1zM203 216h1v1h-1zM204 220h1v1h-1zM205 61h1v1h-1zM205 66h1v1h-1zM205 68h1v1h-1zM205 216h1v1h-1zM206 33h1v1h-1zM206 218h1v1h-1zM206 220h1v3h-1zM206 225h1v1h-1zM206 227h1v2h-1zM207 45h1v1h-1zM207 66h1v1h-1zM207 71h1v1h-1zM207 217h1v1h-1zM208 224h1v2h-1zM209 229h1v1h-1zM210 216h1v1h-1zM210 218h1v1h-1zM210 226h1v1h-1zM211 66h1v1h-1zM211 216h1v1h-1zM211 228h1v2h-1zM212 216h1v2h-1zM212 223h1v1h-1zM213 61h1v2h-1zM213 67h1v1h-1zM214 219h1v1h-1zM214 225h1v1h-1zM214 228h1v1h-1zM215 65h1v2h-1zM216 217h1v1h-1zM217 7h1v1h-1zM217 61h1v1h-1zM217 67h1v1h-1zM217 71h1v1h-1zM217 228h1v1h-1zM218 225h1v1h-1zM218 229h1v1h-1zM219 217h1v1h-1zM219 229h1v1h-1zM220 218h1v1h-1zM220 227h1v1h-1zM221 68h1v1h-1zM222 177h1v1h-1zM222 216h1v1h-1zM222 227h1v2h-1zM223 61h1v1h-1zM223 96h1v1h-1zM224 203h1v1h-1zM224 218h1v1h-1zM225 65h1v1h-1zM225 68h1v1h-1zM225 215h1v1h-1zM225 217h1v1h-1zM225 228h1v1h-1zM226 217h1v1h-1zM226 227h1v1h-1zM227 68h1v2h-1zM228 161h1v1h-1zM228 219h1v1h-1zM228 226h1v3h-1zM229 69h1v1h-1zM229 215h1v1h-1zM230 75h1v1h-1zM230 220h1v1h-1zM230 224h1v3h-1zM231 63h1v1h-1zM236 224h1v1h-1zM238 219h1v1h-1zM238 222h1v1h-1zM239 64h1v1h-1zM239 66h1v1h-1zM239 69h1v1h-1zM239 216h1v1h-1zM239 253h1v1h-1z"/>
<path fill="#dcdeee" d="M5 111h1v1h-1zM7 88h1v1h-1zM7 118h1v1h-1zM10 54h1v1h-1zM10 109h1v1h-1zM10 220h1v1h-1zM11 108h1v2h-1zM11 118h1v1h-1zM11 237h1v1h-1zM19 228h1v1h-1zM19 235h1v1h-1zM20 153h1v1h-1zM20 221h1v1h-1zM20 229h1v1h-1zM21 118h1v1h-1zM22 160h1v1h-1zM22 204h1v1h-1zM22 223h1v1h-1zM22 227h1v1h-1zM23 111h1v1h-1zM24 100h1v1h-1zM24 105h1v1h-1zM24 227h1v1h-1zM25 113h1v1h-1zM25 228h1v1h-1zM26 226h1v1h-1zM27 115h1v1h-1zM27 231h1v1h-1zM28 224h1v2h-1zM30 221h1v1h-1zM31 2h1v1h-1zM31 265h1v1h-1zM32 224h1v1h-1zM33 110h1v1h-1zM33 113h1v1h-1zM33 231h1v1h-1zM34 81h1v1h-1zM34 221h1v1h-1zM36 105h1v1h-1zM36 221h1v1h-1zM36 229h1v1h-1zM37 45h1v1h-1zM37 285h1v1h-1zM39 108h1v1h-1zM39 111h1v2h-1zM39 234h1v1h-1zM41 110h1v1h-1zM41 178h1v1h-1zM42 108h1v2h-1zM42 228h1v1h-1zM43 113h1v1h-1zM43 231h1v1h-1zM43 235h1v1h-1zM44 182h1v1h-1zM45 114h1v1h-1zM45 234h1v1h-1zM46 220h1v1h-1zM46 226h1v1h-1zM46 246h1v1h-1zM47 109h1v2h-1zM47 116h1v1h-1zM47 233h1v1h-1zM48 54h1v1h-1zM48 108h1v1h-1zM48 221h1v1h-1zM49 229h1v1h-1zM50 108h1v1h-1zM50 220h1v1h-1zM50 226h1v1h-1zM50 229h1v1h-1zM51 117h1v1h-1zM51 228h1v1h-1zM52 105h1v2h-1zM52 220h1v1h-1zM52 228h1v1h-1zM53 18h1v1h-1zM53 62h1v1h-1zM53 111h1v1h-1zM53 116h1v1h-1zM53 235h1v1h-1zM54 107h1v1h-1zM54 226h1v1h-1zM55 111h1v1h-1zM55 114h1v1h-1zM55 151h1v1h-1zM56 220h1v1h-1zM56 228h1v1h-1zM57 109h1v1h-1zM57 112h1v1h-1zM57 115h1v1h-1zM57 230h1v1h-1zM57 234h1v2h-1zM58 223h1v1h-1zM58 227h1v1h-1zM59 115h1v1h-1zM60 106h1v1h-1zM60 223h1v1h-1zM60 227h1v1h-1zM60 229h1v1h-1zM61 115h1v2h-1zM61 214h1v1h-1zM61 231h1v1h-1zM62 228h1v2h-1zM63 117h1v1h-1zM64 176h1v1h-1zM65 111h1v1h-1zM65 116h1v1h-1zM65 228h1v3h-1zM65 234h1v1h-1zM66 107h1v2h-1zM66 223h1v1h-1zM66 225h1v1h-1zM67 111h1v1h-1zM67 228h1v1h-1zM67 231h1v1h-1zM68 229h1v1h-1zM69 117h1v1h-1zM69 232h1v2h-1zM70 109h1v1h-1zM70 220h1v2h-1zM70 228h1v1h-1zM71 113h1v1h-1zM72 224h1v1h-1zM72 226h1v1h-1zM73 234h1v1h-1zM74 106h1v1h-1zM74 229h1v1h-1zM75 110h1v1h-1zM75 112h1v1h-1zM75 114h1v1h-1zM75 116h1v1h-1zM75 234h1v1h-1zM76 221h1v1h-1zM76 226h1v1h-1zM77 110h1v2h-1zM77 113h1v1h-1zM77 117h1v1h-1zM77 230h1v1h-1zM78 226h1v2h-1zM80 24h1v1h-1zM81 109h1v2h-1zM81 233h1v1h-1zM82 104h1v1h-1zM82 224h1v1h-1zM83 115h1v2h-1zM83 233h1v1h-1zM83 252h1v1h-1zM84 107h1v1h-1zM84 109h1v1h-1zM84 221h1v2h-1zM84 229h1v1h-1zM85 232h1v1h-1zM88 219h1v1h-1zM88 221h1v1h-1zM88 225h1v4h-1zM90 224h1v1h-1zM91 65h1v1h-1zM92 34h1v1h-1zM92 221h1v2h-1zM92 228h1v2h-1zM92 242h1v1h-1zM93 228h1v1h-1zM94 96h1v1h-1zM95 230h1v2h-1zM96 228h1v1h-1zM97 65h1v1h-1zM97 229h1v1h-1zM98 227h1v1h-1zM101 229h1v1h-1zM102 220h1v1h-1zM102 224h1v1h-1zM102 227h1v1h-1zM103 204h1v1h-1zM103 230h1v2h-1zM104 220h1v1h-1zM104 225h1v1h-1zM104 227h1v1h-1zM105 230h1v2h-1zM106 225h1v1h-1zM106 228h1v2h-1zM108 222h1v1h-1zM108 225h1v1h-1zM108 227h1v1h-1zM110 222h1v1h-1zM110 228h1v1h-1zM111 115h1v1h-1zM112 220h1v1h-1zM112 226h1v1h-1zM112 228h1v1h-1zM114 220h1v1h-1zM114 222h1v2h-1zM114 226h1v1h-1zM115 65h1v1h-1zM115 229h1v1h-1zM116 221h1v1h-1zM116 228h1v1h-1zM117 228h1v1h-1zM118 223h1v1h-1zM120 220h1v1h-1zM120 224h1v1h-1zM120 228h1v1h-1zM121 228h1v1h-1zM122 85h1v1h-1zM123 213h1v1h-1zM124 223h1v1h-1zM124 226h1v2h-1zM125 65h1v1h-1zM125 228h1v1h-1zM125 231h1v1h-1zM126 221h1v1h-1zM126 223h1v1h-1zM127 18h1v1h-1zM127 228h1v1h-1zM127 230h1v1h-1zM128 226h1v1h-1zM130 229h1v1h-1zM132 228h1v1h-1zM135 65h1v1h-1zM135 231h1v1h-1zM136 220h1v2h-1zM138 221h1v1h-1zM138 223h1v1h-1zM139 236h1v1h-1zM141 228h1v1h-1zM144 222h1v1h-1zM144 228h1v1h-1zM146 228h1v1h-1zM148 222h1v1h-1zM148 229h1v1h-1zM149 16h1v1h-1zM150 224h1v1h-1zM150 229h1v1h-1zM152 100h1v1h-1zM153 229h1v1h-1zM157 228h1v1h-1zM158 219h1v1h-1zM158 223h1v1h-1zM159 230h1v1h-1zM160 225h1v1h-1zM162 220h1v1h-1zM164 29h1v1h-1zM164 219h1v1h-1zM164 221h1v1h-1zM164 223h1v1h-1zM164 229h1v1h-1zM165 230h1v1h-1zM166 219h1v1h-1zM166 222h1v1h-1zM166 229h1v1h-1zM167 230h1v1h-1zM168 219h1v2h-1zM168 224h1v1h-1zM168 227h1v1h-1zM169 42h1v1h-1zM169 65h1v1h-1zM170 218h1v1h-1zM170 222h1v1h-1zM170 228h1v1h-1zM171 180h1v1h-1zM171 229h1v1h-1zM175 64h1v1h-1zM176 61h1v1h-1zM176 219h1v1h-1zM176 226h1v1h-1zM177 61h1v1h-1zM177 63h1v1h-1zM177 65h1v1h-1zM177 69h1v3h-1zM177 217h1v1h-1zM177 230h1v1h-1zM178 61h1v1h-1zM178 223h1v1h-1zM179 69h1v1h-1zM179 217h1v1h-1zM179 229h1v1h-1zM180 124h1v1h-1zM180 219h1v1h-1zM180 223h1v1h-1zM180 227h1v1h-1zM180 229h1v1h-1zM181 61h1v1h-1zM181 65h1v1h-1zM181 68h1v1h-1zM181 70h1v1h-1zM181 140h1v1h-1zM181 229h1v1h-1zM184 177h1v1h-1zM184 217h1v1h-1zM184 222h1v1h-1zM184 224h1v1h-1zM185 45h1v1h-1zM185 64h1v1h-1zM185 136h1v1h-1zM186 61h1v1h-1zM186 223h1v1h-1zM187 64h1v1h-1zM187 69h1v1h-1zM187 217h1v1h-1zM188 61h1v1h-1zM188 216h1v1h-1zM188 222h1v1h-1zM188 245h1v1h-1zM189 63h1v2h-1zM189 70h1v1h-1zM190 217h1v1h-1zM190 225h1v2h-1zM198 61h1v1h-1zM199 62h1v1h-1zM199 64h1v1h-1zM199 67h1v1h-1zM199 228h1v1h-1zM200 221h1v2h-1zM201 64h1v1h-1zM201 69h1v1h-1zM202 218h1v1h-1zM202 220h1v1h-1zM203 63h1v1h-1zM203 228h1v1h-1zM204 100h1v1h-1zM204 223h1v1h-1zM204 228h1v2h-1zM205 165h1v1h-1zM205 228h1v1h-1zM207 65h1v1h-1zM207 68h1v1h-1zM208 25h1v1h-1zM208 218h1v2h-1zM209 228h1v1h-1zM210 220h1v1h-1zM210 225h1v1h-1zM210 227h1v1h-1zM212 219h1v1h-1zM212 221h1v1h-1zM212 228h1v1h-1zM213 217h1v1h-1zM214 220h1v1h-1zM214 227h1v1h-1zM215 67h1v1h-1zM216 216h1v1h-1zM216 226h1v2h-1zM217 69h1v1h-1zM218 216h1v1h-1zM218 219h1v1h-1zM218 222h1v1h-1zM219 215h1v1h-1zM220 220h1v1h-1zM220 225h1v1h-1zM221 91h1v1h-1zM221 228h1v1h-1zM222 219h1v1h-1zM222 221h1v1h-1zM223 62h1v1h-1zM223 64h1v2h-1zM223 67h1v1h-1zM223 228h1v1h-1zM224 61h1v1h-1zM224 226h1v1h-1zM225 66h1v2h-1zM226 156h1v1h-1zM226 221h1v1h-1zM226 224h1v2h-1zM227 64h1v3h-1zM228 55h1v1h-1zM228 221h1v1h-1zM228 224h1v1h-1zM229 64h1v1h-1zM229 256h1v1h-1zM230 219h1v1h-1zM230 228h1v1h-1zM231 69h1v1h-1zM236 219h1v1h-1zM237 62h1v2h-1zM237 69h1v1h-1zM237 215h1v1h-1zM238 25h1v1h-1zM238 216h1v1h-1zM239 48h1v1h-1z"/>
<path fill="#ffffff" d="M5 108h1v1h-1zM5 112h1v1h-1zM5 236h1v1h-1zM6 221h1v1h-1zM7 113h1v1h-1zM7 235h1v1h-1zM8 221h1v2h-1zM11 113h1v1h-1zM18 105h1v1h-1zM19 116h1v1h-1zM19 118h1v1h-1zM19 229h1v1h-1zM20 79h1v1h-1zM20 109h1v1h-1zM20 222h1v1h-1zM21 113h1v1h-1zM22 198h1v1h-1zM22 225h1v1h-1zM22 228h1v1h-1zM23 109h1v1h-1zM23 115h1v1h-1zM23 236h1v1h-1zM24 229h1v1h-1zM24 249h1v1h-1zM25 109h1v1h-1zM25 234h1v1h-1zM26 108h1v1h-1zM26 228h1v1h-1zM27 110h1v1h-1zM28 227h1v2h-1zM29 230h1v1h-1zM30 229h1v1h-1zM31 228h1v1h-1zM31 232h1v1h-1zM32 196h1v1h-1zM32 221h1v1h-1zM32 225h1v1h-1zM33 109h1v1h-1zM33 111h1v1h-1zM34 107h1v1h-1zM34 109h1v1h-1zM34 224h1v2h-1zM35 94h1v1h-1zM35 115h1v1h-1zM35 231h1v1h-1zM36 108h1v2h-1zM37 109h1v2h-1zM37 116h1v1h-1zM37 189h1v1h-1zM38 105h1v2h-1zM38 222h1v1h-1zM38 229h1v1h-1zM39 87h1v1h-1zM39 109h1v1h-1zM39 116h1v1h-1zM39 228h1v1h-1zM39 233h1v1h-1zM39 235h1v1h-1zM40 222h1v1h-1zM41 109h1v1h-1zM41 111h1v2h-1zM41 114h1v1h-1zM41 116h1v1h-1zM41 230h1v1h-1zM41 235h1v1h-1zM42 225h1v1h-1zM43 109h1v1h-1zM43 114h1v3h-1zM44 228h1v1h-1zM46 105h1v1h-1zM46 109h1v1h-1zM47 114h1v2h-1zM47 118h1v1h-1zM47 228h1v1h-1zM48 109h1v1h-1zM48 224h1v1h-1zM48 229h1v1h-1zM49 112h1v1h-1zM49 217h1v1h-1zM50 223h1v1h-1zM50 268h1v1h-1zM51 109h1v1h-1zM51 112h1v1h-1zM51 232h1v1h-1zM51 241h1v1h-1zM52 171h1v1h-1zM52 221h1v1h-1zM52 223h1v1h-1zM53 113h1v1h-1zM53 147h1v1h-1zM53 228h1v1h-1zM53 233h1v1h-1zM54 222h1v1h-1zM55 115h1v1h-1zM55 140h1v1h-1zM55 228h1v2h-1zM56 106h1v1h-1zM57 113h1v1h-1zM57 155h1v1h-1zM57 228h1v1h-1zM58 229h1v1h-1zM59 56h1v1h-1zM59 110h1v1h-1zM59 112h1v1h-1zM59 116h1v1h-1zM59 235h1v1h-1zM60 221h1v1h-1zM60 224h1v1h-1zM60 226h1v1h-1zM61 110h1v1h-1zM61 117h1v1h-1zM62 107h1v3h-1zM63 108h1v1h-1zM64 108h1v2h-1zM64 156h1v1h-1zM64 221h1v1h-1zM65 112h1v2h-1zM67 117h1v1h-1zM67 186h1v1h-1zM69 41h1v1h-1zM69 113h1v1h-1zM69 228h1v2h-1zM70 107h1v2h-1zM70 223h1v1h-1zM70 226h1v1h-1zM71 110h1v1h-1zM71 115h1v1h-1zM71 232h1v1h-1zM73 111h1v1h-1zM74 147h1v1h-1zM74 220h1v1h-1zM74 222h1v1h-1zM75 108h1v1h-1zM76 84h1v1h-1zM76 222h1v1h-1zM77 229h1v1h-1zM77 233h1v1h-1zM78 107h1v2h-1zM78 229h1v1h-1zM79 112h1v1h-1zM79 117h1v1h-1zM80 152h1v1h-1zM80 216h1v1h-1zM80 220h1v1h-1zM81 230h1v2h-1zM82 222h1v1h-1zM82 227h1v1h-1zM85 228h1v2h-1zM85 233h1v1h-1zM88 222h1v1h-1zM88 229h1v1h-1zM90 228h1v1h-1zM92 102h1v1h-1zM92 223h1v1h-1zM95 67h1v1h-1zM96 223h1v1h-1zM99 64h1v1h-1zM102 52h1v1h-1zM102 226h1v1h-1zM104 36h1v1h-1zM104 222h1v1h-1zM106 220h1v1h-1zM106 224h1v1h-1zM111 229h1v1h-1zM115 66h1v1h-1zM115 228h1v1h-1zM115 231h1v1h-1zM116 222h1v2h-1zM118 224h1v1h-1zM122 225h1v1h-1zM124 154h1v1h-1zM125 63h1v1h-1zM130 224h1v1h-1zM131 91h1v1h-1zM136 228h1v1h-1zM136 249h1v1h-1zM137 41h1v1h-1zM140 55h1v1h-1zM140 148h1v1h-1zM140 225h1v1h-1zM142 97h1v1h-1zM144 85h1v1h-1zM144 220h1v1h-1zM144 225h1v1h-1zM144 229h1v1h-1zM147 265h1v1h-1zM148 219h1v1h-1zM148 225h1v1h-1zM150 222h1v1h-1zM151 39h1v1h-1zM151 252h1v1h-1zM152 221h1v1h-1zM152 223h1v1h-1zM153 41h1v1h-1zM157 230h1v1h-1zM158 218h1v1h-1zM158 222h1v1h-1zM162 224h1v1h-1zM164 222h1v1h-1zM164 228h1v1h-1zM166 223h1v1h-1zM166 225h1v1h-1zM168 218h1v1h-1zM170 221h1v1h-1zM175 63h1v1h-1zM175 67h1v2h-1zM175 94h1v1h-1zM175 217h1v1h-1zM175 228h1v1h-1zM176 200h1v1h-1zM177 62h1v1h-1zM177 67h1v2h-1zM177 229h1v1h-1zM178 219h1v1h-1zM178 226h1v2h-1zM179 62h1v1h-1zM179 64h1v1h-1zM179 228h1v1h-1zM180 220h1v1h-1zM180 222h1v1h-1zM186 144h1v1h-1zM186 219h1v2h-1zM186 224h1v1h-1zM186 229h1v1h-1zM187 228h1v2h-1zM188 218h1v1h-1zM188 223h1v2h-1zM188 227h1v1h-1zM190 220h1v1h-1zM190 223h1v1h-1zM190 229h1v1h-1zM191 13h1v1h-1zM191 63h1v1h-1zM191 66h1v1h-1zM191 68h1v1h-1zM191 217h1v1h-1zM198 218h1v1h-1zM198 222h1v1h-1zM198 224h1v1h-1zM199 63h1v1h-1zM200 172h1v1h-1zM200 220h1v1h-1zM201 229h1v1h-1zM202 151h1v1h-1zM203 64h1v3h-1zM204 98h1v1h-1zM204 216h1v2h-1zM207 62h1v1h-1zM207 69h1v1h-1zM208 222h1v2h-1zM208 226h1v1h-1zM209 217h1v1h-1zM210 221h1v1h-1zM210 229h1v1h-1zM211 19h1v1h-1zM212 61h1v1h-1zM213 6h1v1h-1zM214 97h1v1h-1zM214 218h1v1h-1zM214 222h1v1h-1zM215 85h1v1h-1zM215 228h1v1h-1zM216 223h1v1h-1zM216 228h1v1h-1zM218 50h1v1h-1zM218 218h1v1h-1zM218 224h1v1h-1zM218 227h1v1h-1zM219 136h1v1h-1zM219 216h1v1h-1zM219 228h1v1h-1zM220 219h1v1h-1zM220 223h1v1h-1zM222 218h1v1h-1zM222 225h1v2h-1zM223 216h1v1h-1zM224 228h1v1h-1zM225 18h1v1h-1zM226 220h1v1h-1zM226 223h1v1h-1zM226 226h1v1h-1zM227 216h1v1h-1zM228 216h1v1h-1zM228 218h1v1h-1zM228 220h1v1h-1zM230 227h1v1h-1zM231 64h1v1h-1zM231 68h1v1h-1zM231 70h1v1h-1zM236 216h1v1h-1zM236 218h1v1h-1zM236 220h1v1h-1zM236 228h1v1h-1zM237 65h1v1h-1zM237 67h1v1h-1zM238 218h1v1h-1zM238 227h1v1h-1zM238 268h1v1h-1zM239 215h1v1h-1zM239 217h1v1h-1z"/>
<path fill="#f8e6e7" d="M5 231h1v1h-1zM6 222h1v2h-1zM7 111h1v1h-1zM7 116h1v1h-1zM8 108h1v1h-1zM11 114h1v1h-1zM18 106h1v2h-1zM18 227h1v1h-1zM19 110h1v1h-1zM19 117h1v1h-1zM22 106h1v1h-1zM22 108h1v1h-1zM22 224h1v1h-1zM23 116h1v1h-1zM23 230h1v1h-1zM24 106h1v2h-1zM25 116h1v1h-1zM26 225h1v1h-1zM27 111h1v1h-1zM27 228h1v1h-1zM28 109h1v1h-1zM28 229h1v1h-1zM30 227h1v1h-1zM31 231h1v1h-1zM31 235h1v1h-1zM33 117h1v1h-1zM34 222h1v1h-1zM35 232h1v2h-1zM35 235h1v1h-1zM36 223h1v1h-1zM37 232h1v1h-1zM37 235h1v1h-1zM38 108h1v1h-1zM38 221h1v1h-1zM38 224h1v1h-1zM38 228h1v1h-1zM39 114h1v1h-1zM40 223h1v1h-1zM40 227h1v2h-1zM41 228h1v1h-1zM41 231h1v1h-1zM41 285h1v1h-1zM42 223h1v1h-1zM43 110h1v1h-1zM43 230h1v1h-1zM44 108h1v1h-1zM44 224h1v1h-1zM45 108h1v2h-1zM45 115h1v1h-1zM45 229h1v1h-1zM46 227h1v1h-1zM47 112h1v1h-1zM47 230h1v1h-1zM48 227h1v1h-1zM49 283h1v1h-1zM50 224h1v1h-1zM51 108h1v1h-1zM51 114h1v1h-1zM51 116h1v1h-1zM51 230h1v1h-1zM54 227h1v1h-1zM55 109h1v1h-1zM55 230h1v1h-1zM55 232h1v1h-1zM57 111h1v1h-1zM57 116h1v1h-1zM57 229h1v1h-1zM58 107h1v1h-1zM58 109h1v1h-1zM59 232h1v1h-1zM60 222h1v1h-1zM61 112h1v2h-1zM61 229h1v1h-1zM62 226h1v2h-1zM63 109h1v2h-1zM64 222h1v2h-1zM64 226h1v2h-1zM65 114h1v1h-1zM65 231h1v1h-1zM66 106h1v1h-1zM66 109h1v1h-1zM66 224h1v1h-1zM66 229h1v1h-1zM67 112h1v2h-1zM67 234h1v1h-1zM68 222h1v2h-1zM69 110h1v1h-1zM70 222h1v1h-1zM70 225h1v1h-1zM71 231h1v1h-1zM72 221h1v2h-1zM72 225h1v1h-1zM72 228h1v1h-1zM73 233h1v1h-1zM74 224h1v1h-1zM74 227h1v1h-1zM75 115h1v1h-1zM75 228h1v1h-1zM75 233h1v1h-1zM76 220h1v1h-1zM76 223h1v1h-1zM76 225h1v1h-1zM76 227h1v1h-1zM78 223h1v1h-1zM79 108h1v1h-1zM79 111h1v1h-1zM80 225h1v1h-1zM83 229h1v2h-1zM84 106h1v1h-1zM84 219h1v1h-1zM84 223h1v1h-1zM84 227h1v1h-1zM85 63h1v1h-1zM91 229h1v1h-1zM140 228h1v1h-1zM158 221h1v1h-1zM158 227h1v1h-1zM166 220h1v1h-1zM166 227h1v1h-1zM168 222h1v2h-1zM168 225h1v1h-1zM168 228h1v1h-1zM170 220h1v1h-1zM170 229h1v1h-1zM171 228h1v1h-1zM175 69h1v1h-1zM177 64h1v1h-1zM177 66h1v1h-1zM180 218h1v1h-1zM180 221h1v1h-1zM180 226h1v1h-1zM181 62h1v2h-1zM181 66h1v1h-1zM188 220h1v1h-1zM188 226h1v1h-1zM188 229h1v1h-1zM189 62h1v1h-1zM190 222h1v1h-1zM199 65h1v1h-1zM199 69h1v1h-1zM200 218h1v1h-1zM202 217h1v1h-1zM202 219h1v1h-1zM202 225h1v2h-1zM204 226h1v1h-1zM205 62h1v1h-1zM205 64h1v1h-1zM205 69h1v2h-1zM206 217h1v1h-1zM206 219h1v1h-1zM207 63h1v1h-1zM207 67h1v1h-1zM212 227h1v1h-1zM214 217h1v1h-1zM216 218h1v1h-1zM216 220h1v1h-1zM216 225h1v1h-1zM218 217h1v1h-1zM218 220h1v1h-1zM218 223h1v1h-1zM219 69h1v1h-1zM221 67h1v1h-1zM222 217h1v1h-1zM224 216h1v1h-1zM224 219h1v2h-1zM224 224h1v2h-1zM224 227h1v1h-1zM228 222h1v1h-1zM229 217h1v1h-1zM231 65h1v1h-1zM236 217h1v1h-1zM236 222h1v1h-1zM236 226h1v1h-1zM237 68h1v1h-1zM237 216h1v1h-1zM238 221h1v1h-1zM238 224h1v1h-1zM238 226h1v1h-1z"/>
<path fill="#f5d2d4" d="M5 116h1v1h-1zM5 232h1v1h-1zM6 225h1v1h-1zM7 109h1v1h-1zM7 112h1v1h-1zM7 114h1v1h-1zM7 236h1v1h-1zM8 105h1v1h-1zM8 224h1v1h-1zM8 226h1v1h-1zM8 228h1v1h-1zM10 105h1v2h-1zM11 112h1v1h-1zM11 115h1v1h-1zM19 108h1v1h-1zM19 234h1v1h-1zM20 106h1v2h-1zM20 223h1v1h-1zM20 226h1v1h-1zM21 111h1v2h-1zM21 229h1v1h-1zM21 232h1v1h-1zM22 105h1v1h-1zM22 107h1v1h-1zM23 114h1v1h-1zM23 231h1v1h-1zM24 108h1v1h-1zM24 224h1v1h-1zM25 230h1v2h-1zM27 114h1v1h-1zM28 105h1v1h-1zM28 223h1v1h-1zM30 225h1v1h-1zM32 222h1v1h-1zM33 229h1v1h-1zM34 227h1v1h-1zM35 111h1v1h-1zM35 117h1v1h-1zM35 229h1v1h-1zM36 107h1v1h-1zM37 108h1v1h-1zM37 111h1v2h-1zM38 223h1v1h-1zM38 226h1v1h-1zM39 229h1v1h-1zM40 108h1v2h-1zM40 229h1v1h-1zM41 108h1v1h-1zM41 233h1v1h-1zM43 111h1v1h-1zM44 109h1v1h-1zM45 110h1v1h-1zM47 234h1v1h-1zM48 223h1v1h-1zM49 108h1v2h-1zM49 230h1v1h-1zM50 228h1v1h-1zM51 229h1v1h-1zM52 108h1v1h-1zM52 226h1v1h-1zM52 229h1v1h-1zM53 229h1v1h-1zM54 108h1v1h-1zM56 222h1v1h-1zM56 224h1v2h-1zM58 108h1v1h-1zM58 221h1v1h-1zM58 228h1v1h-1zM59 108h1v1h-1zM59 230h1v1h-1zM59 234h1v1h-1zM60 108h1v1h-1zM61 230h1v1h-1zM63 112h1v1h-1zM63 228h1v1h-1zM63 233h1v1h-1zM65 232h1v1h-1zM66 226h1v2h-1zM67 108h1v1h-1zM67 229h1v1h-1zM67 232h1v1h-1zM68 224h1v1h-1zM69 116h1v1h-1zM70 229h1v1h-1zM73 108h1v2h-1zM74 226h1v1h-1zM75 231h1v1h-1zM80 226h1v1h-1zM82 220h1v1h-1zM82 228h1v1h-1zM83 232h1v1h-1zM92 225h1v1h-1zM118 220h1v1h-1zM126 229h1v1h-1zM128 222h1v1h-1zM128 229h1v1h-1zM147 64h1v1h-1zM177 228h1v1h-1zM200 219h1v1h-1zM200 227h1v1h-1zM204 218h1v1h-1zM204 227h1v1h-1zM205 65h1v1h-1zM210 219h1v1h-1zM210 223h1v1h-1zM213 69h1v1h-1zM230 217h1v1h-1zM231 216h1v1h-1zM237 217h1v1h-1z"/>
<path fill="#f2bec0" d="M5 229h1v1h-1zM6 224h1v1h-1zM6 228h1v2h-1zM7 233h1v1h-1zM8 229h1v1h-1zM10 224h1v1h-1zM10 228h1v1h-1zM11 110h1v1h-1zM11 117h1v1h-1zM18 224h1v1h-1zM18 226h1v1h-1zM19 111h1v1h-1zM19 115h1v1h-1zM20 224h1v1h-1zM21 108h1v3h-1zM21 117h1v1h-1zM21 228h1v1h-1zM21 234h1v1h-1zM22 109h1v1h-1zM22 222h1v1h-1zM23 117h1v1h-1zM25 115h1v1h-1zM25 117h1v1h-1zM26 106h1v1h-1zM26 109h1v1h-1zM27 108h1v1h-1zM27 112h1v1h-1zM27 230h1v1h-1zM28 222h1v1h-1zM29 234h1v1h-1zM31 233h1v1h-1zM32 223h1v1h-1zM33 112h1v1h-1zM33 235h1v1h-1zM34 106h1v1h-1zM34 223h1v1h-1zM35 110h1v1h-1zM35 112h1v3h-1zM35 116h1v1h-1zM36 226h1v3h-1zM37 113h1v1h-1zM37 229h1v1h-1zM37 231h1v1h-1zM37 234h1v1h-1zM38 109h1v1h-1zM38 225h1v1h-1zM38 227h1v1h-1zM39 231h1v2h-1zM40 225h1v1h-1zM41 115h1v1h-1zM41 232h1v1h-1zM41 234h1v1h-1zM42 106h1v1h-1zM42 224h1v1h-1zM42 227h1v1h-1zM43 108h1v1h-1zM43 233h1v1h-1zM44 227h1v1h-1zM44 229h1v1h-1zM46 224h1v1h-1zM47 108h1v1h-1zM47 113h1v1h-1zM47 232h1v1h-1zM48 228h1v1h-1zM49 110h1v1h-1zM49 113h1v1h-1zM49 233h1v2h-1zM50 221h1v1h-1zM51 231h1v1h-1zM52 224h1v2h-1zM54 221h1v1h-1zM56 227h1v1h-1zM57 231h1v1h-1zM58 222h1v1h-1zM58 226h1v1h-1zM60 225h1v1h-1zM61 108h1v1h-1zM61 111h1v1h-1zM62 224h1v1h-1zM65 115h1v1h-1zM66 222h1v1h-1zM66 228h1v1h-1zM68 225h1v2h-1zM69 230h1v1h-1zM70 224h1v1h-1zM71 233h1v1h-1zM73 229h1v1h-1zM73 231h1v1h-1zM74 221h1v1h-1zM74 228h1v1h-1zM75 230h1v1h-1zM78 228h1v1h-1zM79 229h1v1h-1zM79 231h1v1h-1zM81 228h1v2h-1zM83 231h1v1h-1zM84 224h1v1h-1zM84 226h1v1h-1zM85 110h1v1h-1zM85 230h1v1h-1zM90 225h1v1h-1zM111 228h1v1h-1zM164 220h1v1h-1zM210 217h1v1h-1zM237 64h1v1h-1z"/>
<path fill="#f0aaac" d="M6 107h1v1h-1zM7 231h1v1h-1zM10 223h1v1h-1zM11 232h1v1h-1zM18 225h1v1h-1zM18 229h1v1h-1zM19 113h1v2h-1zM19 230h1v1h-1zM20 225h1v1h-1zM20 227h1v1h-1zM21 231h1v1h-1zM21 233h1v1h-1zM22 229h1v1h-1zM23 113h1v1h-1zM23 234h1v1h-1zM25 108h1v1h-1zM25 111h1v2h-1zM25 114h1v1h-1zM25 229h1v1h-1zM26 107h1v1h-1zM26 222h1v3h-1zM26 227h1v1h-1zM27 113h1v1h-1zM29 233h1v1h-1zM30 222h1v2h-1zM32 227h1v1h-1zM32 229h1v1h-1zM33 114h1v1h-1zM33 228h1v1h-1zM33 230h1v1h-1zM33 233h1v1h-1zM34 226h1v1h-1zM34 228h1v1h-1zM35 108h1v1h-1zM35 228h1v1h-1zM35 230h1v1h-1zM35 234h1v1h-1zM36 106h1v1h-1zM36 222h1v1h-1zM37 114h1v2h-1zM38 107h1v1h-1zM39 230h1v1h-1zM40 226h1v1h-1zM42 229h1v1h-1zM43 229h1v1h-1zM43 234h1v1h-1zM45 230h1v1h-1zM46 222h1v1h-1zM46 225h1v1h-1zM47 229h1v1h-1zM49 114h1v1h-1zM54 224h1v1h-1zM54 228h1v2h-1zM57 232h1v1h-1zM58 178h1v1h-1zM58 225h1v1h-1zM59 233h1v1h-1zM61 234h1v1h-1zM62 223h1v1h-1zM64 224h1v1h-1zM64 229h1v1h-1zM65 233h1v1h-1zM71 228h1v1h-1zM72 229h1v1h-1zM73 232h1v1h-1zM75 141h1v1h-1zM75 232h1v1h-1zM76 228h1v1h-1zM77 232h1v1h-1zM79 232h1v1h-1zM80 222h1v1h-1zM80 227h1v2h-1zM81 232h1v1h-1zM81 234h1v1h-1zM82 221h1v1h-1zM82 226h1v1h-1zM84 225h1v1h-1zM85 231h1v1h-1zM136 227h1v1h-1zM178 229h1v1h-1zM181 228h1v1h-1zM216 224h1v1h-1zM220 226h1v1h-1zM223 173h1v1h-1z"/>
<path fill="#ee9698" d="M5 230h1v1h-1zM5 234h1v1h-1zM6 105h1v1h-1zM6 108h1v1h-1zM6 226h1v1h-1zM7 108h1v1h-1zM7 234h1v1h-1zM8 106h1v1h-1zM8 109h1v1h-1zM10 108h1v1h-1zM10 226h1v1h-1zM10 229h1v1h-1zM11 111h1v1h-1zM11 116h1v1h-1zM18 109h1v1h-1zM18 228h1v1h-1zM19 112h1v1h-1zM19 231h1v2h-1zM20 228h1v1h-1zM21 230h1v1h-1zM23 110h1v1h-1zM23 228h1v1h-1zM25 110h1v1h-1zM27 234h1v1h-1zM28 107h1v2h-1zM29 228h1v1h-1zM29 231h1v2h-1zM30 226h1v1h-1zM31 230h1v1h-1zM31 234h1v1h-1zM32 226h1v1h-1zM32 228h1v1h-1zM33 232h1v1h-1zM34 229h1v1h-1zM36 224h1v2h-1zM41 113h1v1h-1zM42 226h1v1h-1zM44 225h1v1h-1zM46 229h1v1h-1zM49 231h1v2h-1zM50 222h1v1h-1zM50 227h1v1h-1zM52 227h1v1h-1zM53 230h1v1h-1zM53 234h1v1h-1zM54 225h1v1h-1zM56 226h1v1h-1zM56 229h1v1h-1zM59 231h1v1h-1zM60 228h1v1h-1zM61 233h1v1h-1zM63 231h1v1h-1zM67 233h1v1h-1zM72 223h1v1h-1zM73 230h1v1h-1zM74 223h1v1h-1zM79 230h1v1h-1zM80 229h1v1h-1zM199 217h1v1h-1zM223 217h1v1h-1z"/>
<path fill="#ec8285" d="M6 106h1v1h-1zM6 109h1v1h-1zM6 227h1v1h-1zM7 110h1v1h-1zM10 222h1v1h-1zM10 225h1v1h-1zM10 227h1v1h-1zM11 228h1v1h-1zM11 230h1v1h-1zM11 233h1v1h-1zM20 108h1v1h-1zM21 114h1v1h-1zM21 116h1v1h-1zM23 108h1v1h-1zM23 112h1v1h-1zM23 229h1v1h-1zM24 109h1v1h-1zM33 234h1v1h-1zM37 233h1v1h-1zM45 228h1v1h-1zM45 232h1v2h-1zM48 225h1v1h-1zM50 225h1v1h-1zM51 115h1v1h-1zM52 222h1v1h-1zM53 231h1v1h-1zM54 223h1v1h-1zM55 116h1v1h-1zM57 233h1v1h-1zM59 228h1v1h-1zM61 114h1v1h-1zM62 222h1v1h-1zM62 225h1v1h-1zM63 229h1v1h-1zM64 228h1v1h-1zM65 109h1v1h-1zM75 111h1v1h-1zM80 223h1v2h-1zM82 223h1v1h-1zM82 225h1v1h-1zM82 229h1v1h-1zM132 180h1v1h-1zM214 226h1v1h-1zM224 223h1v1h-1z"/>
<path fill="#ea7073" d="M5 228h1v1h-1zM5 233h1v1h-1zM5 235h1v1h-1zM7 115h1v1h-1zM8 107h1v1h-1zM22 226h1v1h-1zM23 232h1v2h-1zM25 232h1v1h-1zM27 229h1v1h-1zM27 232h1v2h-1zM30 228h1v1h-1zM37 228h1v1h-1zM43 228h1v1h-1zM43 232h1v1h-1zM45 231h1v1h-1zM46 221h1v1h-1zM46 223h1v1h-1zM46 228h1v1h-1zM48 222h1v1h-1zM48 226h1v1h-1zM53 232h1v1h-1zM59 229h1v1h-1zM61 228h1v1h-1zM61 232h1v1h-1zM89 167h1v1h-1zM97 157h1v1h-1zM142 176h1v1h-1zM146 132h1v1h-1zM171 197h1v1h-1zM216 169h1v1h-1zM224 221h1v1h-1zM230 156h1v1h-1zM236 221h1v1h-1z"/>
<path fill="#ea5f62" d="M7 230h1v1h-1zM8 223h1v1h-1zM8 227h1v1h-1zM10 107h1v1h-1zM11 235h1v1h-1zM37 230h1v1h-1zM49 111h1v1h-1zM74 225h1v1h-1zM95 192h1v1h-1z"/>
<path fill="#e94b50" d="M7 228h1v2h-1zM7 232h1v1h-1zM8 225h1v1h-1zM59 134h1v1h-1zM67 155h1v1h-1zM69 231h1v1h-1zM77 228h1v1h-1zM212 142h1v1h-1zM228 183h1v1h-1zM229 146h1v1h-1z"/>
<path fill="#e93c41" d="M11 229h1v1h-1zM11 231h1v1h-1zM11 234h1v1h-1zM37 160h1v1h-1zM44 226h1v1h-1zM73 228h1v1h-1zM125 148h1v1h-1zM230 193h1v1h-1z"/>
<path fill="#e92d34" d="M42 135h1v1h-1zM43 181h1v1h-1zM63 230h1v1h-1zM165 145h1v1h-1zM169 150h1v1h-1z"/>
<path fill="#e81e28" d="M19 109h1v1h-1zM21 115h1v1h-1zM30 224h1v1h-1zM58 224h1v1h-1z"/>
</g>
<rect x="835.6" y="148.2" width="15.1" height="394.0" fill="#808080"/>
<rect x="864.7" y="148.2" width="3.3" height="394.0" fill="#808080"/>
<rect x="874.4" y="148.2" width="19.7" height="394.0" fill="#808080"/>
<rect x="1117.6" y="148.2" width="7.9" height="394.0" fill="#808080"/>
<rect x="1340.8" y="148.2" width="8.5" height="394.0" fill="#808080"/>
<rect x="1399.6" y="148.2" width="11.2" height="394.0" fill="#808080"/>
<rect x="1433.4" y="148.2" width="8.2" height="394.0" fill="#808080"/>
<rect x="1467.0" y="148.2" width="21.0" height="394.0" fill="#808080"/>
<rect x="1598.8" y="148.2" width="13.8" height="394.0" fill="#808080"/>
<rect x="935.2" y="286.1" width="8.9" height="146.1" fill="#808080"/>
<rect x="932.6" y="286.1" width="2.6" height="124.8" fill="#808080"/>
<path d="M911.0 270.0h3.1L919.1 313.0h-3.1Z" fill="#808080"/>
<path d="M924.0 294.0h3.1L933.1 307.0h-3.1Z" fill="#808080"/>
<path d="M951.0 279.0h3.1L959.1 294.0h-3.1Z" fill="#808080"/>
<path d="M960.0 297.0h3.1L968.1 310.0h-3.1Z" fill="#808080"/>
<path d="M967.0 285.0h3.1L984.1 310.0h-3.1Z" fill="#808080"/>
<path d="M984.0 279.0h3.1L1001.1 308.0h-3.1Z" fill="#808080"/>
<path d="M1003.5 268.0h3.1L1014.1 301.0h-3.1Z" fill="#808080"/>
<path d="M1016.0 268.0h3.1L1025.1 290.0h-3.1Z" fill="#808080"/>
<rect x="921" y="319" width="6" height="11" fill="#808080"/>
<rect x="931" y="319" width="3" height="9" fill="#808080"/>
<line x1="835.6" x2="1624.4" y1="443.7" y2="443.7" stroke="#333" stroke-width="1.1"/>
<line x1="835.6" x2="1624.4" y1="345.2" y2="345.2" stroke="#333" stroke-width="1.1"/>
<line x1="835.6" x2="1624.4" y1="246.7" y2="246.7" stroke="#333" stroke-width="1.1"/>
</g>
<rect x="835.6" y="148.2" width="788.8000000000001" height="394.00000000000006" fill="none" stroke="#222" stroke-width="1.3"/>
<line x1="824.90" y1="542.20" x2="835.60" y2="542.20" stroke="#222" stroke-width="1.3" />
<text x="811.8" y="549.8" font-size="23" text-anchor="end" fill="#1c1c1c" >0</text>
<line x1="824.90" y1="492.95" x2="835.60" y2="492.95" stroke="#222" stroke-width="1.3" />
<text x="811.8" y="500.6" font-size="23" text-anchor="end" fill="#1c1c1c" >3</text>
<line x1="824.90" y1="443.70" x2="835.60" y2="443.70" stroke="#222" stroke-width="1.3" />
<text x="811.8" y="451.3" font-size="23" text-anchor="end" fill="#1c1c1c" >6</text>
<line x1="824.90" y1="394.45" x2="835.60" y2="394.45" stroke="#222" stroke-width="1.3" />
<text x="811.8" y="402.1" font-size="23" text-anchor="end" fill="#1c1c1c" >9</text>
<line x1="824.90" y1="345.20" x2="835.60" y2="345.20" stroke="#222" stroke-width="1.3" />
<text x="811.8" y="352.8" font-size="23" text-anchor="end" fill="#1c1c1c" >12</text>
<line x1="824.90" y1="295.95" x2="835.60" y2="295.95" stroke="#222" stroke-width="1.3" />
<text x="811.8" y="303.6" font-size="23" text-anchor="end" fill="#1c1c1c" >15</text>
<line x1="824.90" y1="246.70" x2="835.60" y2="246.70" stroke="#222" stroke-width="1.3" />
<text x="811.8" y="254.3" font-size="23" text-anchor="end" fill="#1c1c1c" >18</text>
<line x1="824.90" y1="197.45" x2="835.60" y2="197.45" stroke="#222" stroke-width="1.3" />
<text x="811.8" y="205.0" font-size="23" text-anchor="end" fill="#1c1c1c" >21</text>
<line x1="967.07" y1="542.20" x2="967.07" y2="553.30" stroke="#222" stroke-width="1.3" />
<text x="968.6" y="582.0" font-size="23" text-anchor="middle" fill="#1c1c1c" >50</text>
<line x1="1131.40" y1="542.20" x2="1131.40" y2="553.30" stroke="#222" stroke-width="1.3" />
<text x="1132.9" y="582.0" font-size="23" text-anchor="middle" fill="#1c1c1c" >100</text>
<line x1="1295.73" y1="542.20" x2="1295.73" y2="553.30" stroke="#222" stroke-width="1.3" />
<text x="1297.2" y="582.0" font-size="23" text-anchor="middle" fill="#1c1c1c" >150</text>
<line x1="1460.07" y1="542.20" x2="1460.07" y2="553.30" stroke="#222" stroke-width="1.3" />
<text x="1461.6" y="582.0" font-size="23" text-anchor="middle" fill="#1c1c1c" >200</text>
<line x1="1624.40" y1="542.20" x2="1624.40" y2="553.30" stroke="#222" stroke-width="1.3" />
<text x="1625.9" y="582.0" font-size="23" text-anchor="middle" fill="#1c1c1c" >250</text>
<text x="1144.2" y="625.5" font-size="26" text-anchor="start" fill="#1c1c1c" textLength="170.5" lengthAdjust="spacingAndGlyphs" >Sol on Jezero</text>
<text x="762.2" y="397.8" font-size="26" text-anchor="start" fill="#1c1c1c" textLength="105.0" lengthAdjust="spacingAndGlyphs" transform="rotate(-90 762.2 397.8)" >LTST (h)</text>
<text x="739.0" y="29.5" font-size="41" text-anchor="start" fill="#231f20" font-weight="bold" stroke="#231f20" stroke-width="1.3">b</text>
<rect x="1658.2" y="490.18" width="16.3" height="12.92" fill="#2642a0"/>
<rect x="1658.2" y="477.55" width="16.3" height="12.92" fill="#2a449e"/>
<rect x="1658.2" y="464.93" width="16.3" height="12.92" fill="#30489e"/>
<rect x="1658.2" y="452.30" width="16.3" height="12.92" fill="#3a50a0"/>
<rect x="1658.2" y="439.68" width="16.3" height="12.92" fill="#4b5ca6"/>
<rect x="1658.2" y="427.06" width="16.3" height="12.92" fill="#5c68ae"/>
<rect x="1658.2" y="414.43" width="16.3" height="12.92" fill="#6e76b6"/>
<rect x="1658.2" y="401.81" width="16.3" height="12.92" fill="#8086c0"/>
<rect x="1658.2" y="389.18" width="16.3" height="12.92" fill="#9498ca"/>
<rect x="1658.2" y="376.56" width="16.3" height="12.92" fill="#aaacd6"/>
<rect x="1658.2" y="363.94" width="16.3" height="12.92" fill="#c3c6e2"/>
<rect x="1658.2" y="351.31" width="16.3" height="12.92" fill="#dcdeee"/>
<rect x="1658.2" y="338.69" width="16.3" height="12.92" fill="#ffffff"/>
<rect x="1658.2" y="326.06" width="16.3" height="12.92" fill="#f8e6e7"/>
<rect x="1658.2" y="313.44" width="16.3" height="12.92" fill="#f5d2d4"/>
<rect x="1658.2" y="300.82" width="16.3" height="12.92" fill="#f2bec0"/>
<rect x="1658.2" y="288.19" width="16.3" height="12.92" fill="#f0aaac"/>
<rect x="1658.2" y="275.57" width="16.3" height="12.92" fill="#ee9698"/>
<rect x="1658.2" y="262.94" width="16.3" height="12.92" fill="#ec8285"/>
<rect x="1658.2" y="250.32" width="16.3" height="12.92" fill="#ea7073"/>
<rect x="1658.2" y="237.70" width="16.3" height="12.92" fill="#ea5f62"/>
<rect x="1658.2" y="225.07" width="16.3" height="12.92" fill="#e94b50"/>
<rect x="1658.2" y="212.45" width="16.3" height="12.92" fill="#e93c41"/>
<rect x="1658.2" y="199.82" width="16.3" height="12.92" fill="#e92d34"/>
<rect x="1658.2" y="187.20" width="16.3" height="12.92" fill="#e81e28"/>
<path d="M1658.2 187.2L1666.35 178.4L1674.5 187.2Z" fill="#e81e28"/>
<path d="M1658.2 502.8L1666.35 511.8L1674.5 502.8Z" fill="#2642a0"/>
<path d="M1658.2 187.2L1666.35 178.4L1674.5 187.2V502.8L1666.35 511.8L1658.2 502.8Z" fill="none" stroke="#222" stroke-width="1.1" stroke-linejoin="miter"/>
<path d="M1658.2 187.2H1674.5M1658.2 502.8H1674.5" stroke="#222" stroke-width="1"/>
<line x1="1674.50" y1="502.80" x2="1681.50" y2="502.80" stroke="#333" stroke-width="1.1" />
<text x="1697.0" y="510.2" font-size="23" text-anchor="start" fill="#1c1c1c" >0</text>
<line x1="1674.50" y1="471.24" x2="1681.50" y2="471.24" stroke="#333" stroke-width="1.1" />
<text x="1697.0" y="478.6" font-size="23" text-anchor="start" fill="#1c1c1c" textLength="48.5" lengthAdjust="spacingAndGlyphs" >0.05</text>
<line x1="1674.50" y1="439.68" x2="1681.50" y2="439.68" stroke="#333" stroke-width="1.1" />
<text x="1697.0" y="447.1" font-size="23" text-anchor="start" fill="#1c1c1c" textLength="48.5" lengthAdjust="spacingAndGlyphs" >0.10</text>
<line x1="1674.50" y1="408.12" x2="1681.50" y2="408.12" stroke="#333" stroke-width="1.1" />
<text x="1697.0" y="415.5" font-size="23" text-anchor="start" fill="#1c1c1c" textLength="48.5" lengthAdjust="spacingAndGlyphs" >0.15</text>
<line x1="1674.50" y1="376.56" x2="1681.50" y2="376.56" stroke="#333" stroke-width="1.1" />
<text x="1697.0" y="384.0" font-size="23" text-anchor="start" fill="#1c1c1c" textLength="48.5" lengthAdjust="spacingAndGlyphs" >0.20</text>
<line x1="1674.50" y1="345.00" x2="1681.50" y2="345.00" stroke="#333" stroke-width="1.1" />
<text x="1697.0" y="352.4" font-size="23" text-anchor="start" fill="#1c1c1c" textLength="48.5" lengthAdjust="spacingAndGlyphs" >0.25</text>
<line x1="1674.50" y1="313.44" x2="1681.50" y2="313.44" stroke="#333" stroke-width="1.1" />
<text x="1697.0" y="320.8" font-size="23" text-anchor="start" fill="#1c1c1c" textLength="48.5" lengthAdjust="spacingAndGlyphs" >0.30</text>
<line x1="1674.50" y1="281.88" x2="1681.50" y2="281.88" stroke="#333" stroke-width="1.1" />
<text x="1697.0" y="289.3" font-size="23" text-anchor="start" fill="#1c1c1c" textLength="48.5" lengthAdjust="spacingAndGlyphs" >0.35</text>
<line x1="1674.50" y1="250.32" x2="1681.50" y2="250.32" stroke="#333" stroke-width="1.1" />
<text x="1697.0" y="257.7" font-size="23" text-anchor="start" fill="#1c1c1c" textLength="48.5" lengthAdjust="spacingAndGlyphs" >0.40</text>
<line x1="1674.50" y1="218.76" x2="1681.50" y2="218.76" stroke="#333" stroke-width="1.1" />
<text x="1697.0" y="226.2" font-size="23" text-anchor="start" fill="#1c1c1c" textLength="48.5" lengthAdjust="spacingAndGlyphs" >0.45</text>
<line x1="1674.50" y1="187.20" x2="1681.50" y2="187.20" stroke="#333" stroke-width="1.1" />
<text x="1697.0" y="194.6" font-size="23" text-anchor="start" fill="#1c1c1c" textLength="48.5" lengthAdjust="spacingAndGlyphs" >0.50</text>
<text x="1650.0" y="168.7" font-size="26.5" text-anchor="start" fill="#1c1c1c" textLength="29.0" lengthAdjust="spacingAndGlyphs" >Pa</text>
<text x="1774.0" y="215.3" font-size="26.5" text-anchor="start" fill="#1c1c1c" textLength="259.0" lengthAdjust="spacingAndGlyphs" transform="rotate(90 1774.0 215.3)" >5 min pressure (s.d.)</text>
<rect x="116.4" y="920.7" width="879.8000000000001" height="440.39999999999986" fill="none" stroke="#000" stroke-width="2.3"/>
<line x1="101.00" y1="1361.10" x2="116.40" y2="1361.10" stroke="#000" stroke-width="2.3" />
<text x="84.5" y="1369.3" font-size="23" text-anchor="end" fill="#1c1c1c" >0</text>
<line x1="101.00" y1="1251.00" x2="116.40" y2="1251.00" stroke="#000" stroke-width="2.3" />
<text x="84.5" y="1259.2" font-size="23" text-anchor="end" fill="#1c1c1c" >0.4</text>
<line x1="101.00" y1="1140.90" x2="116.40" y2="1140.90" stroke="#000" stroke-width="2.3" />
<text x="84.5" y="1149.1" font-size="23" text-anchor="end" fill="#1c1c1c" >0.8</text>
<line x1="101.00" y1="1030.80" x2="116.40" y2="1030.80" stroke="#000" stroke-width="2.3" />
<text x="84.5" y="1039.0" font-size="23" text-anchor="end" fill="#1c1c1c" >1.2</text>
<line x1="101.00" y1="920.70" x2="116.40" y2="920.70" stroke="#000" stroke-width="2.3" />
<text x="84.5" y="928.9" font-size="23" text-anchor="end" fill="#1c1c1c" >1.6</text>
<line x1="116.30" y1="1361.10" x2="116.30" y2="1377.00" stroke="#000" stroke-width="2.3" />
<text x="117.8" y="1410.5" font-size="23" text-anchor="middle" fill="#1c1c1c" >0</text>
<line x1="289.98" y1="1361.10" x2="289.98" y2="1377.00" stroke="#000" stroke-width="2.3" />
<text x="291.5" y="1410.5" font-size="23" text-anchor="middle" fill="#1c1c1c" >50</text>
<line x1="463.66" y1="1361.10" x2="463.66" y2="1377.00" stroke="#000" stroke-width="2.3" />
<text x="465.2" y="1410.5" font-size="23" text-anchor="middle" fill="#1c1c1c" >100</text>
<line x1="637.34" y1="1361.10" x2="637.34" y2="1377.00" stroke="#000" stroke-width="2.3" />
<text x="638.8" y="1410.5" font-size="23" text-anchor="middle" fill="#1c1c1c" >150</text>
<line x1="811.02" y1="1361.10" x2="811.02" y2="1377.00" stroke="#000" stroke-width="2.3" />
<text x="812.5" y="1410.5" font-size="23" text-anchor="middle" fill="#1c1c1c" >200</text>
<line x1="984.70" y1="1361.10" x2="984.70" y2="1377.00" stroke="#000" stroke-width="2.3" />
<text x="986.2" y="1410.5" font-size="23" text-anchor="middle" fill="#1c1c1c" >250</text>
<line x1="179.30" y1="907.00" x2="179.30" y2="920.70" stroke="#000" stroke-width="2.3" />
<text x="179.8" y="890.0" font-size="23" text-anchor="middle" fill="#1c1c1c" >14</text>
<line x1="337.20" y1="907.00" x2="337.20" y2="920.70" stroke="#000" stroke-width="2.3" />
<text x="337.7" y="890.0" font-size="23" text-anchor="middle" fill="#1c1c1c" >36</text>
<line x1="495.10" y1="907.00" x2="495.10" y2="920.70" stroke="#000" stroke-width="2.3" />
<text x="495.6" y="890.0" font-size="23" text-anchor="middle" fill="#1c1c1c" >57</text>
<line x1="653.00" y1="907.00" x2="653.00" y2="920.70" stroke="#000" stroke-width="2.3" />
<text x="653.5" y="890.0" font-size="23" text-anchor="middle" fill="#1c1c1c" >77</text>
<line x1="810.90" y1="907.00" x2="810.90" y2="920.70" stroke="#000" stroke-width="2.3" />
<text x="811.4" y="890.0" font-size="23" text-anchor="middle" fill="#1c1c1c" >98</text>
<line x1="968.80" y1="907.00" x2="968.80" y2="920.70" stroke="#000" stroke-width="2.3" />
<text x="969.3" y="890.0" font-size="23" text-anchor="middle" fill="#1c1c1c" >120</text>
<text x="492.5" y="1455.9" font-size="26" text-anchor="start" fill="#1c1c1c" textLength="124.5" lengthAdjust="spacingAndGlyphs" >Time (sol)</text>
<text x="22" y="1351" font-size="26" fill="#1c1c1c" transform="rotate(-90 22 1351)" textLength="414" lengthAdjust="spacingAndGlyphs">Normalized amplitude δ<tspan font-style="italic">P</tspan>/⟨<tspan font-style="italic">P</tspan>⟩ (%)</text>
<text x="506.2" y="835.7" font-size="28" text-anchor="start" fill="#1c1c1c" font-style="italic" >L</text>
<text x="520.5" y="844.0" font-size="18" text-anchor="start" fill="#1c1c1c" >s</text>
<text x="537.0" y="835.7" font-size="26.5" text-anchor="start" fill="#1c1c1c" textLength="28.0" lengthAdjust="spacingAndGlyphs" >(°)</text>
<text x="-2.0" y="831.0" font-size="41" text-anchor="start" fill="#231f20" font-weight="bold" stroke="#231f20" stroke-width="1.3">c</text>
<text x="370.0" y="964.0" font-size="22.5" text-anchor="start" fill="#1a1a1a" textLength="76.0" lengthAdjust="spacingAndGlyphs" >Diurnal</text>
<text x="370.0" y="990.2" font-size="22.5" text-anchor="start" fill="#2450a6" textLength="143.5" lengthAdjust="spacingAndGlyphs" >Semidiuranal</text>
<text x="370.0" y="1014.9" font-size="22.5" text-anchor="start" fill="#e3262d" textLength="110.0" lengthAdjust="spacingAndGlyphs" >Terdiurnal</text>
<path d="M180.3 1045.9L224.2 1012.5L234.3 1030.1L237.6 1050.4L241.0 1083.4L244.5 1028.3L248.0 1061.4L251.8 1041.6L258.7 1092.5L269.0 1117.0L272.6 1149.7L275.9 1167.4L279.6 1130.3L282.9 1129.7L286.2 1135.9L290.1 1133.2L293.4 1134.3L296.7 1153.6L300.4 1158.9L303.9 1148.0L307.2 1180.2L310.5 1175.3L314.4 1202.5L317.7 1209.9L324.3 1198.7L328.0 1207.2L331.1 1169.1L334.8 1165.2L338.5 1135.6L342.0 1178.3L345.3 1157.5L348.7 1184.9L352.2 1156.2L355.8 1176.3L359.4 1147.4L362.8 1167.4L366.4 1148.6L369.8 1147.7L373.2 1178.8L376.6 1182.3L380.3 1157.3L383.4 1189.4L390.3 1148.0L394.0 1219.5L397.0 1209.7L400.7 1219.5L404.0 1191.2L408.0 1196.7L411.5 1192.8L418.3 1205.9L421.6 1214.2L425.1 1231.6L429.0 1272.2L432.5 1263.0L436.0 1288.8L439.8 1244.9L442.7 1288.4L446.6 1291.3L459.9 1262.8L463.8 1267.3L467.3 1282.0L470.4 1279.0L473.9 1285.5L477.8 1262.8L480.9 1261.5L484.6 1288.8L488.0 1273.2L491.5 1311.8L498.3 1300.1L502.2 1274.1L505.1 1303.0L508.6 1310.2L512.1 1314.7L515.9 1333.3L519.2 1317.7L522.7 1316.5L526.2 1354.1L529.5 1352.2L533.4 1338.0L536.7 1342.4L539.9 1324.3L543.8 1307.3L547.1 1317.1L550.4 1345.8L553.9 1345.0L557.4 1326.2L560.9 1348.3L564.2 1347.3L567.6 1338.5L571.1 1302.0L574.6 1348.9L578.3 1313.8L581.6 1350.2L585.1 1326.8L588.6 1327.4L592.0 1339.1L595.3 1339.5L599.2 1323.9L602.7 1320.6L604.6 1335.2L612.8 1321.6L616.3 1299.5L620.2 1313.8L623.7 1300.1L627.1 1306.3L630.3 1290.5L634.0 1295.7L637.4 1305.7L641.3 1303.8L644.3 1271.0L648.0 1275.4L651.2 1321.4L655.0 1306.0L658.6 1304.2L662.7 1303.8L664.9 1289.1L668.9 1286.6L671.8 1320.4L675.6 1262.1L679.2 1292.0L683.0 1294.9L696.2 1315.1L703.4 1287.6L706.8 1319.5L710.1 1306.0L713.0 1311.9L717.1 1308.6L724.2 1309.2L727.4 1337.6L731.1 1322.9L734.0 1318.9L737.7 1299.8L741.4 1327.3L745.1 1287.6L758.3 1326.3L762.4 1323.3L765.7 1331.7L769.4 1324.4L772.7 1343.1L776.3 1321.4L779.7 1347.9L793.3 1334.2L796.6 1328.8L800.7 1321.4L807.6 1310.1L811.0 1310.7L842.2 1317.0L846.0 1301.2L849.3 1277.9L859.5 1228.9L863.0 1243.6L866.6 1234.8L870.1 1199.6L873.4 1291.3L877.0 1216.5L880.5 1268.8L883.8 1259.3L887.3 1302.0L890.9 1259.6L894.4 1285.9L897.7 1259.3L908.1 1260.4L911.7 1251.3L915.2 1285.9L918.5 1279.3L921.9 1294.6L925.2 1250.8L928.9 1258.5L932.5 1244.3L935.8 1269.4L939.4 1243.2L942.7 1254.5L946.5 1253.0L949.7 1269.7L953.4 1244.3L974.2 1249.4L977.8 1252.4L981.3 1251.0L984.8 1249.1" fill="none" stroke="#8c8c8c" stroke-width="0.9"/>
<g fill="#050505"><circle cx="180.3" cy="1045.9" r="3.6"/><circle cx="224.2" cy="1012.5" r="3.6"/><circle cx="234.3" cy="1030.1" r="3.6"/><circle cx="237.6" cy="1050.4" r="3.6"/><circle cx="241.0" cy="1083.4" r="3.6"/><circle cx="244.5" cy="1028.3" r="3.6"/><circle cx="248.0" cy="1061.4" r="3.6"/><circle cx="251.8" cy="1041.6" r="3.6"/><circle cx="258.7" cy="1092.5" r="3.6"/><circle cx="269.0" cy="1117.0" r="3.6"/><circle cx="272.6" cy="1149.7" r="3.6"/><circle cx="275.9" cy="1167.4" r="3.6"/><circle cx="279.6" cy="1130.3" r="3.6"/><circle cx="282.9" cy="1129.7" r="3.6"/><circle cx="286.2" cy="1135.9" r="3.6"/><circle cx="290.1" cy="1133.2" r="3.6"/><circle cx="293.4" cy="1134.3" r="3.6"/><circle cx="296.7" cy="1153.6" r="3.6"/><circle cx="300.4" cy="1158.9" r="3.6"/><circle cx="303.9" cy="1148.0" r="3.6"/><circle cx="307.2" cy="1180.2" r="3.6"/><circle cx="310.5" cy="1175.3" r="3.6"/><circle cx="314.4" cy="1202.5" r="3.6"/><circle cx="317.7" cy="1209.9" r="3.6"/><circle cx="324.3" cy="1198.7" r="3.6"/><circle cx="328.0" cy="1207.2" r="3.6"/><circle cx="331.1" cy="1169.1" r="3.6"/><circle cx="334.8" cy="1165.2" r="3.6"/><circle cx="338.5" cy="1135.6" r="3.6"/><circle cx="342.0" cy="1178.3" r="3.6"/><circle cx="345.3" cy="1157.5" r="3.6"/><circle cx="348.7" cy="1184.9" r="3.6"/><circle cx="352.2" cy="1156.2" r="3.6"/><circle cx="355.8" cy="1176.3" r="3.6"/><circle cx="359.4" cy="1147.4" r="3.6"/><circle cx="362.8" cy="1167.4" r="3.6"/><circle cx="366.4" cy="1148.6" r="3.6"/><circle cx="369.8" cy="1147.7" r="3.6"/><circle cx="373.2" cy="1178.8" r="3.6"/><circle cx="376.6" cy="1182.3" r="3.6"/><circle cx="380.3" cy="1157.3" r="3.6"/><circle cx="383.4" cy="1189.4" r="3.6"/><circle cx="390.3" cy="1148.0" r="3.6"/><circle cx="394.0" cy="1219.5" r="3.6"/><circle cx="397.0" cy="1209.7" r="3.6"/><circle cx="400.7" cy="1219.5" r="3.6"/><circle cx="404.0" cy="1191.2" r="3.6"/><circle cx="408.0" cy="1196.7" r="3.6"/><circle cx="411.5" cy="1192.8" r="3.6"/><circle cx="418.3" cy="1205.9" r="3.6"/><circle cx="421.6" cy="1214.2" r="3.6"/><circle cx="425.1" cy="1231.6" r="3.6"/><circle cx="429.0" cy="1272.2" r="3.6"/><circle cx="432.5" cy="1263.0" r="3.6"/><circle cx="436.0" cy="1288.8" r="3.6"/><circle cx="439.8" cy="1244.9" r="3.6"/><circle cx="442.7" cy="1288.4" r="3.6"/><circle cx="446.6" cy="1291.3" r="3.6"/><circle cx="459.9" cy="1262.8" r="3.6"/><circle cx="463.8" cy="1267.3" r="3.6"/><circle cx="467.3" cy="1282.0" r="3.6"/><circle cx="470.4" cy="1279.0" r="3.6"/><circle cx="473.9" cy="1285.5" r="3.6"/><circle cx="477.8" cy="1262.8" r="3.6"/><circle cx="480.9" cy="1261.5" r="3.6"/><circle cx="484.6" cy="1288.8" r="3.6"/><circle cx="488.0" cy="1273.2" r="3.6"/><circle cx="491.5" cy="1311.8" r="3.6"/><circle cx="498.3" cy="1300.1" r="3.6"/><circle cx="502.2" cy="1274.1" r="3.6"/><circle cx="505.1" cy="1303.0" r="3.6"/><circle cx="508.6" cy="1310.2" r="3.6"/><circle cx="512.1" cy="1314.7" r="3.6"/><circle cx="515.9" cy="1333.3" r="3.6"/><circle cx="519.2" cy="1317.7" r="3.6"/><circle cx="522.7" cy="1316.5" r="3.6"/><circle cx="526.2" cy="1354.1" r="3.6"/><circle cx="529.5" cy="1352.2" r="3.6"/><circle cx="533.4" cy="1338.0" r="3.6"/><circle cx="536.7" cy="1342.4" r="3.6"/><circle cx="539.9" cy="1324.3" r="3.6"/><circle cx="543.8" cy="1307.3" r="3.6"/><circle cx="547.1" cy="1317.1" r="3.6"/><circle cx="550.4" cy="1345.8" r="3.6"/><circle cx="553.9" cy="1345.0" r="3.6"/><circle cx="557.4" cy="1326.2" r="3.6"/><circle cx="560.9" cy="1348.3" r="3.6"/><circle cx="564.2" cy="1347.3" r="3.6"/><circle cx="567.6" cy="1338.5" r="3.6"/><circle cx="571.1" cy="1302.0" r="3.6"/><circle cx="574.6" cy="1348.9" r="3.6"/><circle cx="578.3" cy="1313.8" r="3.6"/><circle cx="581.6" cy="1350.2" r="3.6"/><circle cx="585.1" cy="1326.8" r="3.6"/><circle cx="588.6" cy="1327.4" r="3.6"/><circle cx="592.0" cy="1339.1" r="3.6"/><circle cx="595.3" cy="1339.5" r="3.6"/><circle cx="599.2" cy="1323.9" r="3.6"/><circle cx="602.7" cy="1320.6" r="3.6"/><circle cx="604.6" cy="1335.2" r="3.6"/><circle cx="612.8" cy="1321.6" r="3.6"/><circle cx="616.3" cy="1299.5" r="3.6"/><circle cx="620.2" cy="1313.8" r="3.6"/><circle cx="623.7" cy="1300.1" r="3.6"/><circle cx="627.1" cy="1306.3" r="3.6"/><circle cx="630.3" cy="1290.5" r="3.6"/><circle cx="634.0" cy="1295.7" r="3.6"/><circle cx="637.4" cy="1305.7" r="3.6"/><circle cx="641.3" cy="1303.8" r="3.6"/><circle cx="644.3" cy="1271.0" r="3.6"/><circle cx="648.0" cy="1275.4" r="3.6"/><circle cx="651.2" cy="1321.4" r="3.6"/><circle cx="655.0" cy="1306.0" r="3.6"/><circle cx="658.6" cy="1304.2" r="3.6"/><circle cx="662.7" cy="1303.8" r="3.6"/><circle cx="664.9" cy="1289.1" r="3.6"/><circle cx="668.9" cy="1286.6" r="3.6"/><circle cx="671.8" cy="1320.4" r="3.6"/><circle cx="675.6" cy="1262.1" r="3.6"/><circle cx="679.2" cy="1292.0" r="3.6"/><circle cx="683.0" cy="1294.9" r="3.6"/><circle cx="696.2" cy="1315.1" r="3.6"/><circle cx="703.4" cy="1287.6" r="3.6"/><circle cx="706.8" cy="1319.5" r="3.6"/><circle cx="710.1" cy="1306.0" r="3.6"/><circle cx="713.0" cy="1311.9" r="3.6"/><circle cx="717.1" cy="1308.6" r="3.6"/><circle cx="724.2" cy="1309.2" r="3.6"/><circle cx="727.4" cy="1337.6" r="3.6"/><circle cx="731.1" cy="1322.9" r="3.6"/><circle cx="734.0" cy="1318.9" r="3.6"/><circle cx="737.7" cy="1299.8" r="3.6"/><circle cx="741.4" cy="1327.3" r="3.6"/><circle cx="745.1" cy="1287.6" r="3.6"/><circle cx="758.3" cy="1326.3" r="3.6"/><circle cx="762.4" cy="1323.3" r="3.6"/><circle cx="765.7" cy="1331.7" r="3.6"/><circle cx="769.4" cy="1324.4" r="3.6"/><circle cx="772.7" cy="1343.1" r="3.6"/><circle cx="776.3" cy="1321.4" r="3.6"/><circle cx="779.7" cy="1347.9" r="3.6"/><circle cx="793.3" cy="1334.2" r="3.6"/><circle cx="796.6" cy="1328.8" r="3.6"/><circle cx="800.7" cy="1321.4" r="3.6"/><circle cx="807.6" cy="1310.1" r="3.6"/><circle cx="811.0" cy="1310.7" r="3.6"/><circle cx="842.2" cy="1317.0" r="3.6"/><circle cx="846.0" cy="1301.2" r="3.6"/><circle cx="849.3" cy="1277.9" r="3.6"/><circle cx="859.5" cy="1228.9" r="3.6"/><circle cx="863.0" cy="1243.6" r="3.6"/><circle cx="866.6" cy="1234.8" r="3.6"/><circle cx="870.1" cy="1199.6" r="3.6"/><circle cx="873.4" cy="1291.3" r="3.6"/><circle cx="877.0" cy="1216.5" r="3.6"/><circle cx="880.5" cy="1268.8" r="3.6"/><circle cx="883.8" cy="1259.3" r="3.6"/><circle cx="887.3" cy="1302.0" r="3.6"/><circle cx="890.9" cy="1259.6" r="3.6"/><circle cx="894.4" cy="1285.9" r="3.6"/><circle cx="897.7" cy="1259.3" r="3.6"/><circle cx="908.1" cy="1260.4" r="3.6"/><circle cx="911.7" cy="1251.3" r="3.6"/><circle cx="915.2" cy="1285.9" r="3.6"/><circle cx="918.5" cy="1279.3" r="3.6"/><circle cx="921.9" cy="1294.6" r="3.6"/><circle cx="925.2" cy="1250.8" r="3.6"/><circle cx="928.9" cy="1258.5" r="3.6"/><circle cx="932.5" cy="1244.3" r="3.6"/><circle cx="935.8" cy="1269.4" r="3.6"/><circle cx="939.4" cy="1243.2" r="3.6"/><circle cx="942.7" cy="1254.5" r="3.6"/><circle cx="946.5" cy="1253.0" r="3.6"/><circle cx="949.7" cy="1269.7" r="3.6"/><circle cx="953.4" cy="1244.3" r="3.6"/><circle cx="974.2" cy="1249.4" r="3.6"/><circle cx="977.8" cy="1252.4" r="3.6"/><circle cx="981.3" cy="1251.0" r="3.6"/><circle cx="984.8" cy="1249.1" r="3.6"/></g>
<path d="M180.5 1229.9L224.1 1241.1L233.8 1302.0L237.7 1268.8L241.3 1255.0L244.4 1306.2L248.1 1316.2L251.4 1326.3L258.6 1324.3L269.0 1335.8L272.4 1347.3L275.7 1311.7L279.4 1348.9L283.3 1350.6L286.6 1335.5L290.0 1319.9L293.3 1338.0L297.2 1328.0L300.4 1344.2L303.7 1311.2L307.3 1348.9L310.6 1349.4L314.3 1320.4L317.7 1333.8L324.4 1323.3L328.1 1303.6L331.1 1314.2L335.3 1309.2L338.6 1311.2L342.0 1267.3L345.3 1292.7L348.7 1251.7L352.0 1275.1L356.2 1257.5L359.2 1263.4L362.6 1237.4L366.3 1246.1L369.6 1238.2L373.3 1208.1L376.7 1232.7L380.0 1250.5L383.4 1239.4L390.1 1247.5L394.0 1237.9L397.8 1229.3L400.7 1210.7L404.0 1226.0L408.0 1230.2L411.5 1224.8L418.3 1226.7L421.6 1203.9L425.1 1212.7L429.0 1204.9L432.5 1215.6L436.0 1201.4L439.8 1192.2L442.7 1218.1L446.6 1192.8L459.9 1209.2L463.8 1212.7L467.3 1219.5L470.4 1208.2L474.3 1207.8L477.8 1200.0L480.9 1182.8L484.6 1201.4L488.0 1170.3L491.5 1197.1L498.3 1176.0L501.6 1168.8L505.1 1162.5L508.6 1177.0L512.1 1173.7L515.3 1165.9L519.2 1168.2L522.7 1147.3L526.2 1162.3L529.5 1135.6L533.4 1150.2L536.7 1149.9L540.2 1130.7L543.8 1127.8L547.1 1130.1L550.4 1122.9L553.9 1126.8L557.4 1099.1L560.9 1124.5L564.2 1106.0L567.6 1130.1L571.1 1112.2L574.6 1126.2L578.3 1120.0L581.6 1113.6L585.5 1111.2L588.0 1100.5L592.0 1096.6L595.3 1108.9L599.2 1081.8L600.5 1094.6L603.8 1094.6L606.3 1094.6L609.6 1104.8L619.7 1103.7L623.5 1103.9L626.8 1098.7L630.5 1090.1L633.8 1090.1L637.1 1085.5L640.8 1080.7L644.3 1094.1L647.6 1068.8L651.3 1062.3L654.6 1075.7L658.1 1094.7L661.8 1085.9L665.3 1097.7L668.6 1103.9L671.9 1086.2L675.5 1088.5L678.9 1067.5L682.4 1043.7L696.2 1064.1L703.5 1067.5L706.8 1057.5L710.4 1058.3L713.6 1048.7L717.0 1038.6L720.6 1044.1L724.1 1053.1L727.5 1060.6L731.1 1046.1L734.4 1060.6L738.0 1064.9L741.6 1063.8L744.9 1041.8L758.7 1054.0L762.2 1045.7L765.6 1026.4L769.2 1032.3L772.7 1031.2L776.2 1047.0L779.7 1058.3L793.8 1036.9L797.2 1057.0L800.7 1069.4L804.3 1048.7L807.7 1015.5L811.2 1008.6L842.1 1032.0L845.8 1003.4L849.4 1013.2L858.6 977.7L863.0 1038.9L866.7 1010.1L869.8 1038.9L873.4 995.8L877.0 1072.5L880.4 1015.0L883.8 1054.5L887.5 1005.1L890.9 1086.3L894.2 1017.7L897.8 1086.7L908.1 1035.6L911.7 1102.9L915.2 1039.1L918.6 1097.1L922.1 1022.8L925.4 1086.8L929.3 1032.9L932.5 1094.4L935.8 1054.8L939.3 1075.2L942.7 1055.9L946.2 1067.7L950.1 1068.1L953.6 1091.2L974.2 1069.8L977.8 1068.4L981.3 1071.7L984.8 1068.8" fill="none" stroke="#7080c8" stroke-width="0.9"/>
<g fill="#2450a6"><circle cx="180.5" cy="1229.9" r="3.6"/><circle cx="224.1" cy="1241.1" r="3.6"/><circle cx="233.8" cy="1302.0" r="3.6"/><circle cx="237.7" cy="1268.8" r="3.6"/><circle cx="241.3" cy="1255.0" r="3.6"/><circle cx="244.4" cy="1306.2" r="3.6"/><circle cx="248.1" cy="1316.2" r="3.6"/><circle cx="251.4" cy="1326.3" r="3.6"/><circle cx="258.6" cy="1324.3" r="3.6"/><circle cx="269.0" cy="1335.8" r="3.6"/><circle cx="272.4" cy="1347.3" r="3.6"/><circle cx="275.7" cy="1311.7" r="3.6"/><circle cx="279.4" cy="1348.9" r="3.6"/><circle cx="283.3" cy="1350.6" r="3.6"/><circle cx="286.6" cy="1335.5" r="3.6"/><circle cx="290.0" cy="1319.9" r="3.6"/><circle cx="293.3" cy="1338.0" r="3.6"/><circle cx="297.2" cy="1328.0" r="3.6"/><circle cx="300.4" cy="1344.2" r="3.6"/><circle cx="303.7" cy="1311.2" r="3.6"/><circle cx="307.3" cy="1348.9" r="3.6"/><circle cx="310.6" cy="1349.4" r="3.6"/><circle cx="314.3" cy="1320.4" r="3.6"/><circle cx="317.7" cy="1333.8" r="3.6"/><circle cx="324.4" cy="1323.3" r="3.6"/><circle cx="328.1" cy="1303.6" r="3.6"/><circle cx="331.1" cy="1314.2" r="3.6"/><circle cx="335.3" cy="1309.2" r="3.6"/><circle cx="338.6" cy="1311.2" r="3.6"/><circle cx="342.0" cy="1267.3" r="3.6"/><circle cx="345.3" cy="1292.7" r="3.6"/><circle cx="348.7" cy="1251.7" r="3.6"/><circle cx="352.0" cy="1275.1" r="3.6"/><circle cx="356.2" cy="1257.5" r="3.6"/><circle cx="359.2" cy="1263.4" r="3.6"/><circle cx="362.6" cy="1237.4" r="3.6"/><circle cx="366.3" cy="1246.1" r="3.6"/><circle cx="369.6" cy="1238.2" r="3.6"/><circle cx="373.3" cy="1208.1" r="3.6"/><circle cx="376.7" cy="1232.7" r="3.6"/><circle cx="380.0" cy="1250.5" r="3.6"/><circle cx="383.4" cy="1239.4" r="3.6"/><circle cx="390.1" cy="1247.5" r="3.6"/><circle cx="394.0" cy="1237.9" r="3.6"/><circle cx="397.8" cy="1229.3" r="3.6"/><circle cx="400.7" cy="1210.7" r="3.6"/><circle cx="404.0" cy="1226.0" r="3.6"/><circle cx="408.0" cy="1230.2" r="3.6"/><circle cx="411.5" cy="1224.8" r="3.6"/><circle cx="418.3" cy="1226.7" r="3.6"/><circle cx="421.6" cy="1203.9" r="3.6"/><circle cx="425.1" cy="1212.7" r="3.6"/><circle cx="429.0" cy="1204.9" r="3.6"/><circle cx="432.5" cy="1215.6" r="3.6"/><circle cx="436.0" cy="1201.4" r="3.6"/><circle cx="439.8" cy="1192.2" r="3.6"/><circle cx="442.7" cy="1218.1" r="3.6"/><circle cx="446.6" cy="1192.8" r="3.6"/><circle cx="459.9" cy="1209.2" r="3.6"/><circle cx="463.8" cy="1212.7" r="3.6"/><circle cx="467.3" cy="1219.5" r="3.6"/><circle cx="470.4" cy="1208.2" r="3.6"/><circle cx="474.3" cy="1207.8" r="3.6"/><circle cx="477.8" cy="1200.0" r="3.6"/><circle cx="480.9" cy="1182.8" r="3.6"/><circle cx="484.6" cy="1201.4" r="3.6"/><circle cx="488.0" cy="1170.3" r="3.6"/><circle cx="491.5" cy="1197.1" r="3.6"/><circle cx="498.3" cy="1176.0" r="3.6"/><circle cx="501.6" cy="1168.8" r="3.6"/><circle cx="505.1" cy="1162.5" r="3.6"/><circle cx="508.6" cy="1177.0" r="3.6"/><circle cx="512.1" cy="1173.7" r="3.6"/><circle cx="515.3" cy="1165.9" r="3.6"/><circle cx="519.2" cy="1168.2" r="3.6"/><circle cx="522.7" cy="1147.3" r="3.6"/><circle cx="526.2" cy="1162.3" r="3.6"/><circle cx="529.5" cy="1135.6" r="3.6"/><circle cx="533.4" cy="1150.2" r="3.6"/><circle cx="536.7" cy="1149.9" r="3.6"/><circle cx="540.2" cy="1130.7" r="3.6"/><circle cx="543.8" cy="1127.8" r="3.6"/><circle cx="547.1" cy="1130.1" r="3.6"/><circle cx="550.4" cy="1122.9" r="3.6"/><circle cx="553.9" cy="1126.8" r="3.6"/><circle cx="557.4" cy="1099.1" r="3.6"/><circle cx="560.9" cy="1124.5" r="3.6"/><circle cx="564.2" cy="1106.0" r="3.6"/><circle cx="567.6" cy="1130.1" r="3.6"/><circle cx="571.1" cy="1112.2" r="3.6"/><circle cx="574.6" cy="1126.2" r="3.6"/><circle cx="578.3" cy="1120.0" r="3.6"/><circle cx="581.6" cy="1113.6" r="3.6"/><circle cx="585.5" cy="1111.2" r="3.6"/><circle cx="588.0" cy="1100.5" r="3.6"/><circle cx="592.0" cy="1096.6" r="3.6"/><circle cx="595.3" cy="1108.9" r="3.6"/><circle cx="599.2" cy="1081.8" r="3.6"/><circle cx="600.5" cy="1094.6" r="3.6"/><circle cx="603.8" cy="1094.6" r="3.6"/><circle cx="606.3" cy="1094.6" r="3.6"/><circle cx="609.6" cy="1104.8" r="3.6"/><circle cx="619.7" cy="1103.7" r="3.6"/><circle cx="623.5" cy="1103.9" r="3.6"/><circle cx="626.8" cy="1098.7" r="3.6"/><circle cx="630.5" cy="1090.1" r="3.6"/><circle cx="633.8" cy="1090.1" r="3.6"/><circle cx="637.1" cy="1085.5" r="3.6"/><circle cx="640.8" cy="1080.7" r="3.6"/><circle cx="644.3" cy="1094.1" r="3.6"/><circle cx="647.6" cy="1068.8" r="3.6"/><circle cx="651.3" cy="1062.3" r="3.6"/><circle cx="654.6" cy="1075.7" r="3.6"/><circle cx="658.1" cy="1094.7" r="3.6"/><circle cx="661.8" cy="1085.9" r="3.6"/><circle cx="665.3" cy="1097.7" r="3.6"/><circle cx="668.6" cy="1103.9" r="3.6"/><circle cx="671.9" cy="1086.2" r="3.6"/><circle cx="675.5" cy="1088.5" r="3.6"/><circle cx="678.9" cy="1067.5" r="3.6"/><circle cx="682.4" cy="1043.7" r="3.6"/><circle cx="696.2" cy="1064.1" r="3.6"/><circle cx="703.5" cy="1067.5" r="3.6"/><circle cx="706.8" cy="1057.5" r="3.6"/><circle cx="710.4" cy="1058.3" r="3.6"/><circle cx="713.6" cy="1048.7" r="3.6"/><circle cx="717.0" cy="1038.6" r="3.6"/><circle cx="720.6" cy="1044.1" r="3.6"/><circle cx="724.1" cy="1053.1" r="3.6"/><circle cx="727.5" cy="1060.6" r="3.6"/><circle cx="731.1" cy="1046.1" r="3.6"/><circle cx="734.4" cy="1060.6" r="3.6"/><circle cx="738.0" cy="1064.9" r="3.6"/><circle cx="741.6" cy="1063.8" r="3.6"/><circle cx="744.9" cy="1041.8" r="3.6"/><circle cx="758.7" cy="1054.0" r="3.6"/><circle cx="762.2" cy="1045.7" r="3.6"/><circle cx="765.6" cy="1026.4" r="3.6"/><circle cx="769.2" cy="1032.3" r="3.6"/><circle cx="772.7" cy="1031.2" r="3.6"/><circle cx="776.2" cy="1047.0" r="3.6"/><circle cx="779.7" cy="1058.3" r="3.6"/><circle cx="793.8" cy="1036.9" r="3.6"/><circle cx="797.2" cy="1057.0" r="3.6"/><circle cx="800.7" cy="1069.4" r="3.6"/><circle cx="804.3" cy="1048.7" r="3.6"/><circle cx="807.7" cy="1015.5" r="3.6"/><circle cx="811.2" cy="1008.6" r="3.6"/><circle cx="842.1" cy="1032.0" r="3.6"/><circle cx="845.8" cy="1003.4" r="3.6"/><circle cx="849.4" cy="1013.2" r="3.6"/><circle cx="858.6" cy="977.7" r="3.6"/><circle cx="863.0" cy="1038.9" r="3.6"/><circle cx="866.7" cy="1010.1" r="3.6"/><circle cx="869.8" cy="1038.9" r="3.6"/><circle cx="873.4" cy="995.8" r="3.6"/><circle cx="877.0" cy="1072.5" r="3.6"/><circle cx="880.4" cy="1015.0" r="3.6"/><circle cx="883.8" cy="1054.5" r="3.6"/><circle cx="887.5" cy="1005.1" r="3.6"/><circle cx="890.9" cy="1086.3" r="3.6"/><circle cx="894.2" cy="1017.7" r="3.6"/><circle cx="897.8" cy="1086.7" r="3.6"/><circle cx="908.1" cy="1035.6" r="3.6"/><circle cx="911.7" cy="1102.9" r="3.6"/><circle cx="915.2" cy="1039.1" r="3.6"/><circle cx="918.6" cy="1097.1" r="3.6"/><circle cx="922.1" cy="1022.8" r="3.6"/><circle cx="925.4" cy="1086.8" r="3.6"/><circle cx="929.3" cy="1032.9" r="3.6"/><circle cx="932.5" cy="1094.4" r="3.6"/><circle cx="935.8" cy="1054.8" r="3.6"/><circle cx="939.3" cy="1075.2" r="3.6"/><circle cx="942.7" cy="1055.9" r="3.6"/><circle cx="946.2" cy="1067.7" r="3.6"/><circle cx="950.1" cy="1068.1" r="3.6"/><circle cx="953.6" cy="1091.2" r="3.6"/><circle cx="974.2" cy="1069.8" r="3.6"/><circle cx="977.8" cy="1068.4" r="3.6"/><circle cx="981.3" cy="1071.7" r="3.6"/><circle cx="984.8" cy="1068.8" r="3.6"/></g>
<path d="M180.5 1335.0L224.1 1297.8L234.1 1244.9L237.5 1302.8L241.3 1302.8L244.7 1305.3L248.1 1282.7L251.4 1288.6L258.6 1291.4L269.0 1243.3L272.7 1273.5L276.1 1306.2L279.4 1288.1L283.3 1249.5L286.6 1304.8L290.0 1251.3L293.3 1274.6L297.2 1252.2L300.4 1282.3L303.7 1236.9L307.3 1271.8L310.6 1240.8L314.3 1291.9L317.7 1249.1L324.4 1248.8L328.1 1291.9L331.4 1274.0L335.3 1278.5L338.6 1248.8L342.0 1285.7L345.3 1258.4L348.7 1269.8L352.5 1256.2L355.9 1284.4L359.2 1261.2L362.6 1258.9L366.3 1254.5L369.6 1269.8L373.3 1279.3L376.7 1261.7L380.0 1245.5L383.4 1288.6L390.1 1250.0L393.9 1280.0L397.4 1272.8L400.7 1280.0L404.0 1268.9L408.0 1274.1L411.5 1273.6L418.3 1293.7L421.6 1308.3L425.1 1267.3L429.0 1264.4L432.5 1273.2L436.0 1273.2L439.8 1272.8L442.7 1282.0L446.6 1285.3L459.9 1268.3L463.8 1253.7L467.3 1267.7L470.4 1258.5L474.3 1269.3L477.8 1272.2L480.9 1274.7L484.6 1275.1L488.0 1285.9L491.5 1264.4L498.3 1272.2L501.6 1290.3L505.1 1282.9L508.6 1297.6L512.1 1280.0L515.9 1309.9L519.2 1289.8L522.7 1295.6L526.2 1291.1L529.5 1287.8L533.4 1290.7L536.7 1287.8L540.2 1289.8L543.8 1300.5L547.1 1283.9L550.4 1306.0L553.9 1295.6L557.4 1313.2L560.9 1292.3L564.2 1296.2L567.6 1265.0L571.1 1326.2L574.6 1326.8L578.3 1327.4L581.6 1306.0L585.1 1322.9L588.6 1301.5L592.0 1311.2L595.3 1321.0L599.2 1333.3L601.1 1345.0L602.7 1314.1L604.6 1299.5L607.0 1314.1L609.5 1346.3L612.8 1328.8L616.3 1336.0L620.2 1321.0L623.7 1309.2L627.1 1325.1L630.3 1321.4L634.0 1333.2L637.4 1322.9L641.3 1320.4L644.3 1309.2L647.7 1328.8L651.2 1303.8L654.6 1336.6L658.0 1351.6L661.6 1311.6L665.3 1272.9L668.6 1288.3L671.8 1337.2L675.6 1314.1L678.9 1345.7L682.5 1319.5L696.2 1304.8L703.6 1315.5L706.8 1331.0L710.1 1342.8L713.9 1339.1L717.1 1316.0L720.5 1281.3L724.2 1334.2L727.7 1328.3L731.1 1341.0L734.5 1338.3L737.7 1321.0L741.4 1326.3L744.8 1349.4L758.3 1346.9L762.4 1323.9L765.7 1341.6L769.4 1326.6L772.7 1334.7L776.0 1342.0L779.7 1338.6L793.6 1344.2L796.6 1314.1L800.7 1326.6L803.9 1316.0L807.2 1343.1L811.0 1312.6L842.2 1340.1L845.9 1331.7L849.5 1333.2L858.4 1347.5L862.5 1321.7L866.3 1319.8L870.1 1283.9L873.4 1314.3L877.0 1315.1L880.5 1308.5L883.8 1325.0L887.3 1310.7L890.9 1309.1L894.4 1312.9L897.7 1311.3L908.1 1310.7L911.7 1303.4L915.2 1306.7L918.5 1307.4L921.9 1305.6L925.2 1304.9L928.9 1310.7L932.5 1304.7L935.8 1226.1L939.4 1309.6L942.7 1292.1L946.5 1300.9L949.7 1298.1L953.4 1291.0L974.2 1292.4L977.8 1279.0L981.3 1306.9L984.8 1292.4" fill="none" stroke="#f08a8a" stroke-width="0.9"/>
<g fill="#e8262d"><circle cx="180.5" cy="1335.0" r="3.6"/><circle cx="224.1" cy="1297.8" r="3.6"/><circle cx="234.1" cy="1244.9" r="3.6"/><circle cx="237.5" cy="1302.8" r="3.6"/><circle cx="241.3" cy="1302.8" r="3.6"/><circle cx="244.7" cy="1305.3" r="3.6"/><circle cx="248.1" cy="1282.7" r="3.6"/><circle cx="251.4" cy="1288.6" r="3.6"/><circle cx="258.6" cy="1291.4" r="3.6"/><circle cx="269.0" cy="1243.3" r="3.6"/><circle cx="272.7" cy="1273.5" r="3.6"/><circle cx="276.1" cy="1306.2" r="3.6"/><circle cx="279.4" cy="1288.1" r="3.6"/><circle cx="283.3" cy="1249.5" r="3.6"/><circle cx="286.6" cy="1304.8" r="3.6"/><circle cx="290.0" cy="1251.3" r="3.6"/><circle cx="293.3" cy="1274.6" r="3.6"/><circle cx="297.2" cy="1252.2" r="3.6"/><circle cx="300.4" cy="1282.3" r="3.6"/><circle cx="303.7" cy="1236.9" r="3.6"/><circle cx="307.3" cy="1271.8" r="3.6"/><circle cx="310.6" cy="1240.8" r="3.6"/><circle cx="314.3" cy="1291.9" r="3.6"/><circle cx="317.7" cy="1249.1" r="3.6"/><circle cx="324.4" cy="1248.8" r="3.6"/><circle cx="328.1" cy="1291.9" r="3.6"/><circle cx="331.4" cy="1274.0" r="3.6"/><circle cx="335.3" cy="1278.5" r="3.6"/><circle cx="338.6" cy="1248.8" r="3.6"/><circle cx="342.0" cy="1285.7" r="3.6"/><circle cx="345.3" cy="1258.4" r="3.6"/><circle cx="348.7" cy="1269.8" r="3.6"/><circle cx="352.5" cy="1256.2" r="3.6"/><circle cx="355.9" cy="1284.4" r="3.6"/><circle cx="359.2" cy="1261.2" r="3.6"/><circle cx="362.6" cy="1258.9" r="3.6"/><circle cx="366.3" cy="1254.5" r="3.6"/><circle cx="369.6" cy="1269.8" r="3.6"/><circle cx="373.3" cy="1279.3" r="3.6"/><circle cx="376.7" cy="1261.7" r="3.6"/><circle cx="380.0" cy="1245.5" r="3.6"/><circle cx="383.4" cy="1288.6" r="3.6"/><circle cx="390.1" cy="1250.0" r="3.6"/><circle cx="393.9" cy="1280.0" r="3.6"/><circle cx="397.4" cy="1272.8" r="3.6"/><circle cx="400.7" cy="1280.0" r="3.6"/><circle cx="404.0" cy="1268.9" r="3.6"/><circle cx="408.0" cy="1274.1" r="3.6"/><circle cx="411.5" cy="1273.6" r="3.6"/><circle cx="418.3" cy="1293.7" r="3.6"/><circle cx="421.6" cy="1308.3" r="3.6"/><circle cx="425.1" cy="1267.3" r="3.6"/><circle cx="429.0" cy="1264.4" r="3.6"/><circle cx="432.5" cy="1273.2" r="3.6"/><circle cx="436.0" cy="1273.2" r="3.6"/><circle cx="439.8" cy="1272.8" r="3.6"/><circle cx="442.7" cy="1282.0" r="3.6"/><circle cx="446.6" cy="1285.3" r="3.6"/><circle cx="459.9" cy="1268.3" r="3.6"/><circle cx="463.8" cy="1253.7" r="3.6"/><circle cx="467.3" cy="1267.7" r="3.6"/><circle cx="470.4" cy="1258.5" r="3.6"/><circle cx="474.3" cy="1269.3" r="3.6"/><circle cx="477.8" cy="1272.2" r="3.6"/><circle cx="480.9" cy="1274.7" r="3.6"/><circle cx="484.6" cy="1275.1" r="3.6"/><circle cx="488.0" cy="1285.9" r="3.6"/><circle cx="491.5" cy="1264.4" r="3.6"/><circle cx="498.3" cy="1272.2" r="3.6"/><circle cx="501.6" cy="1290.3" r="3.6"/><circle cx="505.1" cy="1282.9" r="3.6"/><circle cx="508.6" cy="1297.6" r="3.6"/><circle cx="512.1" cy="1280.0" r="3.6"/><circle cx="515.9" cy="1309.9" r="3.6"/><circle cx="519.2" cy="1289.8" r="3.6"/><circle cx="522.7" cy="1295.6" r="3.6"/><circle cx="526.2" cy="1291.1" r="3.6"/><circle cx="529.5" cy="1287.8" r="3.6"/><circle cx="533.4" cy="1290.7" r="3.6"/><circle cx="536.7" cy="1287.8" r="3.6"/><circle cx="540.2" cy="1289.8" r="3.6"/><circle cx="543.8" cy="1300.5" r="3.6"/><circle cx="547.1" cy="1283.9" r="3.6"/><circle cx="550.4" cy="1306.0" r="3.6"/><circle cx="553.9" cy="1295.6" r="3.6"/><circle cx="557.4" cy="1313.2" r="3.6"/><circle cx="560.9" cy="1292.3" r="3.6"/><circle cx="564.2" cy="1296.2" r="3.6"/><circle cx="567.6" cy="1265.0" r="3.6"/><circle cx="571.1" cy="1326.2" r="3.6"/><circle cx="574.6" cy="1326.8" r="3.6"/><circle cx="578.3" cy="1327.4" r="3.6"/><circle cx="581.6" cy="1306.0" r="3.6"/><circle cx="585.1" cy="1322.9" r="3.6"/><circle cx="588.6" cy="1301.5" r="3.6"/><circle cx="592.0" cy="1311.2" r="3.6"/><circle cx="595.3" cy="1321.0" r="3.6"/><circle cx="599.2" cy="1333.3" r="3.6"/><circle cx="601.1" cy="1345.0" r="3.6"/><circle cx="602.7" cy="1314.1" r="3.6"/><circle cx="604.6" cy="1299.5" r="3.6"/><circle cx="607.0" cy="1314.1" r="3.6"/><circle cx="609.5" cy="1346.3" r="3.6"/><circle cx="612.8" cy="1328.8" r="3.6"/><circle cx="616.3" cy="1336.0" r="3.6"/><circle cx="620.2" cy="1321.0" r="3.6"/><circle cx="623.7" cy="1309.2" r="3.6"/><circle cx="627.1" cy="1325.1" r="3.6"/><circle cx="630.3" cy="1321.4" r="3.6"/><circle cx="634.0" cy="1333.2" r="3.6"/><circle cx="637.4" cy="1322.9" r="3.6"/><circle cx="641.3" cy="1320.4" r="3.6"/><circle cx="644.3" cy="1309.2" r="3.6"/><circle cx="647.7" cy="1328.8" r="3.6"/><circle cx="651.2" cy="1303.8" r="3.6"/><circle cx="654.6" cy="1336.6" r="3.6"/><circle cx="658.0" cy="1351.6" r="3.6"/><circle cx="661.6" cy="1311.6" r="3.6"/><circle cx="665.3" cy="1272.9" r="3.6"/><circle cx="668.6" cy="1288.3" r="3.6"/><circle cx="671.8" cy="1337.2" r="3.6"/><circle cx="675.6" cy="1314.1" r="3.6"/><circle cx="678.9" cy="1345.7" r="3.6"/><circle cx="682.5" cy="1319.5" r="3.6"/><circle cx="696.2" cy="1304.8" r="3.6"/><circle cx="703.6" cy="1315.5" r="3.6"/><circle cx="706.8" cy="1331.0" r="3.6"/><circle cx="710.1" cy="1342.8" r="3.6"/><circle cx="713.9" cy="1339.1" r="3.6"/><circle cx="717.1" cy="1316.0" r="3.6"/><circle cx="720.5" cy="1281.3" r="3.6"/><circle cx="724.2" cy="1334.2" r="3.6"/><circle cx="727.7" cy="1328.3" r="3.6"/><circle cx="731.1" cy="1341.0" r="3.6"/><circle cx="734.5" cy="1338.3" r="3.6"/><circle cx="737.7" cy="1321.0" r="3.6"/><circle cx="741.4" cy="1326.3" r="3.6"/><circle cx="744.8" cy="1349.4" r="3.6"/><circle cx="758.3" cy="1346.9" r="3.6"/><circle cx="762.4" cy="1323.9" r="3.6"/><circle cx="765.7" cy="1341.6" r="3.6"/><circle cx="769.4" cy="1326.6" r="3.6"/><circle cx="772.7" cy="1334.7" r="3.6"/><circle cx="776.0" cy="1342.0" r="3.6"/><circle cx="779.7" cy="1338.6" r="3.6"/><circle cx="793.6" cy="1344.2" r="3.6"/><circle cx="796.6" cy="1314.1" r="3.6"/><circle cx="800.7" cy="1326.6" r="3.6"/><circle cx="803.9" cy="1316.0" r="3.6"/><circle cx="807.2" cy="1343.1" r="3.6"/><circle cx="811.0" cy="1312.6" r="3.6"/><circle cx="842.2" cy="1340.1" r="3.6"/><circle cx="845.9" cy="1331.7" r="3.6"/><circle cx="849.5" cy="1333.2" r="3.6"/><circle cx="858.4" cy="1347.5" r="3.6"/><circle cx="862.5" cy="1321.7" r="3.6"/><circle cx="866.3" cy="1319.8" r="3.6"/><circle cx="870.1" cy="1283.9" r="3.6"/><circle cx="873.4" cy="1314.3" r="3.6"/><circle cx="877.0" cy="1315.1" r="3.6"/><circle cx="880.5" cy="1308.5" r="3.6"/><circle cx="883.8" cy="1325.0" r="3.6"/><circle cx="887.3" cy="1310.7" r="3.6"/><circle cx="890.9" cy="1309.1" r="3.6"/><circle cx="894.4" cy="1312.9" r="3.6"/><circle cx="897.7" cy="1311.3" r="3.6"/><circle cx="908.1" cy="1310.7" r="3.6"/><circle cx="911.7" cy="1303.4" r="3.6"/><circle cx="915.2" cy="1306.7" r="3.6"/><circle cx="918.5" cy="1307.4" r="3.6"/><circle cx="921.9" cy="1305.6" r="3.6"/><circle cx="925.2" cy="1304.9" r="3.6"/><circle cx="928.9" cy="1310.7" r="3.6"/><circle cx="932.5" cy="1304.7" r="3.6"/><circle cx="935.8" cy="1226.1" r="3.6"/><circle cx="939.4" cy="1309.6" r="3.6"/><circle cx="942.7" cy="1292.1" r="3.6"/><circle cx="946.5" cy="1300.9" r="3.6"/><circle cx="949.7" cy="1298.1" r="3.6"/><circle cx="953.4" cy="1291.0" r="3.6"/><circle cx="974.2" cy="1292.4" r="3.6"/><circle cx="977.8" cy="1279.0" r="3.6"/><circle cx="981.3" cy="1306.9" r="3.6"/><circle cx="984.8" cy="1292.4" r="3.6"/></g>
<rect x="1137.5" y="835.3" width="668.9000000000001" height="522.9000000000001" fill="none" stroke="#333" stroke-width="1.4"/>
<line x1="1137.50" y1="1358.20" x2="1147.50" y2="1358.20" stroke="#333" stroke-width="1.4" />
<text x="1122.0" y="1365.2" font-size="23" text-anchor="end" fill="#1c1c1c" >0</text>
<line x1="1137.50" y1="1283.50" x2="1147.50" y2="1283.50" stroke="#333" stroke-width="1.4" />
<text x="1122.0" y="1290.5" font-size="23" text-anchor="end" fill="#1c1c1c" >4</text>
<line x1="1137.50" y1="1208.80" x2="1147.50" y2="1208.80" stroke="#333" stroke-width="1.4" />
<text x="1122.0" y="1215.8" font-size="23" text-anchor="end" fill="#1c1c1c" >8</text>
<line x1="1137.50" y1="1134.10" x2="1147.50" y2="1134.10" stroke="#333" stroke-width="1.4" />
<text x="1122.0" y="1141.1" font-size="23" text-anchor="end" fill="#1c1c1c" >12</text>
<line x1="1137.50" y1="1059.40" x2="1147.50" y2="1059.40" stroke="#333" stroke-width="1.4" />
<text x="1122.0" y="1066.4" font-size="23" text-anchor="end" fill="#1c1c1c" >16</text>
<line x1="1137.50" y1="984.70" x2="1147.50" y2="984.70" stroke="#333" stroke-width="1.4" />
<text x="1122.0" y="991.7" font-size="23" text-anchor="end" fill="#1c1c1c" >20</text>
<line x1="1137.50" y1="910.00" x2="1147.50" y2="910.00" stroke="#333" stroke-width="1.4" />
<text x="1122.0" y="917.0" font-size="23" text-anchor="end" fill="#1c1c1c" >24</text>
<line x1="1137.50" y1="835.30" x2="1147.50" y2="835.30" stroke="#333" stroke-width="1.4" />
<text x="1122.0" y="842.3" font-size="23" text-anchor="end" fill="#1c1c1c" >28</text>
<line x1="1137.50" y1="1358.20" x2="1137.50" y2="1348.20" stroke="#333" stroke-width="1.4" />
<text x="1138.5" y="1391.0" font-size="23" text-anchor="middle" fill="#1c1c1c" >0</text>
<line x1="1204.39" y1="1358.20" x2="1204.39" y2="1348.20" stroke="#333" stroke-width="1.4" />
<text x="1205.4" y="1391.0" font-size="23" text-anchor="middle" fill="#1c1c1c" >25</text>
<line x1="1271.28" y1="1358.20" x2="1271.28" y2="1348.20" stroke="#333" stroke-width="1.4" />
<text x="1272.3" y="1391.0" font-size="23" text-anchor="middle" fill="#1c1c1c" >50</text>
<line x1="1338.17" y1="1358.20" x2="1338.17" y2="1348.20" stroke="#333" stroke-width="1.4" />
<text x="1339.2" y="1391.0" font-size="23" text-anchor="middle" fill="#1c1c1c" >75</text>
<line x1="1405.06" y1="1358.20" x2="1405.06" y2="1348.20" stroke="#333" stroke-width="1.4" />
<text x="1406.1" y="1391.0" font-size="23" text-anchor="middle" fill="#1c1c1c" >100</text>
<line x1="1471.95" y1="1358.20" x2="1471.95" y2="1348.20" stroke="#333" stroke-width="1.4" />
<text x="1473.0" y="1391.0" font-size="23" text-anchor="middle" fill="#1c1c1c" >125</text>
<line x1="1538.84" y1="1358.20" x2="1538.84" y2="1348.20" stroke="#333" stroke-width="1.4" />
<text x="1539.8" y="1391.0" font-size="23" text-anchor="middle" fill="#1c1c1c" >150</text>
<line x1="1605.73" y1="1358.20" x2="1605.73" y2="1348.20" stroke="#333" stroke-width="1.4" />
<text x="1606.7" y="1391.0" font-size="23" text-anchor="middle" fill="#1c1c1c" >175</text>
<line x1="1672.62" y1="1358.20" x2="1672.62" y2="1348.20" stroke="#333" stroke-width="1.4" />
<text x="1673.6" y="1391.0" font-size="23" text-anchor="middle" fill="#1c1c1c" >200</text>
<line x1="1739.51" y1="1358.20" x2="1739.51" y2="1348.20" stroke="#333" stroke-width="1.4" />
<text x="1740.5" y="1391.0" font-size="23" text-anchor="middle" fill="#1c1c1c" >225</text>
<line x1="1806.40" y1="1358.20" x2="1806.40" y2="1348.20" stroke="#333" stroke-width="1.4" />
<text x="1807.4" y="1391.0" font-size="23" text-anchor="middle" fill="#1c1c1c" >250</text>
<text x="1448.0" y="1435.6" font-size="27" text-anchor="start" fill="#1c1c1c" textLength="40.5" lengthAdjust="spacingAndGlyphs" >Sol</text>
<text x="1069.4" y="1182.5" font-size="26" text-anchor="start" fill="#1c1c1c" textLength="172.5" lengthAdjust="spacingAndGlyphs" transform="rotate(-90 1069.4 1182.5)" >Amplitude (K)</text>
<text x="1041.0" y="831.0" font-size="41" text-anchor="start" fill="#231f20" font-weight="bold" stroke="#231f20" stroke-width="1.3">d</text>
<text x="1173.0" y="975.2" font-size="26" text-anchor="start" fill="#1a1a1a" textLength="89.0" lengthAdjust="spacingAndGlyphs" >Diurnal</text>
<text x="1173.0" y="1003.7" font-size="26" text-anchor="start" fill="#2450a6" textLength="153.5" lengthAdjust="spacingAndGlyphs" >Semidiurnal</text>
<text x="1173.0" y="1032.5" font-size="26" text-anchor="start" fill="#e3262d" textLength="122.0" lengthAdjust="spacingAndGlyphs" >Terdiurnal</text>
<path d="M1182.3 905.2L1185.0 908.5L1190.9 899.7L1193.5 908.1L1211.9 904.5L1214.5 909.1L1217.4 896.7L1220.2 868.0L1222.8 884.8L1225.1 906.5L1228.3 907.2L1231.6 908.5L1233.6 912.4L1236.2 899.9L1238.9 902.6L1241.5 907.8L1244.1 910.5L1247.4 911.1L1250.0 911.8L1252.7 914.4L1254.6 906.5L1257.3 907.8L1260.6 909.8L1263.2 900.6L1265.8 901.9L1268.4 905.2L1271.1 907.8L1273.7 908.5L1276.3 900.6L1279.0 909.1L1281.6 918.3L1284.2 917.0L1286.8 913.1L1290.1 914.4L1292.8 917.7L1294.7 925.6L1297.4 928.2L1300.0 927.5L1302.6 924.3L1305.2 916.4L1307.9 915.7L1310.5 917.0L1313.1 919.7L1315.1 921.6L1316.4 930.2L1318.4 935.4L1321.0 938.7L1323.6 941.4L1326.3 943.3L1328.9 940.7L1331.5 938.1L1334.2 936.1L1336.8 927.5L1339.4 926.2L1342.0 926.2L1344.7 928.9L1347.3 930.2L1349.9 932.8L1352.6 935.4L1354.5 937.4L1357.2 940.0L1359.1 928.2L1361.1 919.0L1363.7 915.7L1366.4 914.4L1369.0 907.8L1371.0 904.5L1373.6 902.6L1376.2 903.2L1378.2 898.0L1380.8 900.6L1383.4 902.6L1386.1 911.1L1388.7 907.8L1391.3 905.2L1392.0 905.2L1399.2 907.2L1402.1 911.1L1406.0 905.9L1407.7 892.1L1410.4 881.5L1415.0 893.4L1418.3 891.4L1420.9 903.9L1424.8 901.3L1428.1 899.3L1430.7 909.8L1434.0 915.7L1437.3 914.4L1441.9 910.5L1445.2 903.2L1448.5 903.2L1451.8 905.2L1455.1 907.8L1457.7 910.5L1459.0 913.7L1461.0 926.9L1463.6 934.8L1466.9 928.9L1471.5 938.7L1474.8 930.8L1476.8 913.1L1479.4 917.0L1482.0 926.2L1484.6 914.4L1487.9 906.5L1490.6 910.5L1493.2 914.4L1495.8 905.2L1498.6 914.5L1500.8 944.6L1503.5 954.8L1506.6 957.2L1509.6 952.6L1512.9 953.9L1516.1 957.0L1519.4 958.6L1522.7 960.8L1526.0 960.2L1529.3 958.6L1532.8 954.8L1535.9 956.4L1538.6 959.7L1541.3 956.4L1543.8 935.9L1546.4 910.5L1549.0 903.2L1552.3 899.9L1555.6 903.2L1557.6 919.7L1560.2 935.4L1563.5 932.2L1567.4 930.2L1570.7 928.9L1573.4 921.0L1576.0 902.6L1578.0 918.3L1581.2 927.5L1584.3 921.6L1586.8 907.8L1589.1 895.3L1591.8 898.0L1594.4 889.4L1597.4 876.9L1600.3 884.8L1602.9 888.1L1605.6 899.9L1608.2 910.5L1610.2 893.4L1613.4 892.1L1616.1 890.7L1618.7 882.2L1621.6 877.6L1629.6 892.7L1632.5 894.3L1634.1 888.2L1636.9 883.1L1639.8 879.8L1643.1 888.7L1645.9 885.9L1648.2 875.8L1656.3 866.3L1658.8 881.4L1661.4 891.0L1664.5 873.6L1667.3 882.0L1669.5 893.8L1672.0 905.6L1674.9 917.9L1693.6 904.5L1696.4 896.6L1699.8 903.3L1704.3 910.6L1707.1 906.7L1709.4 901.1L1712.2 906.7L1717.8 905.0L1720.6 915.1L1723.4 916.8L1728.4 915.7L1731.3 910.6L1736.3 911.7L1739.1 906.1L1742.5 903.9L1747.5 902.8L1752.6 909.5L1755.4 900.0L1758.0 893.8L1761.0 899.4L1763.3 904.5L1766.1 899.4L1768.9 904.5L1771.7 914.0L1775.0 914.6L1776.2 898.3L1779.5 893.2L1781.8 902.2L1795.2 894.9L1798.1 904.5L1800.9 920.2L1803.7 932.5" fill="none" stroke="#231f20" stroke-width="1.5" stroke-dasharray="3.3 1.9"/>
<g fill="#231f20" stroke="#231f20" stroke-width="1"><circle cx="1182.3" cy="905.2" r="3.55"/><circle cx="1185.0" cy="908.5" r="3.55"/><circle cx="1190.9" cy="899.7" r="3.55"/><circle cx="1193.5" cy="908.1" r="3.55"/><circle cx="1211.9" cy="904.5" r="3.55"/><circle cx="1214.5" cy="909.1" r="3.55"/><circle cx="1217.4" cy="896.7" r="3.55"/><circle cx="1220.2" cy="868.0" r="3.55"/><circle cx="1222.8" cy="884.8" r="3.55"/><circle cx="1225.1" cy="906.5" r="3.55"/><circle cx="1228.3" cy="907.2" r="3.55"/><circle cx="1231.6" cy="908.5" r="3.55"/><circle cx="1233.6" cy="912.4" r="3.55"/><circle cx="1236.2" cy="899.9" r="3.55"/><circle cx="1238.9" cy="902.6" r="3.55"/><circle cx="1241.5" cy="907.8" r="3.55"/><circle cx="1244.1" cy="910.5" r="3.55"/><circle cx="1247.4" cy="911.1" r="3.55"/><circle cx="1250.0" cy="911.8" r="3.55"/><circle cx="1252.7" cy="914.4" r="3.55"/><circle cx="1254.6" cy="906.5" r="3.55"/><circle cx="1257.3" cy="907.8" r="3.55"/><circle cx="1260.6" cy="909.8" r="3.55"/><circle cx="1263.2" cy="900.6" r="3.55"/><circle cx="1265.8" cy="901.9" r="3.55"/><circle cx="1268.4" cy="905.2" r="3.55"/><circle cx="1271.1" cy="907.8" r="3.55"/><circle cx="1273.7" cy="908.5" r="3.55"/><circle cx="1276.3" cy="900.6" r="3.55"/><circle cx="1279.0" cy="909.1" r="3.55"/><circle cx="1281.6" cy="918.3" r="3.55"/><circle cx="1284.2" cy="917.0" r="3.55"/><circle cx="1286.8" cy="913.1" r="3.55"/><circle cx="1290.1" cy="914.4" r="3.55"/><circle cx="1292.8" cy="917.7" r="3.55"/><circle cx="1294.7" cy="925.6" r="3.55"/><circle cx="1297.4" cy="928.2" r="3.55"/><circle cx="1300.0" cy="927.5" r="3.55"/><circle cx="1302.6" cy="924.3" r="3.55"/><circle cx="1305.2" cy="916.4" r="3.55"/><circle cx="1307.9" cy="915.7" r="3.55"/><circle cx="1310.5" cy="917.0" r="3.55"/><circle cx="1313.1" cy="919.7" r="3.55"/><circle cx="1315.1" cy="921.6" r="3.55"/><circle cx="1316.4" cy="930.2" r="3.55"/><circle cx="1318.4" cy="935.4" r="3.55"/><circle cx="1321.0" cy="938.7" r="3.55"/><circle cx="1323.6" cy="941.4" r="3.55"/><circle cx="1326.3" cy="943.3" r="3.55"/><circle cx="1328.9" cy="940.7" r="3.55"/><circle cx="1331.5" cy="938.1" r="3.55"/><circle cx="1334.2" cy="936.1" r="3.55"/><circle cx="1336.8" cy="927.5" r="3.55"/><circle cx="1339.4" cy="926.2" r="3.55"/><circle cx="1342.0" cy="926.2" r="3.55"/><circle cx="1344.7" cy="928.9" r="3.55"/><circle cx="1347.3" cy="930.2" r="3.55"/><circle cx="1349.9" cy="932.8" r="3.55"/><circle cx="1352.6" cy="935.4" r="3.55"/><circle cx="1354.5" cy="937.4" r="3.55"/><circle cx="1357.2" cy="940.0" r="3.55"/><circle cx="1359.1" cy="928.2" r="3.55"/><circle cx="1361.1" cy="919.0" r="3.55"/><circle cx="1363.7" cy="915.7" r="3.55"/><circle cx="1366.4" cy="914.4" r="3.55"/><circle cx="1369.0" cy="907.8" r="3.55"/><circle cx="1371.0" cy="904.5" r="3.55"/><circle cx="1373.6" cy="902.6" r="3.55"/><circle cx="1376.2" cy="903.2" r="3.55"/><circle cx="1378.2" cy="898.0" r="3.55"/><circle cx="1380.8" cy="900.6" r="3.55"/><circle cx="1383.4" cy="902.6" r="3.55"/><circle cx="1386.1" cy="911.1" r="3.55"/><circle cx="1388.7" cy="907.8" r="3.55"/><circle cx="1391.3" cy="905.2" r="3.55"/><circle cx="1392.0" cy="905.2" r="3.55"/><circle cx="1399.2" cy="907.2" r="3.55"/><circle cx="1402.1" cy="911.1" r="3.55"/><circle cx="1406.0" cy="905.9" r="3.55"/><circle cx="1407.7" cy="892.1" r="3.55"/><circle cx="1410.4" cy="881.5" r="3.55"/><circle cx="1415.0" cy="893.4" r="3.55"/><circle cx="1418.3" cy="891.4" r="3.55"/><circle cx="1420.9" cy="903.9" r="3.55"/><circle cx="1424.8" cy="901.3" r="3.55"/><circle cx="1428.1" cy="899.3" r="3.55"/><circle cx="1430.7" cy="909.8" r="3.55"/><circle cx="1434.0" cy="915.7" r="3.55"/><circle cx="1437.3" cy="914.4" r="3.55"/><circle cx="1441.9" cy="910.5" r="3.55"/><circle cx="1445.2" cy="903.2" r="3.55"/><circle cx="1448.5" cy="903.2" r="3.55"/><circle cx="1451.8" cy="905.2" r="3.55"/><circle cx="1455.1" cy="907.8" r="3.55"/><circle cx="1457.7" cy="910.5" r="3.55"/><circle cx="1459.0" cy="913.7" r="3.55"/><circle cx="1461.0" cy="926.9" r="3.55"/><circle cx="1463.6" cy="934.8" r="3.55"/><circle cx="1466.9" cy="928.9" r="3.55"/><circle cx="1471.5" cy="938.7" r="3.55"/><circle cx="1474.8" cy="930.8" r="3.55"/><circle cx="1476.8" cy="913.1" r="3.55"/><circle cx="1479.4" cy="917.0" r="3.55"/><circle cx="1482.0" cy="926.2" r="3.55"/><circle cx="1484.6" cy="914.4" r="3.55"/><circle cx="1487.9" cy="906.5" r="3.55"/><circle cx="1490.6" cy="910.5" r="3.55"/><circle cx="1493.2" cy="914.4" r="3.55"/><circle cx="1495.8" cy="905.2" r="3.55"/><circle cx="1498.6" cy="914.5" r="3.55"/><circle cx="1500.8" cy="944.6" r="3.55"/><circle cx="1503.5" cy="954.8" r="3.55"/><circle cx="1506.6" cy="957.2" r="3.55"/><circle cx="1509.6" cy="952.6" r="3.55"/><circle cx="1512.9" cy="953.9" r="3.55"/><circle cx="1516.1" cy="957.0" r="3.55"/><circle cx="1519.4" cy="958.6" r="3.55"/><circle cx="1522.7" cy="960.8" r="3.55"/><circle cx="1526.0" cy="960.2" r="3.55"/><circle cx="1529.3" cy="958.6" r="3.55"/><circle cx="1532.8" cy="954.8" r="3.55"/><circle cx="1535.9" cy="956.4" r="3.55"/><circle cx="1538.6" cy="959.7" r="3.55"/><circle cx="1541.3" cy="956.4" r="3.55"/><circle cx="1543.8" cy="935.9" r="3.55"/><circle cx="1546.4" cy="910.5" r="3.55"/><circle cx="1549.0" cy="903.2" r="3.55"/><circle cx="1552.3" cy="899.9" r="3.55"/><circle cx="1555.6" cy="903.2" r="3.55"/><circle cx="1557.6" cy="919.7" r="3.55"/><circle cx="1560.2" cy="935.4" r="3.55"/><circle cx="1563.5" cy="932.2" r="3.55"/><circle cx="1567.4" cy="930.2" r="3.55"/><circle cx="1570.7" cy="928.9" r="3.55"/><circle cx="1573.4" cy="921.0" r="3.55"/><circle cx="1576.0" cy="902.6" r="3.55"/><circle cx="1578.0" cy="918.3" r="3.55"/><circle cx="1581.2" cy="927.5" r="3.55"/><circle cx="1584.3" cy="921.6" r="3.55"/><circle cx="1586.8" cy="907.8" r="3.55"/><circle cx="1589.1" cy="895.3" r="3.55"/><circle cx="1591.8" cy="898.0" r="3.55"/><circle cx="1594.4" cy="889.4" r="3.55"/><circle cx="1597.4" cy="876.9" r="3.55"/><circle cx="1600.3" cy="884.8" r="3.55"/><circle cx="1602.9" cy="888.1" r="3.55"/><circle cx="1605.6" cy="899.9" r="3.55"/><circle cx="1608.2" cy="910.5" r="3.55"/><circle cx="1610.2" cy="893.4" r="3.55"/><circle cx="1613.4" cy="892.1" r="3.55"/><circle cx="1616.1" cy="890.7" r="3.55"/><circle cx="1618.7" cy="882.2" r="3.55"/><circle cx="1621.6" cy="877.6" r="3.55"/><circle cx="1629.6" cy="892.7" r="3.55"/><circle cx="1632.5" cy="894.3" r="3.55"/><circle cx="1634.1" cy="888.2" r="3.55"/><circle cx="1636.9" cy="883.1" r="3.55"/><circle cx="1639.8" cy="879.8" r="3.55"/><circle cx="1643.1" cy="888.7" r="3.55"/><circle cx="1645.9" cy="885.9" r="3.55"/><circle cx="1648.2" cy="875.8" r="3.55"/><circle cx="1656.3" cy="866.3" r="3.55"/><circle cx="1658.8" cy="881.4" r="3.55"/><circle cx="1661.4" cy="891.0" r="3.55"/><circle cx="1664.5" cy="873.6" r="3.55"/><circle cx="1667.3" cy="882.0" r="3.55"/><circle cx="1669.5" cy="893.8" r="3.55"/><circle cx="1672.0" cy="905.6" r="3.55"/><circle cx="1674.9" cy="917.9" r="3.55"/><circle cx="1693.6" cy="904.5" r="3.55"/><circle cx="1696.4" cy="896.6" r="3.55"/><circle cx="1699.8" cy="903.3" r="3.55"/><circle cx="1704.3" cy="910.6" r="3.55"/><circle cx="1707.1" cy="906.7" r="3.55"/><circle cx="1709.4" cy="901.1" r="3.55"/><circle cx="1712.2" cy="906.7" r="3.55"/><circle cx="1717.8" cy="905.0" r="3.55"/><circle cx="1720.6" cy="915.1" r="3.55"/><circle cx="1723.4" cy="916.8" r="3.55"/><circle cx="1728.4" cy="915.7" r="3.55"/><circle cx="1731.3" cy="910.6" r="3.55"/><circle cx="1736.3" cy="911.7" r="3.55"/><circle cx="1739.1" cy="906.1" r="3.55"/><circle cx="1742.5" cy="903.9" r="3.55"/><circle cx="1747.5" cy="902.8" r="3.55"/><circle cx="1752.6" cy="909.5" r="3.55"/><circle cx="1755.4" cy="900.0" r="3.55"/><circle cx="1758.0" cy="893.8" r="3.55"/><circle cx="1761.0" cy="899.4" r="3.55"/><circle cx="1763.3" cy="904.5" r="3.55"/><circle cx="1766.1" cy="899.4" r="3.55"/><circle cx="1768.9" cy="904.5" r="3.55"/><circle cx="1771.7" cy="914.0" r="3.55"/><circle cx="1775.0" cy="914.6" r="3.55"/><circle cx="1776.2" cy="898.3" r="3.55"/><circle cx="1779.5" cy="893.2" r="3.55"/><circle cx="1781.8" cy="902.2" r="3.55"/><circle cx="1795.2" cy="894.9" r="3.55"/><circle cx="1798.1" cy="904.5" r="3.55"/><circle cx="1800.9" cy="920.2" r="3.55"/><circle cx="1803.7" cy="932.5" r="3.55"/></g>
<path d="M1182.5 1248.1L1185.4 1246.2L1190.7 1268.9L1193.4 1267.8L1212.0 1273.8L1214.8 1262.9L1217.2 1251.9L1220.0 1247.0L1223.3 1247.0L1225.7 1254.6L1228.1 1265.6L1230.6 1259.6L1233.2 1261.2L1236.1 1257.9L1238.9 1256.8L1241.6 1263.4L1244.3 1259.0L1247.1 1262.3L1251.8 1270.0L1254.7 1272.7L1257.5 1266.1L1260.2 1271.1L1263.0 1264.5L1265.7 1259.6L1268.4 1266.7L1271.2 1267.8L1273.9 1262.9L1276.6 1264.0L1279.4 1265.0L1281.8 1270.0L1284.3 1271.1L1287.1 1267.2L1289.8 1270.0L1292.5 1266.1L1295.3 1267.8L1297.8 1265.0L1300.7 1267.8L1302.9 1278.7L1305.7 1282.6L1308.4 1277.1L1311.2 1273.8L1313.9 1278.2L1316.6 1282.0L1319.4 1283.7L1321.9 1290.2L1324.3 1295.5L1327.4 1296.3L1329.6 1281.5L1332.5 1273.8L1335.2 1274.4L1338.0 1277.1L1340.5 1284.2L1343.1 1294.1L1345.7 1287.0L1348.4 1280.9L1351.1 1286.4L1354.2 1290.9L1356.8 1284.9L1359.3 1277.8L1362.0 1283.3L1364.8 1299.1L1367.3 1291.5L1369.9 1281.4L1372.5 1286.5L1375.2 1272.9L1377.9 1272.9L1380.7 1267.4L1383.4 1265.2L1386.1 1280.0L1388.6 1283.8L1391.4 1276.7L1399.3 1287.6L1402.0 1277.2L1404.8 1271.2L1407.2 1268.3L1410.0 1279.4L1412.7 1287.1L1415.5 1272.9L1418.1 1263.0L1421.0 1268.7L1423.6 1283.8L1426.5 1284.9L1428.9 1275.0L1431.6 1266.3L1434.3 1269.0L1437.1 1277.2L1439.6 1278.9L1442.2 1276.1L1444.7 1271.2L1447.5 1278.3L1450.2 1286.5L1453.0 1283.3L1455.7 1279.4L1458.4 1275.6L1461.2 1271.2L1463.9 1282.7L1466.1 1290.9L1468.8 1286.5L1471.6 1281.6L1474.3 1281.6L1477.1 1276.1L1479.8 1274.0L1482.5 1278.9L1485.3 1286.5L1488.0 1284.9L1490.7 1280.0L1492.9 1282.2L1495.7 1274.5L1498.4 1284.9L1501.2 1289.8L1503.9 1293.1L1506.6 1292.4L1509.4 1290.4L1511.9 1283.8L1514.3 1284.4L1517.0 1287.1L1519.8 1289.1L1522.5 1290.9L1525.2 1288.2L1527.7 1290.9L1530.5 1295.9L1533.1 1296.4L1535.7 1297.5L1538.4 1293.7L1541.1 1288.7L1541.6 1288.2L1544.4 1297.0L1546.8 1294.2L1549.3 1286.5L1552.0 1284.4L1554.8 1286.0L1557.5 1286.5L1560.3 1292.0L1563.0 1295.3L1565.4 1299.7L1567.9 1299.7L1570.7 1294.8L1573.4 1302.4L1576.1 1295.9L1578.6 1308.5L1581.4 1308.5L1583.8 1302.4L1586.5 1294.2L1589.3 1289.3L1592.0 1300.0L1594.8 1299.7L1597.2 1307.4L1600.0 1317.8L1602.7 1309.0L1605.5 1297.0L1608.1 1284.4L1610.6 1293.5L1613.6 1298.1L1616.1 1284.9L1618.9 1293.5L1621.6 1305.2L1629.6 1303.3L1632.6 1293.1L1634.7 1302.4L1636.9 1311.2L1639.7 1311.2L1643.0 1310.1L1645.7 1305.7L1648.4 1295.9L1651.2 1301.3L1655.6 1306.8L1658.8 1307.4L1661.6 1311.7L1664.3 1307.9L1667.1 1314.5L1669.8 1308.5L1672.5 1291.5L1674.9 1285.5L1693.3 1287.6L1696.1 1288.7L1698.8 1288.2L1702.7 1294.1L1706.8 1294.8L1709.9 1296.1L1712.3 1300.2L1715.1 1300.2L1717.8 1308.8L1720.5 1303.3L1722.9 1298.5L1725.7 1301.6L1728.1 1297.2L1730.8 1296.5L1733.5 1299.6L1736.3 1300.9L1739.0 1295.1L1741.8 1292.0L1744.5 1307.1L1747.2 1312.2L1749.3 1298.2L1752.0 1296.1L1754.8 1294.8L1757.8 1293.1L1760.2 1305.0L1763.0 1306.4L1765.7 1303.0L1768.5 1300.9L1771.2 1280.4L1773.9 1284.8L1776.7 1303.0L1779.4 1305.7L1782.1 1306.1L1794.8 1298.5L1797.9 1294.8L1800.6 1289.3L1803.4 1280.7" fill="none" stroke="#2453b0" stroke-width="1.5" stroke-dasharray="3.3 1.9"/>
<g fill="#2453b0" stroke="#231f20" stroke-width="1"><circle cx="1182.5" cy="1248.1" r="3.55"/><circle cx="1185.4" cy="1246.2" r="3.55"/><circle cx="1190.7" cy="1268.9" r="3.55"/><circle cx="1193.4" cy="1267.8" r="3.55"/><circle cx="1212.0" cy="1273.8" r="3.55"/><circle cx="1214.8" cy="1262.9" r="3.55"/><circle cx="1217.2" cy="1251.9" r="3.55"/><circle cx="1220.0" cy="1247.0" r="3.55"/><circle cx="1223.3" cy="1247.0" r="3.55"/><circle cx="1225.7" cy="1254.6" r="3.55"/><circle cx="1228.1" cy="1265.6" r="3.55"/><circle cx="1230.6" cy="1259.6" r="3.55"/><circle cx="1233.2" cy="1261.2" r="3.55"/><circle cx="1236.1" cy="1257.9" r="3.55"/><circle cx="1238.9" cy="1256.8" r="3.55"/><circle cx="1241.6" cy="1263.4" r="3.55"/><circle cx="1244.3" cy="1259.0" r="3.55"/><circle cx="1247.1" cy="1262.3" r="3.55"/><circle cx="1251.8" cy="1270.0" r="3.55"/><circle cx="1254.7" cy="1272.7" r="3.55"/><circle cx="1257.5" cy="1266.1" r="3.55"/><circle cx="1260.2" cy="1271.1" r="3.55"/><circle cx="1263.0" cy="1264.5" r="3.55"/><circle cx="1265.7" cy="1259.6" r="3.55"/><circle cx="1268.4" cy="1266.7" r="3.55"/><circle cx="1271.2" cy="1267.8" r="3.55"/><circle cx="1273.9" cy="1262.9" r="3.55"/><circle cx="1276.6" cy="1264.0" r="3.55"/><circle cx="1279.4" cy="1265.0" r="3.55"/><circle cx="1281.8" cy="1270.0" r="3.55"/><circle cx="1284.3" cy="1271.1" r="3.55"/><circle cx="1287.1" cy="1267.2" r="3.55"/><circle cx="1289.8" cy="1270.0" r="3.55"/><circle cx="1292.5" cy="1266.1" r="3.55"/><circle cx="1295.3" cy="1267.8" r="3.55"/><circle cx="1297.8" cy="1265.0" r="3.55"/><circle cx="1300.7" cy="1267.8" r="3.55"/><circle cx="1302.9" cy="1278.7" r="3.55"/><circle cx="1305.7" cy="1282.6" r="3.55"/><circle cx="1308.4" cy="1277.1" r="3.55"/><circle cx="1311.2" cy="1273.8" r="3.55"/><circle cx="1313.9" cy="1278.2" r="3.55"/><circle cx="1316.6" cy="1282.0" r="3.55"/><circle cx="1319.4" cy="1283.7" r="3.55"/><circle cx="1321.9" cy="1290.2" r="3.55"/><circle cx="1324.3" cy="1295.5" r="3.55"/><circle cx="1327.4" cy="1296.3" r="3.55"/><circle cx="1329.6" cy="1281.5" r="3.55"/><circle cx="1332.5" cy="1273.8" r="3.55"/><circle cx="1335.2" cy="1274.4" r="3.55"/><circle cx="1338.0" cy="1277.1" r="3.55"/><circle cx="1340.5" cy="1284.2" r="3.55"/><circle cx="1343.1" cy="1294.1" r="3.55"/><circle cx="1345.7" cy="1287.0" r="3.55"/><circle cx="1348.4" cy="1280.9" r="3.55"/><circle cx="1351.1" cy="1286.4" r="3.55"/><circle cx="1354.2" cy="1290.9" r="3.55"/><circle cx="1356.8" cy="1284.9" r="3.55"/><circle cx="1359.3" cy="1277.8" r="3.55"/><circle cx="1362.0" cy="1283.3" r="3.55"/><circle cx="1364.8" cy="1299.1" r="3.55"/><circle cx="1367.3" cy="1291.5" r="3.55"/><circle cx="1369.9" cy="1281.4" r="3.55"/><circle cx="1372.5" cy="1286.5" r="3.55"/><circle cx="1375.2" cy="1272.9" r="3.55"/><circle cx="1377.9" cy="1272.9" r="3.55"/><circle cx="1380.7" cy="1267.4" r="3.55"/><circle cx="1383.4" cy="1265.2" r="3.55"/><circle cx="1386.1" cy="1280.0" r="3.55"/><circle cx="1388.6" cy="1283.8" r="3.55"/><circle cx="1391.4" cy="1276.7" r="3.55"/><circle cx="1399.3" cy="1287.6" r="3.55"/><circle cx="1402.0" cy="1277.2" r="3.55"/><circle cx="1404.8" cy="1271.2" r="3.55"/><circle cx="1407.2" cy="1268.3" r="3.55"/><circle cx="1410.0" cy="1279.4" r="3.55"/><circle cx="1412.7" cy="1287.1" r="3.55"/><circle cx="1415.5" cy="1272.9" r="3.55"/><circle cx="1418.1" cy="1263.0" r="3.55"/><circle cx="1421.0" cy="1268.7" r="3.55"/><circle cx="1423.6" cy="1283.8" r="3.55"/><circle cx="1426.5" cy="1284.9" r="3.55"/><circle cx="1428.9" cy="1275.0" r="3.55"/><circle cx="1431.6" cy="1266.3" r="3.55"/><circle cx="1434.3" cy="1269.0" r="3.55"/><circle cx="1437.1" cy="1277.2" r="3.55"/><circle cx="1439.6" cy="1278.9" r="3.55"/><circle cx="1442.2" cy="1276.1" r="3.55"/><circle cx="1444.7" cy="1271.2" r="3.55"/><circle cx="1447.5" cy="1278.3" r="3.55"/><circle cx="1450.2" cy="1286.5" r="3.55"/><circle cx="1453.0" cy="1283.3" r="3.55"/><circle cx="1455.7" cy="1279.4" r="3.55"/><circle cx="1458.4" cy="1275.6" r="3.55"/><circle cx="1461.2" cy="1271.2" r="3.55"/><circle cx="1463.9" cy="1282.7" r="3.55"/><circle cx="1466.1" cy="1290.9" r="3.55"/><circle cx="1468.8" cy="1286.5" r="3.55"/><circle cx="1471.6" cy="1281.6" r="3.55"/><circle cx="1474.3" cy="1281.6" r="3.55"/><circle cx="1477.1" cy="1276.1" r="3.55"/><circle cx="1479.8" cy="1274.0" r="3.55"/><circle cx="1482.5" cy="1278.9" r="3.55"/><circle cx="1485.3" cy="1286.5" r="3.55"/><circle cx="1488.0" cy="1284.9" r="3.55"/><circle cx="1490.7" cy="1280.0" r="3.55"/><circle cx="1492.9" cy="1282.2" r="3.55"/><circle cx="1495.7" cy="1274.5" r="3.55"/><circle cx="1498.4" cy="1284.9" r="3.55"/><circle cx="1501.2" cy="1289.8" r="3.55"/><circle cx="1503.9" cy="1293.1" r="3.55"/><circle cx="1506.6" cy="1292.4" r="3.55"/><circle cx="1509.4" cy="1290.4" r="3.55"/><circle cx="1511.9" cy="1283.8" r="3.55"/><circle cx="1514.3" cy="1284.4" r="3.55"/><circle cx="1517.0" cy="1287.1" r="3.55"/><circle cx="1519.8" cy="1289.1" r="3.55"/><circle cx="1522.5" cy="1290.9" r="3.55"/><circle cx="1525.2" cy="1288.2" r="3.55"/><circle cx="1527.7" cy="1290.9" r="3.55"/><circle cx="1530.5" cy="1295.9" r="3.55"/><circle cx="1533.1" cy="1296.4" r="3.55"/><circle cx="1535.7" cy="1297.5" r="3.55"/><circle cx="1538.4" cy="1293.7" r="3.55"/><circle cx="1541.1" cy="1288.7" r="3.55"/><circle cx="1541.6" cy="1288.2" r="3.55"/><circle cx="1544.4" cy="1297.0" r="3.55"/><circle cx="1546.8" cy="1294.2" r="3.55"/><circle cx="1549.3" cy="1286.5" r="3.55"/><circle cx="1552.0" cy="1284.4" r="3.55"/><circle cx="1554.8" cy="1286.0" r="3.55"/><circle cx="1557.5" cy="1286.5" r="3.55"/><circle cx="1560.3" cy="1292.0" r="3.55"/><circle cx="1563.0" cy="1295.3" r="3.55"/><circle cx="1565.4" cy="1299.7" r="3.55"/><circle cx="1567.9" cy="1299.7" r="3.55"/><circle cx="1570.7" cy="1294.8" r="3.55"/><circle cx="1573.4" cy="1302.4" r="3.55"/><circle cx="1576.1" cy="1295.9" r="3.55"/><circle cx="1578.6" cy="1308.5" r="3.55"/><circle cx="1581.4" cy="1308.5" r="3.55"/><circle cx="1583.8" cy="1302.4" r="3.55"/><circle cx="1586.5" cy="1294.2" r="3.55"/><circle cx="1589.3" cy="1289.3" r="3.55"/><circle cx="1592.0" cy="1300.0" r="3.55"/><circle cx="1594.8" cy="1299.7" r="3.55"/><circle cx="1597.2" cy="1307.4" r="3.55"/><circle cx="1600.0" cy="1317.8" r="3.55"/><circle cx="1602.7" cy="1309.0" r="3.55"/><circle cx="1605.5" cy="1297.0" r="3.55"/><circle cx="1608.1" cy="1284.4" r="3.55"/><circle cx="1610.6" cy="1293.5" r="3.55"/><circle cx="1613.6" cy="1298.1" r="3.55"/><circle cx="1616.1" cy="1284.9" r="3.55"/><circle cx="1618.9" cy="1293.5" r="3.55"/><circle cx="1621.6" cy="1305.2" r="3.55"/><circle cx="1629.6" cy="1303.3" r="3.55"/><circle cx="1632.6" cy="1293.1" r="3.55"/><circle cx="1634.7" cy="1302.4" r="3.55"/><circle cx="1636.9" cy="1311.2" r="3.55"/><circle cx="1639.7" cy="1311.2" r="3.55"/><circle cx="1643.0" cy="1310.1" r="3.55"/><circle cx="1645.7" cy="1305.7" r="3.55"/><circle cx="1648.4" cy="1295.9" r="3.55"/><circle cx="1651.2" cy="1301.3" r="3.55"/><circle cx="1655.6" cy="1306.8" r="3.55"/><circle cx="1658.8" cy="1307.4" r="3.55"/><circle cx="1661.6" cy="1311.7" r="3.55"/><circle cx="1664.3" cy="1307.9" r="3.55"/><circle cx="1667.1" cy="1314.5" r="3.55"/><circle cx="1669.8" cy="1308.5" r="3.55"/><circle cx="1672.5" cy="1291.5" r="3.55"/><circle cx="1674.9" cy="1285.5" r="3.55"/><circle cx="1693.3" cy="1287.6" r="3.55"/><circle cx="1696.1" cy="1288.7" r="3.55"/><circle cx="1698.8" cy="1288.2" r="3.55"/><circle cx="1702.7" cy="1294.1" r="3.55"/><circle cx="1706.8" cy="1294.8" r="3.55"/><circle cx="1709.9" cy="1296.1" r="3.55"/><circle cx="1712.3" cy="1300.2" r="3.55"/><circle cx="1715.1" cy="1300.2" r="3.55"/><circle cx="1717.8" cy="1308.8" r="3.55"/><circle cx="1720.5" cy="1303.3" r="3.55"/><circle cx="1722.9" cy="1298.5" r="3.55"/><circle cx="1725.7" cy="1301.6" r="3.55"/><circle cx="1728.1" cy="1297.2" r="3.55"/><circle cx="1730.8" cy="1296.5" r="3.55"/><circle cx="1733.5" cy="1299.6" r="3.55"/><circle cx="1736.3" cy="1300.9" r="3.55"/><circle cx="1739.0" cy="1295.1" r="3.55"/><circle cx="1741.8" cy="1292.0" r="3.55"/><circle cx="1744.5" cy="1307.1" r="3.55"/><circle cx="1747.2" cy="1312.2" r="3.55"/><circle cx="1749.3" cy="1298.2" r="3.55"/><circle cx="1752.0" cy="1296.1" r="3.55"/><circle cx="1754.8" cy="1294.8" r="3.55"/><circle cx="1757.8" cy="1293.1" r="3.55"/><circle cx="1760.2" cy="1305.0" r="3.55"/><circle cx="1763.0" cy="1306.4" r="3.55"/><circle cx="1765.7" cy="1303.0" r="3.55"/><circle cx="1768.5" cy="1300.9" r="3.55"/><circle cx="1771.2" cy="1280.4" r="3.55"/><circle cx="1773.9" cy="1284.8" r="3.55"/><circle cx="1776.7" cy="1303.0" r="3.55"/><circle cx="1779.4" cy="1305.7" r="3.55"/><circle cx="1782.1" cy="1306.1" r="3.55"/><circle cx="1794.8" cy="1298.5" r="3.55"/><circle cx="1797.9" cy="1294.8" r="3.55"/><circle cx="1800.6" cy="1289.3" r="3.55"/><circle cx="1803.4" cy="1280.7" r="3.55"/></g>
<path d="M1177.0 1317.6L1179.7 1316.5L1182.5 1319.3L1185.4 1323.1L1190.7 1325.3L1193.4 1326.4L1212.0 1293.3L1214.8 1311.6L1217.5 1317.6L1220.0 1299.0L1223.3 1299.6L1225.7 1308.3L1228.1 1313.8L1230.6 1318.5L1233.2 1311.1L1236.1 1311.3L1238.9 1312.7L1241.6 1307.8L1244.3 1308.9L1247.1 1311.1L1252.0 1314.3L1254.7 1326.9L1257.5 1322.6L1260.2 1311.9L1263.0 1317.6L1265.7 1321.5L1268.4 1325.8L1271.2 1327.5L1273.4 1321.5L1276.1 1314.6L1278.8 1308.6L1281.8 1317.1L1284.3 1320.9L1287.1 1322.6L1289.8 1323.1L1292.5 1319.8L1295.3 1320.9L1297.8 1316.5L1300.7 1317.6L1302.9 1322.6L1305.7 1327.5L1308.4 1326.4L1311.2 1318.2L1313.9 1322.6L1316.6 1310.5L1319.4 1303.4L1321.9 1305.6L1324.3 1308.3L1327.4 1307.2L1330.9 1299.0L1332.8 1302.8L1335.2 1307.2L1337.4 1318.7L1340.5 1319.8L1343.1 1320.4L1345.7 1322.0L1348.4 1317.1L1351.1 1312.1L1354.2 1305.7L1356.8 1307.9L1359.3 1315.0L1362.0 1308.5L1364.8 1293.7L1367.3 1299.1L1369.9 1304.6L1372.5 1298.1L1375.2 1287.1L1377.9 1286.5L1380.7 1283.8L1383.4 1299.1L1386.1 1298.6L1388.6 1300.8L1391.4 1300.0L1399.3 1295.3L1402.0 1301.3L1404.8 1299.1L1407.2 1293.5L1410.0 1273.4L1412.7 1275.0L1415.5 1281.6L1418.1 1281.4L1421.0 1299.7L1423.6 1293.5L1426.5 1281.1L1428.9 1295.9L1431.6 1302.4L1434.3 1303.5L1437.1 1299.1L1439.6 1295.9L1442.2 1301.9L1444.7 1304.1L1447.5 1302.4L1450.2 1300.8L1453.0 1302.4L1455.7 1310.6L1458.4 1311.2L1461.2 1315.6L1463.9 1317.2L1466.1 1312.8L1468.8 1312.3L1471.6 1306.8L1474.3 1316.7L1477.1 1322.7L1479.8 1315.0L1482.5 1300.2L1485.3 1305.7L1488.0 1315.6L1490.7 1311.7L1492.9 1311.0L1495.7 1313.4L1498.4 1327.1L1501.2 1327.4L1503.9 1318.9L1506.6 1312.8L1509.4 1315.6L1511.9 1323.2L1514.3 1320.0L1517.0 1316.7L1519.8 1316.1L1522.5 1313.4L1525.2 1310.1L1527.7 1312.3L1530.5 1318.3L1533.1 1315.0L1535.7 1310.1L1538.4 1316.7L1541.1 1318.9L1541.6 1318.9L1544.2 1311.7L1546.8 1305.5L1549.3 1299.7L1552.0 1302.4L1554.8 1310.1L1557.3 1306.3L1559.9 1307.4L1562.5 1312.8L1565.4 1312.3L1567.9 1311.7L1570.7 1313.4L1573.4 1305.2L1576.1 1309.0L1578.6 1301.3L1581.4 1303.5L1583.8 1303.5L1586.5 1309.2L1589.3 1304.6L1592.0 1293.7L1594.8 1286.5L1597.2 1280.5L1600.0 1278.6L1602.7 1291.5L1605.5 1299.7L1608.1 1308.5L1610.6 1297.0L1613.6 1302.4L1616.1 1304.6L1618.9 1294.2L1621.6 1287.6L1629.6 1281.9L1632.0 1295.3L1634.7 1293.7L1636.9 1290.4L1639.7 1290.9L1642.4 1293.1L1645.7 1290.9L1648.4 1301.9L1656.1 1299.7L1658.8 1288.2L1661.6 1289.8L1664.3 1288.7L1667.1 1286.5L1669.8 1299.1L1672.5 1302.4L1675.3 1294.2L1693.3 1310.6L1696.1 1308.5L1698.8 1307.4L1703.4 1306.7L1706.8 1306.1L1709.6 1300.2L1712.3 1307.4L1716.4 1295.8L1719.9 1294.1L1722.6 1296.8L1730.8 1293.4L1733.5 1294.8L1737.0 1304.3L1739.7 1305.0L1742.4 1299.6L1745.2 1300.2L1747.9 1301.6L1750.7 1298.9L1753.4 1298.2L1756.1 1299.6L1758.9 1300.2L1763.0 1298.9L1768.5 1297.2L1771.2 1305.4L1773.9 1299.9L1776.7 1297.2L1779.4 1295.1L1782.1 1294.8L1795.8 1296.1L1798.6 1297.5L1803.4 1298.5" fill="none" stroke="#e8262d" stroke-width="1.5" stroke-dasharray="3.3 1.9"/>
<g fill="#e8262d" stroke="#231f20" stroke-width="1"><circle cx="1177.0" cy="1317.6" r="3.55"/><circle cx="1179.7" cy="1316.5" r="3.55"/><circle cx="1182.5" cy="1319.3" r="3.55"/><circle cx="1185.4" cy="1323.1" r="3.55"/><circle cx="1190.7" cy="1325.3" r="3.55"/><circle cx="1193.4" cy="1326.4" r="3.55"/><circle cx="1212.0" cy="1293.3" r="3.55"/><circle cx="1214.8" cy="1311.6" r="3.55"/><circle cx="1217.5" cy="1317.6" r="3.55"/><circle cx="1220.0" cy="1299.0" r="3.55"/><circle cx="1223.3" cy="1299.6" r="3.55"/><circle cx="1225.7" cy="1308.3" r="3.55"/><circle cx="1228.1" cy="1313.8" r="3.55"/><circle cx="1230.6" cy="1318.5" r="3.55"/><circle cx="1233.2" cy="1311.1" r="3.55"/><circle cx="1236.1" cy="1311.3" r="3.55"/><circle cx="1238.9" cy="1312.7" r="3.55"/><circle cx="1241.6" cy="1307.8" r="3.55"/><circle cx="1244.3" cy="1308.9" r="3.55"/><circle cx="1247.1" cy="1311.1" r="3.55"/><circle cx="1252.0" cy="1314.3" r="3.55"/><circle cx="1254.7" cy="1326.9" r="3.55"/><circle cx="1257.5" cy="1322.6" r="3.55"/><circle cx="1260.2" cy="1311.9" r="3.55"/><circle cx="1263.0" cy="1317.6" r="3.55"/><circle cx="1265.7" cy="1321.5" r="3.55"/><circle cx="1268.4" cy="1325.8" r="3.55"/><circle cx="1271.2" cy="1327.5" r="3.55"/><circle cx="1273.4" cy="1321.5" r="3.55"/><circle cx="1276.1" cy="1314.6" r="3.55"/><circle cx="1278.8" cy="1308.6" r="3.55"/><circle cx="1281.8" cy="1317.1" r="3.55"/><circle cx="1284.3" cy="1320.9" r="3.55"/><circle cx="1287.1" cy="1322.6" r="3.55"/><circle cx="1289.8" cy="1323.1" r="3.55"/><circle cx="1292.5" cy="1319.8" r="3.55"/><circle cx="1295.3" cy="1320.9" r="3.55"/><circle cx="1297.8" cy="1316.5" r="3.55"/><circle cx="1300.7" cy="1317.6" r="3.55"/><circle cx="1302.9" cy="1322.6" r="3.55"/><circle cx="1305.7" cy="1327.5" r="3.55"/><circle cx="1308.4" cy="1326.4" r="3.55"/><circle cx="1311.2" cy="1318.2" r="3.55"/><circle cx="1313.9" cy="1322.6" r="3.55"/><circle cx="1316.6" cy="1310.5" r="3.55"/><circle cx="1319.4" cy="1303.4" r="3.55"/><circle cx="1321.9" cy="1305.6" r="3.55"/><circle cx="1324.3" cy="1308.3" r="3.55"/><circle cx="1327.4" cy="1307.2" r="3.55"/><circle cx="1330.9" cy="1299.0" r="3.55"/><circle cx="1332.8" cy="1302.8" r="3.55"/><circle cx="1335.2" cy="1307.2" r="3.55"/><circle cx="1337.4" cy="1318.7" r="3.55"/><circle cx="1340.5" cy="1319.8" r="3.55"/><circle cx="1343.1" cy="1320.4" r="3.55"/><circle cx="1345.7" cy="1322.0" r="3.55"/><circle cx="1348.4" cy="1317.1" r="3.55"/><circle cx="1351.1" cy="1312.1" r="3.55"/><circle cx="1354.2" cy="1305.7" r="3.55"/><circle cx="1356.8" cy="1307.9" r="3.55"/><circle cx="1359.3" cy="1315.0" r="3.55"/><circle cx="1362.0" cy="1308.5" r="3.55"/><circle cx="1364.8" cy="1293.7" r="3.55"/><circle cx="1367.3" cy="1299.1" r="3.55"/><circle cx="1369.9" cy="1304.6" r="3.55"/><circle cx="1372.5" cy="1298.1" r="3.55"/><circle cx="1375.2" cy="1287.1" r="3.55"/><circle cx="1377.9" cy="1286.5" r="3.55"/><circle cx="1380.7" cy="1283.8" r="3.55"/><circle cx="1383.4" cy="1299.1" r="3.55"/><circle cx="1386.1" cy="1298.6" r="3.55"/><circle cx="1388.6" cy="1300.8" r="3.55"/><circle cx="1391.4" cy="1300.0" r="3.55"/><circle cx="1399.3" cy="1295.3" r="3.55"/><circle cx="1402.0" cy="1301.3" r="3.55"/><circle cx="1404.8" cy="1299.1" r="3.55"/><circle cx="1407.2" cy="1293.5" r="3.55"/><circle cx="1410.0" cy="1273.4" r="3.55"/><circle cx="1412.7" cy="1275.0" r="3.55"/><circle cx="1415.5" cy="1281.6" r="3.55"/><circle cx="1418.1" cy="1281.4" r="3.55"/><circle cx="1421.0" cy="1299.7" r="3.55"/><circle cx="1423.6" cy="1293.5" r="3.55"/><circle cx="1426.5" cy="1281.1" r="3.55"/><circle cx="1428.9" cy="1295.9" r="3.55"/><circle cx="1431.6" cy="1302.4" r="3.55"/><circle cx="1434.3" cy="1303.5" r="3.55"/><circle cx="1437.1" cy="1299.1" r="3.55"/><circle cx="1439.6" cy="1295.9" r="3.55"/><circle cx="1442.2" cy="1301.9" r="3.55"/><circle cx="1444.7" cy="1304.1" r="3.55"/><circle cx="1447.5" cy="1302.4" r="3.55"/><circle cx="1450.2" cy="1300.8" r="3.55"/><circle cx="1453.0" cy="1302.4" r="3.55"/><circle cx="1455.7" cy="1310.6" r="3.55"/><circle cx="1458.4" cy="1311.2" r="3.55"/><circle cx="1461.2" cy="1315.6" r="3.55"/><circle cx="1463.9" cy="1317.2" r="3.55"/><circle cx="1466.1" cy="1312.8" r="3.55"/><circle cx="1468.8" cy="1312.3" r="3.55"/><circle cx="1471.6" cy="1306.8" r="3.55"/><circle cx="1474.3" cy="1316.7" r="3.55"/><circle cx="1477.1" cy="1322.7" r="3.55"/><circle cx="1479.8" cy="1315.0" r="3.55"/><circle cx="1482.5" cy="1300.2" r="3.55"/><circle cx="1485.3" cy="1305.7" r="3.55"/><circle cx="1488.0" cy="1315.6" r="3.55"/><circle cx="1490.7" cy="1311.7" r="3.55"/><circle cx="1492.9" cy="1311.0" r="3.55"/><circle cx="1495.7" cy="1313.4" r="3.55"/><circle cx="1498.4" cy="1327.1" r="3.55"/><circle cx="1501.2" cy="1327.4" r="3.55"/><circle cx="1503.9" cy="1318.9" r="3.55"/><circle cx="1506.6" cy="1312.8" r="3.55"/><circle cx="1509.4" cy="1315.6" r="3.55"/><circle cx="1511.9" cy="1323.2" r="3.55"/><circle cx="1514.3" cy="1320.0" r="3.55"/><circle cx="1517.0" cy="1316.7" r="3.55"/><circle cx="1519.8" cy="1316.1" r="3.55"/><circle cx="1522.5" cy="1313.4" r="3.55"/><circle cx="1525.2" cy="1310.1" r="3.55"/><circle cx="1527.7" cy="1312.3" r="3.55"/><circle cx="1530.5" cy="1318.3" r="3.55"/><circle cx="1533.1" cy="1315.0" r="3.55"/><circle cx="1535.7" cy="1310.1" r="3.55"/><circle cx="1538.4" cy="1316.7" r="3.55"/><circle cx="1541.1" cy="1318.9" r="3.55"/><circle cx="1541.6" cy="1318.9" r="3.55"/><circle cx="1544.2" cy="1311.7" r="3.55"/><circle cx="1546.8" cy="1305.5" r="3.55"/><circle cx="1549.3" cy="1299.7" r="3.55"/><circle cx="1552.0" cy="1302.4" r="3.55"/><circle cx="1554.8" cy="1310.1" r="3.55"/><circle cx="1557.3" cy="1306.3" r="3.55"/><circle cx="1559.9" cy="1307.4" r="3.55"/><circle cx="1562.5" cy="1312.8" r="3.55"/><circle cx="1565.4" cy="1312.3" r="3.55"/><circle cx="1567.9" cy="1311.7" r="3.55"/><circle cx="1570.7" cy="1313.4" r="3.55"/><circle cx="1573.4" cy="1305.2" r="3.55"/><circle cx="1576.1" cy="1309.0" r="3.55"/><circle cx="1578.6" cy="1301.3" r="3.55"/><circle cx="1581.4" cy="1303.5" r="3.55"/><circle cx="1583.8" cy="1303.5" r="3.55"/><circle cx="1586.5" cy="1309.2" r="3.55"/><circle cx="1589.3" cy="1304.6" r="3.55"/><circle cx="1592.0" cy="1293.7" r="3.55"/><circle cx="1594.8" cy="1286.5" r="3.55"/><circle cx="1597.2" cy="1280.5" r="3.55"/><circle cx="1600.0" cy="1278.6" r="3.55"/><circle cx="1602.7" cy="1291.5" r="3.55"/><circle cx="1605.5" cy="1299.7" r="3.55"/><circle cx="1608.1" cy="1308.5" r="3.55"/><circle cx="1610.6" cy="1297.0" r="3.55"/><circle cx="1613.6" cy="1302.4" r="3.55"/><circle cx="1616.1" cy="1304.6" r="3.55"/><circle cx="1618.9" cy="1294.2" r="3.55"/><circle cx="1621.6" cy="1287.6" r="3.55"/><circle cx="1629.6" cy="1281.9" r="3.55"/><circle cx="1632.0" cy="1295.3" r="3.55"/><circle cx="1634.7" cy="1293.7" r="3.55"/><circle cx="1636.9" cy="1290.4" r="3.55"/><circle cx="1639.7" cy="1290.9" r="3.55"/><circle cx="1642.4" cy="1293.1" r="3.55"/><circle cx="1645.7" cy="1290.9" r="3.55"/><circle cx="1648.4" cy="1301.9" r="3.55"/><circle cx="1656.1" cy="1299.7" r="3.55"/><circle cx="1658.8" cy="1288.2" r="3.55"/><circle cx="1661.6" cy="1289.8" r="3.55"/><circle cx="1664.3" cy="1288.7" r="3.55"/><circle cx="1667.1" cy="1286.5" r="3.55"/><circle cx="1669.8" cy="1299.1" r="3.55"/><circle cx="1672.5" cy="1302.4" r="3.55"/><circle cx="1675.3" cy="1294.2" r="3.55"/><circle cx="1693.3" cy="1310.6" r="3.55"/><circle cx="1696.1" cy="1308.5" r="3.55"/><circle cx="1698.8" cy="1307.4" r="3.55"/><circle cx="1703.4" cy="1306.7" r="3.55"/><circle cx="1706.8" cy="1306.1" r="3.55"/><circle cx="1709.6" cy="1300.2" r="3.55"/><circle cx="1712.3" cy="1307.4" r="3.55"/><circle cx="1716.4" cy="1295.8" r="3.55"/><circle cx="1719.9" cy="1294.1" r="3.55"/><circle cx="1722.6" cy="1296.8" r="3.55"/><circle cx="1730.8" cy="1293.4" r="3.55"/><circle cx="1733.5" cy="1294.8" r="3.55"/><circle cx="1737.0" cy="1304.3" r="3.55"/><circle cx="1739.7" cy="1305.0" r="3.55"/><circle cx="1742.4" cy="1299.6" r="3.55"/><circle cx="1745.2" cy="1300.2" r="3.55"/><circle cx="1747.9" cy="1301.6" r="3.55"/><circle cx="1750.7" cy="1298.9" r="3.55"/><circle cx="1753.4" cy="1298.2" r="3.55"/><circle cx="1756.1" cy="1299.6" r="3.55"/><circle cx="1758.9" cy="1300.2" r="3.55"/><circle cx="1763.0" cy="1298.9" r="3.55"/><circle cx="1768.5" cy="1297.2" r="3.55"/><circle cx="1771.2" cy="1305.4" r="3.55"/><circle cx="1773.9" cy="1299.9" r="3.55"/><circle cx="1776.7" cy="1297.2" r="3.55"/><circle cx="1779.4" cy="1295.1" r="3.55"/><circle cx="1782.1" cy="1294.8" r="3.55"/><circle cx="1795.8" cy="1296.1" r="3.55"/><circle cx="1798.6" cy="1297.5" r="3.55"/><circle cx="1803.4" cy="1298.5" r="3.55"/></g></svg>
</body></html>
